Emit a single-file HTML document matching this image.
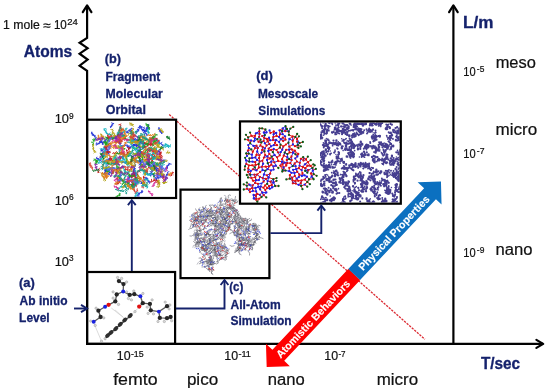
<!DOCTYPE html>
<html><head><meta charset="utf-8"><title>Multiscale simulation diagram</title>
<style>
html,body{margin:0;padding:0;background:#fff;}
body{width:550px;height:390px;overflow:hidden;font-family:"Liberation Sans",sans-serif;}
svg{display:block;font-family:"Liberation Sans",sans-serif;}
</style></head><body>
<svg width="550" height="390" viewBox="0 0 550 390">
<defs>
<clipPath id="clipb"><rect x="88.6" y="121.1" width="86.8" height="75.8"/></clipPath>
<clipPath id="clipd2"><rect x="320" y="122.5" width="79.7" height="80.1"/></clipPath>
</defs>
<rect width="550" height="390" fill="#fff"/>
<g opacity="0.999">
<line x1="169.2" y1="114.4" x2="425" y2="339.3" stroke="#dc2c34" stroke-width="1.3" stroke-dasharray="2.3 1.1"/>
<g fill="none" stroke="#000" stroke-width="2.2" stroke-linejoin="miter">
<path d="M87.1 344 V70.8 L79.6 65.6 L87.6 59.5 L79.6 53.7 L87.6 48.2 L79.6 42.7 L87.1 38 V6"/>
<path d="M82.8 12.2 L87.1 5.4 L91.4 12.2" stroke-width="2.2" stroke-linecap="round" stroke-linejoin="round"/>
<path d="M86 343.9 H543"/>
<path d="M536.4 339.9 L543.2 343.9 L536.4 347.9" stroke-width="2.2" stroke-linecap="round" stroke-linejoin="round"/>
<path d="M453.4 343.9 V6"/>
<path d="M449.1 12.2 L453.4 5.4 L457.7 12.2" stroke-width="2.2" stroke-linecap="round" stroke-linejoin="round"/>
</g>
<g clip-path="url(#clipb)"><g fill="none" stroke-width="0.9"><path d="M118.2 137.0L116.4 136.4L115.7 138.3L113.8 137.5L113.7 139.0L112.4 138.5L112.7 140.1M116.4 136.4l0.4 1.4M113.8 137.5l-1.0 -1.1M112.4 138.5l1.5 0.1M158.4 163.2L159.8 163.6L159.5 162.2L161.3 162.9L160.8 161.1L162.1 162.1L162.5 160.3L163.7 161.7L163.6 159.7L164.7 161.2L165.0 159.3M159.8 163.6l1.3 0.7M161.3 162.9l-1.4 0.5M162.1 162.1l-1.4 -0.5M163.7 161.7l0.2 -1.5M164.7 161.2l-1.5 0.1M149.9 167.2L150.4 169.1L151.6 168.2L152.6 169.4L153.5 168.2L154.2 169.5L155.3 168.3L156.3 169.7L156.9 168.2L158.6 169.1M150.4 169.1l1.2 0.8M152.6 169.4l0.4 -1.4M154.2 169.5l-0.7 1.3M156.3 169.7l1.3 0.8M164.5 179.6L166.3 179.6L165.1 178.5L166.7 177.4L165.4 176.1L167.1 175.5L166.3 174.2L168.0 174.0L167.4 172.2L169.3 171.6M166.3 179.6l-0.5 -1.4M166.7 177.4l-1.5 0.1M167.1 175.5l0.1 -1.5M168.0 174.0l-0.7 1.3M128.0 177.3L129.6 178.0L129.9 176.3L131.3 176.7L131.6 174.8L133.0 175.5L133.6 174.1L135.0 175.1L134.7 173.6L136.3 174.0L135.9 172.2M129.6 178.0l1.1 -1.0M131.3 176.7l0.4 1.4M133.0 175.5l0.9 -1.2M135.0 175.1l-0.5 -1.4M136.3 174.0l1.4 0.5M162.4 146.1L163.2 144.8L161.3 144.7L161.1 142.9L159.6 144.1L159.5 142.3L158.1 142.4L158.3 140.6L156.8 141.1L157.2 139.5L155.6 140.2M163.2 144.8l-0.5 1.4M161.1 142.9l1.3 -0.7M159.5 142.3l-0.7 -1.3M158.3 140.6l-0.3 1.5M157.2 139.5l-1.0 -1.2M155.8 171.8L157.3 171.0L155.6 170.1L157.3 169.4L155.6 168.6L156.8 167.2L155.1 166.5L156.3 165.3M157.3 171.0l-1.2 -0.9M157.3 169.4l-0.1 1.5M156.8 167.2l0.4 1.4M104.1 151.9L103.1 153.4L104.9 154.1L103.2 155.0L104.5 155.6L102.8 155.9L103.9 156.7L102.4 157.3M103.1 153.4l-0.8 -1.2M103.2 155.0l0.6 -1.4M102.8 155.9l-1.0 1.1M149.6 183.8L150.0 182.1L148.3 182.2L148.8 180.7L147.2 180.8L147.9 178.9L146.4 179.5L146.6 177.8L144.8 178.0L145.6 176.8M150.0 182.1l-0.6 -1.4M148.8 180.7l-1.4 0.4M147.9 178.9l-0.8 -1.3M146.6 177.8l-1.3 0.7M154.7 168.2L152.7 168.5L154.0 169.6L152.1 170.2L152.8 171.7L150.9 172.0L152.1 173.2L150.3 173.6L151.4 174.6L150.0 175.5L151.2 176.6M152.7 168.5l0.8 -1.3M152.1 170.2l-0.9 1.2M150.9 172.0l-1.3 -0.8M150.3 173.6l-1.5 0.2M150.0 175.5l1.5 -0.2M131.3 144.6L133.2 145.2L133.9 143.9L134.6 145.5L135.5 143.8L137.1 144.8M133.2 145.2l0.7 -1.3M134.6 145.5l-1.3 0.8M115.9 137.5L115.6 139.1L117.5 138.5L117.5 140.2L119.5 139.9L119.2 141.3L120.6 141.8L120.1 143.4L121.6 143.2M115.6 139.1l0.5 -1.4M117.5 140.2l-0.6 1.4M119.2 141.3l1.4 0.4M120.1 143.4l0.1 1.5M103.3 139.6L101.6 139.8L101.8 141.4L100.3 141.3L101.0 142.7L99.5 142.0L99.8 143.7L98.0 143.0L97.9 144.5L96.2 143.7L96.3 145.6M101.6 139.8l-0.4 -1.5M100.3 141.3l0.5 -1.4M99.5 142.0l0.5 -1.4M98.0 143.0l0.7 1.3M96.2 143.7l0.6 -1.4M151.9 151.2L151.0 149.6L149.6 151.0L149.8 149.5L148.5 150.5L147.8 148.8L147.1 150.4L146.5 148.9M151.0 149.6l-1.2 0.9M149.8 149.5l0.0 -1.5M147.8 148.8l1.5 0.0M109.7 175.1L109.1 173.5L107.9 174.6L106.7 173.1L105.4 174.3L105.1 172.8L103.9 174.3M109.1 173.5l-1.3 0.8M106.7 173.1l-1.2 0.9M105.1 172.8l1.1 -1.0M142.6 181.6L142.4 183.1L143.6 182.3L143.1 183.8L144.6 183.4L143.8 184.9M142.4 183.1l-1.4 0.5M143.1 183.8l0.6 -1.4M155.6 180.7L156.5 179.1L154.8 178.5L155.8 177.5L154.3 177.0L154.9 175.2L153.2 175.8L153.5 174.0L152.0 174.7L151.7 173.0M156.5 179.1l-0.0 1.5M155.8 177.5l1.1 1.0M154.9 175.2l-1.0 1.2M153.5 174.0l-1.2 -0.9M136.4 179.1L136.4 180.5L137.7 179.6L138.4 181.0L140.1 180.1L139.8 181.5L141.5 181.7L141.7 183.3L142.8 182.0L142.2 183.8L144.0 183.4M136.4 180.5l0.8 1.3M138.4 181.0l-1.5 -0.3M139.8 181.5l-1.3 0.8M141.7 183.3l-1.5 -0.1M142.2 183.8l-0.3 -1.5M123.0 160.8L123.0 162.4L124.4 161.7L124.8 163.1L125.9 161.9L126.8 163.3L128.3 162.1L128.5 163.8L130.3 163.1M123.0 162.4l-1.5 0.1M124.8 163.1l1.3 0.8M126.8 163.3l1.2 0.9M128.5 163.8l1.5 -0.3M144.8 127.0L143.4 127.8L144.8 128.5L143.5 129.9L145.0 130.6L144.0 132.2L145.3 131.8L144.9 133.3L146.7 133.5L146.6 135.2L148.1 134.7M143.4 127.8l-0.9 -1.2M143.5 129.9l1.2 0.9M144.0 132.2l-1.1 1.0M144.9 133.3l-0.2 1.5M146.6 135.2l-1.2 1.0M141.0 126.1L139.1 126.2L140.7 127.4L139.0 127.1L140.0 128.6L138.4 129.3L138.9 131.1L137.2 131.0L137.1 132.6L135.7 131.4M139.1 126.2l1.5 -0.4M139.0 127.1l-1.3 0.8M138.4 129.3l-1.5 0.4M137.2 131.0l1.4 -0.6M136.1 164.6L134.5 165.1L135.4 166.5L134.1 167.4L135.5 168.5L133.7 168.6L135.1 169.9L133.2 170.0L134.8 170.9L133.2 172.1L134.6 173.4M134.5 165.1l1.4 0.6M134.1 167.4l-0.7 -1.3M133.7 168.6l-0.1 1.5M133.2 170.0l0.3 1.5M133.2 172.1l-0.5 1.4M103.5 173.6L105.4 173.2L104.4 172.1L105.8 171.9L104.8 170.9L106.6 170.1L105.3 168.6L106.7 168.5L105.7 166.9L106.9 165.9M105.4 173.2l-0.8 1.2M105.8 171.9l0.8 -1.2M106.6 170.1l-1.5 -0.1M106.7 168.5l-1.5 0.3M135.1 181.5L136.6 180.4L135.2 179.9L136.3 178.8L134.6 178.2L136.4 177.4L135.3 176.4L136.5 175.6L134.9 175.1M136.6 180.4l-0.1 1.5M136.3 178.8l0.2 -1.5M136.4 177.4l-1.4 0.5M136.5 175.6l0.9 1.2M123.4 159.6L123.5 157.7L122.1 158.6L122.3 157.0L120.6 157.3L120.9 156.0M123.5 157.7l-1.5 0.2M122.3 157.0l1.4 -0.5M163.3 174.6L162.0 173.8L162.8 175.5L161.0 175.2L161.5 176.6L160.0 176.5L160.2 178.1L158.3 177.4L158.4 178.9L157.0 177.6L156.3 179.5M162.0 173.8l-1.4 0.5M161.0 175.2l-1.0 -1.1M160.0 176.5l0.4 -1.5M158.3 177.4l-1.3 -0.8M157.0 177.6l1.4 -0.5M134.5 175.8L135.9 174.5L134.2 174.4L135.2 172.9L133.7 172.9L133.8 171.5L132.5 172.0L133.4 170.9M135.9 174.5l-1.0 1.2M135.2 172.9l-0.5 1.4M133.8 171.5l1.4 0.6M143.7 163.6L142.4 162.1L141.8 163.4L141.3 161.5L140.1 162.3L139.2 160.8L138.3 161.9L137.9 160.5L137.1 161.9L136.8 160.5M142.4 162.1l0.2 -1.5M141.3 161.5l-0.1 -1.5M139.2 160.8l-0.8 1.3M137.9 160.5l-1.5 0.1M130.8 134.3L132.2 134.8L132.0 132.9L133.0 133.9L132.9 132.3L134.3 132.1M132.2 134.8l0.4 1.5M133.0 133.9l-0.6 1.4M139.3 142.4L139.3 140.6L138.3 142.0L137.2 140.8L136.3 142.1L136.5 140.2L135.0 141.5L134.8 139.7L133.5 140.9L133.3 139.1L132.2 140.4M139.3 140.6l0.9 -1.2M137.2 140.8l1.1 -1.0M136.5 140.2l1.4 -0.4M134.8 139.7l1.4 0.6M133.3 139.1l-1.2 -0.9M128.9 146.7L129.4 148.6L129.6 147.1L131.0 147.9L130.6 146.3L132.2 146.8L132.1 145.0L133.4 146.2L133.7 144.5L135.5 145.5M129.4 148.6l-1.5 0.1M131.0 147.9l-1.5 0.3M132.2 146.8l1.5 -0.3M133.4 146.2l0.9 1.2M159.8 151.7L158.6 150.5L157.7 152.2L156.7 150.9L155.6 152.2L154.9 150.8M158.6 150.5l-0.1 1.5M156.7 150.9l1.3 0.7M118.3 146.2L119.8 147.2L120.1 145.8L121.4 146.7L122.1 145.3L122.8 146.8L123.2 145.3L124.8 145.9M119.8 147.2l0.2 1.5M121.4 146.7l1.4 0.6M122.8 146.8l-1.2 -0.9M101.9 142.3L103.0 143.5L103.0 141.8L104.9 142.0L104.3 140.3L106.1 140.9L105.3 139.2L107.3 139.3L106.9 137.5L108.6 138.2L109.2 136.5M103.0 143.5l-0.8 1.3M104.9 142.0l0.9 1.2M106.1 140.9l-1.0 1.1M107.3 139.3l-0.0 -1.5M108.6 138.2l-0.7 -1.3M123.1 133.6L121.8 132.6L121.5 134.5L119.7 133.7L120.1 135.4L118.4 134.7L119.1 136.0L117.6 135.0L117.8 136.4M121.8 132.6l1.0 -1.1M119.7 133.7l-1.3 0.8M118.4 134.7l-0.1 -1.5M117.6 135.0l-0.5 -1.4M103.9 162.4L103.0 160.9L101.3 161.7L100.7 160.0L99.4 160.9L99.2 158.9L97.8 160.0L97.9 158.5L96.2 158.3L97.1 156.8M103.0 160.9l1.4 0.6M100.7 160.0l-1.5 0.3M99.2 158.9l-1.4 -0.5M97.9 158.5l-1.5 0.3M114.1 123.6L112.6 123.3L112.8 125.2L111.2 125.1L111.8 126.7L110.3 126.7L110.8 128.1M112.6 123.3l-1.4 -0.6M111.2 125.1l1.5 -0.3M110.3 126.7l1.4 -0.4M106.4 166.0L107.6 165.1L106.5 164.1L107.7 162.7L106.2 162.2L107.0 161.0L105.1 160.5L106.5 159.2M107.6 165.1l1.2 -0.9M107.7 162.7l-1.5 0.0M107.0 161.0l1.1 -1.0M145.6 144.9L143.9 145.2L144.8 146.8L143.3 146.7L144.1 147.9L142.6 147.6M143.9 145.2l0.1 1.5M143.3 146.7l0.3 1.5M130.2 175.2L128.8 175.8L129.6 177.0L128.3 177.8L129.6 179.0L127.6 179.4L128.9 180.6L127.3 181.2L129.0 181.4L127.6 182.4L129.1 183.5M128.8 175.8l-1.4 0.6M128.3 177.8l-0.1 -1.5M127.6 179.4l1.2 -0.9M127.3 181.2l-1.4 0.4M127.6 182.4l-0.4 -1.4M161.9 134.0L162.0 132.5L160.3 132.4L161.1 131.1L159.2 131.2L160.1 129.9L158.3 129.3L159.6 128.0L158.0 127.8M162.0 132.5l-0.6 1.4M161.1 131.1l-1.5 -0.1M160.1 129.9l0.9 1.2M159.6 128.0l-1.2 0.9M145.5 144.7L145.3 143.2L143.7 144.0L144.2 142.2L142.6 143.1L142.8 141.4L141.7 142.3L141.1 141.0M145.3 143.2l1.4 0.6M144.2 142.2l-0.9 1.2M142.8 141.4l0.2 -1.5M140.7 153.2L141.4 151.3L140.1 150.5L141.4 149.1L140.0 148.7L140.7 147.4L139.0 148.4L139.7 146.6L138.3 147.3L138.9 145.9M141.4 151.3l1.0 1.1M141.4 149.1l-0.9 1.2M140.7 147.4l-1.0 -1.1M139.7 146.6l-0.9 1.2M106.3 147.8L105.7 149.4L107.6 149.1L106.8 150.4L108.4 150.6L107.3 151.5L109.0 152.1L108.0 153.6L109.6 153.8M105.7 149.4l-0.1 1.5M106.8 150.4l0.8 1.2M107.3 151.5l0.4 1.5M108.0 153.6l1.2 0.9M150.1 128.4L148.5 127.5L148.1 129.1L146.7 128.6L147.6 130.1L146.2 129.9L146.8 131.6L145.2 131.8M148.5 127.5l-0.2 1.5M146.7 128.6l-1.2 0.9M146.2 129.9l0.4 1.5M103.8 169.5L105.0 170.5L106.1 169.6L106.3 171.0L107.7 170.6L107.4 172.3L109.0 171.4L109.4 173.2L110.4 171.9L111.2 173.4M105.0 170.5l0.7 1.3M106.3 171.0l-1.5 0.1M107.4 172.3l0.7 1.3M109.4 173.2l0.2 -1.5M131.5 138.2L132.5 139.5L133.9 138.3L134.5 139.6L135.7 138.5L136.1 139.9L137.7 139.3L137.3 141.0L138.8 141.3L138.3 142.7M132.5 139.5l1.5 -0.2M134.5 139.6l0.6 -1.4M136.1 139.9l-0.6 1.4M137.3 141.0l-0.8 1.3M91.8 131.6L91.3 133.3L92.6 132.8L92.1 134.3L93.6 134.2L93.3 135.7L95.1 135.2L94.6 137.1L96.4 137.3L95.4 138.7L97.3 139.2M91.3 133.3l1.2 1.0M92.1 134.3l0.3 1.5M93.3 135.7l-0.1 -1.5M94.6 137.1l0.6 -1.4M95.4 138.7l-0.2 1.5M106.2 159.8L107.7 160.5L107.9 158.7L109.2 159.3L109.5 157.8L110.3 159.0M107.7 160.5l0.8 -1.3M109.2 159.3l1.3 0.8M101.1 140.9L100.8 142.5L102.2 141.4L101.9 142.8L103.3 142.4L102.0 143.8L103.6 144.6M100.8 142.5l0.7 -1.3M101.9 142.8l-1.2 -0.9M102.0 143.8l1.1 -1.0M136.7 195.9L138.1 196.0L137.5 194.7L139.0 194.8L138.2 193.0L139.6 194.0L139.8 192.5L141.6 192.8L141.4 190.9L142.7 191.5L141.8 190.0M138.1 196.0l1.5 0.0M139.0 194.8l0.6 -1.4M139.6 194.0l-0.8 -1.3M141.6 192.8l1.2 -0.9M142.7 191.5l-0.8 1.3M140.9 158.6L139.5 159.9L141.0 161.1L139.6 162.3L141.0 163.4L139.5 164.0L141.3 164.6L140.9 166.0L142.2 165.4M139.5 159.9l-0.7 1.3M139.6 162.3l1.4 -0.5M139.5 164.0l-0.5 1.4M140.9 166.0l-1.4 0.6M148.1 154.4L146.7 155.1L148.2 155.4L147.3 156.5L149.1 156.4L148.0 158.0L149.6 157.4L149.5 158.9L150.9 158.1M146.7 155.1l-0.0 1.5M147.3 156.5l-0.3 -1.5M148.0 158.0l-1.5 0.3M149.5 158.9l1.5 0.4M148.8 165.7L149.4 167.1L150.1 165.5L151.2 166.8L151.9 165.5L152.7 166.8L153.8 165.7L154.2 167.4L155.1 166.2L155.6 167.5M149.4 167.1l0.8 -1.2M151.2 166.8l-1.4 0.6M152.7 166.8l1.5 -0.3M154.2 167.4l-1.0 1.1M135.8 158.3L134.7 159.2L136.4 160.2L135.2 161.5L136.6 162.2L135.1 162.9M134.7 159.2l0.3 1.5M135.2 161.5l-0.9 1.2M114.4 169.6L116.3 169.9L115.7 168.5L117.2 169.5L117.6 167.7L118.6 169.0L119.3 167.6M116.3 169.9l0.6 1.4M117.2 169.5l-0.4 1.4M118.6 169.0l-0.8 1.2M108.0 146.9L106.0 147.0L106.0 148.9L104.2 148.2L104.0 150.1L102.2 149.7L102.2 151.5L101.2 149.9L100.8 151.5M106.0 147.0l1.4 0.4M104.2 148.2l1.4 -0.6M102.2 149.7l-0.4 1.5M101.2 149.9l0.1 -1.5M143.0 145.3L143.3 143.5L141.8 144.2L142.2 142.8L140.4 143.3L140.5 141.8L138.8 142.0M143.3 143.5l0.1 1.5M142.2 142.8l0.3 -1.5M140.5 141.8l1.2 1.0M145.8 131.8L145.3 130.5L143.9 131.7L144.0 130.2L142.3 131.1L142.9 129.4L141.3 129.8L141.9 128.1L140.4 128.0L141.7 127.3L140.3 126.3M145.3 130.5l1.4 -0.4M144.0 130.2l-0.8 -1.3M142.9 129.4l0.9 1.2M141.9 128.1l-0.1 -1.5M141.7 127.3l-0.8 -1.3M125.5 132.8L127.0 132.7L126.6 131.2L127.9 131.9L128.3 130.1L129.6 131.0L129.6 129.4L131.0 130.1L131.0 128.2L132.5 128.6M127.0 132.7l1.5 -0.3M127.9 131.9l0.5 1.4M129.6 131.0l1.1 -1.0M131.0 130.1l0.7 1.3M129.2 148.2L129.0 146.7L127.6 147.2L128.1 145.8L126.9 146.6L126.8 144.7L125.6 145.9L125.3 144.3M129.0 146.7l0.1 -1.5M128.1 145.8l-0.6 1.4M126.8 144.7l1.2 0.9M136.8 148.8L137.2 150.3L138.4 149.4L138.3 151.1L139.7 150.1L139.1 151.7L140.6 151.4L140.6 152.8L141.8 152.0M137.2 150.3l1.1 1.1M138.3 151.1l1.3 0.8M139.1 151.7l1.4 -0.6M140.6 152.8l-1.1 1.0M135.6 146.5L137.0 146.7L136.4 145.3L138.0 145.2L137.6 143.7L138.9 144.5L139.5 142.6M137.0 146.7l-0.9 -1.2M138.0 145.2l0.3 -1.5M138.9 144.5l-1.2 0.9M145.8 128.9L147.4 128.9L146.3 127.5L148.2 127.6L147.5 126.2L148.9 125.7L147.4 125.0L149.3 124.3M147.4 128.9l-0.9 1.2M148.2 127.6l-0.3 -1.5M148.9 125.7l-0.5 1.4M164.6 168.4L166.4 169.2L165.9 167.5L167.3 167.9L166.0 166.8L167.8 167.0L166.8 165.5L168.7 165.6L168.2 163.9L170.1 164.0L168.9 162.8M166.4 169.2l1.3 -0.7M167.3 167.9l-1.5 -0.0M167.8 167.0l-0.9 1.2M168.7 165.6l0.5 -1.4M170.1 164.0l1.5 0.2M162.1 167.7L160.6 167.2L160.7 168.7L159.3 167.3L158.8 168.9L157.3 168.2M160.6 167.2l-1.5 0.1M159.3 167.3l0.2 -1.5M125.3 180.6L125.8 182.5L127.5 181.9L127.2 183.6L129.1 183.3L129.3 185.2L130.9 184.2L131.4 185.9L132.8 184.9L133.1 186.3M125.8 182.5l-1.5 -0.2M127.2 183.6l0.4 1.4M129.3 185.2l0.6 1.4M131.4 185.9l1.5 -0.2M140.2 146.9L139.7 145.6L138.8 146.9L137.9 145.1L136.7 146.6L136.0 145.0L134.2 145.7L134.8 144.0M139.7 145.6l-1.4 0.6M137.9 145.1l0.9 -1.2M136.0 145.0l0.3 -1.5" stroke="#2233d6"/><path d="M162.7 180.4L163.9 179.6L162.6 178.2L164.5 177.9L162.8 177.0L164.2 176.1L162.3 176.2L162.6 174.6L161.1 174.5L161.6 173.1M163.9 179.6l0.7 1.3M164.5 177.9l-1.4 -0.5M164.2 176.1l-1.4 0.5M162.6 174.6l0.5 1.4M140.2 139.1L139.5 140.3L141.1 139.6L141.4 141.0L143.2 140.7L142.7 142.1M139.5 140.3l0.3 -1.5M141.4 141.0l-1.5 -0.4M120.6 154.1L119.8 152.7L118.3 154.0L117.4 152.4L116.3 153.8L115.2 152.6L114.5 154.0L113.5 152.6L112.4 153.9M119.8 152.7l0.5 1.4M117.4 152.4l-1.1 -1.0M115.2 152.6l1.3 -0.7M113.5 152.6l1.0 1.1M143.3 186.1L144.3 184.9L142.6 184.7L144.0 183.6L142.7 183.1L144.4 182.5L142.9 181.7L144.1 180.5M144.3 184.9l1.0 1.1M144.0 183.6l1.3 -0.8M144.4 182.5l-1.0 -1.1M121.3 123.8L120.0 124.6L121.2 126.1L119.9 126.9L121.1 127.7L119.8 128.5L121.1 129.8M120.0 124.6l-1.5 0.2M119.9 126.9l0.4 1.5M119.8 128.5l-0.8 1.2M148.7 138.9L149.6 140.1L150.9 138.7L151.7 140.1L152.6 138.8L153.7 139.6L154.7 138.0L155.8 139.3L156.8 137.9L157.5 139.4M149.6 140.1l-1.5 0.1M151.7 140.1l0.5 -1.4M153.7 139.6l1.3 0.7M155.8 139.3l-1.1 -1.0M133.8 157.0L132.5 158.0L134.0 158.4L132.3 158.7L133.4 160.3L131.4 160.6L132.2 161.8L130.7 161.5L131.8 163.1L130.1 162.5L131.4 163.9M132.5 158.0l1.2 -0.8M132.3 158.7l-1.4 0.5M131.4 160.6l0.0 1.5M130.7 161.5l-1.3 0.7M130.1 162.5l1.1 -1.1M155.2 152.2L156.6 151.7L155.1 151.0L156.2 149.5L154.8 149.4L155.5 148.2L153.9 147.8L154.7 146.4M156.6 151.7l1.5 0.2M156.2 149.5l-0.9 1.2M155.5 148.2l1.2 -0.9M126.0 138.6L124.5 137.3L124.7 138.8L122.9 138.8L122.9 140.2L121.0 139.8L121.8 141.4L120.1 141.4L121.2 142.4L119.8 143.4M124.5 137.3l1.5 -0.2M122.9 138.8l1.5 0.0M121.0 139.8l-1.4 -0.4M120.1 141.4l0.9 -1.2M155.1 169.2L154.5 167.9L153.2 168.4L152.8 166.4L151.9 167.8L151.4 166.3L150.9 168.0L149.5 166.5L148.8 168.0L148.7 166.5M154.5 167.9l0.7 1.3M152.8 166.4l1.1 1.0M151.4 166.3l1.3 0.7M149.5 166.5l-0.9 1.2M112.6 140.3L112.6 138.7L111.1 139.2L110.7 137.4L109.5 138.6L108.8 137.3L107.7 138.5M112.6 138.7l-0.0 -1.5M110.7 137.4l-1.5 0.1M108.8 137.3l1.5 0.1M124.1 169.1L125.3 170.4L126.0 168.7L127.1 170.2L128.1 168.6L129.4 170.0L130.7 168.6L131.4 170.1L132.1 168.8M125.3 170.4l-0.1 -1.5M127.1 170.2l1.4 0.7M129.4 170.0l1.1 1.0M131.4 170.1l0.8 -1.3M134.5 180.2L135.8 178.7L134.7 177.7L135.9 177.0L134.3 176.6L134.9 175.2L133.2 175.0L134.2 173.7L132.6 174.2L133.2 172.7M135.8 178.7l0.0 1.5M135.9 177.0l0.8 1.2M134.9 175.2l1.5 -0.1M134.2 173.7l1.0 -1.2M144.0 175.6L143.1 177.0L144.6 177.4L143.2 178.0L144.6 179.0L143.6 180.2L145.2 180.2L144.8 181.9M143.1 177.0l0.8 1.3M143.2 178.0l1.0 -1.2M143.6 180.2l0.9 -1.2M119.0 159.4L120.6 158.9L119.9 157.6L121.2 158.2L121.2 156.8L123.0 156.9L122.7 155.4L124.4 155.9L124.2 154.5L125.8 154.2M120.6 158.9l-1.0 1.1M121.2 158.2l-1.5 0.3M123.0 156.9l-1.1 -1.1M124.4 155.9l-0.6 1.4M147.3 154.9L148.1 153.7L146.6 152.6L148.3 152.1L147.1 151.2L148.9 150.5M148.1 153.7l1.3 -0.7M148.3 152.1l1.3 -0.8M112.3 162.8L112.8 161.3L111.3 161.3L112.2 159.8L110.3 159.1L111.5 158.2L109.6 158.1L110.8 157.0L109.4 156.6M112.8 161.3l-0.8 -1.3M112.2 159.8l0.9 1.2M111.5 158.2l-0.6 1.4M110.8 157.0l1.0 -1.1M154.3 151.0L153.1 152.3L154.8 153.3L153.5 154.5L154.9 155.6L153.5 156.3L154.5 157.3L152.7 157.8L153.9 159.1L152.3 159.2M153.1 152.3l0.1 -1.5M153.5 154.5l-1.5 0.1M153.5 156.3l-1.5 -0.3M152.7 157.8l-1.1 1.0M159.5 160.8L160.9 160.2L159.4 159.4L160.9 158.9L160.1 157.5L161.9 157.2L160.3 156.6L161.8 155.5L160.1 154.7L161.0 153.1L159.0 153.0M160.9 160.2l-1.4 -0.6M160.9 158.9l1.2 0.9M161.9 157.2l0.2 1.5M161.8 155.5l0.9 1.2M161.0 153.1l-0.9 -1.2M136.8 171.7L138.2 172.2L138.1 170.5L139.5 171.4L139.4 169.7L141.0 170.6M138.2 172.2l-1.4 -0.6M139.5 171.4l0.9 1.2M157.3 157.1L156.3 155.7L155.4 157.2L153.8 156.5L153.7 158.4L152.3 158.0L152.0 159.9L150.7 158.8M156.3 155.7l0.8 -1.3M153.8 156.5l0.7 -1.3M152.3 158.0l0.5 -1.4M119.6 161.9L118.4 160.9L117.4 162.4L115.9 161.6L115.5 163.0L114.3 161.8M118.4 160.9l1.4 -0.4M115.9 161.6l-1.4 0.5M104.5 145.8L104.0 147.4L105.6 147.3L105.5 149.0L107.3 148.7L107.6 150.6M104.0 147.4l1.4 -0.5M105.5 149.0l1.5 0.1M133.8 134.1L133.2 132.3L132.1 133.2L131.6 131.6L130.4 132.5L130.1 130.8M133.2 132.3l0.0 1.5M131.6 131.6l-0.1 -1.5M151.1 145.7L151.0 144.3L150.3 145.9L149.8 144.0L148.4 144.7L148.2 143.1L146.7 144.3L145.6 142.8L144.7 143.9L144.2 142.4M151.0 144.3l1.5 0.1M149.8 144.0l1.2 -0.9M148.2 143.1l0.1 1.5M145.6 142.8l-1.4 -0.4M134.3 191.5L134.9 190.0L133.0 189.8L134.2 188.6L132.4 187.7L133.8 187.0L132.2 186.3L133.7 185.9M134.9 190.0l-1.5 -0.2M134.2 188.6l-1.2 0.8M133.8 187.0l1.1 1.0M117.3 177.4L116.3 178.7L118.0 178.8L117.4 180.1L118.9 181.2L117.2 182.3L118.3 183.7L116.3 183.8L117.4 185.1M116.3 178.7l1.5 0.1M117.4 180.1l1.4 -0.6M117.2 182.3l0.9 -1.2M116.3 183.8l-1.5 0.0M108.2 152.2L106.7 152.5L108.0 153.0L106.1 153.4L107.1 154.4L105.9 155.5M106.7 152.5l1.3 -0.7M106.1 153.4l0.4 1.4M160.9 169.8L162.2 168.7L160.5 168.6L161.7 167.1L160.3 167.3L160.5 165.4M162.2 168.7l0.2 1.5M161.7 167.1l0.4 -1.4M136.5 173.0L135.2 171.8L135.1 173.5L133.2 173.5L134.1 175.1L132.1 175.3L132.6 176.9L131.0 176.2L131.8 177.9M135.2 171.8l-0.1 1.5M133.2 173.5l1.0 1.1M132.1 175.3l0.5 -1.4M131.0 176.2l1.2 -0.9M149.1 143.8L147.8 144.4L148.3 146.1L147.0 145.7L147.0 147.3L145.4 146.2L145.0 148.0L143.7 147.0L142.8 148.5L141.6 147.5M147.8 144.4l-1.5 0.3M147.0 145.7l1.4 -0.5M145.4 146.2l-0.2 1.5M143.7 147.0l0.2 1.5M138.2 190.8L137.0 189.9L137.2 191.6L135.7 191.9L136.4 193.4L134.5 193.0M137.0 189.9l0.3 -1.5M135.7 191.9l-1.4 -0.5M137.5 172.5L136.3 173.5L138.1 173.9L137.2 175.4L138.9 176.1L137.6 177.4L138.6 178.7L136.8 178.3L137.0 180.2L135.1 179.6L135.1 181.6M136.3 173.5l0.7 1.3M137.2 175.4l0.5 -1.4M137.6 177.4l0.7 1.3M136.8 178.3l-0.9 1.2M135.1 179.6l0.4 -1.5M155.9 180.4L154.7 179.3L155.0 180.8L153.7 180.0L153.0 181.7L151.5 180.4L151.3 182.3L149.9 181.5M154.7 179.3l-1.4 -0.4M153.7 180.0l1.4 0.6M151.5 180.4l0.0 -1.5M145.1 158.5L145.5 160.2L146.1 158.8L146.9 160.5L147.2 159.0L148.5 160.2L149.0 158.4L150.5 159.3L151.3 157.9L152.6 159.0L153.9 157.6M145.5 160.2l-1.5 0.1M146.9 160.5l-0.9 1.2M148.5 160.2l1.1 1.0M150.5 159.3l-1.4 -0.5M152.6 159.0l0.8 -1.2M148.0 171.2L146.5 170.3L146.9 171.9L145.3 171.5L145.9 173.3L144.1 172.9M146.5 170.3l-0.6 -1.4M145.3 171.5l1.1 -1.0M152.2 146.4L153.4 144.8L151.5 144.9L152.0 143.5L150.3 143.2L150.9 141.7M153.4 144.8l-1.3 -0.7M152.0 143.5l0.1 -1.5M157.3 151.0L156.4 149.4L155.5 150.6L154.3 149.4L154.4 151.0L152.9 150.3L153.1 152.0L151.7 151.2M156.4 149.4l-1.5 -0.1M154.3 149.4l1.4 -0.5M152.9 150.3l-1.2 -0.9M141.2 187.0L143.2 186.9L142.6 185.1L144.0 185.1L143.2 183.8L145.0 183.1M143.2 186.9l0.1 1.5M144.0 185.1l0.1 -1.5M103.0 150.8L104.3 152.3L104.9 150.9L105.4 152.5L106.3 151.1L107.1 152.7L107.5 151.2L108.9 152.5L108.9 151.0L109.4 152.3L110.5 151.3M104.3 152.3l-0.5 1.4M105.4 152.5l-1.5 0.0M107.1 152.7l-1.4 -0.5M108.9 152.5l0.3 -1.5M109.4 152.3l1.4 0.4M144.1 158.4L144.8 156.9L143.3 156.5L143.6 155.0L141.9 154.9L142.5 153.4L140.9 153.7L141.8 152.0M144.8 156.9l-0.8 1.3M143.6 155.0l1.3 -0.7M142.5 153.4l1.4 0.6M170.3 176.1L171.9 175.3L170.9 173.6L172.3 173.8L172.7 171.9L174.0 173.2M171.9 175.3l-1.5 -0.1M172.3 173.8l1.1 1.0M152.4 162.5L153.1 161.3L151.3 161.1L152.5 159.6L151.2 158.8L152.9 157.9L151.4 157.2L152.8 156.0L151.2 154.9L152.7 153.6M153.1 161.3l-1.1 -1.0M152.5 159.6l-0.3 1.5M152.9 157.9l0.2 -1.5M152.8 156.0l-1.0 -1.1M106.4 160.5L108.0 161.7L108.3 160.0L109.7 160.3L109.8 158.3L111.1 159.6L112.0 158.2M108.0 161.7l1.2 0.9M109.7 160.3l-0.7 1.3M111.1 159.6l-0.8 1.3M120.3 138.5L120.3 136.8L118.4 136.7L119.4 135.4L117.5 135.7L118.4 134.2L117.0 134.7M120.3 136.8l0.7 1.3M119.4 135.4l1.5 0.3M118.4 134.2l-0.9 1.2M132.1 177.5L133.3 176.7L132.0 175.4L133.9 175.1L132.8 173.8L134.7 173.6L133.2 172.3L134.9 171.9L133.6 171.0M133.3 176.7l1.4 -0.6M133.9 175.1l-0.4 1.5M134.7 173.6l-0.7 1.3M134.9 171.9l-0.8 -1.3M157.1 179.5L156.3 181.0L158.0 180.6L157.2 182.1L159.0 181.8L158.2 183.6L159.6 183.6M156.3 181.0l-1.2 1.0M157.2 182.1l-1.5 0.3M158.2 183.6l-1.2 0.9M148.5 144.6L150.4 144.2L149.4 142.6L151.2 142.4L150.0 141.0L151.6 140.8L151.2 139.3L152.6 138.9L152.0 137.3L153.5 137.3L152.5 136.2M150.4 144.2l1.0 1.1M151.2 142.4l-0.9 -1.2M151.6 140.8l-1.4 0.5M152.6 138.9l0.4 -1.4M153.5 137.3l0.9 -1.2M151.6 166.6L150.9 167.9L152.5 167.7L151.8 169.4L153.5 169.0L152.7 170.7L153.8 169.8M150.9 167.9l-0.5 1.4M151.8 169.4l0.1 1.5M152.7 170.7l-1.1 1.0M161.8 152.4L160.1 152.5L161.3 153.7L159.6 153.5L160.6 154.8L159.3 154.3L160.2 156.0L158.5 156.8L159.1 158.3L157.4 158.1M160.1 152.5l1.4 -0.6M159.6 153.5l1.2 -0.9M159.3 154.3l-0.4 1.5M158.5 156.8l1.5 -0.2M126.3 153.0L128.2 152.7L126.7 151.8L127.5 150.6L126.0 150.3L127.1 149.5M128.2 152.7l0.1 1.5M127.5 150.6l-1.5 -0.2M115.8 173.9L117.5 173.3L116.3 172.3L117.7 171.9L116.1 171.5L117.4 170.2L116.0 169.4L117.3 168.5M117.5 173.3l0.3 -1.5M117.7 171.9l1.5 0.3M117.4 170.2l-1.3 -0.7M135.0 179.4L133.5 179.6L134.4 180.9L132.9 181.7L134.2 182.5L132.7 183.8L134.1 184.4L132.8 185.7L134.5 186.2M133.5 179.6l0.0 1.5M132.9 181.7l0.9 -1.2M132.7 183.8l0.6 1.4M132.8 185.7l-1.4 -0.5M129.7 147.2L128.1 148.2L129.9 148.6L128.5 150.0L129.8 151.2L128.3 152.0L129.5 152.9L127.6 153.0L128.6 154.3L126.9 153.8L127.6 155.1M128.1 148.2l-1.0 -1.1M128.5 150.0l0.1 -1.5M128.3 152.0l-1.3 0.8M127.6 153.0l1.5 0.2M126.9 153.8l-0.9 1.2M116.8 182.9L118.0 184.0L118.1 182.0L119.8 182.6L119.5 180.8L121.3 180.8M118.0 184.0l1.3 -0.8M119.8 182.6l1.1 1.0M109.9 143.6L108.4 144.0L108.9 145.6L107.2 145.4L108.0 146.7L106.7 146.0L106.5 147.5L105.6 146.3M108.4 144.0l1.5 -0.3M107.2 145.4l-1.2 -0.9M106.7 146.0l-1.5 0.4M118.4 130.3L119.7 131.7L119.5 129.9L121.2 130.7L121.6 128.8L122.7 130.1L123.6 128.5M119.7 131.7l0.9 1.2M121.2 130.7l1.4 -0.6M122.7 130.1l1.4 -0.5M136.2 187.1L136.2 185.2L134.6 186.2L134.8 184.6L133.1 185.4L133.6 183.8L132.0 184.3L132.5 182.9M136.2 185.2l1.4 -0.5M134.8 184.6l-0.5 -1.4M133.6 183.8l1.1 1.0M108.6 164.6L108.8 162.9L107.2 162.8L108.3 161.8L106.5 162.4L107.4 160.7M108.8 162.9l-1.5 0.1M108.3 161.8l0.8 1.2M99.4 168.4L98.4 169.4L99.6 170.1L98.1 171.1L99.2 172.3L97.8 172.7M98.4 169.4l1.1 -1.1M98.1 171.1l-0.4 1.4M131.5 138.3L132.9 138.1L131.8 136.9L133.3 137.5L132.7 135.7L134.0 136.6L133.3 135.1M132.9 138.1l0.7 1.3M133.3 137.5l-1.2 0.9M134.0 136.6l1.2 0.9M108.1 138.7L109.5 138.2L107.7 137.9L108.8 136.7L107.0 135.9L108.4 135.2L107.4 133.9L109.3 134.3M109.5 138.2l-0.6 1.4M108.8 136.7l-1.0 1.1M108.4 135.2l-1.0 1.1M123.6 181.3L123.2 179.8L121.8 181.1L120.6 179.7L119.7 181.3L118.6 179.9L117.7 181.1M123.2 179.8l1.5 0.3M120.6 179.7l-1.5 0.3M118.6 179.9l1.0 1.1" stroke="#c81e1e"/><path d="M98.2 160.5L96.5 161.2L97.6 162.3L95.9 162.4L96.4 164.1L94.8 163.0M96.5 161.2l-0.6 -1.4M95.9 162.4l1.2 -0.9M133.6 178.9L132.0 179.9L133.3 180.9L131.9 181.3L133.3 182.6L131.8 182.4L132.8 183.5L131.3 184.4L132.7 185.6L131.3 185.9L132.6 186.5M132.0 179.9l-1.4 -0.6M131.9 181.3l-0.5 1.4M131.8 182.4l0.4 -1.5M131.3 184.4l1.5 0.2M131.3 185.9l1.0 1.1M111.6 138.4L113.1 139.3L113.2 137.3L114.3 138.5L114.6 136.5L115.8 137.6L116.3 136.0L117.8 136.9M113.1 139.3l-1.5 -0.4M114.3 138.5l0.8 -1.3M115.8 137.6l-1.4 -0.6M153.5 156.2L154.2 158.0L155.4 156.9L155.3 158.5L157.0 157.7L156.7 159.2L158.1 158.6L157.9 160.1L159.6 159.3M154.2 158.0l1.4 0.6M155.3 158.5l-1.4 0.4M156.7 159.2l-1.3 -0.8M157.9 160.1l1.3 -0.8M156.3 150.2L155.4 149.0L154.1 150.4L153.8 148.7L153.0 150.0L152.9 148.4L151.6 149.4L151.1 147.9L149.6 149.1L148.8 147.7L148.3 149.3M155.4 149.0l0.5 1.4M153.8 148.7l1.4 -0.6M152.9 148.4l1.5 -0.0M151.1 147.9l-0.4 -1.4M148.8 147.7l1.4 -0.6M95.4 138.8L93.5 139.2L94.8 140.3L93.1 140.5L94.3 141.6L92.5 142.3L93.9 143.5L92.6 144.1L94.1 144.8M93.5 139.2l1.4 0.5M93.1 140.5l-0.5 -1.4M92.5 142.3l-1.5 -0.2M92.6 144.1l0.1 1.5M108.6 145.5L107.9 143.7L106.7 145.1L106.8 143.4L105.3 144.5L105.7 142.8L104.2 143.3L104.7 142.0L102.9 142.0M107.9 143.7l-0.9 -1.2M106.8 143.4l-0.6 -1.4M105.7 142.8l-0.8 -1.3M104.7 142.0l-1.2 0.9M127.8 164.4L128.6 162.9L126.9 162.8L127.0 161.3L125.5 161.2L127.0 160.3L125.8 158.9L126.7 157.8L125.4 157.0L127.0 156.4L125.3 156.0M128.6 162.9l1.5 -0.0M127.0 161.3l-1.5 0.0M127.0 160.3l0.3 -1.5M126.7 157.8l0.1 1.5M127.0 156.4l0.6 -1.4M123.8 153.2L122.1 152.4L122.3 153.8L121.2 152.8L120.7 154.2L120.0 152.8L119.0 154.3L117.7 152.8L116.8 154.2L115.7 152.8M122.1 152.4l1.5 0.2M121.2 152.8l0.3 1.5M120.0 152.8l-0.8 -1.2M117.7 152.8l0.3 1.5M133.8 152.8L134.1 154.4L135.8 153.9L135.8 155.5L137.5 155.2L137.5 157.1M134.1 154.4l-1.1 1.0M135.8 155.5l-0.0 -1.5M151.6 164.3L151.8 162.7L150.5 163.4L150.6 162.0L149.6 163.2L149.4 161.5L148.1 162.4M151.8 162.7l-0.2 -1.5M150.6 162.0l1.5 0.3M149.4 161.5l-1.0 -1.1M121.1 147.5L121.4 148.9L122.5 147.6L123.8 149.1L124.9 148.2L124.7 149.6M121.4 148.9l0.6 -1.4M123.8 149.1l1.4 -0.6M126.2 185.1L125.3 183.3L124.7 184.7L123.4 183.3L122.3 184.8L121.8 183.5M125.3 183.3l-0.4 1.4M123.4 183.3l-1.3 0.7M152.9 157.0L153.3 158.9L154.6 157.7L155.4 158.9L156.7 157.9L156.9 159.6M153.3 158.9l-0.9 1.2M155.4 158.9l1.3 -0.8M109.5 140.8L107.5 140.5L107.8 142.4L106.3 142.1L107.2 143.4L105.9 142.8L106.8 144.3L105.2 144.3L106.4 145.1L104.7 145.4M107.5 140.5l-1.1 -1.0M106.3 142.1l-0.5 -1.4M105.9 142.8l-0.6 -1.4M105.2 144.3l0.7 -1.3M157.8 135.0L155.9 134.5L155.9 136.0L154.4 135.9L155.3 137.6L153.7 136.5L154.2 138.4L152.6 138.1L153.5 139.6L152.1 139.4M155.9 134.5l-1.2 -0.9M154.4 135.9l-1.5 0.2M153.7 136.5l-1.0 1.1M152.6 138.1l-0.3 -1.5M147.4 148.8L145.8 149.6L147.3 150.7L145.4 150.6L146.1 152.3L144.5 152.4L144.9 154.1L143.4 153.2L143.0 154.9L141.7 153.9M145.8 149.6l-0.6 -1.4M145.4 150.6l-0.5 1.4M144.5 152.4l-0.3 1.5M143.4 153.2l-0.6 -1.4M149.7 137.2L150.4 139.0L151.4 137.7L151.8 139.5L153.3 138.1L153.2 139.5L154.9 139.2L153.8 140.7L155.2 141.0L153.7 141.9M150.4 139.0l-1.4 0.6M151.8 139.5l0.3 1.5M153.2 139.5l-0.9 -1.2M153.8 140.7l-1.1 -1.0M94.1 158.5L94.3 160.0L95.9 159.2L95.8 161.0L97.1 160.1L96.8 161.9L98.4 160.7M94.3 160.0l-0.9 1.2M95.8 161.0l-0.2 1.5M96.8 161.9l-1.1 -1.1M116.5 164.7L117.6 163.6L115.9 163.7L117.1 162.1L115.4 161.7L116.5 160.6L114.8 160.0L116.2 158.8L114.4 158.3L115.8 157.5L114.6 156.3M117.6 163.6l0.8 1.3M117.1 162.1l0.3 1.5M116.5 160.6l1.1 -1.1M116.2 158.8l-0.8 -1.2M115.8 157.5l-1.1 -1.1M154.4 172.5L153.5 173.6L154.9 173.8L153.3 174.7L154.5 175.5L153.3 176.8L154.4 177.7M153.5 173.6l1.2 -0.9M153.3 174.7l-0.8 -1.3M153.3 176.8l1.5 -0.2M117.0 165.0L116.5 166.7L117.7 165.9L117.7 167.6L119.1 166.7L118.8 168.2L120.2 168.6L119.4 170.1L121.1 170.2L120.7 171.9L122.5 171.8M116.5 166.7l0.3 1.5M117.7 167.6l1.4 -0.5M118.8 168.2l1.1 1.0M119.4 170.1l-0.5 1.4M120.7 171.9l-1.3 0.7M117.2 175.2L117.4 176.9L118.7 176.3L118.8 178.0L120.2 177.6L119.9 179.1L121.3 178.7L121.1 180.1L122.7 179.1M117.4 176.9l0.8 1.3M118.8 178.0l0.9 1.2M119.9 179.1l-0.5 -1.4M121.1 180.1l-1.3 0.7M117.2 170.0L117.3 171.8L118.9 171.3L119.4 173.2L120.6 172.0L121.2 173.5L122.0 172.3M117.3 171.8l-1.4 -0.5M119.4 173.2l1.3 -0.8M121.2 173.5l-1.2 1.0M134.7 153.6L136.6 154.3L136.1 152.7L137.6 153.3L137.4 151.4L139.1 151.5M136.6 154.3l-1.5 0.3M137.6 153.3l1.5 -0.0M138.1 148.8L137.1 147.7L136.4 149.3L135.5 147.9L134.5 149.6L134.1 148.0L132.9 148.8L132.9 147.1L131.5 148.0M137.1 147.7l1.5 -0.2M135.5 147.9l1.5 0.1M134.1 148.0l-1.3 -0.8M132.9 147.1l1.4 -0.4M146.0 122.9L146.1 124.6L148.1 124.5L147.6 125.8L149.0 125.4L148.1 126.9L149.8 127.5L148.5 128.3L150.0 128.8L148.7 130.1M146.1 124.6l0.4 1.5M147.6 125.8l1.1 1.1M148.1 126.9l-1.5 -0.2M148.5 128.3l0.4 1.4M146.9 145.7L148.0 144.8L146.9 143.3L148.4 143.3L148.1 141.6L149.8 141.5L148.6 139.9L150.2 139.7M148.0 144.8l-0.8 1.2M148.4 143.3l-1.1 1.0M149.8 141.5l1.5 -0.4M156.8 139.0L155.5 140.2L156.7 140.9L155.3 141.6L156.6 142.6L154.8 142.3L155.7 143.5M155.5 140.2l1.3 0.7M155.3 141.6l-0.1 1.5M154.8 142.3l0.5 1.4M114.2 168.0L112.6 167.3L112.4 168.8L110.7 168.2L111.1 169.6L109.3 169.6L109.7 171.2L108.1 170.5L108.8 172.0L107.1 171.9L108.0 173.0M112.6 167.3l1.3 0.7M110.7 168.2l0.5 1.4M109.3 169.6l-1.5 -0.0M108.1 170.5l1.4 0.6M107.1 171.9l-1.0 -1.1M138.9 142.4L137.7 141.3L136.6 142.9L135.6 141.4L134.9 143.0L133.3 142.5M137.7 141.3l-0.8 1.3M135.6 141.4l-0.5 1.4M110.0 138.9L111.4 138.9L110.7 137.7L112.3 137.2L110.8 136.9L111.6 135.2L109.9 135.1L111.5 134.1M111.4 138.9l-0.5 -1.4M112.3 137.2l0.3 1.5M111.6 135.2l1.0 -1.1M153.5 148.9L153.4 150.8L155.1 150.4L154.7 152.0L156.4 152.1L155.5 153.8M153.4 150.8l-0.7 -1.3M154.7 152.0l-0.6 -1.4M105.7 136.4L105.9 138.0L107.5 137.5L107.3 139.0L108.8 138.9L108.6 140.7L109.7 139.6M105.9 138.0l1.2 -0.9M107.3 139.0l-0.3 -1.5M108.6 140.7l1.3 0.7M151.5 161.0L152.3 162.8L153.6 161.6L153.9 163.2L155.4 162.2L156.0 163.9L157.2 162.3L156.7 164.1L158.5 164.1L158.0 165.5L159.3 166.1M152.3 162.8l-0.9 1.2M153.9 163.2l-0.5 1.4M156.0 163.9l0.6 1.4M156.7 164.1l-1.4 0.4M158.0 165.5l0.8 -1.3M141.5 163.6L141.4 165.2L143.0 164.3L142.7 166.0L144.3 165.2L143.5 166.5L145.3 166.0L145.6 167.5L147.1 166.3M141.4 165.2l-1.5 0.1M142.7 166.0l-0.7 -1.3M143.5 166.5l1.5 -0.0M145.6 167.5l-0.9 -1.2M119.2 175.0L118.8 176.6L120.5 175.9L119.8 177.5L121.7 178.0L120.7 179.7L122.5 179.4L122.3 181.0L123.9 181.2L123.2 182.4L124.9 182.7M118.8 176.6l0.5 -1.4M119.8 177.5l0.2 -1.5M120.7 179.7l0.7 1.3M122.3 181.0l1.0 1.2M123.2 182.4l1.0 -1.1M110.5 173.7L112.3 173.7L112.1 172.2L113.9 172.3L113.4 170.5L115.2 170.0M112.3 173.7l1.3 -0.8M113.9 172.3l-1.3 -0.7M126.4 184.3L128.1 185.2L127.6 183.7L129.1 183.7L128.3 182.4L130.0 182.4M128.1 185.2l-0.8 1.3M129.1 183.7l-1.5 -0.2M123.0 174.6L124.7 175.0L124.4 173.6L125.8 173.4L125.1 171.6L126.5 171.9M124.7 175.0l-1.5 -0.3M125.8 173.4l-1.4 -0.5M154.6 138.5L153.5 139.6L155.2 140.6L153.3 141.1L155.1 141.8L153.2 142.2L154.4 143.8L152.5 144.0L153.9 145.4L152.2 146.1M153.5 139.6l-0.5 -1.4M153.3 141.1l-1.5 0.4M153.2 142.2l1.2 -0.9M152.5 144.0l0.8 -1.3M141.5 149.4L139.7 149.5L140.7 150.9L138.7 150.6L139.1 152.4L137.5 152.2L139.0 153.2L137.4 154.0L138.8 154.9L137.2 155.4L138.3 156.8M139.7 149.5l-0.5 1.4M138.7 150.6l1.4 -0.4M137.5 152.2l0.8 1.3M137.4 154.0l0.9 -1.2M137.2 155.4l0.1 1.5M133.8 176.8L133.4 174.9L132.5 176.5L131.6 175.1L131.2 176.5L130.4 175.3L130.2 177.1L129.0 175.8M133.4 174.9l0.4 1.4M131.6 175.1l0.2 -1.5M130.4 175.3l-0.4 1.4M106.8 172.5L107.4 171.1L106.0 170.6L107.5 169.8L105.8 169.1L107.6 168.5M107.4 171.1l1.2 -0.9M107.5 169.8l1.5 -0.2M149.4 151.2L150.8 151.0L149.7 149.4L151.4 149.3L150.8 147.8L152.4 148.0M150.8 151.0l-1.4 0.6M151.4 149.3l-1.4 0.6M126.7 172.0L127.1 173.5L128.3 172.5L127.9 174.1L129.6 173.9L128.6 175.2L130.1 174.5L129.9 176.3L131.1 175.2M127.1 173.5l1.5 -0.2M127.9 174.1l-1.5 0.3M128.6 175.2l1.4 -0.6M129.9 176.3l-0.8 1.3M115.6 196.6L117.4 197.0L117.1 195.6L119.1 195.8L118.9 194.2L120.0 195.0L119.3 193.2L120.7 193.7M117.4 197.0l-1.4 0.5M119.1 195.8l1.4 -0.5M120.0 195.0l-1.0 1.1M110.8 165.5L111.0 163.8L109.5 164.5L109.3 162.9L107.7 164.0L107.4 162.5L106.2 163.4L105.5 161.7M111.0 163.8l0.6 -1.4M109.3 162.9l-1.4 0.5M107.4 162.5l-1.4 -0.6M141.3 146.3L142.6 147.0L143.1 145.1L144.2 146.4L144.5 144.7L146.4 144.8L145.7 143.0L147.2 143.5M142.6 147.0l-1.1 1.1M144.2 146.4l1.3 0.8M146.4 144.8l1.2 0.8M113.0 158.9L113.4 160.8L114.8 160.1L115.4 161.6L116.7 160.2L116.8 161.8M113.4 160.8l1.4 -0.6M115.4 161.6l-0.4 -1.4M124.4 137.3L124.6 138.8L126.1 138.4L126.6 140.2L127.6 139.0L128.2 140.7L128.9 139.2L129.9 140.8L130.3 138.9L131.5 140.4L132.3 138.8M124.6 138.8l0.8 -1.3M126.6 140.2l0.6 -1.4M128.2 140.7l-1.5 -0.0M129.9 140.8l0.3 -1.5M131.5 140.4l-1.2 -0.9M140.4 153.0L140.0 154.8L141.4 154.4L141.4 156.3L142.7 155.6L142.1 157.4L143.4 157.9L141.9 158.9L142.9 159.9L141.4 160.3L141.9 161.7M140.0 154.8l-1.2 -0.9M141.4 156.3l0.6 1.4M142.1 157.4l1.4 -0.6M141.9 158.9l1.2 0.9M141.4 160.3l1.2 0.8" stroke="#1fa524"/><path d="M156.8 150.0L155.7 148.5L154.9 149.8L153.8 148.5L152.6 149.8L151.9 148.0L150.6 149.4L149.2 148.0L148.5 149.4L147.7 148.1M155.7 148.5l1.5 0.0M153.8 148.5l1.3 0.8M151.9 148.0l-0.8 -1.2M149.2 148.0l-1.2 0.8M109.3 168.3L108.4 166.8L107.1 168.0L106.6 166.6L106.3 168.0L105.0 166.6M108.4 166.8l1.3 -0.8M106.6 166.6l-1.3 -0.8M160.3 169.4L161.7 168.4L160.9 167.1L162.5 166.8L161.6 165.6L163.4 165.1L162.4 163.9M161.7 168.4l0.1 1.5M162.5 166.8l-1.5 0.4M163.4 165.1l1.4 -0.6M170.3 147.3L170.2 145.8L169.1 146.7L168.6 145.0L167.0 145.9L167.2 144.5L165.3 145.0L166.0 143.7L164.3 144.3M170.2 145.8l0.4 -1.5M168.6 145.0l-0.5 1.4M167.2 144.5l-1.5 -0.1M166.0 143.7l1.1 1.1M153.5 166.2L152.0 166.8L153.4 167.8L151.7 168.8L153.2 169.0L151.8 169.7L153.5 170.7M152.0 166.8l1.5 0.1M151.7 168.8l0.9 1.2M151.8 169.7l0.6 -1.4M144.1 178.5L144.8 180.4L145.9 178.9L146.6 180.2L147.6 178.9L148.1 180.8M144.8 180.4l1.0 1.1M146.6 180.2l1.5 -0.2M132.7 141.7L133.5 140.5L132.2 141.3L132.5 139.6L130.7 140.3L131.1 138.7L129.9 139.6L130.6 138.3L128.9 137.6L129.9 136.4M133.5 140.5l1.4 0.6M132.5 139.6l-0.8 -1.3M131.1 138.7l1.4 0.6M130.6 138.3l1.5 0.3M127.6 128.3L125.9 128.2L126.4 130.0L124.6 130.3L125.2 131.9L123.4 131.4L123.5 132.9L121.8 132.4L122.2 134.0M125.9 128.2l-0.4 1.4M124.6 130.3l-1.2 -0.9M123.4 131.4l1.3 0.8M121.8 132.4l-1.3 -0.8M121.9 145.5L120.2 146.2L122.1 146.9L120.5 147.8L121.5 148.8L119.8 149.4L120.5 150.7L119.1 150.6L119.4 152.1M120.2 146.2l-0.5 -1.4M120.5 147.8l-0.2 -1.5M119.8 149.4l-1.5 0.3M119.1 150.6l1.1 1.0M139.3 154.3L139.7 152.8L138.2 153.4L138.0 151.7L136.3 152.4L136.9 151.0L135.0 150.8L135.6 149.3M139.7 152.8l-0.2 1.5M138.0 151.7l-0.6 -1.4M136.9 151.0l0.9 1.2M153.5 164.8L152.1 166.1L153.0 167.5L151.6 168.0L153.0 168.9L151.3 169.9L152.8 171.1M152.1 166.1l0.1 1.5M151.6 168.0l-1.5 0.4M151.3 169.9l-0.9 -1.2M109.9 135.4L109.6 133.8L108.0 134.8L107.6 133.3L106.3 133.7L106.6 131.9L105.2 132.3L105.7 130.7L104.1 130.4L105.0 128.7L103.2 129.2M109.6 133.8l0.7 -1.3M107.6 133.3l-1.4 0.4M106.6 131.9l-1.3 -0.7M105.7 130.7l1.1 -1.0M105.0 128.7l1.5 0.2M132.6 143.6L132.1 142.3L131.0 143.4L130.7 141.6L129.8 142.7L128.9 141.6L127.9 143.0L127.1 141.4M132.1 142.3l0.2 -1.5M130.7 141.6l1.4 0.6M128.9 141.6l0.2 1.5M134.0 198.5L135.6 197.9L134.3 197.1L135.9 196.7L134.9 195.4L136.5 195.4L135.3 193.8L137.0 194.0L136.5 192.5L138.2 192.4M135.6 197.9l1.2 -0.9M135.9 196.7l0.7 1.3M136.5 195.4l1.2 -0.9M137.0 194.0l1.5 0.1M116.8 157.8L115.3 158.6L116.7 159.8L114.9 160.4L116.0 161.6L114.6 162.4L116.3 163.0L114.5 163.4L115.9 164.8M115.3 158.6l-0.8 -1.3M114.9 160.4l-1.4 -0.5M114.6 162.4l-1.5 -0.3M114.5 163.4l1.4 -0.5M132.8 140.2L133.7 142.0L134.7 140.4L134.7 142.0L136.0 140.8L136.8 142.6M133.7 142.0l-1.5 0.2M134.7 142.0l1.4 -0.6M148.6 133.9L149.1 132.6L147.6 132.4L149.0 131.7L147.2 131.4L148.2 130.2L146.7 130.2L148.2 128.9M149.1 132.6l-1.3 0.8M149.0 131.7l0.2 1.5M148.2 130.2l0.9 -1.2M150.7 152.6L149.7 154.1L151.6 154.3L150.8 155.4L152.7 155.6L152.0 157.1L153.6 156.9M149.7 154.1l-1.3 -0.8M150.8 155.4l-1.4 0.4M152.0 157.1l-0.4 -1.4M157.8 158.8L156.7 157.5L155.9 159.1L155.3 157.6L154.8 159.2L153.9 158.0L154.0 159.9L152.8 158.6L152.3 160.0L151.1 158.8M156.7 157.5l0.5 -1.4M155.3 157.6l-1.4 -0.4M153.9 158.0l-1.3 -0.8M152.8 158.6l-1.3 0.7M143.4 153.7L144.2 154.9L145.3 153.7L146.0 155.1L146.5 153.7L148.2 154.4L148.3 153.0M144.2 154.9l-0.4 1.4M146.0 155.1l-0.2 1.5M148.2 154.4l0.9 -1.2M108.5 159.8L106.7 160.3L107.4 161.6L105.4 161.8L106.9 162.8L105.5 163.3L106.8 164.1L105.2 164.9M106.7 160.3l-1.4 0.6M105.4 161.8l-1.3 -0.8M105.5 163.3l1.4 -0.5M102.8 156.3L104.5 155.6L103.7 153.9L105.4 153.4L104.0 152.7L105.3 151.4L103.7 151.5L104.8 150.3L103.2 149.3M104.5 155.6l1.4 0.5M105.4 153.4l1.5 -0.4M105.3 151.4l0.1 1.5M104.8 150.3l-0.6 1.4M118.4 188.0L119.8 188.5L120.1 186.6L121.4 187.2L121.7 185.5L122.9 187.0L123.8 185.4M119.8 188.5l-1.5 0.1M121.4 187.2l-1.2 -0.8M122.9 187.0l-1.4 0.5M105.1 166.6L105.3 168.5L106.7 167.5L107.4 169.1L108.3 167.7L109.8 169.0L110.5 167.2L111.0 168.8M105.3 168.5l-0.7 1.3M107.4 169.1l1.4 0.6M109.8 169.0l1.3 -0.7M146.8 188.6L147.9 187.0L146.1 187.0L146.8 185.3L145.5 186.2L145.1 184.7L143.8 186.2L143.4 184.7L142.3 186.4L142.6 184.5L141.3 185.8M147.9 187.0l-0.6 -1.4M146.8 185.3l-0.8 1.3M145.1 184.7l-1.2 -0.8M143.4 184.7l0.2 1.5M142.6 184.5l0.4 1.5M154.8 157.7L156.6 157.3L155.4 156.0L157.0 155.6L155.8 154.5L156.8 153.5L155.3 152.8L157.1 152.3L156.1 151.1M156.6 157.3l0.0 -1.5M157.0 155.6l0.1 -1.5M156.8 153.5l-1.0 -1.2M157.1 152.3l-0.4 1.5M97.9 160.0L99.4 160.7L99.5 159.1L100.9 159.6L100.4 158.2L101.9 159.2L101.5 157.4L102.9 157.9L103.0 156.4L104.9 156.6L104.9 154.7M99.4 160.7l0.5 -1.4M100.9 159.6l0.9 -1.2M101.9 159.2l-1.5 -0.2M102.9 157.9l-0.1 -1.5M104.9 156.6l1.5 -0.4M121.5 162.1L122.1 160.8L120.5 161.3L120.2 159.5L118.7 160.8L118.8 159.2L116.9 159.8L116.7 158.4L114.9 159.1L115.1 157.3M122.1 160.8l0.2 -1.5M120.2 159.5l1.1 1.0M118.8 159.2l0.8 -1.3M116.7 158.4l1.4 0.6M97.6 163.2L99.2 163.3L99.2 161.4L100.6 162.8L101.4 161.2L102.8 162.5L102.9 161.1L104.3 162.4L104.3 160.5L106.2 161.3L105.4 160.1M99.2 163.3l-0.8 -1.3M100.6 162.8l1.4 0.5M102.8 162.5l0.1 -1.5M104.3 162.4l-0.5 1.4M106.2 161.3l0.4 -1.4M123.4 173.0L125.3 172.5L123.9 171.5L125.3 170.8L123.8 170.3L124.5 169.0L122.8 168.3L124.2 167.2L122.8 166.7L124.4 165.6M125.3 172.5l-0.0 -1.5M125.3 170.8l-1.2 -0.9M124.5 169.0l-0.4 1.5M124.2 167.2l-1.2 0.8M105.6 148.9L103.9 148.1L103.1 149.5L102.1 148.5L101.2 150.0L100.1 148.4M103.9 148.1l-0.5 -1.4M102.1 148.5l-1.1 1.0M122.3 155.8L122.0 157.5L123.5 156.8L122.8 158.7L124.3 158.5L123.7 160.0L125.2 159.2L124.6 161.0M122.0 157.5l1.5 0.3M122.8 158.7l1.2 0.9M123.7 160.0l-1.5 0.2M131.7 139.5L130.4 140.6L132.2 141.3L130.9 142.5L132.1 143.4L130.7 144.6L132.1 145.0L131.8 146.6L133.7 146.9M130.4 140.6l1.3 -0.8M130.9 142.5l-1.5 -0.2M130.7 144.6l-0.7 -1.3M131.8 146.6l1.3 0.8M117.1 155.5L115.3 155.2L115.7 157.0L114.1 156.9L115.1 158.2L113.5 158.6L114.1 160.1M115.3 155.2l1.2 0.9M114.1 156.9l-1.5 -0.1M113.5 158.6l1.2 -0.9M133.0 146.5L133.2 148.0L134.6 147.1L134.6 148.9L135.8 148.0L135.2 149.3L136.7 149.1L135.5 150.6M133.2 148.0l-0.8 1.3M134.6 148.9l0.2 -1.5M135.2 149.3l-1.3 0.8M130.4 152.9L129.0 153.7L130.5 154.3L129.9 155.9L131.5 155.5L131.6 157.3L133.5 156.7L133.7 158.3L135.3 157.7M129.0 153.7l-0.5 1.4M129.9 155.9l-1.4 0.4M131.6 157.3l0.4 1.5M133.7 158.3l-1.2 -0.9M126.7 171.6L127.9 172.8L128.2 171.3L129.3 172.3L130.1 170.8L131.7 171.7M127.9 172.8l-0.1 -1.5M129.3 172.3l-0.2 -1.5M163.0 145.3L163.8 146.5L164.7 145.1L165.1 146.6L165.7 145.3L166.6 146.6L167.7 145.4L168.0 147.1L169.5 145.9M163.8 146.5l0.1 1.5M165.1 146.6l0.7 1.3M166.6 146.6l1.4 -0.5M168.0 147.1l1.2 0.9M152.3 152.5L153.3 153.7L153.8 152.3L154.4 153.9L154.6 152.2L156.1 153.6L156.2 151.9M153.3 153.7l-1.4 -0.6M154.4 153.9l-1.4 -0.5M156.1 153.6l-1.4 0.6M128.1 167.8L128.9 166.5L127.5 166.2L128.3 164.5L126.6 164.9L126.2 163.0L124.8 163.6L125.2 162.2L123.3 162.4L124.0 160.9M128.9 166.5l0.6 -1.4M128.3 164.5l-1.5 -0.0M126.2 163.0l-0.1 -1.5M125.2 162.2l0.2 -1.5M153.0 173.7L151.6 173.2L150.9 175.0L149.6 174.3L149.9 175.7L148.7 174.3L148.1 175.7L147.5 174.0M151.6 173.2l-1.1 -1.0M149.6 174.3l-0.9 -1.2M148.7 174.3l-1.5 0.4M135.6 176.0L137.3 175.0L135.6 174.7L136.7 173.1L135.0 172.7L135.7 171.1L134.4 171.8L135.4 170.5M137.3 175.0l-0.4 1.4M136.7 173.1l0.5 -1.4M135.7 171.1l-0.1 -1.5M134.1 158.7L135.0 160.0L136.2 159.1L136.8 160.9L138.5 160.3L138.5 161.8M135.0 160.0l-1.1 -1.0M136.8 160.9l0.4 1.4M160.0 143.8L159.2 142.5L158.6 143.9L158.0 142.5L157.5 143.8L156.0 142.6L156.2 144.0M159.2 142.5l-0.2 -1.5M158.0 142.5l0.6 1.4M156.0 142.6l1.3 -0.8M133.1 137.7L131.6 138.3L132.7 139.6L131.2 139.3L132.6 140.7L131.1 140.7L132.0 142.2M131.6 138.3l-0.3 1.5M131.2 139.3l-0.2 1.5M131.1 140.7l0.5 -1.4M143.6 171.4L143.7 173.3L144.8 172.3L144.9 173.8L146.3 172.7L146.4 174.5L147.6 172.9L147.8 174.7L149.3 173.9L149.1 175.6M143.7 173.3l-0.6 1.4M144.9 173.8l0.7 -1.3M146.4 174.5l-1.4 0.4M147.8 174.7l-1.5 -0.2" stroke="#16b4c2"/><path d="M144.1 174.9L145.6 175.1L144.1 174.0L145.6 173.0L144.7 171.2L146.4 171.5L145.6 169.7M145.6 175.1l-0.4 -1.4M145.6 173.0l-0.1 1.5M146.4 171.5l0.7 -1.3M111.1 169.4L110.9 168.0L109.3 168.4L109.0 166.7L108.3 168.2L107.7 166.7L107.0 168.3L106.0 167.0L105.9 168.4L104.3 167.9L104.4 169.3M110.9 168.0l1.4 -0.5M109.0 166.7l1.3 0.7M107.7 166.7l1.2 -0.8M106.0 167.0l-1.4 0.6M104.3 167.9l-1.5 0.2M129.8 122.3L130.1 124.1L131.3 122.9L131.4 124.8L132.6 124.0L132.6 125.5L133.8 124.2M130.1 124.1l0.2 1.5M131.4 124.8l0.8 1.3M132.6 125.5l1.1 1.1M145.6 155.2L146.1 157.2L147.6 156.0L147.1 157.4L148.6 157.0L148.4 158.6L150.1 157.8L150.0 159.5L151.7 159.2M146.1 157.2l0.6 1.4M147.1 157.4l-1.5 0.1M148.4 158.6l-1.5 -0.4M150.0 159.5l-1.3 0.7M144.9 157.3L144.1 155.9L142.9 156.9L142.1 155.1L141.0 156.6L140.6 155.0L138.9 155.8L138.7 154.1L137.8 155.4L136.3 154.5L136.4 156.2M144.1 155.9l1.0 1.1M142.1 155.1l-0.4 -1.4M140.6 155.0l-0.1 1.5M138.7 154.1l-0.2 -1.5M136.3 154.5l-0.8 -1.3M119.1 148.1L118.4 146.6L117.4 147.7L116.4 146.5L116.2 148.0L115.1 147.1M118.4 146.6l0.0 -1.5M116.4 146.5l1.2 -0.9M141.8 181.2L142.7 182.9L143.9 182.0L143.5 183.8L145.1 183.3L145.3 184.9L146.8 184.2L146.5 185.8M142.7 182.9l0.1 1.5M143.5 183.8l-1.3 -0.7M145.3 184.9l-0.3 1.5M160.1 160.9L161.1 162.4L162.2 161.0L163.5 161.8L164.3 160.1L165.7 161.3L166.5 159.8L167.5 160.8M161.1 162.4l0.2 1.5M163.5 161.8l-0.0 1.5M165.7 161.3l1.5 0.3M159.1 145.7L158.8 143.9L157.7 145.0L157.2 143.5L156.1 144.6L154.8 143.5M158.8 143.9l1.1 1.0M157.2 143.5l0.8 -1.2M157.0 153.5L157.2 151.9L155.7 152.1L156.0 150.7L154.5 150.6L155.3 149.0L153.5 149.2M157.2 151.9l0.7 -1.3M156.0 150.7l0.9 1.2M155.3 149.0l0.8 1.3M122.8 174.0L122.2 172.5L121.1 174.0L119.9 172.5L118.8 173.8L117.8 172.2L117.3 173.5M122.2 172.5l-0.9 1.2M119.9 172.5l1.3 0.7M117.8 172.2l-0.9 1.2M116.1 146.3L116.2 147.7L117.3 146.5L118.1 148.2L118.8 146.8L119.9 147.7L120.0 146.3L121.3 147.8L122.3 146.2L123.6 147.4M116.2 147.7l-0.3 -1.5M118.1 148.2l1.5 -0.2M119.9 147.7l0.1 1.5M121.3 147.8l1.4 0.6M113.9 135.2L113.8 136.6L115.4 135.6L115.4 137.2L116.8 136.0L117.7 137.2L118.1 135.6L119.6 136.9L119.5 134.9L120.6 135.9L121.5 134.2M113.8 136.6l1.5 0.0M115.4 137.2l-1.4 -0.6M117.7 137.2l-1.3 0.7M119.6 136.9l0.6 1.4M120.6 135.9l1.5 -0.1M103.1 158.3L104.4 159.0L104.3 157.4L105.8 157.8L105.5 155.9L107.3 156.7L107.6 155.2M104.4 159.0l-1.4 0.6M105.8 157.8l-0.6 -1.4M107.3 156.7l-0.1 1.5M104.4 139.8L104.7 138.0L103.5 138.8L103.4 137.1L102.0 137.5L102.8 136.2L100.9 135.8L101.9 134.5L100.2 134.0M104.7 138.0l-0.0 1.5M103.4 137.1l1.1 1.0M102.8 136.2l1.5 0.3M101.9 134.5l-1.5 -0.2M157.1 147.9L158.1 146.2L156.6 146.2L157.3 144.9L155.7 145.0L155.8 143.5L154.5 144.5L154.5 143.0M158.1 146.2l0.4 1.4M157.3 144.9l1.2 0.9M155.8 143.5l-1.5 0.0M141.5 158.0L141.1 156.4L139.6 157.1L138.9 155.8L138.5 157.5L138.1 156.1L137.1 157.4M141.1 156.4l0.1 1.5M138.9 155.8l-0.6 1.4M138.1 156.1l0.0 -1.5M146.0 160.5L144.4 159.7L144.7 161.1L143.2 161.0L144.6 161.7L142.7 162.2L144.2 163.2L142.9 164.2L144.1 164.9L142.9 166.4M144.4 159.7l-1.5 -0.3M143.2 161.0l1.3 0.8M142.7 162.2l0.3 -1.5M142.9 164.2l-1.5 -0.1M156.3 172.3L156.5 173.8L158.1 173.1L159.1 174.4L160.3 173.1L161.0 174.3L162.0 173.2L162.7 174.5L164.0 173.6L165.1 175.3M156.5 173.8l0.7 1.3M159.1 174.4l-1.4 -0.4M161.0 174.3l-1.0 -1.2M162.7 174.5l0.9 1.2M155.1 173.4L156.6 174.7L156.7 173.1L157.9 173.8L157.4 171.9L159.4 171.7L158.7 170.4M156.6 174.7l0.6 -1.4M157.9 173.8l-1.2 -0.9M159.4 171.7l1.5 -0.0M112.0 156.4L113.3 157.5L113.0 156.1L114.7 156.1L114.1 154.6L116.0 154.9L115.2 153.2L116.5 152.6M113.3 157.5l-0.8 1.2M114.7 156.1l-1.1 1.0M116.0 154.9l0.3 1.5M125.3 182.7L125.7 184.3L127.5 183.9L127.6 185.8L129.0 184.6L129.3 186.2L130.9 186.0L129.7 187.4L131.3 187.6L130.7 189.0M125.7 184.3l1.3 0.8M127.6 185.8l1.1 1.0M129.3 186.2l-1.5 -0.1M129.7 187.4l1.5 -0.1M139.9 155.1L139.0 153.7L137.9 155.4L137.1 153.8L135.8 155.0L135.1 153.2L134.4 154.6L133.8 153.1L132.3 154.2M139.0 153.7l1.0 1.1M137.1 153.8l-1.0 1.1M135.1 153.2l1.3 0.8M133.8 153.1l-1.2 0.9M145.8 137.8L144.0 138.1L145.3 138.7L143.7 139.7L144.4 141.1L142.5 141.2L143.5 142.8L141.6 142.3M144.0 138.1l1.2 0.9M143.7 139.7l0.2 -1.5M142.5 141.2l-0.9 -1.2M163.0 176.1L162.5 174.3L161.7 175.5L160.6 173.8L160.6 175.6L159.5 174.1L159.6 175.7L158.8 174.2L158.1 175.7L157.4 173.9M162.5 174.3l-1.5 0.1M160.6 173.8l1.4 -0.4M159.5 174.1l1.5 -0.1M158.8 174.2l-0.1 -1.5M155.8 171.8L155.3 170.0L154.0 170.9L153.6 169.3L152.1 169.7L152.5 167.9L150.8 168.6M155.3 170.0l-1.4 -0.4M153.6 169.3l-1.4 0.5M152.5 167.9l1.1 1.0M134.4 158.5L134.0 160.1L135.8 160.2L134.4 161.3L135.9 162.4L134.1 163.3L134.9 164.7M134.0 160.1l0.5 1.4M134.4 161.3l-0.9 1.2M134.1 163.3l1.2 0.9M145.3 140.7L145.7 139.0L143.9 139.1L144.2 137.3L142.4 138.2L143.0 136.7L142.0 137.6L141.4 135.7L140.3 136.7L139.3 135.5M145.7 139.0l1.1 -1.0M144.2 137.3l1.5 -0.0M143.0 136.7l1.5 -0.2M141.4 135.7l0.5 1.4M139.1 175.6L137.5 175.7L138.8 177.2L137.2 177.4L138.4 178.5L136.9 178.2L137.7 179.8L136.1 179.6L136.6 180.9L134.8 180.4M137.5 175.7l1.4 -0.5M137.2 177.4l0.8 -1.3M136.9 178.2l-0.2 1.5M136.1 179.6l0.4 1.4M144.5 166.5L143.3 165.5L142.7 167.1L141.3 165.9L140.6 167.5L139.6 166.2M143.3 165.5l-1.5 0.1M141.3 165.9l0.0 1.5M131.4 151.8L129.7 151.6L130.1 152.9L128.7 152.7L128.8 154.6L127.3 154.0L128.0 155.8L126.2 155.5L127.0 157.1L125.0 157.2L125.8 158.7M129.7 151.6l1.5 -0.1M128.7 152.7l-1.1 1.0M127.3 154.0l-0.5 1.4M126.2 155.5l-1.4 -0.5M125.0 157.2l0.7 -1.3M149.4 166.7L150.1 168.0L151.2 167.0L151.4 168.5L152.5 166.9L153.5 168.5L153.9 167.2L154.9 168.3L155.0 166.7L155.6 167.9M150.1 168.0l-1.4 0.5M151.4 168.5l-1.1 1.0M153.5 168.5l0.2 -1.5M154.9 168.3l-1.1 -1.1M127.7 133.0L128.6 134.4L129.4 133.1L130.9 134.2L131.0 132.6L132.5 133.1L131.8 131.3L133.3 131.4L132.2 129.9L133.9 129.2L132.2 128.5M128.6 134.4l-0.6 1.4M130.9 134.2l-0.1 -1.5M132.5 133.1l1.3 -0.7M133.3 131.4l-1.4 -0.5M133.9 129.2l-1.1 -1.0M170.5 153.0L169.4 152.1L168.6 153.4L167.6 151.9L167.1 153.4L165.9 152.4M169.4 152.1l-0.5 1.4M167.6 151.9l0.4 -1.4M113.2 129.0L112.0 129.8L113.4 130.6L112.3 131.6L113.9 132.5L113.2 133.7L115.0 133.8L113.8 135.3L115.5 135.2L115.3 136.8L116.7 135.9M112.0 129.8l-1.5 -0.3M112.3 131.6l0.2 1.5M113.2 133.7l-1.4 -0.6M113.8 135.3l-0.6 1.4M115.3 136.8l-0.3 -1.5M139.9 141.5L138.6 140.8L137.9 142.6L137.3 141.3L136.1 142.7L134.6 141.5L133.7 142.6L132.6 141.7L132.5 143.6L131.0 143.3M138.6 140.8l-1.3 -0.8M137.3 141.3l0.2 -1.5M134.6 141.5l0.9 -1.2M132.6 141.7l-0.0 1.5M135.7 185.2L136.7 183.9L135.0 183.6L136.1 181.9L134.2 181.6L135.2 180.3L133.8 179.5L134.9 178.3M136.7 183.9l0.1 -1.5M136.1 181.9l0.9 -1.2M135.2 180.3l0.4 1.4M129.8 159.2L130.8 160.3L131.0 158.5L132.4 159.7L132.4 158.0L133.6 158.8M130.8 160.3l-0.9 1.2M132.4 159.7l1.0 -1.1M162.1 182.1L163.5 183.6L163.5 181.7L164.8 183.1L165.4 181.3L166.1 182.7L167.4 181.9M163.5 183.6l1.5 -0.2M164.8 183.1l-1.5 0.1M166.1 182.7l-1.5 -0.2M117.1 160.1L117.5 161.9L118.8 160.8L118.8 162.5L119.9 161.2L120.1 162.6L121.1 161.4L121.8 162.7L122.8 161.0L123.7 162.4M117.5 161.9l1.5 0.0M118.8 162.5l-0.4 -1.4M120.1 162.6l-0.3 -1.5M121.8 162.7l-0.0 1.5M126.8 159.6L127.1 161.4L128.6 161.0L128.3 162.4L130.1 162.1L128.8 163.2L130.2 163.3M127.1 161.4l0.5 -1.4M128.3 162.4l-1.4 0.4M128.8 163.2l1.5 -0.1M135.7 141.0L135.3 142.4L137.1 141.6L136.5 143.0L138.1 142.8L137.7 144.5L139.5 143.9L138.9 145.7L140.3 145.2L140.0 147.0L141.7 146.2M135.3 142.4l1.3 -0.7M136.5 143.0l-1.4 0.6M137.7 144.5l-1.2 -0.9M138.9 145.7l-1.4 0.7M140.0 147.0l1.1 -1.1M125.8 156.3L124.7 154.8L123.6 155.8L124.0 154.0L122.8 154.7L122.2 153.3M124.7 154.8l-0.3 -1.5M124.0 154.0l0.1 1.5M158.3 155.6L157.3 157.1L159.0 156.7L157.9 157.9L159.5 157.5L159.0 158.9L160.9 159.0L159.3 160.1L160.9 160.1L160.4 161.5M157.3 157.1l1.3 -0.8M157.9 157.9l-1.5 -0.1M159.0 158.9l0.6 -1.4M159.3 160.1l0.4 -1.4M163.4 150.5L163.1 148.5L161.9 149.2L162.0 147.7L160.5 148.1L160.1 146.7L158.6 147.3L158.7 145.5L157.6 146.6L157.1 145.1M163.1 148.5l-1.1 -1.0M162.0 147.7l-1.1 -1.1M160.1 146.7l-0.9 1.2M158.7 145.5l-1.5 -0.3M134.4 167.4L134.5 165.8L132.9 166.5L133.2 164.8L132.1 165.7L131.2 164.0L130.4 165.1L129.7 163.5L128.2 164.6L127.5 163.0L126.6 164.8M134.5 165.8l1.4 -0.6M133.2 164.8l-0.4 1.4M131.2 164.0l-0.8 1.3M129.7 163.5l1.5 -0.2M127.5 163.0l-0.6 1.4M121.7 187.7L123.4 188.0L122.7 186.7L124.4 186.8L123.7 185.5L125.3 184.8M123.4 188.0l1.0 -1.1M124.4 186.8l-0.7 -1.3M93.6 153.2L94.8 152.0L93.6 151.2L94.9 150.6L93.1 150.0L93.9 148.7L92.6 148.2L93.8 147.0L92.3 146.3L93.5 145.5L92.2 144.7M94.8 152.0l1.5 0.1M94.9 150.6l0.4 1.5M93.9 148.7l-1.4 0.4M93.8 147.0l-0.6 1.4M93.5 145.5l0.0 -1.5M162.8 132.9L163.2 131.4L161.5 131.8L162.3 130.1L160.8 130.7L160.5 128.9L159.3 130.1L158.5 128.9M163.2 131.4l-0.4 1.5M162.3 130.1l-1.2 0.9M160.5 128.9l1.5 0.1M130.9 171.6L132.3 170.7L130.8 169.6L132.3 168.3L131.0 167.7L132.6 166.9L131.2 166.4L132.3 164.8L131.1 164.2L132.4 163.2L130.8 162.1M132.3 170.7l-0.9 1.2M132.3 168.3l1.2 -1.0M132.6 166.9l0.1 -1.5M132.3 164.8l0.1 1.5M132.4 163.2l1.1 -1.1M155.8 146.7L154.1 147.6L155.6 148.4L154.1 149.7L155.9 150.1L154.3 150.8L155.5 151.7L154.1 152.5L155.8 153.6L154.3 154.5M154.1 147.6l-1.0 1.1M154.1 149.7l-1.3 0.8M154.3 150.8l1.1 -1.0M154.1 152.5l1.5 -0.2M158.7 179.5L158.0 181.1L159.4 180.5L158.5 182.2L160.2 182.7L158.7 183.6L160.2 184.2L158.9 184.7L159.8 186.4L157.8 186.8L158.7 187.9M158.0 181.1l-0.8 1.3M158.5 182.2l0.4 -1.4M158.7 183.6l-0.8 -1.3M158.9 184.7l-1.3 0.8M157.8 186.8l-1.5 -0.1M159.5 171.9L160.8 172.9L161.1 171.4L162.5 171.9L162.8 170.5L164.0 171.1M160.8 172.9l-1.5 0.2M162.5 171.9l-0.7 1.3M108.4 160.8L108.1 162.3L109.6 161.0L110.4 162.4L111.5 160.8L112.9 162.0L113.2 160.3L114.4 161.4L114.6 159.6L116.1 159.6L116.2 157.9M108.1 162.3l1.5 -0.2M110.4 162.4l1.5 0.2M112.9 162.0l-0.8 -1.3M114.4 161.4l1.4 0.4M116.1 159.6l1.4 -0.6M155.2 166.4L157.0 166.5L156.0 165.4L157.7 165.6L156.8 164.2L158.8 164.4L158.4 163.0L160.0 162.3M157.0 166.5l1.2 -0.9M157.7 165.6l1.5 -0.1M158.8 164.4l-1.1 -1.0M102.7 172.3L102.1 174.1L103.6 174.3L102.4 175.5L104.0 176.6L103.2 177.9L104.9 178.4L104.1 179.6L106.0 180.2L104.6 181.2M102.1 174.1l-1.3 -0.7M102.4 175.5l0.9 -1.2M103.2 177.9l1.4 0.6M104.1 179.6l-1.1 1.0M130.8 144.0L131.7 143.0L129.9 142.7L131.1 141.9L129.7 140.8L131.2 140.2L129.9 139.2L131.6 138.2L130.2 137.1L131.6 135.9L130.1 135.5M131.7 143.0l1.5 0.0M131.1 141.9l1.1 1.0M131.2 140.2l-1.1 1.0M131.6 138.2l1.4 0.5M131.6 135.9l0.1 1.5" stroke="#b3a414"/><path d="M139.5 176.5L139.7 178.3L141.2 177.8L140.7 179.2L142.1 178.9L141.9 180.9L143.4 180.0M139.7 178.3l-0.2 -1.5M140.7 179.2l-1.5 -0.2M141.9 180.9l1.4 -0.5M134.0 166.1L132.6 165.4L133.1 167.1L131.2 167.0L131.9 168.8L130.5 168.6L130.8 170.2L129.2 169.9L129.4 171.8M132.6 165.4l-1.5 0.1M131.2 167.0l-1.5 0.1M130.5 168.6l1.4 -0.6M129.2 169.9l-0.3 1.5M155.5 135.4L154.1 134.2L153.6 135.6L152.3 134.6L151.1 136.0L150.3 134.5L149.9 136.0L148.6 134.6L147.6 136.1M154.1 134.2l1.2 -0.9M152.3 134.6l1.3 0.8M150.3 134.5l-1.0 1.1M148.6 134.6l-1.1 1.1M117.0 172.9L117.4 171.0L115.7 172.1L116.5 170.3L114.9 170.9L114.8 169.5L113.3 170.2L113.1 168.6L111.7 169.3L112.0 167.8L110.3 167.7M117.4 171.0l1.5 0.0M116.5 170.3l1.5 0.0M114.8 169.5l1.5 0.0M113.1 168.6l-0.7 1.3M112.0 167.8l-0.2 1.5M160.2 164.6L159.0 165.8L160.5 166.3L159.2 167.6L160.6 168.6L158.6 168.8L160.1 169.8L158.4 170.4L159.9 170.9M159.0 165.8l-1.0 1.1M159.2 167.6l1.4 -0.6M158.6 168.8l1.0 1.1M158.4 170.4l-0.7 -1.3M143.3 150.0L144.0 151.3L144.3 149.4L145.6 150.2L145.4 148.8L146.6 149.7L147.5 148.6M144.0 151.3l-1.5 0.3M145.6 150.2l1.2 -0.9M146.6 149.7l0.4 -1.5M100.3 140.8L101.7 139.4L99.9 138.6L101.7 138.1L100.4 137.0L102.1 136.2L101.4 135.0M101.7 139.4l-1.5 0.1M101.7 138.1l1.2 -0.9M102.1 136.2l1.5 -0.1M125.5 137.2L123.8 136.4L124.6 137.9L123.0 137.5L122.9 139.0L122.1 137.2L122.0 139.1L120.5 138.0L120.0 139.4L118.9 138.5L118.0 140.3M123.8 136.4l-1.4 -0.5M123.0 137.5l1.4 0.5M122.1 137.2l-1.5 0.3M120.5 138.0l-1.5 0.1M118.9 138.5l1.3 0.7M149.5 162.4L148.3 161.3L147.6 162.9L147.6 161.4L145.9 162.1L146.2 160.6L144.5 160.7M148.3 161.3l-1.3 0.7M147.6 161.4l0.6 -1.4M146.2 160.6l-0.1 -1.5M138.8 164.0L138.8 162.3L137.5 163.1L137.5 161.6L135.7 162.3L136.1 160.5L134.6 161.1L135.0 159.7L133.4 160.0L134.7 159.0L133.0 158.4M138.8 162.3l-1.1 -1.0M137.5 161.6l0.3 -1.5M136.1 160.5l-1.4 0.6M135.0 159.7l-0.1 -1.5M134.7 159.0l-1.2 -0.9M122.7 168.4L120.8 167.7L121.2 169.2L119.6 168.6L119.6 170.4L118.0 170.1L118.1 171.6L116.5 171.3M120.8 167.7l-1.2 -1.0M119.6 168.6l-0.2 -1.5M118.0 170.1l0.2 -1.5M101.5 175.2L102.5 176.9L103.8 176.1L104.1 178.0L105.0 176.3L106.4 177.6L106.6 175.9L107.2 177.7L107.8 176.1M102.5 176.9l1.0 -1.1M104.1 178.0l0.7 1.3M106.4 177.6l0.4 1.5M107.2 177.7l-1.4 0.4M138.2 180.4L139.6 180.9L139.2 179.2L140.8 179.1L139.5 178.5L140.6 177.6L139.4 176.9M139.6 180.9l1.0 1.1M140.8 179.1l-1.5 -0.3M140.6 177.6l1.2 0.8M125.3 152.5L123.9 151.6L123.3 153.6L122.0 152.7L122.1 154.7L120.4 153.7L120.3 155.3L118.6 154.6M123.9 151.6l1.0 1.1M122.0 152.7l-0.6 1.4M120.4 153.7l0.8 1.2M167.6 174.7L169.0 175.3L168.5 173.8L169.9 174.7L169.9 172.9L171.5 173.4L171.0 172.1M169.0 175.3l0.4 -1.4M169.9 174.7l-0.6 1.4M171.5 173.4l-0.7 1.3M111.8 146.8L113.4 147.8L113.2 146.3L114.7 147.0L113.8 145.8L115.3 145.7L114.6 144.0L116.4 143.9L115.8 142.1L117.6 141.6L116.5 140.6M113.4 147.8l0.7 1.3M114.7 147.0l-1.0 1.2M115.3 145.7l1.5 -0.2M116.4 143.9l-1.4 0.5M117.6 141.6l-1.5 -0.0M115.0 162.4L113.3 162.1L114.3 163.3L112.8 163.9L113.5 165.6L111.8 165.6L112.3 167.3L110.9 167.6L112.2 169.1L110.5 168.8L111.5 169.8M113.3 162.1l1.4 0.6M112.8 163.9l0.6 -1.4M111.8 165.6l-0.0 -1.5M110.9 167.6l1.3 -0.7M110.5 168.8l0.6 1.4M100.7 172.3L101.8 173.5L102.6 172.3L103.2 174.2L104.4 173.2L104.4 175.2L105.9 173.9L106.1 175.7L107.7 174.9L108.1 176.6L109.3 175.2M101.8 173.5l-0.0 1.5M103.2 174.2l-0.7 -1.3M104.4 175.2l1.5 -0.1M106.1 175.7l-1.4 -0.6M108.1 176.6l-1.1 -1.1M133.5 190.4L133.6 188.6L132.2 189.8L131.7 188.4L130.7 189.4L130.8 187.9L129.4 188.2L129.4 186.6L128.0 187.1L128.5 185.7L126.9 186.3M133.6 188.6l-1.3 -0.7M131.7 188.4l1.3 0.7M130.8 187.9l1.5 0.0M129.4 186.6l1.1 -1.0M128.5 185.7l-1.3 0.7M99.0 135.1L98.0 136.2L99.5 137.2L97.7 137.9L99.6 138.3L98.1 139.0L99.5 139.4M98.0 136.2l0.3 -1.5M97.7 137.9l-0.7 1.3M98.1 139.0l-0.1 1.5M104.1 164.1L102.2 164.6L103.8 165.5L102.6 167.0L104.1 167.7L103.2 169.2M102.2 164.6l0.9 1.2M102.6 167.0l1.5 -0.0M150.8 138.3L149.4 137.8L149.9 139.5L148.3 139.2L148.7 141.1L147.0 140.5L147.2 142.3L145.3 142.4M149.4 137.8l1.3 -0.8M148.3 139.2l-1.5 -0.1M147.0 140.5l-0.3 1.5M133.8 141.4L135.5 142.1L136.3 140.9L138.1 141.7L138.8 140.4L140.0 141.5L140.3 139.8L141.2 140.9L141.3 139.1L142.4 139.9L142.5 137.9M135.5 142.1l-1.2 -0.9M138.1 141.7l-1.1 1.0M140.0 141.5l-0.0 -1.5M141.2 140.9l1.5 -0.3M142.4 139.9l-1.5 0.2M121.6 143.0L120.4 141.9L120.4 143.3L119.2 142.3L118.9 143.8L118.3 142.0L117.1 142.9L116.9 141.1L116.1 142.8L115.2 141.1L114.6 142.8M120.4 141.9l0.9 -1.2M119.2 142.3l0.9 1.2M118.3 142.0l0.6 1.4M116.9 141.1l-1.3 -0.8M115.2 141.1l-0.9 1.2M146.2 172.6L146.1 170.8L144.2 171.0L145.1 169.4L143.3 169.4L143.9 167.7L142.3 168.1L142.5 166.4L140.9 166.8M146.1 170.8l-1.4 -0.6M145.1 169.4l-1.3 0.7M143.9 167.7l1.0 -1.1M142.5 166.4l-0.6 -1.4M121.0 174.8L119.0 174.5L119.5 176.1L118.0 176.4L118.8 177.9L117.1 177.5M119.0 174.5l1.5 0.1M118.0 176.4l-1.5 -0.2M134.3 157.1L134.6 158.7L135.5 157.4L136.3 158.6L136.9 156.8L137.6 158.1L138.7 156.5L139.8 157.5L140.9 155.8M134.6 158.7l1.3 -0.7M136.3 158.6l-1.3 0.8M137.6 158.1l-1.4 0.5M139.8 157.5l-1.5 -0.0M108.5 160.7L106.6 160.2L106.6 162.1L105.3 160.8L104.9 162.3L103.6 161.0L102.6 162.7M106.6 160.2l1.2 0.9M105.3 160.8l1.3 -0.8M103.6 161.0l-1.5 -0.1M120.6 148.1L122.0 149.0L122.0 147.2L123.9 146.8L123.6 145.3L125.0 145.3L124.3 143.9L126.1 143.2L124.6 142.5L126.3 142.3M122.0 149.0l-1.5 -0.2M123.9 146.8l0.2 -1.5M125.0 145.3l-0.7 1.3M126.1 143.2l1.3 -0.7M108.2 172.3L106.6 172.8L107.8 173.8L106.1 174.0L106.8 175.8L105.1 175.9L106.2 177.4L104.5 177.1M106.6 172.8l-1.5 -0.4M106.1 174.0l-1.3 -0.7M105.1 175.9l1.3 0.7M117.6 142.6L115.9 141.5L115.7 143.0L114.5 141.7L114.0 143.1L112.2 142.1L112.3 143.7L110.7 143.7L111.6 145.1M115.9 141.5l1.2 0.9M114.5 141.7l1.1 1.0M112.2 142.1l-1.4 -0.4M110.7 143.7l-0.8 -1.2M138.8 137.1L140.0 137.8L139.9 136.1L140.9 137.8L140.6 135.9L142.1 137.0L142.2 135.5L143.4 136.6L144.5 135.4L144.8 136.8M140.0 137.8l0.7 1.3M140.9 137.8l0.9 -1.2M142.1 137.0l1.2 -0.8M143.4 136.6l-1.2 0.9M108.9 149.5L110.0 148.5L108.5 147.4L110.3 146.7L108.9 145.5L110.4 145.1L109.7 143.6L111.2 143.9L110.7 142.0M110.0 148.5l1.5 0.3M110.3 146.7l1.5 0.3M110.4 145.1l0.0 -1.5M111.2 143.9l-1.3 -0.8M114.3 183.9L116.2 184.0L115.7 182.5L117.4 182.9L116.8 181.1L118.6 181.2L117.8 179.8M116.2 184.0l-1.5 0.1M117.4 182.9l1.5 -0.1M118.6 181.2l0.7 1.3M125.4 130.0L124.0 130.8L125.3 131.7L124.2 132.7L125.5 133.1L124.5 134.2L126.1 134.2L125.2 135.4L127.2 135.5L126.3 136.7M124.0 130.8l-1.1 -1.0M124.2 132.7l1.2 -1.0M124.5 134.2l-0.3 -1.5M125.2 135.4l-1.5 0.2M110.0 156.3L109.7 154.8L108.2 155.7L107.6 154.3L105.8 155.0L105.8 153.4L104.9 154.5L103.9 153.5L103.3 154.9M109.7 154.8l-0.2 1.5M107.6 154.3l-1.4 -0.4M105.8 153.4l-0.8 -1.3M103.9 153.5l-1.5 0.4M105.5 145.5L107.0 146.2L107.4 144.6L108.3 146.2L108.6 144.8L110.0 146.0L110.6 144.8L111.4 146.3L112.7 145.2M107.0 146.2l0.8 1.3M108.3 146.2l0.8 1.3M110.0 146.0l0.3 1.5M111.4 146.3l-1.4 -0.4M133.4 134.7L131.7 134.6L132.8 135.6L131.4 135.9L132.3 137.1L130.6 137.3L131.6 138.9L129.8 139.2M131.7 134.6l0.7 1.3M131.4 135.9l0.6 1.4M130.6 137.3l-0.2 -1.5M123.4 128.2L122.1 128.9L123.4 129.9L121.7 130.2L122.2 131.9L120.5 131.4L121.1 132.7L119.5 132.0L120.5 133.7L119.0 132.7M122.1 128.9l-1.3 -0.7M121.7 130.2l-1.5 -0.2M120.5 131.4l1.0 -1.1M119.5 132.0l-0.6 -1.4M155.6 159.9L157.0 159.6L155.7 158.5L156.9 157.8L155.8 156.6L157.1 156.0L155.9 155.2L157.1 154.0M157.0 159.6l-1.0 -1.1M156.9 157.8l-0.4 1.4M157.1 156.0l0.2 -1.5M124.2 149.4L122.5 148.7L123.2 150.3L121.3 150.7L122.4 152.3L120.5 152.9L121.3 154.5M122.5 148.7l0.8 -1.2M121.3 150.7l-1.0 -1.1M120.5 152.9l1.4 -0.5M125.4 137.6L126.0 136.2L124.4 137.1L124.3 135.5L122.8 136.0L123.4 134.4L121.7 135.2M126.0 136.2l1.4 0.6M124.3 135.5l0.5 1.4M123.4 134.4l1.5 -0.2" stroke="#e07c1c"/><path d="M154.6 163.9L153.5 165.5L155.4 165.2L154.4 166.5L156.2 167.0L154.7 168.0L155.9 169.0L154.4 169.3M153.5 165.5l1.4 -0.4M154.4 166.5l1.0 -1.1M154.7 168.0l-1.2 -0.9M158.9 169.3L157.8 170.6L159.3 171.2L157.5 172.2L158.5 173.3L157.0 174.3L158.4 174.9L156.7 175.6L157.9 176.5L156.0 176.9M157.8 170.6l1.2 -0.9M157.5 172.2l0.9 1.2M157.0 174.3l-1.0 -1.1M156.7 175.6l1.4 -0.6M115.6 136.3L115.0 138.0L116.4 137.2L116.4 139.2L117.7 138.0L117.7 139.6L119.4 138.8L119.1 140.6L120.5 139.9M115.0 138.0l0.7 -1.3M116.4 139.2l0.6 1.4M117.7 139.6l-1.4 -0.4M119.1 140.6l1.3 0.7M139.3 151.6L138.6 153.1L140.3 153.9L139.1 155.3L140.9 155.9L140.0 157.4M138.6 153.1l-1.4 -0.5M139.1 155.3l0.3 -1.5M150.3 154.2L148.8 155.1L150.1 156.3L148.6 156.6L149.7 157.6L148.0 158.0L148.8 159.5L147.2 159.7L148.5 161.1L147.2 162.1M148.8 155.1l-0.6 -1.4M148.6 156.6l-1.5 -0.0M148.0 158.0l-1.4 0.5M147.2 159.7l1.4 0.4M113.3 170.0L111.6 170.1L112.7 171.8L111.2 172.0L112.8 173.1L111.0 173.8L112.3 175.0L110.6 175.5L111.9 176.2M111.6 170.1l-0.7 1.3M111.2 172.0l-0.2 -1.5M111.0 173.8l1.4 -0.5M110.6 175.5l-0.2 1.5M113.8 163.6L114.8 164.5L115.1 163.1L116.6 163.3L116.0 161.8L117.8 161.9M114.8 164.5l-1.4 -0.5M116.6 163.3l-1.3 -0.7M135.0 133.8L134.7 135.7L136.1 135.3L136.2 137.0L137.6 136.6L137.5 138.3L138.7 137.3M134.7 135.7l-0.9 -1.2M136.2 137.0l-0.7 -1.3M137.5 138.3l0.1 -1.5M96.9 170.8L97.2 168.9L95.9 169.2L96.7 167.5L94.9 167.8L96.3 166.4L94.9 165.7L96.1 164.6L94.7 164.7L95.1 163.3M97.2 168.9l-1.3 0.7M96.7 167.5l0.5 -1.4M96.3 166.4l-0.8 1.3M96.1 164.6l1.5 -0.2M149.6 162.0L147.9 161.7L148.5 163.6L146.8 163.0L147.3 164.5L145.7 163.4L146.2 165.1L144.7 164.7L145.2 166.3L143.5 167.1L144.9 167.8M147.9 161.7l1.4 -0.6M146.8 163.0l0.7 -1.3M145.7 163.4l0.8 -1.3M144.7 164.7l1.5 -0.2M143.5 167.1l-1.2 -0.9M160.5 151.0L159.0 151.4L159.8 153.0L157.8 152.9L158.6 154.6L156.7 154.7M159.0 151.4l1.4 -0.6M157.8 152.9l-1.4 0.4M134.2 168.1L133.7 166.5L132.6 167.6L131.9 166.3L131.5 168.1L130.5 166.9M133.7 166.5l-0.7 1.3M131.9 166.3l-1.2 0.9M117.1 172.0L115.7 172.8L117.0 174.2L115.2 174.8L116.1 176.5L114.5 176.3L115.2 178.0M115.7 172.8l-0.9 -1.2M115.2 174.8l1.1 1.0M114.5 176.3l-0.1 1.5M159.9 173.5L161.3 172.6L159.9 172.1L161.3 171.4L159.7 170.7L160.9 169.3M161.3 172.6l1.2 -0.8M161.3 171.4l0.6 -1.4M124.9 167.3L123.7 166.0L123.1 167.5L122.4 166.1L122.4 167.9L121.6 166.3L121.6 168.2L120.1 167.3L120.5 168.8M123.7 166.0l-1.2 0.9M122.4 166.1l1.3 0.8M121.6 166.3l1.1 -1.0M120.1 167.3l-0.7 1.3M114.8 136.5L116.1 137.5L116.6 136.0L118.1 137.2L118.2 135.6L119.9 136.2L119.7 134.6L121.1 134.9L120.6 133.0L122.1 133.6L122.1 132.1M116.1 137.5l0.4 -1.4M118.1 137.2l1.5 -0.2M119.9 136.2l1.3 -0.8M121.1 134.9l-1.2 -0.9M122.1 133.6l0.4 1.4M104.5 138.7L102.7 137.8L102.4 139.2L101.4 138.0L100.5 139.7L99.2 138.3L99.4 139.8L98.2 138.4L98.1 140.1L96.1 139.7L95.8 141.2M102.7 137.8l-1.4 -0.6M101.4 138.0l1.5 0.1M99.2 138.3l1.5 -0.4M98.2 138.4l0.6 1.4M96.1 139.7l1.3 0.8M135.8 173.3L134.7 172.3L134.4 174.1L133.6 172.9L133.3 174.3L131.8 173.5L131.6 175.4M134.7 172.3l-0.8 1.3M133.6 172.9l0.5 1.4M131.8 173.5l-0.8 1.2M131.7 155.5L132.2 156.9L133.0 155.6L133.7 157.0L134.0 155.2L135.5 156.4L135.8 154.7L137.4 155.2L137.3 153.5L139.0 154.6M132.2 156.9l-1.3 0.7M133.7 157.0l-1.5 0.3M135.5 156.4l0.3 -1.5M137.4 155.2l1.4 0.4M120.1 170.6L120.2 172.1L121.6 171.6L121.6 173.5L122.8 172.7L123.4 174.0L124.5 172.5L125.2 173.9L126.7 172.8L127.7 174.1L127.8 172.2M120.2 172.1l1.2 0.9M121.6 173.5l-1.1 1.0M123.4 174.0l-0.9 1.2M125.2 173.9l-0.9 1.2M127.7 174.1l-1.4 0.6M138.5 167.1L139.5 168.1L140.0 166.3L141.3 167.7L141.2 166.2L142.8 166.6L142.4 164.8M139.5 168.1l1.0 1.1M141.3 167.7l-0.7 1.3M142.8 166.6l1.5 0.1M116.3 137.5L115.5 139.2L117.0 139.1L116.3 140.9L118.0 140.4L116.8 141.7L118.5 140.9L118.1 142.2L119.6 141.9L119.4 143.8L121.2 143.4M115.5 139.2l-1.4 -0.6M116.3 140.9l-1.5 -0.3M116.8 141.7l-1.5 0.3M118.1 142.2l1.0 -1.1M119.4 143.8l1.0 1.1M165.4 176.6L163.8 175.6L164.1 177.1L162.3 176.3L163.0 178.0L161.4 177.4M163.8 175.6l-0.2 -1.5M162.3 176.3l-0.6 1.4M116.8 158.9L115.2 159.5L117.0 160.1L116.2 161.3L117.8 162.0L117.2 163.3L118.7 163.1L118.2 164.8L120.0 164.7L118.7 166.0M115.2 159.5l1.5 0.2M116.2 161.3l1.4 -0.5M117.2 163.3l-0.6 -1.4M118.2 164.8l1.4 -0.5M163.1 181.4L164.7 181.1L164.1 179.8L165.7 179.6L165.1 177.7L166.6 178.5L166.6 176.8L167.9 177.6M164.7 181.1l-1.3 0.7M165.7 179.6l-0.2 1.5M166.6 178.5l1.5 0.1M150.7 159.6L148.7 159.8L150.2 161.2L148.8 162.1L150.3 162.5L148.7 162.9L150.0 163.7L148.3 164.2L150.0 165.0L148.7 165.9L150.2 166.5M148.7 159.8l1.0 -1.1M148.8 162.1l1.3 0.8M148.7 162.9l1.2 0.8M148.3 164.2l0.1 1.5M148.7 165.9l1.5 -0.1M120.6 156.9L119.0 156.6L119.8 157.8L118.2 157.3L119.0 158.7L117.6 158.9M119.0 156.6l1.3 -0.7M118.2 157.3l-1.5 -0.3M161.4 162.0L161.5 160.3L159.8 160.6L160.0 158.9L158.8 160.4L158.1 158.9L157.0 160.2M161.5 160.3l1.5 -0.2M160.0 158.9l1.5 0.3M158.1 158.9l-1.4 0.5M99.2 157.2L100.9 157.3L100.5 155.9L102.3 156.0L101.2 154.6L103.2 154.8M100.9 157.3l-1.2 -1.0M102.3 156.0l-0.2 1.5" stroke="#8428a8"/><path d="M144.6 135.7L144.6 134.1L143.5 135.1L142.3 133.9L142.1 135.7L140.8 134.6L140.4 136.1L138.5 135.7L139.2 137.3L137.7 136.8M144.6 134.1l-1.1 -1.0M142.3 133.9l-1.5 -0.2M140.8 134.6l0.0 -1.5M138.5 135.7l-0.8 1.3M105.4 162.1L103.8 162.6L104.6 163.9L102.7 164.1L103.4 165.9L101.8 166.2L103.0 167.5L101.5 168.3L102.9 168.7L101.9 170.2M103.8 162.6l0.3 -1.5M102.7 164.1l1.4 0.6M101.8 166.2l-1.3 0.8M101.5 168.3l-1.0 1.1M146.0 140.4L146.7 139.2L145.3 139.6L145.4 138.1L143.7 138.8L144.0 137.2L142.4 137.9L142.7 136.1M146.7 139.2l-0.1 -1.5M145.4 138.1l1.1 -1.0M144.0 137.2l1.5 -0.1M123.9 192.1L123.2 190.8L122.2 191.9L121.5 190.2L120.7 191.5L120.1 190.0L118.8 191.3L118.6 189.5L117.0 190.6L116.5 188.9L115.5 189.9M123.2 190.8l1.4 -0.5M121.5 190.2l1.5 -0.3M120.1 190.0l1.0 1.1M118.6 189.5l-0.6 -1.4M116.5 188.9l-1.3 0.7M138.0 145.5L139.4 145.2L138.4 144.1L140.4 144.1L139.2 142.9L140.7 142.0L139.7 141.0L141.2 140.6L140.2 139.2L142.0 139.9M139.4 145.2l0.8 -1.2M140.4 144.1l1.4 -0.5M140.7 142.0l-0.8 -1.3M141.2 140.6l0.4 1.4M116.6 134.7L118.2 134.2L117.3 132.6L119.2 132.7L118.2 131.6L120.0 130.7L119.4 128.8L120.9 128.4L119.4 127.2L120.9 126.0M118.2 134.2l0.4 -1.4M119.2 132.7l1.5 -0.0M120.0 130.7l-1.4 -0.6M120.9 128.4l1.2 -0.9M150.0 142.7L150.7 141.4L149.3 141.8L149.4 140.4L148.0 140.9L148.0 139.2L146.2 139.7L145.9 138.3M150.7 141.4l0.1 -1.5M149.4 140.4l1.3 -0.7M148.0 139.2l-1.5 -0.0M123.7 182.3L125.2 181.7L124.0 180.3L125.4 179.4L123.7 178.5L125.2 178.1L124.2 177.1L125.8 176.7L125.0 175.2L126.4 175.4M125.2 181.7l0.2 1.5M125.4 179.4l-1.3 -0.7M125.2 178.1l-0.8 -1.2M125.8 176.7l1.0 -1.1M120.6 135.0L121.6 136.7L122.1 135.2L123.6 136.2L123.6 134.8L125.3 135.6M121.6 136.7l1.5 -0.1M123.6 136.2l1.0 -1.1M156.1 163.8L156.6 165.1L157.5 163.4L158.4 165.1L159.1 163.9L160.5 164.7L161.1 163.0L162.9 163.5L162.9 161.8L164.5 162.5L165.0 160.8M156.6 165.1l1.5 -0.2M158.4 165.1l-1.5 0.2M160.5 164.7l1.4 0.6M162.9 163.5l-1.1 1.0M164.5 162.5l-1.4 0.6M144.8 186.9L146.6 186.1L145.6 184.6L147.2 183.6L146.2 182.6L147.8 182.4M146.6 186.1l0.6 -1.4M147.2 183.6l1.2 0.9M123.9 175.0L122.1 174.4L121.2 176.0L119.8 175.1L119.6 177.0L118.8 175.5L117.4 176.6L116.4 175.5L115.4 176.7L114.6 175.5L113.9 177.2M122.1 174.4l0.9 -1.2M119.8 175.1l0.7 1.3M118.8 175.5l-0.2 1.5M116.4 175.5l1.2 -0.8M114.6 175.5l-1.3 0.7M147.8 174.0L147.2 172.2L145.7 172.4L145.5 170.8L144.3 171.5L144.0 170.0L143.0 171.5L142.5 170.0L141.1 170.9L141.0 169.2M147.2 172.2l0.8 -1.3M145.5 170.8l-1.1 -1.1M144.0 170.0l-0.5 1.4M142.5 170.0l0.2 -1.5M111.5 162.6L111.7 164.3L112.9 162.9L113.6 164.4L114.9 163.0L115.5 164.5L116.5 163.0L117.2 164.7L117.9 163.4M111.7 164.3l1.0 1.1M113.6 164.4l1.5 0.3M115.5 164.5l1.2 0.9M117.2 164.7l-1.3 0.8M136.8 130.6L135.7 131.5L137.2 131.6L135.6 132.7L136.8 133.5L135.3 134.0M135.7 131.5l-1.2 0.9M135.6 132.7l-0.2 -1.5M138.4 182.6L136.9 181.8L137.1 183.6L135.5 183.3L136.1 185.0L134.7 184.3L135.9 185.9L134.1 185.7L134.5 187.1L132.6 187.0L132.4 188.7M136.9 181.8l-0.9 1.2M135.5 183.3l-1.5 -0.4M134.7 184.3l1.5 0.3M134.1 185.7l-1.5 -0.3M132.6 187.0l1.5 0.3M143.3 170.4L141.7 169.2L141.1 170.7L140.0 169.7L139.7 171.5L138.5 170.2L138.2 171.6L136.9 170.6M141.7 169.2l1.3 0.8M140.0 169.7l1.0 -1.1M138.5 170.2l-0.4 1.4M142.4 149.8L143.4 148.7L141.9 148.0L143.5 147.3L142.4 145.8L143.6 144.7L142.1 143.7L143.5 142.6L142.1 141.9L143.8 140.9L142.4 139.7M143.4 148.7l1.1 1.0M143.5 147.3l-1.2 0.8M143.6 144.7l-0.6 1.4M143.5 142.6l-1.0 1.1M143.8 140.9l-0.9 1.2M138.3 184.4L139.3 182.9L137.4 182.5L138.2 181.3L136.6 180.9L137.5 179.8L136.1 179.8M139.3 182.9l-0.7 -1.3M138.2 181.3l-1.4 -0.5M137.5 179.8l-0.6 -1.4M127.2 156.2L128.9 156.4L128.3 155.1L130.0 155.4L129.7 153.5L131.2 153.7L131.0 151.8L132.7 152.3L132.0 150.5L133.4 150.6L132.5 149.0M128.9 156.4l-1.4 0.5M130.0 155.4l1.3 0.7M131.2 153.7l1.4 0.5M132.7 152.3l1.1 1.0M133.4 150.6l-1.5 0.0M146.3 161.0L146.3 162.9L147.4 162.0L147.1 163.6L148.6 163.1L149.0 164.9L150.7 164.5L150.1 165.8M146.3 162.9l-0.7 -1.3M147.1 163.6l0.3 1.5M149.0 164.9l-1.4 0.4M131.2 130.6L130.3 131.8L131.8 131.7L130.9 133.5L132.8 132.9L132.5 134.5L133.7 133.3L133.1 134.8M130.3 131.8l-0.9 -1.2M130.9 133.5l-1.5 -0.2M132.5 134.5l-1.3 0.8M135.4 184.6L136.1 182.9L134.6 182.3L136.2 181.6L134.9 180.7L136.0 179.3L134.1 179.5L135.2 178.0M136.1 182.9l-1.5 0.2M136.2 181.6l0.5 1.4M136.0 179.3l1.0 -1.1M127.9 190.3L128.4 189.0L126.5 188.7L126.4 186.8L125.2 187.5L125.6 186.1L124.1 186.1L125.2 184.7M128.4 189.0l-0.1 -1.5M126.4 186.8l-1.2 -0.9M125.6 186.1l0.4 -1.5M125.3 193.3L126.7 192.7L125.4 191.8L126.5 190.3L125.2 189.7L126.8 188.7M126.7 192.7l-0.2 1.5M126.5 190.3l1.0 1.1" stroke="#149a8a"/><path d="M115.4 144.5L114.3 145.4L115.9 145.3L115.3 146.8L116.9 147.0L116.4 148.4L118.4 148.5M114.3 145.4l-1.5 -0.1M115.3 146.8l0.1 -1.5M116.4 148.4l-1.5 -0.0M151.6 186.4L153.6 186.2L152.5 185.2L154.2 184.5L153.5 183.3L155.0 183.3L154.0 181.6M153.6 186.2l0.9 -1.2M154.2 184.5l-0.5 1.4M155.0 183.3l0.4 -1.5M128.9 177.6L127.4 177.9L128.2 179.1L126.9 180.0L128.2 180.6L127.6 181.9M127.4 177.9l1.4 -0.5M126.9 180.0l0.8 -1.3M113.7 179.9L114.8 181.0L114.9 179.3L116.2 179.9L116.1 178.1L117.8 178.1M114.8 181.0l1.4 0.5M116.2 179.9l1.5 -0.0M112.8 139.6L113.4 141.1L114.8 140.0L116.3 141.3L116.4 139.6L117.7 140.1L117.6 138.4L119.3 139.0L118.8 137.1L120.6 137.4L120.7 135.5M113.4 141.1l-1.3 0.8M116.3 141.3l-1.5 -0.2M117.7 140.1l-0.2 1.5M119.3 139.0l-0.3 1.5M120.6 137.4l1.1 -1.0M114.3 185.4L114.8 187.3L116.4 186.1L116.6 187.9L118.0 187.4L117.4 189.1L118.6 188.2M114.8 187.3l-1.1 -1.0M116.6 187.9l-1.0 -1.1M117.4 189.1l1.3 0.7M152.0 196.1L152.8 194.8L151.1 195.1L151.7 193.6L149.8 193.4L150.1 191.6L148.4 192.0L148.6 190.4M152.8 194.8l-1.0 1.1M151.7 193.6l1.5 0.4M150.1 191.6l-1.5 -0.3M164.7 171.9L166.3 171.0L165.4 169.8L166.8 169.1L166.0 167.5L167.3 166.7M166.3 171.0l1.4 -0.6M166.8 169.1l-0.1 -1.5M126.8 178.5L126.7 180.1L127.9 179.3L128.5 181.2L129.7 180.3L129.5 181.7L131.4 181.3L131.6 182.8L132.7 181.7M126.7 180.1l-1.4 -0.6M128.5 181.2l0.8 1.3M129.5 181.7l-1.1 -1.0M131.6 182.8l0.4 -1.4M155.5 139.6L154.5 138.5L154.1 140.3L152.5 139.1L152.6 140.9L151.4 140.2L151.5 142.1L150.3 141.3L150.4 142.8M154.5 138.5l1.4 0.5M152.5 139.1l-0.1 1.5M151.4 140.2l1.3 0.8M150.3 141.3l1.4 0.5M124.0 138.9L124.7 140.5L125.7 139.3L126.7 140.5L127.0 138.7L127.4 140.2L128.6 139.1L128.7 140.8M124.7 140.5l0.6 -1.4M126.7 140.5l0.3 -1.5M127.4 140.2l-0.6 1.4M121.6 146.5L121.0 148.1L122.8 148.8L121.6 149.6L123.1 149.7L122.7 151.4L124.4 151.0L123.5 152.2L124.7 153.1M121.0 148.1l-1.5 0.2M121.6 149.6l-0.2 -1.5M122.7 151.4l-0.3 1.5M123.5 152.2l-0.4 1.4" stroke="#d42a9a"/><path d="M169.8 140.2L169.6 138.2L167.7 138.8L168.5 137.0L166.7 137.8L167.6 136.2L166.2 136.6M169.6 138.2l-1.5 0.3M168.5 137.0l1.5 0.1M167.6 136.2l-0.9 1.2M102.6 159.6L103.8 158.1L102.4 157.9L103.2 156.2L101.7 155.9L102.1 154.2L100.5 154.5L101.4 153.3L99.7 153.2M103.8 158.1l-0.5 1.4M103.2 156.2l-1.5 -0.1M102.1 154.2l0.9 -1.2M101.4 153.3l-0.2 1.5M140.0 161.9L141.0 160.3L139.3 159.9L140.4 158.7L139.0 158.6L139.6 157.3L138.2 157.7L139.4 156.2M141.0 160.3l-1.5 0.0M140.4 158.7l1.2 0.9M139.6 157.3l-0.8 1.2M163.8 148.0L162.2 147.1L161.8 148.5L160.3 147.9L160.5 149.9L158.8 149.5M162.2 147.1l-1.0 -1.1M160.3 147.9l1.5 0.4M137.4 140.6L138.8 140.4L138.1 139.1L139.7 139.3L138.4 137.8L140.2 137.6M138.8 140.4l-1.4 0.4M139.7 139.3l-0.5 -1.4M130.3 161.4L132.1 161.0L130.6 160.0L132.3 159.2L131.3 157.7L132.7 156.7L131.3 156.5M132.1 161.0l1.5 -0.1M132.3 159.2l1.2 -1.0M132.7 156.7l-1.2 -0.8M148.7 166.1L149.8 164.6L148.0 165.2L148.5 163.8L146.7 164.3L147.4 162.5M149.8 164.6l1.0 1.2M148.5 163.8l0.4 -1.5M92.7 170.5L93.7 171.5L94.1 169.8L95.7 170.9L96.7 169.4L97.7 170.5L98.4 169.1L98.8 170.4M93.7 171.5l-1.0 -1.1M95.7 170.9l0.5 -1.4M97.7 170.5l1.0 1.1M153.3 162.8L152.4 164.3L154.2 164.9L153.0 166.0L154.9 166.5L154.4 168.2L155.8 168.2M152.4 164.3l1.2 1.0M153.0 166.0l1.4 -0.5M154.4 168.2l0.2 1.5" stroke="#0d7a2c"/><path d="M137.1 184.6L137.7 183.1L136.0 183.1L136.2 181.6L134.8 182.1L134.5 180.5L133.0 181.6L132.3 180.2M137.7 183.1l-1.5 -0.4M136.2 181.6l-1.3 0.8M134.5 180.5l-1.5 -0.2M107.4 143.0L108.7 142.1L108.2 140.8L110.1 140.5L109.5 138.7L111.2 138.6L110.1 137.5L111.7 138.1M108.7 142.1l1.3 -0.7M110.1 140.5l0.4 -1.5M111.2 138.6l1.3 -0.8M121.0 181.4L121.0 179.9L120.2 181.2L119.0 179.8L118.2 181.4L118.0 179.6M121.0 179.9l0.5 -1.4M119.0 179.8l1.2 -0.9M106.0 169.6L107.8 170.2L108.0 168.7L109.3 169.6L109.7 167.8L110.5 169.3L111.6 167.7L113.2 168.7L113.6 167.3L114.4 169.0L115.2 167.5M107.8 170.2l1.5 0.2M109.3 169.6l-1.2 -0.8M110.5 169.3l-0.9 1.2M113.2 168.7l0.8 -1.3M114.4 169.0l0.1 -1.5M121.8 173.4L120.0 174.3L121.5 175.0L119.8 176.0L121.1 176.6L119.8 177.5M120.0 174.3l1.2 -0.9M119.8 176.0l-0.7 -1.3M159.0 165.3L159.9 166.6L161.1 165.5L160.7 166.8L162.5 166.6L162.1 168.4L163.6 167.8L163.8 169.4L165.3 169.4L164.3 171.1L165.8 171.7M159.9 166.6l-0.5 -1.4M160.7 166.8l-0.3 1.5M162.1 168.4l-1.5 -0.1M163.8 169.4l-0.5 -1.4M164.3 171.1l-0.8 -1.3M111.1 145.5L109.5 146.0L110.7 147.4L108.8 147.6L109.7 148.9L108.2 148.8L108.7 150.7L107.0 149.7M109.5 146.0l-1.2 0.8M108.8 147.6l-0.0 -1.5M108.2 148.8l1.4 0.5M141.1 159.5L141.7 161.2L142.9 160.4L142.4 161.9L144.0 162.1L143.2 163.6L144.4 162.9L143.7 164.6L145.6 164.1L145.2 165.8M141.7 161.2l-0.5 1.4M142.4 161.9l1.1 1.0M143.2 163.6l1.2 0.9M143.7 164.6l0.2 1.5M148.9 166.0L150.4 167.1L150.4 165.2L152.2 165.8L152.0 163.9L153.4 164.4L153.2 162.8L155.1 163.1L154.1 161.4M150.4 167.1l1.1 -1.0M152.2 165.8l-1.5 -0.1M153.4 164.4l1.4 -0.4M155.1 163.1l-1.3 0.8M127.6 178.4L128.3 180.1L129.5 178.7L130.7 180.3L131.6 178.6L132.4 180.2L133.2 179.0L134.0 180.5M128.3 180.1l1.5 -0.0M130.7 180.3l0.4 1.4M132.4 180.2l-0.6 -1.4M154.7 174.2L155.7 175.5L157.0 174.7L158.0 176.3L158.4 174.9L159.4 176.0L160.4 174.4L160.6 175.9M155.7 175.5l-1.5 0.4M158.0 176.3l1.5 -0.1M159.4 176.0l-1.5 -0.3" stroke="#5a64f0"/><path d="M148.7 147.4L148.7 149.3L149.8 148.0L150.4 149.8L151.6 148.9L152.2 150.8L153.8 149.8L154.5 151.4L155.9 150.6L155.7 152.5L157.4 151.6M148.7 149.3l0.9 1.2M150.4 149.8l1.1 -1.0M152.2 150.8l-0.2 1.5M154.5 151.4l-1.4 -0.6M155.7 152.5l-0.2 1.5M124.1 165.9L124.4 167.5L125.5 166.4L125.8 167.9L127.2 166.5L127.7 168.0L129.0 166.4L130.1 167.8M124.4 167.5l1.0 -1.1M125.8 167.9l-0.8 1.3M127.7 168.0l-0.0 1.5M135.0 136.8L135.0 134.9L133.4 135.3L134.0 133.9L132.7 134.6L133.0 132.9M135.0 134.9l-0.5 1.4M134.0 133.9l0.6 1.4M120.4 142.2L121.5 140.9L119.6 140.7L120.9 139.4L119.3 139.1L119.7 137.7L118.0 137.7L118.3 135.9M121.5 140.9l1.2 0.8M120.9 139.4l-1.3 0.7M119.7 137.7l-1.3 -0.7M114.4 170.8L113.0 171.0L114.1 171.9L112.7 172.2L113.5 173.6L111.7 173.2M113.0 171.0l-0.2 -1.5M112.7 172.2l-0.7 -1.4M148.7 169.1L147.1 168.5L147.6 169.8L146.2 170.6L147.8 171.1L146.5 171.8L147.8 172.9M147.1 168.5l-1.4 -0.6M146.2 170.6l-0.5 1.4M146.5 171.8l-1.0 -1.1M108.8 135.9L110.2 137.1L110.4 135.7L111.3 136.9L111.5 135.3L112.8 136.2M110.2 137.1l-1.5 -0.1M111.3 136.9l-1.0 -1.1M134.3 180.7L133.0 179.8L132.3 181.2L130.9 179.9L130.3 181.4L128.9 180.5L128.6 182.0L126.9 181.5L126.9 183.0M133.0 179.8l0.2 -1.5M130.9 179.9l0.7 1.3M128.9 180.5l1.5 -0.1M126.9 181.5l0.8 -1.3M159.9 140.4L158.4 140.1L158.7 141.8L156.9 141.7L157.0 143.2L155.5 142.4L155.5 144.2L154.5 142.8L153.9 144.3M158.4 140.1l-0.1 1.5M156.9 141.7l-0.2 1.5M155.5 142.4l0.6 1.4M154.5 142.8l1.2 0.9M119.2 161.7L117.9 160.8L118.1 162.5L116.5 162.1L117.3 163.9L115.8 164.2L116.7 165.4M117.9 160.8l-1.5 0.0M116.5 162.1l-1.0 -1.1M115.8 164.2l-1.3 0.7M132.9 140.3L133.6 138.8L131.9 138.8L132.4 137.2L130.5 137.6L131.1 136.1L129.2 136.7M133.6 138.8l-1.5 -0.3M132.4 137.2l-1.5 -0.1M131.1 136.1l-0.4 1.4M116.8 141.1L118.4 142.2L118.8 140.5L120.0 141.9L120.7 140.3L121.9 141.8M118.4 142.2l-1.1 -1.0M120.0 141.9l1.4 -0.4M90.7 162.5L89.1 163.5L90.7 163.5L89.7 164.6L91.1 164.8L89.9 165.9L91.8 165.7L91.4 167.4L92.8 167.2L91.9 169.0L93.4 170.0M89.1 163.5l-0.1 1.5M89.7 164.6l0.1 1.5M89.9 165.9l1.4 0.6M91.4 167.4l-1.5 -0.3M91.9 169.0l0.6 -1.4M124.8 155.6L124.9 153.9L123.4 154.9L123.4 153.0L122.0 154.2L121.7 152.3L120.4 153.1L120.3 151.3M124.9 153.9l-1.2 -0.9M123.4 153.0l-1.2 0.9M121.7 152.3l0.2 -1.5M148.9 140.9L150.6 141.1L149.7 139.4L151.2 139.4L150.6 137.9L152.4 138.1M150.6 141.1l1.0 1.1M151.2 139.4l1.5 0.3M142.1 151.1L141.8 152.8L143.5 152.7L142.7 154.0L144.3 152.9L144.7 154.5L146.0 153.3L146.5 154.9L147.8 154.0L148.1 155.8L149.8 155.3M141.8 152.8l0.2 -1.5M142.7 154.0l0.2 -1.5M144.7 154.5l-1.5 0.1M146.5 154.9l0.1 1.5M148.1 155.8l1.0 1.1" stroke="#d84a3a"/></g></g>
<g fill="none" stroke-linecap="round" transform="translate(224.5 236.5) scale(0.94) translate(-224.5 -236.5)"><path d="M212.1 267.7L212.0 269.3L211.0 271.0L211.0 272.6M231.8 217.0L230.7 215.3L229.8 214.4L228.7 213.6M221.6 208.2L221.2 209.7L221.8 210.7M236.0 220.6L236.3 219.3L235.2 218.5L234.2 216.7M245.7 240.8L243.7 240.7L243.0 239.7M204.4 211.4L206.2 210.4L206.9 209.4M206.9 262.9L207.6 264.7L208.2 266.3M195.1 237.3L194.7 239.0L195.4 240.1M258.6 226.6L257.6 225.1L257.9 223.9L257.1 222.4M207.3 225.1L205.6 226.0L204.5 224.9M226.2 210.3L226.0 211.9L226.8 213.1L228.5 213.1M210.8 206.0L209.3 204.6L208.4 203.2M239.0 222.3L240.0 220.7L241.2 220.3M248.6 237.2L248.1 238.7L246.5 239.8L244.9 240.0M236.8 214.7L237.9 215.5L239.6 216.4M245.4 221.3L245.5 219.5L244.7 217.8M214.5 246.5L214.7 248.0L215.0 249.3L214.8 251.2M245.0 245.6L243.3 245.5L242.8 243.8M249.8 226.2L250.6 228.1L249.5 229.3L247.7 228.6M221.3 205.9L222.9 206.7L224.2 207.4L225.3 208.4M206.1 218.1L206.9 216.7L205.7 215.1M202.7 221.6L202.5 223.3L201.6 224.3M198.3 214.2L200.0 213.8L201.4 213.6L202.0 211.9M239.5 250.0L238.1 251.5L236.9 252.5M213.1 235.3L211.8 236.1L211.4 237.8L212.8 239.2M212.4 218.3L211.4 216.7L210.3 214.9M219.3 199.5L219.9 197.5L220.1 195.6L221.4 195.4M208.5 215.4L210.2 214.2L211.9 213.7L213.2 212.8M201.2 210.1L202.2 208.5L202.8 206.8M245.0 248.7L245.7 247.6L246.5 246.6M216.1 207.9L215.9 209.8L217.1 211.0M228.7 252.7L227.2 252.9L226.2 253.5L225.2 254.7M212.6 245.3L211.4 247.0L210.1 248.6L210.0 249.9M244.8 241.3L243.8 239.5L242.4 238.0L242.7 236.3M215.0 225.6L214.4 224.5L215.0 222.7L216.0 221.6M225.2 210.8L225.0 209.3L224.0 208.0L224.0 206.6M204.7 241.8L205.6 243.2L207.1 244.6M220.7 216.4L220.7 214.4L220.2 213.2L220.4 211.9M202.6 234.3L203.8 234.6L205.7 234.5M214.0 225.0L215.4 225.1L217.2 225.3M257.5 236.6L258.9 235.0L258.2 233.3L257.3 232.1M257.3 236.4L258.9 237.0L258.6 238.4M214.6 222.5L216.4 222.6L218.4 222.4M239.7 234.0L241.2 234.7L242.8 234.4M242.0 243.5L243.9 243.3L245.5 244.5M225.8 220.4L227.2 220.0L227.8 218.9M223.8 223.6L225.1 223.1L226.4 221.8L226.5 220.5M226.9 255.8L228.0 255.0L229.6 254.1M227.6 206.7L226.8 208.1L227.1 210.1L226.9 212.1M193.4 216.4L193.8 217.8L192.5 219.4M224.9 198.4L225.7 197.2L226.2 195.7M256.2 230.9L256.1 229.5L254.9 228.0M236.9 248.7L236.6 250.3L235.8 251.6L235.8 253.4M191.9 214.9L192.0 213.2L193.3 212.3M211.0 215.6L210.0 216.2L209.1 218.1L207.8 218.6M207.8 245.3L209.3 244.7L210.5 245.0L211.4 246.3M215.2 216.5L213.7 216.1L212.0 216.8L211.2 215.9M197.0 244.5L195.4 244.4L193.5 244.8M232.5 208.0L231.1 207.7L230.0 206.5L228.2 206.0M204.9 245.4L203.1 245.5L201.8 245.1M248.3 226.5L248.2 227.9L247.0 229.6M197.9 243.6L199.3 243.9L199.9 245.7M215.3 238.8L215.5 240.1L215.3 241.5M243.7 245.5L245.2 245.8L246.9 246.0L248.1 245.8M214.5 250.5L215.6 251.3L215.1 252.6M221.1 207.6L222.5 208.3L224.0 208.5M211.1 264.7L210.7 262.9L211.4 261.0L213.1 260.0M259.9 239.8L258.2 240.6L256.8 241.0L256.3 242.6M219.3 245.5L219.1 244.3L218.3 243.0M247.6 248.0L249.1 247.9L249.6 246.4L248.7 244.6M239.7 244.4L241.1 244.1L243.0 244.8L242.9 246.5M199.9 209.0L199.3 210.9L198.6 212.2L198.2 213.3M210.6 273.4L210.7 274.7L211.0 276.3L212.2 276.9M198.8 214.3L198.0 215.5L196.6 215.2M224.9 247.8L225.3 246.1L224.2 245.0L224.5 243.5M202.4 250.7L204.4 250.8L205.3 252.1M230.2 201.4L230.3 203.0L229.9 204.2L229.9 205.8M237.8 235.5L239.6 234.6L241.1 235.0M246.1 225.1L247.1 226.9L247.9 228.4M253.3 224.2L254.9 225.3L256.1 224.2L255.7 222.5M206.5 245.2L204.5 245.4L203.5 246.4L202.1 247.2M244.3 240.2L244.6 238.4L244.2 237.0M210.5 239.3L208.7 239.3L207.4 238.9M210.1 210.3L210.2 211.7L209.3 212.9M220.3 255.2L220.3 257.2L219.1 258.7M239.5 244.0L239.8 245.6L238.7 246.8L238.8 248.2M224.0 217.1L225.7 217.7L226.5 219.6L227.0 221.5M247.9 230.4L249.2 231.5L249.7 233.1L251.4 234.0M194.5 216.0L195.4 216.9L197.3 217.6L198.2 219.2M261.2 234.6L259.3 233.7L258.2 232.2L257.9 231.0M232.1 213.3L232.2 214.6L231.7 215.9M196.6 216.1L195.3 216.0L193.6 215.7L192.6 216.5M256.7 225.5L258.1 226.3L259.1 227.9L258.6 229.3M226.0 202.0L224.8 202.0L222.8 201.9M226.6 247.7L225.0 248.2L223.9 247.3L223.2 245.7M251.7 247.6L251.6 246.3L252.8 245.0M212.3 235.7L213.4 236.2L214.2 237.1L215.9 236.4M212.0 247.9L210.9 249.4L209.8 250.6M220.2 213.4L219.9 211.7L221.1 211.0L223.1 211.3M239.7 218.2L239.8 219.6L240.6 220.8L239.6 222.2M237.4 231.8L238.5 232.9L240.0 233.2M220.2 252.6L221.4 251.9L222.2 251.0L221.9 249.2M204.0 249.4L205.1 249.1L205.7 247.8L207.4 247.5M226.5 205.3L227.6 204.4L229.5 203.6M239.6 242.3L241.1 242.1L242.0 241.1M209.9 270.2L208.2 270.1L207.4 268.7L208.5 267.6M225.9 233.8L224.5 233.6L222.9 234.6L221.9 236.3M222.7 223.2L223.2 221.6L223.4 220.0L224.4 219.2M242.3 220.1L241.9 221.6L240.2 222.4L238.5 222.9M238.2 214.4L238.4 212.8L238.6 211.4L237.5 210.1M217.8 245.7L216.5 244.4L216.4 243.1L215.2 241.5M226.5 257.4L225.9 255.6L227.0 255.0M211.2 233.8L212.9 234.2L213.9 235.7L215.1 236.0M257.5 232.9L259.1 233.6L260.8 232.6M234.7 198.8L233.1 197.9L231.7 198.1M208.2 213.0L210.1 212.1L209.8 210.1L209.1 209.1M222.3 213.4L223.6 212.9L225.1 212.0L226.2 211.2M194.3 234.3L195.4 234.7L197.2 233.9L198.8 233.9M203.9 269.3L202.5 268.8L200.5 268.9M224.4 199.4L224.8 198.2L225.5 197.2L226.0 195.8M191.4 223.9L191.0 225.5L190.4 226.6M227.4 226.5L226.9 228.0L227.5 229.3M251.0 244.9L251.9 246.1L253.0 245.7M232.3 198.4L233.9 198.8L235.1 197.6L236.5 197.6M231.0 218.6L230.0 219.3L228.9 218.6L227.7 218.1M238.9 231.0L239.9 229.3L240.5 227.9L240.4 225.9M240.2 221.5L239.8 222.7L240.6 224.0M219.3 231.6L221.2 232.3L221.4 233.9L222.3 235.2M219.7 228.2L219.6 226.6L220.7 225.5L222.5 226.0M207.7 252.4L208.5 251.3L209.9 251.7M253.2 241.6L254.1 239.9L254.0 237.9M213.7 232.1L215.1 232.6L215.9 234.4L217.4 235.2M208.6 256.1L210.1 256.8L210.8 258.4M218.2 213.9L217.9 215.5L216.4 215.8L214.9 214.9M201.7 208.4L200.6 207.6L198.8 208.5L197.2 208.5M247.7 250.6L246.3 250.5L245.1 250.6M194.4 228.6L194.2 229.9L195.1 231.5L195.2 233.0M208.4 209.7L206.8 210.1L204.8 210.3M259.1 236.1L258.2 237.9L257.0 239.1L255.6 239.9M250.0 241.3L248.2 240.3L248.3 239.0M220.7 250.4L219.6 251.0L219.9 252.5M201.0 221.9L199.7 220.8L200.3 219.5L202.1 219.3M236.7 232.4L237.7 230.9L239.6 231.1M190.0 221.7L191.7 220.6L193.0 221.9M238.6 248.3L239.5 246.4L239.8 245.2M215.7 243.0L215.8 244.7L215.7 246.0M196.6 214.5L198.4 214.9L199.6 214.3L199.7 212.7M238.7 234.6L237.6 233.6L237.8 231.7M216.8 256.0L218.4 256.8L220.4 256.8L221.9 256.6M212.3 234.1L213.0 235.8L213.1 237.3L213.1 239.3M228.3 212.0L227.8 210.8L228.0 209.6M238.2 224.5L237.7 222.5L236.8 220.8M202.5 247.0L202.3 245.2L200.3 244.6M228.5 194.9L228.4 193.1L229.4 192.2L230.9 192.7M206.5 253.3L207.6 254.7L209.4 254.6M242.7 223.0L241.7 224.1L240.2 225.2L238.8 224.4M249.9 243.2L251.8 243.1L252.5 241.6L251.1 240.4M215.5 235.4L214.8 236.5L213.8 237.9L212.3 237.9M220.4 219.1L221.6 219.8L221.2 221.0L220.2 221.9M249.8 229.0L250.1 227.4L249.7 225.9M235.3 199.1L236.4 197.5L237.7 197.9M212.9 272.2L211.9 273.6L210.5 274.7L211.3 276.1M261.6 236.3L262.5 237.9L264.1 238.1L265.6 238.8M240.5 251.7L239.1 250.7L238.0 251.7L236.8 251.4M212.0 240.5L213.1 240.3L214.4 240.5L215.6 240.2M253.3 244.8L254.6 245.4L256.6 245.2M241.4 248.1L240.0 249.0L239.3 250.6L237.7 251.6M220.0 228.0L220.4 226.9L220.0 225.1L220.0 223.2M219.6 246.3L220.5 245.3L220.7 244.1L220.0 243.0M211.0 236.1L209.9 237.3L208.5 238.6M203.1 246.4L201.8 247.2L201.5 248.7L203.2 249.5M218.8 255.0L220.1 256.1L221.7 256.3M253.2 242.6L255.1 242.2L256.9 242.3L257.9 243.8M194.6 235.5L195.0 234.1L195.2 232.9L195.6 231.4M242.7 245.2L242.6 243.9L242.8 241.9L244.4 240.5M233.6 220.8L235.4 220.5L237.2 220.2L238.2 221.0M223.6 216.1L224.7 216.6L226.1 217.3L227.3 216.5M225.7 231.3L226.8 232.4L226.4 234.2L224.9 235.2M255.3 245.7L255.7 244.0L257.1 242.7L256.7 241.2M222.6 208.7L221.5 208.1L220.2 207.0M206.5 242.0L205.9 240.6L207.5 239.3L209.1 239.2M199.9 243.3L201.6 242.1L201.9 240.4L200.5 239.3M205.0 211.0L203.8 211.7L202.1 210.6M203.6 216.1L203.5 214.6L204.7 214.1L205.3 212.4M248.6 220.5L248.2 222.5L248.0 223.8M220.9 247.1L219.5 247.1L217.5 247.4M244.0 226.2L242.6 226.0L241.9 227.6M200.4 247.1L199.6 249.0L200.6 249.8M203.1 237.6L204.7 237.5L205.3 236.1M254.4 225.2L255.7 224.7L257.5 224.5L259.1 225.2M207.2 214.4L209.0 214.1L210.8 214.4L212.0 213.4M200.5 241.5L199.5 240.8L198.2 240.2M228.4 213.4L228.9 212.3L228.0 210.5M245.1 233.6L244.0 234.9L245.0 236.3M259.1 238.7L260.6 238.9L261.7 237.9M245.5 225.1L244.6 226.4L245.5 227.4L244.4 228.8M218.6 207.1L219.6 208.2L219.2 210.0L218.8 212.0M198.2 230.4L196.4 230.2L194.7 230.1M213.5 251.5L215.1 251.8L215.1 253.6L215.0 255.6M218.8 204.3L219.8 203.0L221.4 203.5L222.4 202.0M200.8 238.0L199.3 238.7L197.2 238.6M220.2 255.8L219.0 254.6L218.8 253.4M241.6 225.1L240.6 226.2L239.9 227.8M240.1 236.6L238.0 236.7L237.0 235.1L234.9 234.9M221.1 223.0L222.3 223.2L223.5 223.7M230.2 225.2L229.0 226.4L228.1 228.3L228.8 229.6M218.4 237.2L217.5 238.1L216.1 238.1M231.4 216.1L231.2 214.4L232.0 213.4L231.5 212.2M214.9 254.1L216.4 255.1L216.0 257.0L216.6 259.0M228.1 251.5L226.7 251.6L225.7 253.2M249.2 251.9L250.5 252.9L251.2 254.5L251.1 256.3M195.2 233.7L195.7 235.4L197.2 235.9M244.8 229.2L244.8 230.8L245.1 232.6L244.3 233.8M196.5 242.6L195.3 242.8L194.6 244.3L194.1 246.2M246.7 217.3L247.3 218.9L249.2 219.7M204.1 218.5L202.4 219.4L201.4 218.7M245.6 223.3L243.9 222.4L244.3 220.3L242.8 219.5M241.5 238.2L240.3 239.4L240.5 240.7L241.3 241.8M199.3 237.5L198.1 239.1L198.1 240.5M255.5 230.2L255.5 229.0L256.1 227.5M218.7 203.0L220.2 202.9L221.5 203.1L223.3 203.8M203.3 260.6L201.4 260.8L200.1 262.0L198.6 262.8M218.3 233.7L217.7 231.9L215.7 231.2L215.4 229.6M208.8 263.9L209.6 265.2L208.3 266.6M213.2 250.6L211.8 249.7L210.0 249.3L208.5 248.8M200.1 251.0L199.2 251.8L198.2 253.6M242.8 217.3L241.8 215.8L240.3 214.3M235.1 200.4L236.6 200.7L238.0 200.4M229.6 211.1L230.8 210.2L231.6 209.2L233.3 208.2M229.4 226.3L229.1 228.0L230.3 229.2L231.5 229.5M244.7 221.2L244.4 219.2L243.3 218.2M210.7 219.8L209.4 220.9L208.2 220.0M213.5 211.4L214.3 212.4L215.7 212.7M209.4 266.0L207.8 266.0L207.0 265.0L205.1 265.0M224.2 218.2L225.7 219.4L225.0 221.0M202.5 239.4L202.9 240.6L202.7 242.3L201.3 242.5M222.1 240.3L222.6 238.9L224.2 237.9L225.3 237.5M239.1 242.5L238.9 241.2L240.0 240.6M216.3 229.0L216.0 230.5L214.2 230.8M227.0 255.4L226.0 256.5L224.2 257.5M257.0 238.4L258.3 239.3L259.8 239.7L261.7 239.6M225.4 204.6L226.2 203.3L227.9 202.9M245.2 232.9L244.2 233.9L242.8 233.7L241.0 234.7M203.9 206.5L204.3 204.7L205.1 203.3M250.8 241.7L252.5 241.4L253.1 240.2M208.9 224.0L209.9 222.7L211.1 222.3M217.1 219.6L217.6 221.5L217.9 222.8L218.6 223.9M239.6 242.1L239.0 241.0L237.8 239.5L237.6 237.7M245.6 240.9L247.0 241.3L248.8 240.3M224.1 254.8L222.8 256.1L222.1 257.6M248.2 227.6L247.7 229.1L247.2 230.6M248.8 243.7L250.2 242.9L249.7 241.3M208.2 258.7L209.4 258.4L209.9 259.6L208.4 260.9M191.0 224.1L192.3 223.8L193.0 222.1M207.0 213.8L206.1 215.6L204.9 215.8L203.5 214.4M201.4 215.9L200.1 215.1L198.6 215.5M201.4 251.3L202.1 249.7L201.5 247.7L201.7 246.5M214.2 216.9L215.5 217.5L216.7 216.2L218.3 217.1M222.9 220.9L221.5 219.6L220.4 220.0M214.0 216.1L216.0 216.6L217.1 217.1M205.8 208.9L204.2 207.8L202.3 207.0L202.1 205.4M216.3 208.8L216.0 210.2L215.5 211.5M243.3 246.1L243.1 244.4L241.6 244.4M232.9 198.4L234.7 197.4L235.9 195.9L236.2 193.9M228.4 215.0L226.7 213.8L225.4 214.0M205.6 261.5L204.4 259.9L203.8 258.0L202.5 256.7M205.1 251.3L206.3 251.0L207.4 249.3L208.8 249.7M223.7 227.4L222.7 229.1L221.8 229.8L220.6 230.4M238.7 215.4L238.7 214.0L240.1 213.3L240.2 212.1M216.7 239.7L215.2 239.6L213.4 240.3L212.2 241.3M242.1 221.5L243.7 220.5L243.5 219.3M214.7 239.7L216.3 239.9L217.5 238.8M191.0 226.5L189.7 227.9L187.7 227.8L186.4 229.3M196.3 236.3L196.3 234.2L196.3 232.5L195.7 231.0M197.0 242.6L198.1 242.0L199.8 241.7M250.1 246.3L251.0 245.2L252.9 245.2L254.0 246.8M210.1 207.1L209.4 208.4L208.4 209.9M195.3 211.5L194.9 213.1L196.2 214.3M255.8 239.6L255.6 238.3L256.8 237.1L258.3 236.0M197.0 211.1L198.2 210.7L199.6 211.2M200.7 218.2L200.9 216.8L202.4 216.1L202.6 214.2M224.6 198.9L225.2 197.6L226.7 197.1L228.1 196.9M199.5 231.5L198.3 231.0L198.2 229.5L199.5 228.5M212.6 209.5L213.4 208.6L215.1 209.0M211.5 263.2L209.8 263.2L209.5 261.2M238.2 231.9L238.1 230.1L239.2 228.7M207.6 255.7L208.4 254.8L209.1 253.2M232.5 208.7L233.4 210.1L235.3 209.4M234.9 206.4L233.4 205.1L232.0 204.4L231.7 203.0M194.9 234.6L196.1 235.2L197.2 234.1M221.8 235.6L223.0 235.9L223.8 234.8L224.2 233.3M202.2 228.9L200.2 229.2L199.9 230.6M210.0 225.0L211.0 223.8L212.1 222.5L212.4 221.2M239.9 237.0L239.7 238.6L238.6 239.7L237.3 241.1M258.1 239.9L259.1 239.0L260.2 237.3L261.7 237.0M219.4 223.2L220.7 222.4L220.6 220.5L220.2 218.9M199.5 233.7L197.6 233.3L196.0 233.7M259.0 228.1L257.2 228.5L256.0 228.2L254.9 227.4M238.2 232.9L237.2 234.8L235.9 235.1M219.1 228.2L218.1 227.5L216.5 226.8L215.0 226.3M241.7 219.6L242.6 218.8L243.4 217.2M234.6 232.7L233.3 232.0L231.9 232.5L230.2 233.4M214.3 265.0L213.5 266.1L211.4 266.4L210.1 266.7M211.5 209.5L210.7 211.4L210.6 212.6L209.9 214.0M217.5 226.1L217.9 228.0L219.0 229.0M243.3 237.0L241.9 237.2L240.9 237.8L240.4 239.1M205.2 234.2L204.3 235.2L202.8 235.9M235.1 228.4L235.0 229.7L236.4 231.0M219.8 235.5L220.6 234.0L219.9 232.1M194.8 223.2L193.2 224.2L192.0 223.2L190.9 223.7M239.1 251.8L237.8 251.6L236.8 252.5L235.3 253.5M203.4 249.2L202.0 249.0L200.3 248.7L198.7 248.1M247.2 233.6L248.2 232.2L247.1 230.9L246.7 229.3M252.1 246.8L252.2 245.3L253.6 244.4L255.0 245.2M201.8 232.4L201.3 234.0L200.1 235.7L198.5 235.2M223.7 206.8L224.8 207.5L225.8 208.7M215.0 217.7L213.5 218.7L212.0 219.4M203.7 225.8L203.2 227.1L202.2 227.8L202.5 229.6M249.9 234.9L250.1 236.6L248.6 237.9M249.6 226.0L250.8 224.8L251.8 223.3M224.0 248.7L222.4 247.9L221.7 246.9M212.0 263.2L211.7 264.7L210.7 266.3L208.9 266.6M197.3 221.0L196.2 219.6L195.0 218.8M191.2 216.0L192.2 217.8L192.5 219.5M202.2 220.1L200.9 219.7L199.1 220.6L197.7 222.0M244.2 239.1L243.0 240.0L241.7 241.0M225.4 223.2L225.1 221.2L224.9 219.7L225.5 217.8M208.8 216.6L207.8 217.6L206.2 216.8M246.1 244.6L246.9 242.9L247.4 241.5L246.3 240.1M254.9 246.2L255.2 244.4L255.6 242.5L257.6 242.1M240.6 241.4L241.7 239.9L240.6 238.7L240.2 237.0M207.0 262.7L206.1 263.7L204.8 262.9L203.2 263.0M252.3 245.4L250.7 245.2L249.5 243.8M214.7 253.2L213.4 253.0L211.8 253.8L210.5 253.3M245.2 238.3L243.9 238.3L242.7 237.6M231.0 206.4L233.0 206.8L234.8 206.3M214.8 244.8L214.4 246.3L212.5 246.3L210.7 245.9M222.7 210.1L224.0 209.8L225.4 210.7M245.6 239.4L247.5 238.7L248.9 237.9M238.6 245.4L239.5 246.3L240.5 245.7M208.0 268.9L208.2 270.8L208.1 272.7L209.0 274.0M215.2 217.8L216.0 219.2L217.4 219.1M197.0 221.4L196.2 222.5L194.3 223.2M226.9 250.2L225.3 249.5L224.0 249.0L222.8 249.3M237.8 236.7L237.2 235.2L235.4 234.7M225.3 255.9L225.6 257.3L225.2 259.1M240.3 221.3L242.3 221.3L243.1 223.0M213.5 238.6L213.9 239.8L213.2 241.3L211.5 241.6M221.0 226.1L220.4 225.1L219.5 224.1L218.3 224.9M254.0 226.3L254.1 224.9L254.1 222.8L255.9 222.5M214.5 231.3L215.7 229.7L216.6 228.8L218.5 229.5M240.0 234.7L238.8 233.4L237.1 232.9M244.9 245.8L243.5 244.6L241.8 245.0M223.5 211.0L221.7 211.8L221.3 212.9L219.4 213.5M244.3 225.5L244.5 226.7L243.6 228.1L241.5 228.4M239.6 248.2L240.2 249.6L241.4 249.7M238.8 225.5L240.1 225.3L241.8 226.4M199.6 220.2L199.7 218.3L199.8 216.8L199.9 215.2M205.4 216.0L206.6 215.3L208.7 215.4L210.2 214.6M196.8 214.9L195.9 213.2L195.5 211.9M195.0 218.7L195.4 216.9L195.1 215.4M241.3 225.2L240.7 223.7L239.5 222.2M212.0 222.6L213.2 222.2L214.1 223.7M221.7 248.0L222.6 248.9L223.4 249.8M220.6 199.8L220.5 198.2L220.7 197.0L221.4 195.7M225.1 227.3L225.2 226.0L223.6 224.9L221.9 225.8M233.4 205.8L231.8 206.2L230.1 206.5L228.1 206.1M194.0 218.7L195.4 219.8L197.1 220.6L198.3 219.7M209.3 255.1L210.3 253.3L210.8 252.1L212.1 251.5M247.2 248.9L246.2 249.6L246.6 251.0M236.8 218.3L236.9 216.8L235.5 215.8L233.8 215.2M248.8 222.6L249.0 221.4L248.9 219.9L249.1 218.3M202.8 252.5L204.6 253.2L206.1 254.1L207.3 253.7M221.1 209.9L220.7 211.3L218.8 211.1L217.6 210.3M209.8 222.4L208.7 223.7L206.9 224.2M194.0 211.7L192.5 211.3L190.8 212.1L190.5 213.9M258.1 228.7L258.3 226.9L259.3 226.2L260.9 226.5M256.3 230.2L256.3 229.0L257.1 227.4L256.3 226.0M229.2 226.3L230.1 224.6L230.7 222.6L232.7 222.6M237.7 229.7L239.0 231.0L239.3 232.2L238.7 233.7M227.1 251.4L229.1 251.0L229.4 249.6M223.9 207.2L225.4 206.6L226.7 207.3M226.7 214.8L227.6 215.9L227.9 217.2M228.1 205.8L229.8 205.8L230.6 204.2M219.6 217.6L217.7 218.1L216.5 219.1M226.0 197.8L226.3 199.3L225.7 200.5L225.4 202.2M216.7 246.8L217.6 248.2L216.2 249.5M191.7 226.7L191.8 224.8L190.5 223.5M251.5 231.7L250.6 230.1L249.2 230.2L248.6 231.9M209.8 263.1L208.9 261.8L208.3 259.9L207.3 258.5M220.9 229.6L219.0 229.5L217.0 229.4M250.3 231.5L250.6 229.7L249.1 228.5M246.5 244.2L247.9 243.9L249.5 243.6L250.9 243.5M193.3 234.2L193.7 236.1L193.9 237.9M193.6 240.8L194.7 242.4L196.6 242.3L198.2 243.0M238.3 232.3L239.1 234.0L240.3 234.9L242.0 234.4M214.1 211.6L214.6 213.0L214.4 214.9M212.5 210.3L212.0 212.2L212.7 213.5M255.8 232.9L257.5 231.7L257.8 229.7L259.7 228.9M198.5 250.1L199.8 249.6L201.1 251.2M214.5 244.1L213.1 245.5L212.2 246.3M206.3 210.0L207.2 209.1L208.4 207.8M247.9 233.5L249.4 234.2L250.5 233.0L252.0 233.8M204.4 244.9L203.6 243.6L203.7 242.4L202.7 240.8M228.0 214.2L226.7 213.2L224.7 212.5L223.6 213.9M243.7 222.3L243.7 223.7L242.2 225.0L241.0 226.2M249.2 233.2L250.7 234.0L251.7 233.0M209.0 246.6L210.6 245.9L212.0 246.8L213.6 246.2M209.4 265.9L211.1 264.8L210.8 263.2L210.9 261.6M208.7 243.8L207.2 243.5L206.7 244.8L205.1 245.8M193.8 236.9L194.2 238.4L193.5 239.8L192.6 241.3M225.4 224.6L224.2 225.5L223.2 227.0M207.8 248.3L209.1 247.4L210.3 246.1M206.8 236.4L208.4 236.4L209.8 237.0L209.7 238.4M249.2 228.8L247.8 228.7L246.0 228.6M248.1 224.9L248.1 226.6L246.9 227.2L246.4 228.5M234.4 209.2L236.0 208.4L237.2 209.0M204.8 250.8L206.4 250.4L206.4 249.2M223.2 218.0L224.5 217.6L225.8 217.4L227.2 216.6M234.7 246.3L233.0 246.8L231.3 246.8L230.3 245.8M212.5 242.5L212.1 240.8L212.4 238.7M195.7 242.8L197.1 243.2L198.3 242.6M204.2 240.5L204.7 238.9L205.3 237.5L206.5 237.4M207.6 247.6L206.0 246.8L204.9 245.9M227.6 225.1L227.7 226.3L229.3 227.0L230.7 226.7M204.3 245.9L204.9 247.0L204.3 248.2M193.4 216.3L193.2 217.5L194.1 218.8L193.9 220.2M213.4 213.7L212.1 212.3L212.1 211.0L211.2 209.3M207.7 233.2L207.4 234.9L208.5 235.8L209.9 235.6M200.7 247.1L200.9 248.4L202.2 248.6L202.7 250.5M234.7 232.0L234.4 233.8L235.1 235.7M229.6 213.4L229.1 214.8L227.3 215.2M197.5 231.5L198.6 229.8L198.1 228.2M230.3 226.5L230.2 224.7L231.1 223.2L233.0 222.7M222.1 252.3L220.7 252.1L219.5 251.6M224.0 215.6L224.6 216.9L224.8 218.1L223.0 219.1M228.2 212.0L227.5 213.5L227.1 214.7L227.6 216.2M213.8 246.3L215.2 246.1L215.9 245.1M227.5 254.2L226.8 253.0L224.8 253.0M219.1 237.9L217.5 237.7L216.7 239.0M245.4 225.6L245.3 223.6L245.5 222.1L244.8 220.5M208.0 241.0L208.0 242.3L208.1 243.7L208.2 245.2M202.5 229.0L203.6 227.4L205.4 228.2M208.4 234.7L207.0 233.9L205.4 233.4L204.2 235.0M236.4 227.5L235.0 226.6L234.4 225.4M212.0 232.3L212.2 231.1L213.8 230.5M243.3 239.5L242.8 238.1L241.5 237.5L240.1 238.1M234.0 205.6L235.3 206.1L235.3 208.1L234.9 209.4M214.0 250.9L213.6 249.4L214.7 247.8L214.9 246.4M193.0 226.5L191.8 225.1L190.7 224.3M203.2 250.4L204.7 249.8L206.5 250.3M220.8 202.3L219.7 201.4L220.2 199.8L219.7 198.3M216.6 228.7L215.6 227.3L213.8 227.8M216.4 222.0L214.6 222.6L214.5 223.8M220.2 237.4L221.6 238.6L223.2 237.3L222.9 235.4M220.7 248.5L222.0 248.9L223.3 248.1L224.4 247.1M248.9 218.4L250.3 218.1L251.3 217.1M243.0 217.9L241.1 217.5L239.8 217.8L238.0 217.1M206.8 215.0L204.7 215.4L204.3 217.2L205.0 218.8M241.7 227.6L242.2 229.2L242.2 230.8M204.8 234.1L205.8 233.4L206.7 232.4L206.9 231.1M195.9 241.2L195.9 239.3L196.4 237.6L196.8 235.8M247.8 238.2L247.5 239.7L249.1 240.4M239.5 252.9L239.9 254.3L240.9 255.2L242.2 255.9M252.8 250.5L254.0 250.1L254.1 248.0M246.5 234.9L246.0 233.0L247.6 232.0L247.6 230.7M211.9 240.5L210.5 241.2L209.8 243.1M240.4 247.5L241.5 245.9L243.0 246.3L244.3 247.8M226.2 199.7L227.7 198.9L229.4 199.5L230.9 200.8M201.6 225.9L200.0 224.9L198.4 225.6L197.6 226.5M235.5 218.1L235.0 216.4L236.3 215.0L238.3 215.6M214.3 250.7L213.5 249.6L214.4 248.0M191.9 219.1L193.0 219.8L195.0 219.7L196.4 218.6M204.9 247.5L205.2 246.3L204.5 245.3L203.4 244.4M194.6 233.2L195.8 234.0L197.3 234.1L197.8 235.6M226.5 198.2L228.0 198.4L229.1 200.0M232.7 220.7L233.8 221.9L233.6 223.1L232.1 223.2M220.7 215.7L222.5 216.2L224.6 216.5M212.6 222.6L212.4 224.6L213.3 225.6L215.1 224.8M243.6 245.3L244.3 243.7L246.2 243.8L247.4 243.9M197.4 243.0L197.8 245.0L196.9 246.6L198.1 247.9M219.4 209.8L220.3 208.6L220.2 206.6L220.0 204.6M194.5 221.2L192.7 220.3L191.3 219.6M240.3 240.7L242.1 240.9L243.1 242.5M217.3 233.1L219.2 233.9L221.2 234.2L222.2 236.0M193.7 238.9L194.6 237.4L194.7 235.9L195.5 234.5M204.0 236.2L204.7 235.0L205.9 233.9M205.2 262.7L206.7 264.1L205.9 265.9M209.8 260.7L208.4 261.6L207.1 261.0L205.9 262.3M196.0 229.5L197.3 230.2L199.0 230.2M228.6 222.2L229.3 223.6L229.2 225.6M254.1 246.2L252.7 246.5L251.2 247.4M229.1 221.8L228.8 223.7L229.3 224.9M234.0 199.1L235.9 199.1L237.3 200.0L238.9 198.9M254.9 229.2L253.9 230.0L252.5 229.1M240.8 233.4L239.7 234.7L238.6 235.5L238.7 237.3M213.3 204.6L212.4 202.9L211.0 203.2L209.0 203.1M200.3 249.6L200.2 247.8L201.0 246.1M219.7 242.0L219.1 243.7L218.7 245.3M224.1 230.8L222.9 230.0L222.0 228.3L221.4 226.8M204.4 252.3L203.3 251.3L201.7 250.8L200.4 251.1M242.0 228.1L243.1 226.6L242.6 225.0M244.5 238.3L245.9 238.2L247.8 237.6M209.7 209.4L209.0 210.8L208.0 211.6M219.9 215.5L220.2 214.3L221.5 213.5M252.9 239.5L251.1 238.6L250.1 239.6L250.2 241.6M240.0 246.1L238.8 244.5L236.9 244.0L236.8 242.7M219.6 260.1L219.1 262.1L217.5 262.8L215.7 263.5M210.3 214.7L212.1 213.7L213.5 214.1L215.1 214.5M237.7 227.1L239.0 227.4L239.9 226.5L241.3 225.3M235.6 226.2L236.2 224.4L237.3 222.9L237.6 221.3M215.3 230.6L214.0 231.6L214.2 233.6M252.1 247.4L253.8 247.5L254.5 249.1L254.1 250.9M254.7 225.5L256.1 224.9L258.0 224.6L258.2 223.4M224.6 231.9L226.0 231.7L226.5 229.8L228.0 229.2M219.3 246.6L217.7 245.4L216.5 245.2M208.2 225.8L209.7 225.0L211.1 225.1M220.8 222.6L222.3 222.3L223.8 221.0L225.4 221.3M209.7 243.7L208.8 242.1L209.1 240.2L209.8 239.1M198.7 209.6L197.0 208.4L197.2 207.1L198.3 205.8M228.6 210.6L229.6 211.9L230.8 212.6M201.7 239.7L201.7 238.1L202.8 237.2M239.8 214.8L239.2 212.8L238.2 211.2M238.6 223.6L238.1 225.4L239.5 226.3M195.9 211.1L196.3 209.9L194.5 208.9L193.8 207.1M221.5 225.9L221.2 223.9L219.4 223.1M247.1 219.5L245.9 218.9L244.8 220.0M211.9 220.1L212.2 222.2L212.3 224.0M224.4 252.9L225.2 251.9L226.7 250.8L228.0 250.7M233.5 211.1L235.4 211.6L236.0 213.0L236.3 214.7M213.7 255.8L213.3 254.2L214.9 253.1L216.3 253.7M204.1 219.8L205.7 221.1L206.6 222.5M246.2 237.5L247.0 236.5L246.7 235.0L244.9 234.8M213.8 215.8L213.1 216.9L211.4 217.6M206.5 267.6L204.8 268.4L203.2 268.6M255.5 240.0L256.2 239.0L257.3 238.2M203.3 240.0L201.9 239.7L200.3 239.0L200.4 237.7M200.4 255.2L202.3 256.1L202.8 257.3L201.7 258.9M240.1 249.8L240.8 248.7L242.4 248.5M217.1 225.4L215.7 225.9L214.0 225.6M249.0 240.9L248.6 242.1L249.2 243.5M226.8 225.5L228.0 226.8L229.7 225.8L229.7 224.5M206.3 232.6L205.3 234.3L204.0 234.3M200.1 209.8L201.3 209.6L203.1 210.0M251.5 227.0L250.5 225.3L250.6 223.3L252.1 222.9M218.6 236.4L220.1 235.8L221.5 236.0L221.9 237.3M246.9 217.5L245.3 217.2L244.1 217.4M203.1 218.8L203.6 220.0L204.3 221.0M214.2 247.9L213.7 249.9L213.5 251.8L214.7 252.7M221.2 215.3L222.2 216.6L222.0 218.3L222.3 219.6M217.5 213.1L216.6 214.9L218.1 216.1L219.5 215.8M215.6 246.6L216.9 245.2L217.0 243.6M210.3 221.2L211.0 222.5L212.5 222.6L214.3 222.6M233.5 197.0L231.6 196.4L229.9 197.6L229.1 199.0M223.7 222.8L222.5 223.6L221.6 225.3L222.5 226.3M198.3 226.9L197.1 226.7L196.6 225.0L195.0 223.8M228.2 217.9L229.7 218.0L230.4 216.4M203.6 256.9L204.5 255.7L205.8 256.0L207.0 256.7M250.6 247.7L249.2 247.2L247.7 245.7L246.4 246.4M208.8 262.7L207.9 263.8L206.3 264.8L204.9 263.5M189.9 220.7L188.4 220.6L187.4 219.5L188.6 217.9M215.8 221.0L216.6 222.7L216.1 224.1L214.8 225.0M234.4 216.8L233.1 217.8L232.9 219.1M210.0 266.8L209.2 265.8L209.6 263.9M197.6 238.6L196.4 238.0L195.5 236.9M235.8 213.2L235.5 215.2L235.5 216.8M206.7 271.8L208.8 271.4L210.6 272.2L212.1 272.0M202.2 208.1L202.2 206.5L201.1 205.9L201.5 204.5M212.2 251.1L210.6 250.3L209.1 251.3L208.3 252.6M214.8 256.5L213.6 256.9L212.3 256.5L210.8 257.7M216.1 254.5L217.1 256.0L216.0 257.3M222.0 199.2L220.7 200.0L220.8 201.7M245.8 220.9L246.1 222.6L248.1 222.9M194.6 232.2L194.8 233.8L196.4 234.3M242.6 249.4L244.0 249.9L243.9 251.1M221.1 260.3L222.9 260.4L224.4 261.2L225.4 260.4M231.1 220.5L232.0 219.5L233.6 218.6M227.4 226.5L229.0 227.6L230.3 228.1M237.4 249.9L238.6 248.9L238.7 247.6M248.6 240.5L250.0 241.6L251.3 240.9L251.4 239.5M199.2 263.4L199.2 265.0L197.6 265.5M245.6 219.1L247.2 219.6L248.3 221.4L248.9 222.8M210.3 214.7L209.0 214.7L207.3 214.3M208.5 211.6L207.3 211.3L206.3 213.0M234.4 232.0L233.1 231.2L232.5 229.7L230.7 229.4M222.4 218.1L223.8 218.4L225.2 218.5L226.3 219.3M207.4 243.9L208.6 243.8L209.5 242.9L210.2 241.0M203.1 248.9L204.6 248.8L205.6 247.5M216.4 219.0L214.5 218.4L213.0 219.4L211.1 219.5M206.6 261.2L208.5 262.0L209.7 260.8L208.9 259.3M256.9 228.1L256.4 226.4L256.5 224.4L255.2 223.4M194.6 218.0L196.2 217.5L196.5 216.0L196.2 214.7M211.0 266.4L209.1 265.5L209.2 263.7L208.4 262.3M210.1 262.7L208.4 261.8L207.1 262.4M208.1 235.6L208.6 234.4L210.1 234.4M209.5 230.2L209.0 231.7L207.5 232.4L207.0 234.3M210.0 240.4L209.4 241.9L208.7 243.4L207.1 244.6M222.4 230.7L223.1 229.8L224.3 230.4M229.8 223.2L228.7 222.7L227.3 223.0L226.1 222.1M194.4 246.9L193.9 245.9L193.8 244.5M203.8 211.9L203.3 213.2L201.9 214.0M208.8 212.1L208.3 210.5L207.6 209.2L205.7 208.9M259.0 235.6L259.5 233.6L258.5 232.8L256.6 233.3M210.2 234.4L208.4 234.9L207.6 233.8L206.4 233.9M240.3 230.5L238.9 230.0L238.0 228.6L238.9 227.6M239.9 227.3L239.9 225.4L241.8 224.9M258.5 226.5L259.6 225.1L260.8 224.5L262.4 225.1M238.2 249.8L240.0 249.8L240.7 251.4M238.8 249.7L239.7 250.8L240.6 252.3M201.6 241.5L203.2 242.3L204.6 240.7M216.1 260.1L217.1 261.4L217.3 262.8L217.6 264.7M220.3 234.5L220.6 236.1L221.4 236.9L222.7 237.0M195.6 244.0L194.6 243.1L193.0 243.3L191.6 241.9M207.0 233.2L205.9 232.3L206.6 230.5L208.3 230.3M249.9 221.4L250.9 219.7L252.8 219.4L253.1 218.0M208.1 238.0L208.5 239.3L208.7 240.7M209.5 218.4L210.3 219.3L212.1 220.2L213.1 220.9M208.1 252.3L206.6 251.7L205.5 251.1M194.6 242.5L196.3 243.5L196.4 245.1L196.6 247.1M226.5 207.8L227.8 206.3L229.6 205.4M222.8 219.2L221.8 217.7L222.8 216.5L223.8 214.8M202.9 221.8L204.4 220.5L204.3 219.3L205.6 218.8M217.7 244.7L217.4 245.9L216.8 247.1M216.1 258.4L215.3 256.9L214.6 255.1L213.9 254.0M220.4 248.9L220.3 247.5L220.9 246.5L222.9 247.1M235.8 210.2L236.3 212.0L236.2 213.9L234.6 214.6M229.5 196.9L229.0 198.1L227.9 199.1L228.4 200.3M251.1 246.6L251.4 247.9L251.2 249.8L250.3 251.2M193.5 232.6L194.1 234.0L195.1 235.6M220.5 259.1L222.1 259.1L223.7 259.4L225.5 258.9M213.7 211.2L215.0 210.1L216.6 210.3M226.1 229.9L226.4 231.1L228.1 231.0L229.2 229.7M213.8 220.8L215.9 220.9L216.5 219.6L216.4 217.7M210.8 258.3L210.6 259.6L210.2 260.7M206.4 245.2L207.7 246.2L209.4 245.3M202.7 223.0L201.5 223.4L199.8 224.0L198.3 225.2M208.6 268.6L207.8 267.5L205.8 267.9M222.0 242.4L221.6 243.8L220.7 245.5M212.6 250.7L213.8 249.8L215.7 250.2M236.3 223.3L237.8 222.3L239.1 222.9M226.7 220.5L226.1 221.9L226.7 223.0M239.4 213.0L237.8 212.1L237.2 210.3L235.7 209.9M198.9 221.3L198.5 220.1L196.4 220.1L194.6 220.0M222.1 259.8L221.4 260.9L219.4 261.1M207.3 263.9L209.0 263.4L209.6 262.0M207.1 210.6L206.8 211.9L207.4 213.8M213.0 265.1L214.7 265.2L216.3 265.9L217.7 264.4M219.0 256.8L219.6 255.2L220.4 253.7M233.7 220.5L235.0 219.5L235.5 217.7M232.3 206.5L234.0 207.3L234.5 209.1M254.6 229.0L253.7 227.3L255.3 226.0M209.7 260.7L210.4 258.8L209.7 256.9M234.1 205.5L232.4 205.0L230.7 205.8L230.6 207.9M213.4 251.9L211.5 251.7L210.6 253.4M257.4 235.1L258.9 235.4L260.2 235.4L261.3 236.5M213.7 226.6L215.2 225.2L216.8 225.7L217.9 224.3M228.0 205.9L226.1 205.9L225.3 204.9L223.6 204.7M205.9 240.1L205.9 242.0L206.2 243.5L207.6 244.0M197.0 236.2L196.3 235.1L194.3 234.8L193.1 233.8M204.3 214.2L204.9 215.4L206.9 215.8M254.0 232.4L255.8 232.2L256.5 234.0M202.6 265.5L201.3 265.9L200.3 264.2M200.4 219.3L199.0 219.2L198.6 217.6L199.6 215.7M216.4 210.3L217.8 209.5L219.5 210.2M224.1 224.8L225.3 224.4L225.8 222.4M192.7 219.6L194.5 220.0L195.9 219.6L196.5 218.2M203.9 219.1L202.1 218.3L201.8 216.9L203.1 216.1M252.1 230.9L250.5 230.7L250.4 229.0M219.3 207.0L219.7 208.5L220.7 209.8L222.6 209.8M207.5 262.8L208.5 261.2L209.8 261.5M196.0 234.4L195.5 235.7L194.3 236.2L193.0 235.2M222.7 207.7L221.7 209.3L222.3 210.4L222.1 211.7M242.5 244.9L242.6 243.1L243.6 242.2M201.2 262.6L200.2 260.8L199.4 259.2L197.4 259.5M213.5 263.2L212.5 264.7L211.9 266.6L210.3 266.6M242.3 251.8L241.9 250.3L241.2 248.8L239.7 249.0M203.6 252.8L202.9 251.8L202.9 250.5M237.7 217.1L239.7 216.6L241.0 216.3M225.9 231.5L225.6 229.6L225.8 227.6M238.4 243.4L240.2 244.2L240.8 245.6L241.5 247.4M205.0 270.2L206.3 271.1L207.7 271.8L208.6 273.3M250.0 245.6L249.6 244.2L248.0 244.1M238.3 229.1L237.1 230.7L236.1 231.4M221.8 224.0L223.1 223.9L224.4 222.7M205.1 262.7L204.3 263.7L202.5 263.6L200.6 264.3M227.3 257.6L226.2 259.2L226.6 261.0L225.1 261.9M210.2 205.7L209.6 207.2L210.3 209.0L209.6 210.0M213.1 216.2L215.1 216.7L215.4 218.4M212.8 262.6L211.0 261.8L210.7 260.2M211.2 209.9L211.0 208.1L210.8 206.1M205.5 253.2L205.0 251.8L203.9 250.7L202.7 251.1M208.3 241.1L209.5 239.6L210.9 238.6M234.7 232.9L234.7 231.4L236.2 231.1M213.6 263.4L213.0 264.5L211.4 264.6M196.2 241.2L197.7 242.5L199.1 242.3L201.0 241.9M232.6 200.1L233.0 202.1L234.1 203.0L235.5 203.4M221.1 233.1L221.7 231.5L222.1 230.0L221.2 228.8M221.0 234.5L222.5 234.9L224.2 235.8L225.3 237.0M196.6 222.2L198.1 222.6L199.8 222.3L200.0 220.9M229.3 216.8L229.6 215.6L229.0 214.2M205.3 208.6L205.6 210.2L205.5 211.4M235.5 219.1L237.2 219.5L238.2 218.0M237.8 211.8L238.7 210.7L239.8 210.0M191.0 220.4L192.4 219.7L192.0 218.0M237.3 227.0L236.0 226.1L234.9 226.8L234.9 228.3M216.6 206.8L216.9 205.2L216.4 204.0M251.1 228.3L250.9 226.4L251.4 224.9M237.2 219.1L235.8 219.6L235.5 221.3L236.1 223.0M222.7 240.7L221.7 242.0L220.4 241.5M223.8 248.5L224.2 249.7L224.9 250.7M224.7 218.5L226.3 217.6L226.7 216.1M191.3 214.1L190.7 215.5L190.6 217.2L190.4 218.5M220.5 239.0L218.7 238.8L217.7 239.7M230.1 219.8L228.7 220.8L227.8 222.2M213.4 205.6L213.4 204.4L215.1 203.7L216.1 204.8M232.4 205.7L233.4 207.2L234.7 206.7M189.2 222.8L189.0 224.2L188.6 225.3L187.9 226.7M217.9 255.4L216.4 256.7L217.1 258.6M258.4 235.4L258.9 234.0L260.4 233.8M195.9 216.0L194.2 215.5L192.9 216.6M219.8 232.3L218.3 231.5L217.7 229.5M240.8 218.2L241.9 216.8L241.7 215.2L240.9 213.9M233.9 220.7L232.1 220.2L231.4 221.1M223.2 247.5L225.2 247.2L226.7 248.1M214.2 230.0L212.4 229.1L210.3 228.9M221.2 212.3L221.4 213.8L223.3 214.7L224.7 215.7M195.3 243.4L196.0 241.7L197.7 241.3L198.9 242.3M217.2 219.6L215.7 219.6L214.5 218.8L213.2 219.9M217.2 249.6L217.1 251.6L217.8 253.3L218.8 254.2M193.6 224.1L193.4 225.6L195.0 226.6L196.7 225.8M210.0 243.8L209.1 242.8L208.1 242.0L208.5 240.2M229.5 207.0L228.8 208.0L227.8 208.9L226.7 209.6M227.4 208.6L226.2 207.0L224.4 206.8M212.3 259.8L212.9 257.9L214.0 256.8L215.2 257.5M191.8 234.0L190.7 235.0L189.7 236.1L187.7 235.9M236.7 210.0L236.7 208.2L235.6 207.1M215.5 248.3L216.4 249.4L217.6 249.9M219.8 222.0L219.0 223.1L217.9 224.3L218.6 226.0M239.7 220.0L240.3 218.8L241.6 218.1L242.6 219.0M202.7 215.8L200.9 214.7L199.2 215.6L197.4 215.7" stroke="#4c4c5a" stroke-width="0.56"/><path d="M237.1 208.9L238.2 209.0M245.0 231.7L244.0 231.2M224.2 224.1L223.9 223.1M250.5 230.0L249.6 230.6M249.5 227.7L250.4 228.3M194.4 249.2L195.4 249.6M197.9 252.0L197.9 250.9M228.1 219.4L227.0 219.5M207.0 267.5L207.4 268.5M236.0 243.8L234.9 243.8M208.2 244.5L207.2 244.9M217.8 252.6L217.2 251.6M203.1 233.7L203.5 232.6M212.9 216.8L212.2 217.6M224.3 233.2L224.7 232.2M219.9 227.6L219.8 226.5M237.9 208.4L236.9 207.9M219.6 235.3L220.6 234.9M214.7 239.4L215.8 239.5M246.5 243.7L245.7 242.9M246.0 234.4L246.5 235.3M205.0 217.0L204.8 218.1M217.0 249.3L218.0 249.7M252.9 245.7L251.8 245.9M199.6 220.7L200.4 221.4M233.3 220.5L233.2 221.5M202.4 245.7L201.3 245.6M246.0 232.0L246.1 230.9M203.4 268.1L203.7 269.2M201.1 264.3L202.2 264.3M198.8 215.8L197.7 215.6M213.6 263.6L212.7 264.2M222.1 198.6L221.9 197.5M195.8 239.0L196.7 238.3M244.5 237.6L243.5 238.0M225.2 248.0L226.3 248.1M224.2 206.1L224.4 207.2M194.0 219.7L194.9 219.1M211.2 229.5L210.1 229.4M210.2 264.6L209.4 263.8M198.4 208.6L197.7 207.7M201.1 266.5L200.7 267.5M243.7 238.1L244.7 238.4M211.2 270.4L211.3 271.5M222.3 227.9L221.4 228.5M218.4 206.4L217.5 205.8M260.4 231.2L259.3 231.4M243.6 230.3L242.7 229.6M242.2 235.8L241.8 234.7M231.4 205.2L230.9 204.2M195.5 218.7L196.3 219.4M209.2 254.9L209.8 254.0M200.5 260.7L200.8 261.8M207.7 222.7L207.7 221.6M203.2 239.5L202.5 238.7M229.2 212.8L228.2 213.2M201.3 263.7L202.0 262.9M217.2 247.4L218.1 248.0M224.1 210.5L223.6 209.5M203.2 206.9L203.8 206.0M240.9 245.0L241.8 244.4M218.4 255.3L217.5 254.6M255.7 226.3L255.2 225.3M207.7 248.8L207.0 247.9M218.5 249.5L218.7 248.4M212.3 208.6L212.0 209.7M204.0 227.4L203.2 226.6M198.1 213.0L199.1 212.5M204.6 235.1L205.6 235.6M250.7 251.3L251.2 250.3M218.1 223.8L219.0 224.4M255.3 234.4L256.4 234.4M224.5 229.9L223.6 229.3M248.3 229.8L249.2 229.2M211.4 243.6L210.5 243.0M238.4 234.3L238.7 235.4M206.3 231.4L205.2 231.6M249.3 223.3L249.8 224.3M202.7 256.0L202.6 254.9M198.0 223.6L197.0 223.0M230.1 220.3L229.8 221.3M205.4 249.3L206.5 249.1M203.4 209.0L204.3 208.4M261.9 232.7L262.8 233.4M258.6 232.8L257.7 232.2M204.5 255.0L205.0 254.0M236.6 242.9L236.1 241.9M219.1 256.1L219.5 255.1M223.7 205.5L223.8 206.6M226.9 249.0L228.0 249.1M251.8 249.4L252.7 248.7M202.7 242.6L203.7 243.0M200.3 243.4L200.2 242.3M244.9 248.3L245.5 249.2M206.0 214.1L207.0 214.6M233.9 209.3L233.1 210.1M189.7 214.7L189.7 213.6M260.5 229.7L259.4 229.7M254.2 225.6L253.6 224.6M215.9 235.8L216.2 236.8M234.4 230.5L235.4 230.0M193.4 234.5L193.4 235.6M194.4 223.5L194.3 224.6M215.0 209.7L216.0 209.2M201.3 244.8L200.7 245.8M246.0 246.2L244.9 246.3M201.9 215.9L202.8 215.3M194.2 233.1L195.3 233.3M259.4 240.1L259.1 239.1M205.6 214.7L206.2 213.8M217.9 254.0L218.4 253.0M246.4 233.1L246.7 234.2M218.2 260.0L217.2 260.3M241.9 245.7L240.8 245.5M192.5 214.7L192.9 215.7M225.7 216.6L225.9 217.7M250.5 238.7L250.3 239.8M221.4 259.1L222.3 259.8M209.2 207.9L208.4 208.6M244.6 245.3L245.6 244.8M214.6 202.8L213.7 203.3M252.6 232.0L252.7 230.9M218.5 199.6L217.8 200.4M248.8 236.8L249.0 237.9M262.0 232.2L261.8 231.2M217.3 236.0L216.2 235.9M222.5 216.9L221.5 216.6M214.3 234.6L215.3 234.3M209.0 260.3L208.1 260.8M225.7 225.1L224.9 224.3M237.0 235.9L237.1 237.0M218.1 243.3L217.1 243.6M219.4 231.9L220.0 231.0M222.4 232.6L222.6 231.5M247.3 246.5L247.6 245.5M235.8 232.2L235.6 233.3M196.1 240.1L195.6 239.2M200.1 262.1L199.3 262.7M210.8 269.3L210.9 270.4M209.5 220.1L209.1 221.1M235.8 228.2L236.7 227.6M222.4 246.3L221.4 245.8M202.3 215.0L201.2 214.9M246.8 242.9L245.8 243.0M214.3 228.5L214.1 229.6M241.3 241.0L240.9 242.0M214.7 222.4L215.4 221.5M243.4 251.5L242.3 251.8M208.3 244.0L209.3 243.5M189.7 218.5L189.5 217.4M243.2 250.5L244.1 249.9M196.6 248.7L197.2 249.7M208.9 258.1L209.9 257.6M199.4 233.4L199.8 234.4M244.1 246.1L243.8 245.0M217.4 249.4L216.9 248.4M200.7 209.5L201.0 210.6M219.4 212.7L218.5 212.0M232.6 211.6L233.6 211.8M219.8 227.7L220.9 227.8M191.5 224.6L191.0 225.6M235.2 225.0L235.8 225.9M240.0 224.3L240.5 223.3M210.7 263.8L211.3 263.0M251.3 236.7L252.4 236.6M199.0 240.9L199.2 242.0M227.3 225.6L226.2 225.5M208.8 229.0L208.2 230.0M209.7 228.9L210.7 228.4M208.8 239.6L209.3 240.6M200.8 222.6L201.8 222.3M203.9 246.5L204.2 247.6M199.7 210.3L199.5 211.4M217.3 233.4L217.1 234.5M215.1 220.2L214.4 221.0M227.6 224.3L226.8 225.0M206.7 225.9L207.2 224.9" stroke="#3b47d8" stroke-width="0.85"/><path d="M237.4 221.0L236.4 221.5M197.0 215.5L196.1 214.9M193.7 218.4L193.8 217.3M250.4 236.1L250.3 237.2M196.3 218.1L195.7 217.2M251.3 224.3L252.3 223.8M206.9 224.6L206.1 225.3M220.1 239.2L220.5 240.2M212.6 271.3L213.2 272.2M230.5 204.9L231.6 205.1M229.7 198.8L230.8 198.7M242.7 241.1L241.7 241.7M201.2 249.1L202.1 249.7M204.9 255.3L205.9 254.8M239.8 229.0L240.6 229.7M198.6 227.7L197.5 227.6M228.7 229.7L229.1 228.6M230.7 211.5L229.7 211.7M228.5 202.4L227.5 202.8M213.1 243.4L212.2 242.8M226.7 231.1L227.6 230.3M195.1 222.8L195.1 221.7M236.1 200.7L235.2 201.3M229.9 216.2L230.1 215.1M193.1 212.4L193.4 211.4M231.4 221.0L230.4 220.7M242.4 224.6L243.5 224.8M223.0 227.6L223.8 228.3M227.0 198.5L226.5 199.5M242.0 232.8L241.1 233.4M247.1 246.6L248.2 246.8M227.0 200.8L227.8 200.0M198.0 240.0L198.7 240.8M201.5 222.8L202.1 221.9M245.0 243.1L246.1 242.8M194.2 211.2L195.1 210.5M227.6 197.3L227.3 198.4M230.6 201.1L230.0 202.1M217.2 235.6L216.1 235.8M222.5 259.2L223.5 258.8M201.0 257.8L201.5 258.7M203.6 260.3L202.6 260.8M244.1 244.6L245.1 245.1M205.2 255.3L206.3 255.3M202.5 239.0L203.6 238.9M251.2 250.4L251.6 249.3M216.5 211.5L215.8 212.3M220.4 247.6L219.7 246.7M194.3 225.7L193.4 225.1M200.6 248.0L201.0 249.1M220.4 260.3L221.3 259.7M234.3 210.9L234.8 211.9M231.2 204.5L231.2 203.4M219.6 206.2L220.5 205.6M210.0 272.0L208.9 271.6M217.7 207.9L218.7 207.8M188.7 219.6L189.7 220.1M214.8 228.7L213.7 228.7M215.5 205.5L214.5 205.8M205.1 232.8L204.5 231.9M212.4 269.8L211.5 270.4M251.1 237.9L250.0 237.8M200.9 223.4L201.4 224.3M240.3 248.0L241.3 248.5M232.1 213.2L231.2 213.9M247.2 245.3L247.6 244.3M220.6 259.9L221.1 258.9M223.0 251.2L223.7 252.1M257.8 228.7L257.3 229.7M230.2 204.0L229.2 203.6M234.8 230.7L235.0 229.7M209.2 258.0L208.8 259.0M203.8 232.0L203.3 231.0M216.8 252.3L215.7 252.4M221.8 251.4L222.8 251.0M204.9 219.4L205.1 218.3M219.0 220.7L219.9 221.2M196.3 224.7L195.4 225.1M216.2 210.5L216.6 211.6M222.5 248.0L221.5 248.5M244.9 218.2L245.7 218.9M205.0 250.4L204.3 251.3M229.8 215.1L228.7 215.3M208.6 270.8L207.6 270.5M218.2 250.9L217.7 251.9M227.4 254.8L227.4 253.7M236.8 208.7L237.9 208.4M221.7 239.1L222.4 240.0M203.4 224.9L203.5 226.0M207.2 206.9L206.5 207.8M240.3 239.2L240.5 240.3M213.7 246.1L214.8 246.1M192.0 222.6L192.4 221.6M210.5 218.9L210.8 220.0M218.5 256.7L219.5 256.2M229.7 202.5L230.6 203.1M230.1 227.2L229.0 227.3M247.2 248.8L246.6 249.7M216.8 211.0L217.8 210.7" stroke="#d22424" stroke-width="0.85"/><path d="M210.2 242.5L210.4 241.3L212.1 240.7L212.9 239.7M253.7 241.0L254.8 239.6L254.9 237.6M209.6 257.6L208.3 257.1L207.2 255.9M213.1 213.8L213.0 212.5L214.6 211.2L216.3 210.6M203.3 235.5L202.7 237.1L201.8 238.8L203.3 240.1M228.1 205.3L229.7 205.2L230.8 204.6L232.0 204.0M193.0 239.2L192.8 237.3L191.6 235.7M240.0 221.3L239.4 219.7L237.8 218.9L236.5 219.7M246.6 223.3L247.4 221.8L247.5 220.6L248.4 218.9M246.8 243.1L247.7 244.0L249.3 244.9L250.6 245.3M216.6 203.8L217.1 202.7L216.8 201.4M226.5 226.0L224.9 227.0L223.3 228.3M224.9 195.8L226.1 194.5L225.5 193.0L224.3 192.8M218.8 227.2L217.8 225.7L216.0 225.1L215.2 226.4M196.3 246.6L194.8 247.7L193.2 247.2M203.0 264.1L203.3 265.4L204.0 266.8M236.6 221.0L237.9 221.6L239.6 221.3M197.9 233.3L198.8 232.0L200.7 232.7M225.8 234.0L224.4 234.8L223.8 236.2L221.9 236.1M247.5 233.5L246.9 232.3L247.0 230.8M197.3 233.0L198.8 234.0L200.5 235.1M200.5 254.3L199.1 254.2L198.2 253.0M192.2 239.6L194.2 239.1L195.6 239.6L196.6 238.7M246.6 230.0L244.9 230.7L244.3 232.3M233.3 203.2L233.8 204.7L235.0 206.0L235.9 207.2M223.0 240.5L224.0 241.7L225.5 241.2M221.4 254.7L221.8 253.4L223.5 253.0L224.2 251.5M237.7 219.7L237.9 218.4L238.1 217.1L236.7 215.8M209.9 252.0L211.5 253.2L213.1 252.8L215.1 252.8M238.6 211.5L237.2 212.8L238.0 214.3L239.4 215.7M209.7 245.7L209.2 247.6L209.7 249.6M194.5 232.8L196.0 233.9L197.4 233.8L198.5 232.5M192.7 212.5L190.8 213.0L189.2 213.5M195.3 244.8L196.7 244.5L197.8 245.6M205.2 215.6L205.2 213.8L203.4 212.9M198.8 239.8L197.1 240.2L196.2 242.1M237.6 234.0L238.1 232.2L239.3 230.7M252.0 238.2L250.8 239.2L249.2 239.8L248.2 241.2M193.5 244.6L193.3 245.9L191.4 246.0L190.9 248.1M219.9 217.8L217.9 218.2L216.2 218.1L215.1 219.1M210.3 210.0L212.0 211.1L212.8 212.6M223.3 241.2L224.1 240.1L224.7 238.9M218.4 207.1L216.8 208.2L216.9 209.8L216.0 210.7M190.2 214.3L189.8 215.5L188.5 215.6L187.2 215.5M206.5 247.6L206.8 245.9L208.2 245.7L209.0 244.0M220.7 207.7L219.0 206.6L217.8 207.8M225.2 206.8L223.6 208.1L221.8 207.9M220.0 248.9L219.9 250.5L218.7 251.5M218.9 248.9L217.4 248.8L215.7 249.0M215.4 214.6L216.6 215.0L218.6 215.2M241.5 220.8L240.9 222.3L239.4 223.4L238.0 224.8M200.4 260.0L200.6 261.4L199.7 262.6M254.1 242.4L253.4 243.6L251.4 243.5M223.2 246.7L224.4 246.6L225.7 245.3L224.9 244.2M212.3 248.4L214.0 247.9L215.4 247.2L217.1 247.3M240.0 226.4L239.1 224.7L239.1 223.4L240.9 222.8M230.2 224.1L228.5 225.3L226.9 226.1M204.6 268.7L205.6 267.3L207.1 265.9M214.5 211.3L216.2 211.6L217.7 210.1L217.1 208.4M228.5 199.8L228.4 197.8L228.3 196.2L229.1 194.8M240.4 251.9L240.6 253.9L240.7 255.3M230.7 208.3L230.6 206.9L232.1 205.7L232.2 204.4M244.6 245.9L246.3 245.2L246.0 243.3M230.0 201.4L230.3 202.6L232.4 202.7M199.4 262.3L197.6 263.1L196.2 264.6L195.4 266.1M192.8 234.0L192.8 232.6L192.2 231.3L192.6 229.6M207.9 249.4L209.2 249.4L210.8 248.7L212.7 249.3M221.3 224.1L220.9 226.1L219.1 226.1M219.3 206.1L217.5 206.3L216.6 207.7L215.5 208.3M208.7 208.0L209.7 208.7L211.1 210.2M235.2 222.0L236.4 223.3L238.1 223.8M195.8 217.6L195.2 216.6L193.8 216.8M210.1 259.3L210.8 258.0L209.9 257.1M220.4 227.7L218.9 228.3L217.8 229.3L216.7 230.9M253.2 226.5L252.0 225.7L251.9 224.3L250.4 223.4M246.0 217.7L244.6 218.1L243.7 216.5M195.8 234.3L195.0 235.8L193.2 235.5L191.2 235.5M222.4 226.5L222.2 225.0L222.1 223.5L222.1 221.7M242.3 225.8L241.4 224.4L240.6 222.9M191.9 216.9L190.9 218.6L191.9 220.2M229.9 216.1L229.9 217.5L230.2 219.0M247.9 219.3L248.4 217.6L247.0 216.7M215.4 222.4L216.1 223.9L217.7 224.8L219.7 224.9M235.6 206.4L236.5 208.1L238.3 208.6M199.4 210.5L199.3 209.1L200.3 208.2L201.5 206.9M234.9 217.1L236.4 217.6L237.4 218.9L238.2 220.7M238.8 235.7L238.8 234.2L240.4 233.0L240.9 231.7M209.9 259.2L208.8 260.2L208.9 261.5L209.1 263.1M225.0 215.8L226.3 215.2L226.0 213.4M198.1 215.2L198.4 213.7L198.6 212.1M227.0 201.4L226.0 200.1L226.6 198.8L226.3 197.3M235.1 200.1L234.2 201.4L234.2 203.0L233.8 204.6M211.3 238.7L210.5 239.8L208.9 239.8L207.2 240.5M200.8 239.7L199.9 238.6L197.9 238.3M195.3 233.4L193.4 233.4L192.2 234.4M215.4 246.6L215.5 245.1L214.5 243.8L212.9 243.4M215.1 256.8L213.6 255.4L211.9 255.1M207.0 265.7L207.3 264.0L206.6 263.0L206.4 261.3M219.3 226.9L218.4 225.5L217.2 225.7L216.0 227.1M230.9 220.7L229.7 221.0L228.4 221.8L228.0 223.6M204.6 261.9L206.1 262.0L207.6 262.3M203.1 222.7L203.7 221.7L205.3 220.8L206.4 221.4M229.2 214.8L230.4 213.4L231.9 214.1L233.2 213.8M247.8 220.0L247.2 221.8L248.4 222.5L249.8 221.6M221.2 215.6L222.3 214.4L223.8 213.7M215.6 211.7L216.4 212.6L216.6 214.5L217.9 215.7M207.0 268.8L208.1 267.1L207.4 265.7M235.3 217.3L234.0 216.4L232.1 216.6M222.7 251.0L221.0 250.1L219.1 249.6L217.7 250.9M193.6 233.4L195.0 234.9L194.7 236.2L194.0 237.4M244.1 237.0L244.4 238.4L243.0 239.3L241.3 238.2M191.2 222.0L192.6 222.2L193.1 223.7M220.6 236.0L221.6 237.6L222.0 239.1M248.6 222.0L247.2 223.3L245.4 223.3M251.8 236.5L249.8 236.6L248.2 237.1L247.6 238.8M261.2 231.0L260.9 229.3L260.0 228.2L260.2 227.0M193.4 226.8L193.5 225.4L194.0 223.6L195.2 223.1M235.5 206.7L236.9 207.8L237.8 209.1L238.9 209.6M194.1 215.4L193.2 214.4L193.7 212.7L195.4 211.7M242.3 232.1L244.1 231.8L245.0 230.3M205.0 206.3L206.1 206.8L205.8 208.4M194.3 232.4L193.1 232.2L191.7 233.2M204.4 235.8L203.7 237.7L202.3 239.0M207.0 218.9L208.4 218.7L209.6 220.1L209.8 222.0M197.2 230.2L195.9 229.5L195.0 227.6L195.4 226.3M225.0 215.4L223.9 216.3L222.5 215.3L221.1 215.7M234.9 215.6L236.2 217.2L236.9 218.2L237.8 219.9M256.7 229.8L258.2 230.7L259.7 229.4L261.5 229.2M223.0 248.3L224.5 248.3L225.0 246.5L224.4 245.3M243.6 249.6L241.8 250.6L240.8 252.4M195.5 247.4L193.7 247.2L192.8 248.5M207.9 215.2L208.6 214.1L210.6 214.6M203.2 217.7L202.1 218.4L202.0 219.7L203.6 220.8M208.3 228.9L206.6 230.0L206.9 231.3" stroke="#8e8e9c" stroke-width="0.56"/></g>
<rect x="240" y="121.4" width="160.8" height="82.3" fill="#fff"/>
<g><path d="M291.5 172.8L289.9 175.2M282.1 159.2L283.8 155.6M282.1 159.2L284.6 162.6M313.7 174.2L311.0 173.5M313.7 174.2L311.7 176.5M264.9 148.4L264.5 151.3M264.9 148.4L262.2 150.0M312.5 167.9L312.8 170.5M312.5 167.9L310.3 165.9M251.4 149.4L252.8 151.8M251.4 149.4L248.0 150.6M260.4 145.5L261.4 142.4M265.1 155.1L264.5 151.3M298.8 168.2L299.5 165.7M298.8 168.2L296.2 169.2M298.8 168.2L301.6 170.2M251.4 135.8L254.9 135.9M251.4 135.8L248.1 137.4M251.4 135.8L254.9 138.5M257.4 139.2L258.5 141.8M265.4 129.5L263.9 132.5M265.4 129.5L262.2 128.4M295.4 136.9L297.0 139.0M295.4 136.9L292.6 136.5M295.4 136.9L292.7 140.8M277.2 157.3L279.7 155.4M277.2 157.3L274.6 155.0M277.2 157.3L278.2 161.0M280.5 144.6L279.9 147.6M280.5 144.6L283.3 146.4M256.1 180.2L255.2 177.3M289.3 146.6L291.8 149.4M259.3 131.3L259.4 128.4M285.5 139.7L285.2 136.3M285.5 139.7L282.8 137.6M256.3 199.1L257.3 201.7M256.3 199.1L256.0 196.1M289.0 149.8L289.5 152.5M289.0 149.8L286.1 149.8M267.8 163.2L267.1 159.9M267.8 163.2L271.2 161.7M248.2 140.0L250.2 143.3M273.5 134.3L273.8 131.5M273.5 134.3L276.3 133.0M302.8 167.0L305.2 168.2M302.8 167.0L301.6 170.2M248.0 150.6L248.9 148.1M265.3 189.9L267.2 188.0M265.3 189.9L263.5 187.7M265.3 189.9L266.3 192.5M267.2 188.0L269.1 186.2M267.2 188.0L265.3 189.9M257.2 193.8L259.8 194.8M311.0 173.5L311.7 176.5M249.5 184.7L246.8 185.7M254.0 141.3L251.0 140.5M271.2 161.7L274.4 162.3M255.3 157.5L256.5 154.8M252.3 165.3L254.8 167.4M252.3 165.3L255.7 164.9M252.3 165.3L248.8 165.5M285.3 131.2L287.0 129.0M310.3 165.9L312.5 167.9M310.3 165.9L307.9 162.2M271.1 170.4L270.1 173.7M271.1 170.4L267.5 169.2M265.6 166.7L267.5 169.2M265.6 166.7L269.2 166.4M265.6 166.7L261.8 166.8M283.3 146.4L285.8 144.6M273.7 149.0L271.2 150.0M273.7 149.0L276.5 150.1M273.7 149.0L272.9 152.2M280.8 152.1L279.7 155.4M293.0 144.5L295.0 146.2M293.0 144.5L292.7 140.8M293.0 144.5L289.3 146.6M255.5 188.0L258.3 187.0M287.0 129.0L285.3 131.2M287.0 129.0L285.6 126.2M287.0 129.0L288.7 131.7M282.7 170.1L283.6 167.5M282.7 170.1L280.2 165.6M273.3 137.1L276.5 135.9M257.2 174.5L255.2 177.3M267.6 181.1L270.3 181.6M267.6 181.1L265.8 178.8M283.8 155.6L282.1 159.2M283.8 155.6L287.4 157.2M289.9 175.2L289.7 178.7M298.3 154.0L297.3 156.6M298.3 154.0L295.4 154.3M298.3 154.0L294.8 150.6M294.6 163.4L295.6 166.2M294.6 163.4L292.7 166.1M258.0 183.8L255.1 182.9M260.8 186.5L263.5 187.7M260.8 186.5L260.1 189.4M269.3 153.8L267.5 156.4M269.3 153.8L271.7 156.7M257.2 151.7L256.5 154.8M257.2 151.7L257.7 148.2M291.5 156.5L289.2 159.0M301.5 180.5L298.4 180.8M301.5 180.5L304.7 179.6M288.7 131.7L289.0 134.9M261.5 152.8L259.5 155.3M261.5 152.8L264.5 151.3M255.2 162.2L255.7 164.9M255.2 162.2L252.5 161.7M255.2 162.2L256.9 159.9M279.5 130.3L282.8 128.3M279.5 130.3L280.0 134.3M270.2 140.3L267.7 141.4M308.5 170.1L307.4 172.7M300.8 158.8L303.1 157.1M309.1 179.4L307.3 181.9M309.1 179.4L307.0 176.6M252.1 158.0L249.4 158.3M252.1 158.0L255.3 157.5M300.8 183.2L301.5 180.5M301.6 170.2L302.5 173.1M301.6 170.2L298.8 168.2M267.1 159.9L269.8 158.5M267.1 159.9L267.5 156.4M289.0 134.9L292.6 136.5M307.7 165.7L304.8 164.3M307.7 165.7L305.2 168.2M295.4 154.3L297.3 156.6M284.7 152.6L287.4 154.1M284.7 152.6L286.1 149.8M294.8 150.6L291.8 149.4M294.8 150.6L295.4 154.3M273.4 179.2L268.7 177.5M271.7 156.7L269.8 158.5M271.7 156.7L273.0 159.1M271.7 156.7L274.6 155.0M260.1 189.4L258.3 187.0M260.1 189.4L262.2 192.4M286.3 165.5L287.3 163.1M286.3 165.5L284.6 162.6M286.3 165.5L283.6 167.5M304.6 184.6L301.2 186.0M304.6 184.6L307.3 181.9M298.4 147.9L297.7 145.2M298.4 147.9L295.0 146.2M253.4 145.9L255.0 148.1M285.6 170.6L283.6 167.5M261.8 166.8L263.2 163.7M249.7 189.3L250.0 192.1M249.7 189.3L252.4 188.1M250.2 143.3L251.0 140.5M289.5 152.5L287.4 154.1M289.5 152.5L293.0 152.7M303.5 160.6L303.1 157.1M250.2 174.8L250.8 171.0M261.5 197.0L259.3 198.6M261.5 197.0L259.8 194.8M247.0 155.9L246.1 153.4M247.0 155.9L248.8 153.6M282.7 134.2L282.0 131.1M262.2 192.4L259.8 194.8M256.6 145.7L257.7 148.2M253.6 195.0L257.2 193.8M288.4 142.7L285.8 144.6M252.8 151.8L251.9 154.7M252.8 151.8L255.0 148.1M259.2 158.0L259.6 161.4M258.7 164.1L255.7 164.9M258.7 164.1L258.8 167.6M258.5 141.8L260.5 139.7M255.7 164.9L258.7 164.1M256.6 170.4L254.8 167.4M256.6 170.4L258.8 167.6M295.9 183.6L292.9 183.3M294.8 175.9L296.6 178.6M295.2 158.4L297.3 156.6M295.2 158.4L297.0 161.6M302.5 173.1L301.8 176.0M276.5 150.1L279.9 147.6M271.7 184.9L272.2 187.4M271.7 184.9L269.1 186.2M248.2 172.0L250.8 171.0M248.2 172.0L250.2 174.8M307.9 162.2L305.9 159.5M254.9 138.5L254.9 135.9M290.3 163.2L287.3 163.1M280.2 165.6L282.5 164.4M280.2 165.6L283.6 167.5M267.2 183.8L265.2 185.4M304.7 179.6L307.3 181.9M264.0 157.6L262.3 160.8M268.6 148.6L271.2 150.0M268.6 148.6L271.1 146.3M279.9 147.6L280.5 144.6M279.9 147.6L282.3 149.8M270.4 133.0L273.8 131.5M279.1 136.9L280.0 134.3M279.1 136.9L276.5 135.9M279.1 136.9L280.7 139.3M289.3 167.8L289.2 171.2M272.9 140.1L273.3 137.1M272.9 140.1L276.2 140.0M255.9 133.4L254.9 135.9M251.4 178.1L253.0 180.7M251.4 178.1L255.2 177.3M292.6 180.5L292.2 177.7M292.6 180.5L295.4 181.0M278.2 161.0L282.0 161.8M260.5 139.7L261.4 142.4M252.9 169.3L256.6 170.4M269.8 158.5L267.5 156.4M292.6 136.5L289.4 138.9M267.5 169.2L269.2 166.4M301.8 176.0L302.5 173.1M266.6 145.5L264.9 148.4M246.1 160.3L249.3 161.7M307.3 181.9L304.6 184.6M313.4 178.7L309.1 179.4M252.4 188.1L252.8 190.9M252.4 188.1L249.7 189.3M304.8 164.3L307.9 162.2M256.1 191.4L252.8 190.9M259.0 180.1L256.1 180.2M264.9 143.3L267.7 141.4M299.8 162.8L299.5 165.7M279.2 141.9L280.7 139.3M277.0 145.2L275.0 142.7M277.0 145.2L273.8 145.2M312.8 170.5L312.5 167.9M263.2 163.7L262.3 160.8M295.6 166.2L296.2 169.2M266.8 139.0L264.3 138.0M266.8 139.0L269.0 137.6M266.8 139.0L267.7 141.4M293.1 169.8L294.5 173.0M296.6 178.6L295.4 181.0M296.6 178.6L298.4 180.8M299.5 165.7L302.8 167.0M256.5 154.8L255.3 157.5M256.5 154.8L259.5 155.3M307.0 176.6L304.7 179.6M259.6 161.4L258.7 164.1M273.6 182.5L270.3 181.6M283.1 141.1L280.7 139.3M262.2 128.4L259.4 128.4M248.2 168.3L248.8 165.5M248.2 168.3L248.2 172.0M284.6 162.6L282.0 161.8M284.6 162.6L287.3 163.1M260.2 172.0L257.2 174.5M245.0 166.3L244.7 169.8M248.2 145.1L248.9 148.1M259.4 128.4L262.2 128.4M291.8 149.4L293.0 152.7M273.8 131.5L273.5 134.3M246.3 163.8L248.8 165.5M265.2 185.4L263.5 187.7M265.2 185.4L267.2 188.0M269.2 166.4L271.3 164.7M258.8 167.6L258.7 164.1M258.8 167.6L256.6 170.4M273.6 169.6L273.3 166.4M273.8 145.2L275.0 142.7M273.8 145.2L277.0 145.2M259.8 194.8L257.2 193.8M259.3 198.6L256.3 199.1M259.3 198.6L257.3 201.7M282.3 149.8L283.3 146.4M263.9 132.5L266.7 132.3M285.2 136.3L282.8 137.6M270.3 181.6L271.7 184.9M283.6 167.5L282.7 170.1M283.6 167.5L282.5 164.4M269.0 137.6L266.8 139.0M269.0 137.6L270.2 140.3M269.0 137.6L267.7 141.4M246.1 153.4L248.8 153.6M257.3 201.7L253.7 198.5M253.0 180.7L256.1 180.2M253.0 180.7L255.1 182.9M299.4 174.5L298.8 177.2M251.0 140.5L250.2 143.3M305.2 170.9L308.5 170.1M253.7 198.5L256.3 199.1M298.8 177.2L299.4 174.5M303.1 157.1L303.5 160.6M296.2 169.2L297.3 171.9M248.8 165.5L252.3 165.3M305.2 168.2L307.7 165.7M301.2 186.0L298.5 184.8M273.3 166.4L275.9 165.7M273.3 166.4L271.3 164.7M280.0 134.3L279.1 136.9M265.8 178.8L268.7 177.5M282.0 161.8L282.5 164.4M268.7 177.5L265.8 178.8M282.8 128.3L282.0 131.1M255.2 177.3L256.1 180.2M275.0 142.7L276.2 140.0M271.3 164.7L269.2 166.4M267.7 141.4L266.8 139.0M292.9 183.3L295.9 183.6M292.2 177.7L289.7 178.7M292.2 177.7L292.6 180.5M261.4 142.4L258.5 141.8M305.9 159.5L303.1 157.1M249.4 158.3L252.1 158.0M249.4 158.3L249.3 161.7M269.1 186.2L267.2 188.0M264.3 138.0L262.2 136.1M276.5 135.9L279.1 136.9M256.0 196.1L257.2 193.8M256.0 196.1L253.6 195.0M298.4 180.8L296.6 178.6M298.4 180.8L295.4 181.0M313.7 174.2L316.7 175.8M312.5 167.9L314.8 165.3M251.4 135.8L250.1 132.6M295.4 136.9L297.2 134.0M248.2 140.0L244.9 139.3M249.5 184.7L246.8 182.6M310.3 165.9L313.3 164.3M273.4 179.2L276.6 178.1M304.6 184.6L307.3 186.7M285.6 170.6L282.3 171.5M250.2 174.8L246.8 175.0M289.7 178.7L286.4 179.4M307.9 162.2L310.7 160.2M297.7 145.2L300.8 146.4M297.0 139.0L299.0 136.3M251.4 178.1L248.1 177.5M311.7 176.5L313.7 179.3M275.9 165.7L278.3 168.0M307.3 181.9L309.8 184.2M312.8 170.5L315.8 168.9M275.1 186.0L278.5 186.0M273.6 182.5L276.5 180.8M247.1 188.8L243.8 189.5M246.8 185.7L243.7 184.3M263.6 195.2L266.2 197.4M301.2 186.0L302.5 189.2M290.3 128.6L293.3 126.9M248.1 137.4L245.9 134.8M305.9 159.5L307.8 156.7M299.7 143.1L302.9 142.0" stroke="#e01010" stroke-width="0.95" fill="none"/><path d="M291.5 172.8L289.2 171.2M291.5 172.8L294.5 173.0M282.1 159.2L282.0 161.8M313.7 174.2L312.8 170.5M264.9 148.4L262.7 147.0M312.5 167.9L308.5 170.1M263.6 140.9L261.4 142.4M263.6 140.9L264.9 143.3M263.6 140.9L264.3 138.0M251.4 149.4L248.9 148.1M260.4 145.5L262.7 147.0M260.4 145.5L257.7 148.2M265.1 155.1L264.0 157.6M265.1 155.1L267.5 156.4M257.4 139.2L254.9 138.5M257.4 139.2L259.1 136.8M291.7 160.2L289.2 159.0M291.7 160.2L290.3 163.2M291.7 160.2L291.5 156.5M278.0 152.3L276.5 150.1M278.0 152.3L280.8 152.1M278.0 152.3L279.7 155.4M265.4 129.5L266.7 132.3M280.5 144.6L279.2 141.9M272.2 187.4L271.7 184.9M272.2 187.4L269.9 188.8M272.2 187.4L275.1 186.0M266.7 132.3L263.9 132.5M266.7 132.3L264.8 135.2M256.1 180.2L255.1 182.9M256.1 180.2L259.0 180.1M289.3 146.6L289.0 149.8M289.3 146.6L288.4 142.7M259.3 131.3L259.5 134.0M259.3 131.3L255.9 133.4M262.5 170.1L265.3 170.7M262.5 170.1L260.2 172.0M262.5 170.1L261.8 166.8M285.5 139.7L283.1 141.1M256.3 199.1L253.7 198.5M289.0 149.8L291.8 149.4M267.8 163.2L269.2 166.4M276.2 140.0L275.0 142.7M276.2 140.0L272.9 140.1M276.2 140.0L279.2 141.9M248.2 140.0L248.1 137.4M248.2 140.0L251.0 140.5M273.5 134.3L273.3 137.1M302.8 167.0L304.8 164.3M248.0 150.6L248.8 153.6M248.0 150.6L246.1 153.4M269.5 144.0L271.1 146.3M269.5 144.0L267.7 141.4M269.5 144.0L266.6 145.5M271.1 146.3L273.8 145.2M271.1 146.3L268.6 148.6M297.1 141.7L297.0 139.0M297.1 141.7L299.7 143.1M297.1 141.7L297.7 145.2M267.2 188.0L269.9 188.8M289.4 138.9L292.7 140.8M289.4 138.9L288.4 142.7M257.2 193.8L256.1 191.4M257.2 193.8L256.0 196.1M263.6 181.7L261.4 183.6M263.6 181.7L265.8 178.8M263.6 181.7L262.7 178.1M311.0 173.5L312.8 170.5M259.8 176.8L262.7 178.1M259.8 176.8L259.0 180.1M259.8 176.8L257.2 174.5M249.5 184.7L252.7 185.4M249.5 184.7L252.4 188.1M254.0 141.3L254.9 138.5M254.0 141.3L257.4 139.2M271.2 161.7L271.3 164.7M271.2 161.7L273.0 159.1M255.3 157.5L256.9 159.9M255.3 157.5L252.1 158.0M285.3 131.2L282.0 131.1M285.3 131.2L288.7 131.7M310.3 165.9L307.7 165.7M271.1 170.4L273.6 169.6M283.3 146.4L282.3 149.8M304.6 175.4L307.0 176.6M304.6 175.4L301.8 176.0M304.6 175.4L302.5 173.1M267.0 175.3L268.7 177.5M267.0 175.3L263.9 174.5M267.0 175.3L270.1 173.7M280.8 152.1L282.3 149.8M255.5 188.0L252.4 188.1M255.5 188.0L256.1 191.4M282.7 170.1L285.6 170.6M266.3 192.5L263.6 195.2M266.3 192.5L262.2 192.4M273.3 137.1L272.9 140.1M257.2 174.5L254.5 174.7M267.6 181.1L267.2 183.8M283.8 155.6L284.7 152.6M289.9 175.2L292.2 177.7M294.6 163.4L297.0 161.6M263.9 174.5L262.7 178.1M263.9 174.5L265.3 170.7M258.0 183.8L258.3 187.0M258.0 183.8L261.4 183.6M260.8 186.5L258.3 187.0M269.3 153.8L268.2 151.1M257.2 151.7L259.5 155.3M291.5 156.5L293.0 152.7M301.5 180.5L300.8 183.2M288.7 131.7L287.0 129.0M288.7 131.7L290.3 128.6M274.6 155.0L272.9 152.2M274.6 155.0L271.7 156.7M274.6 155.0L277.2 157.3M261.5 152.8L262.2 150.0M279.5 130.3L282.0 131.1M270.2 140.3L272.9 140.1M270.2 140.3L269.0 137.6M254.5 174.7L255.2 177.3M254.5 174.7L250.2 174.8M308.5 170.1L305.2 170.9M308.5 170.1L305.2 168.2M259.1 136.8L259.5 134.0M259.1 136.8L260.5 139.7M300.8 158.8L303.5 160.6M300.8 158.8L299.8 162.8M309.1 179.4L311.7 176.5M252.1 158.0L251.9 154.7M300.8 183.2L298.5 184.8M300.8 183.2L301.2 186.0M267.1 159.9L267.8 163.2M295.4 154.3L293.0 152.7M284.7 152.6L283.8 155.6M294.8 150.6L293.0 152.7M273.4 179.2L273.6 182.5M273.4 179.2L270.3 181.6M270.1 173.7L268.7 177.5M297.3 171.9L296.2 169.2M297.3 171.9L294.5 173.0M297.3 171.9L299.4 174.5M262.2 150.0L264.5 151.3M262.2 150.0L262.7 147.0M253.4 145.9L256.6 145.7M253.4 145.9L250.2 143.3M285.6 170.6L289.2 171.2M261.8 166.8L258.8 167.6M249.7 189.3L247.1 188.8M250.2 143.3L248.2 145.1M303.5 160.6L305.9 159.5M286.8 160.0L289.2 159.0M286.8 160.0L287.4 157.2M286.8 160.0L287.3 163.1M250.2 174.8L251.4 178.1M250.2 174.8L248.2 172.0M261.5 197.0L263.6 195.2M247.0 155.9L245.2 157.8M282.7 134.2L280.0 134.3M282.7 134.2L285.2 136.3M262.2 192.4L263.6 195.2M256.6 145.7L255.0 148.1M256.6 145.7L253.4 145.9M253.6 195.0L256.0 196.1M253.6 195.0L253.7 198.5M268.2 151.1L268.6 148.6M268.2 151.1L271.2 150.0M262.2 136.1L264.8 135.2M262.2 136.1L264.3 138.0M259.2 158.0L259.5 155.3M259.2 158.0L256.9 159.9M258.7 164.1L259.6 161.4M258.5 141.8L261.4 142.4M289.7 178.7L292.2 177.7M289.7 178.7L292.6 180.5M255.7 164.9L254.8 167.4M256.6 170.4L252.9 169.3M292.7 140.8L292.6 136.5M295.9 183.6L295.4 181.0M295.9 183.6L298.5 184.8M294.8 175.9L294.5 173.0M294.8 175.9L292.2 177.7M249.3 161.7L252.5 161.7M249.3 161.7L249.4 158.3M249.3 161.7L246.1 160.3M271.7 184.9L273.6 182.5M248.2 172.0L248.2 168.3M307.9 162.2L304.8 164.3M287.4 157.2L289.2 159.0M287.4 157.2L287.4 154.1M262.7 178.1L265.8 178.8M297.7 145.2L295.0 146.2M297.7 145.2L299.7 143.1M290.3 163.2L292.7 166.1M251.9 154.7L248.8 153.6M280.2 165.6L282.0 161.8M267.2 183.8L269.1 186.2M304.7 179.6L307.0 176.6M264.0 157.6L267.5 156.4M270.4 133.0L269.5 130.4M289.3 167.8L292.7 166.1M297.0 139.0L295.4 136.9M255.9 133.4L259.5 134.0M255.9 133.4L259.3 131.3M292.6 180.5L292.9 183.3M278.2 161.0L274.4 162.3M252.9 169.3L254.8 167.4M252.9 169.3L250.8 171.0M271.2 150.0L272.9 152.2M311.7 176.5L313.4 178.7M276.3 133.0L273.8 131.5M276.3 133.0L276.5 135.9M276.3 133.0L273.5 134.3M267.5 169.2L265.3 170.7M301.8 176.0L299.4 174.5M275.9 165.7L273.3 166.4M275.9 165.7L274.4 162.3M266.6 145.5L264.9 143.3M246.1 160.3L245.2 157.8M246.1 160.3L246.3 163.8M252.4 188.1L252.7 185.4M257.7 148.2L256.6 145.7M257.7 148.2L255.0 148.1M257.7 148.2L257.2 151.7M299.8 162.8L297.0 161.6M263.2 163.7L261.8 166.8M295.6 166.2L292.7 166.1M293.1 169.8L296.2 169.2M296.6 178.6L298.8 177.2M275.1 186.0L273.6 182.5M259.6 161.4L262.3 160.8M259.6 161.4L256.9 159.9M273.6 182.5L273.4 179.2M283.1 141.1L282.8 137.6M292.7 166.1L294.6 163.4M297.3 156.6L298.3 154.0M285.6 126.2L282.8 128.3M285.6 126.2L285.3 131.2M248.2 168.3L250.8 171.0M284.6 162.6L282.5 164.4M245.0 166.3L246.3 163.8M287.4 154.1L284.7 152.6M274.4 162.3L273.0 159.1M280.7 139.3L282.8 137.6M280.7 139.3L279.1 136.9M259.4 128.4L259.5 134.0M246.3 163.8L245.0 166.3M247.1 188.8L246.8 185.7M247.1 188.8L250.0 192.1M269.2 166.4L267.5 169.2M269.2 166.4L267.8 163.2M263.9 132.5L264.8 135.2M270.3 181.6L273.6 182.5M265.3 170.7L267.5 169.2M265.3 170.7L262.5 170.1M264.8 135.2L264.3 138.0M264.8 135.2L263.9 132.5M273.0 159.1L269.8 158.5M286.1 149.8L284.7 152.6M305.2 170.9L305.2 168.2M305.2 170.9L307.4 172.7M253.7 198.5L256.0 196.1M252.7 185.4L255.1 182.9M303.1 157.1L305.9 159.5M293.0 152.7L294.8 150.6M296.2 169.2L298.8 168.2M263.6 195.2L262.2 192.4M252.8 190.9L250.0 192.1M280.0 134.3L282.0 131.1M258.3 187.0L260.8 186.5M258.3 187.0L255.5 188.0M258.3 187.0L260.1 189.4M289.2 171.2L291.5 172.8M287.3 163.1L284.6 162.6M268.7 177.5L267.0 175.3M268.7 177.5L267.6 181.1M282.8 128.3L285.3 131.2M282.5 164.4L284.6 162.6M292.9 183.3L292.6 180.5M292.9 183.3L295.4 181.0M261.4 142.4L263.6 140.9M252.5 161.7L255.2 162.2M307.4 172.7L308.5 170.1M269.1 186.2L269.9 188.8M264.3 138.0L266.8 139.0M245.2 157.8L246.1 160.3M299.7 143.1L297.7 145.2M299.7 143.1L297.0 139.0M256.0 196.1L256.3 199.1M269.9 188.8L272.2 187.4M289.2 159.0L286.8 160.0M289.2 159.0L291.7 160.2" stroke="#2020e0" stroke-width="0.95" fill="none"/><path d="M281.0 159.2a1.15 1.15 0 1 0 2.3 0a1.15 1.15 0 1 0 -2.3 0M262.5 140.9a1.15 1.15 0 1 0 2.3 0a1.15 1.15 0 1 0 -2.3 0M259.3 145.5a1.15 1.15 0 1 0 2.3 0a1.15 1.15 0 1 0 -2.3 0M264.0 155.1a1.15 1.15 0 1 0 2.3 0a1.15 1.15 0 1 0 -2.3 0M297.7 168.2a1.15 1.15 0 1 0 2.3 0a1.15 1.15 0 1 0 -2.3 0M250.3 135.8a1.15 1.15 0 1 0 2.3 0a1.15 1.15 0 1 0 -2.3 0M290.5 160.2a1.15 1.15 0 1 0 2.3 0a1.15 1.15 0 1 0 -2.3 0M276.8 152.3a1.15 1.15 0 1 0 2.3 0a1.15 1.15 0 1 0 -2.3 0M276.0 157.3a1.15 1.15 0 1 0 2.3 0a1.15 1.15 0 1 0 -2.3 0M288.1 146.6a1.15 1.15 0 1 0 2.3 0a1.15 1.15 0 1 0 -2.3 0M258.2 131.3a1.15 1.15 0 1 0 2.3 0a1.15 1.15 0 1 0 -2.3 0M284.4 139.7a1.15 1.15 0 1 0 2.3 0a1.15 1.15 0 1 0 -2.3 0M255.2 199.1a1.15 1.15 0 1 0 2.3 0a1.15 1.15 0 1 0 -2.3 0M247.1 140.0a1.15 1.15 0 1 0 2.3 0a1.15 1.15 0 1 0 -2.3 0M301.7 167.0a1.15 1.15 0 1 0 2.3 0a1.15 1.15 0 1 0 -2.3 0M246.8 150.6a1.15 1.15 0 1 0 2.3 0a1.15 1.15 0 1 0 -2.3 0M268.3 144.0a1.15 1.15 0 1 0 2.3 0a1.15 1.15 0 1 0 -2.3 0M264.1 189.9a1.15 1.15 0 1 0 2.3 0a1.15 1.15 0 1 0 -2.3 0M295.9 141.7a1.15 1.15 0 1 0 2.3 0a1.15 1.15 0 1 0 -2.3 0M266.0 188.0a1.15 1.15 0 1 0 2.3 0a1.15 1.15 0 1 0 -2.3 0M256.0 193.8a1.15 1.15 0 1 0 2.3 0a1.15 1.15 0 1 0 -2.3 0M262.4 181.7a1.15 1.15 0 1 0 2.3 0a1.15 1.15 0 1 0 -2.3 0M309.8 173.5a1.15 1.15 0 1 0 2.3 0a1.15 1.15 0 1 0 -2.3 0M258.7 176.8a1.15 1.15 0 1 0 2.3 0a1.15 1.15 0 1 0 -2.3 0M251.1 165.3a1.15 1.15 0 1 0 2.3 0a1.15 1.15 0 1 0 -2.3 0M284.1 131.2a1.15 1.15 0 1 0 2.3 0a1.15 1.15 0 1 0 -2.3 0M309.2 165.9a1.15 1.15 0 1 0 2.3 0a1.15 1.15 0 1 0 -2.3 0M264.5 166.7a1.15 1.15 0 1 0 2.3 0a1.15 1.15 0 1 0 -2.3 0M282.2 146.4a1.15 1.15 0 1 0 2.3 0a1.15 1.15 0 1 0 -2.3 0M265.8 175.3a1.15 1.15 0 1 0 2.3 0a1.15 1.15 0 1 0 -2.3 0M272.1 137.1a1.15 1.15 0 1 0 2.3 0a1.15 1.15 0 1 0 -2.3 0M256.1 174.5a1.15 1.15 0 1 0 2.3 0a1.15 1.15 0 1 0 -2.3 0M282.6 155.6a1.15 1.15 0 1 0 2.3 0a1.15 1.15 0 1 0 -2.3 0M288.7 175.2a1.15 1.15 0 1 0 2.3 0a1.15 1.15 0 1 0 -2.3 0M297.1 154.0a1.15 1.15 0 1 0 2.3 0a1.15 1.15 0 1 0 -2.3 0M293.5 163.4a1.15 1.15 0 1 0 2.3 0a1.15 1.15 0 1 0 -2.3 0M256.8 183.8a1.15 1.15 0 1 0 2.3 0a1.15 1.15 0 1 0 -2.3 0M268.2 153.8a1.15 1.15 0 1 0 2.3 0a1.15 1.15 0 1 0 -2.3 0M290.3 156.5a1.15 1.15 0 1 0 2.3 0a1.15 1.15 0 1 0 -2.3 0M300.4 180.5a1.15 1.15 0 1 0 2.3 0a1.15 1.15 0 1 0 -2.3 0M254.1 162.2a1.15 1.15 0 1 0 2.3 0a1.15 1.15 0 1 0 -2.3 0M253.3 174.7a1.15 1.15 0 1 0 2.3 0a1.15 1.15 0 1 0 -2.3 0M307.3 170.1a1.15 1.15 0 1 0 2.3 0a1.15 1.15 0 1 0 -2.3 0M258.0 136.8a1.15 1.15 0 1 0 2.3 0a1.15 1.15 0 1 0 -2.3 0M299.7 158.8a1.15 1.15 0 1 0 2.3 0a1.15 1.15 0 1 0 -2.3 0M299.6 183.2a1.15 1.15 0 1 0 2.3 0a1.15 1.15 0 1 0 -2.3 0M306.6 165.7a1.15 1.15 0 1 0 2.3 0a1.15 1.15 0 1 0 -2.3 0M278.6 155.4a1.15 1.15 0 1 0 2.3 0a1.15 1.15 0 1 0 -2.3 0M293.7 150.6a1.15 1.15 0 1 0 2.3 0a1.15 1.15 0 1 0 -2.3 0M269.0 173.7a1.15 1.15 0 1 0 2.3 0a1.15 1.15 0 1 0 -2.3 0M285.1 165.5a1.15 1.15 0 1 0 2.3 0a1.15 1.15 0 1 0 -2.3 0M296.1 171.9a1.15 1.15 0 1 0 2.3 0a1.15 1.15 0 1 0 -2.3 0M261.0 150.0a1.15 1.15 0 1 0 2.3 0a1.15 1.15 0 1 0 -2.3 0M260.6 166.8a1.15 1.15 0 1 0 2.3 0a1.15 1.15 0 1 0 -2.3 0M248.5 189.3a1.15 1.15 0 1 0 2.3 0a1.15 1.15 0 1 0 -2.3 0M288.4 152.5a1.15 1.15 0 1 0 2.3 0a1.15 1.15 0 1 0 -2.3 0M302.3 160.6a1.15 1.15 0 1 0 2.3 0a1.15 1.15 0 1 0 -2.3 0M285.7 160.0a1.15 1.15 0 1 0 2.3 0a1.15 1.15 0 1 0 -2.3 0M255.4 145.7a1.15 1.15 0 1 0 2.3 0a1.15 1.15 0 1 0 -2.3 0M261.0 136.1a1.15 1.15 0 1 0 2.3 0a1.15 1.15 0 1 0 -2.3 0M251.6 151.8a1.15 1.15 0 1 0 2.3 0a1.15 1.15 0 1 0 -2.3 0M258.0 158.0a1.15 1.15 0 1 0 2.3 0a1.15 1.15 0 1 0 -2.3 0M257.3 141.8a1.15 1.15 0 1 0 2.3 0a1.15 1.15 0 1 0 -2.3 0M254.5 164.9a1.15 1.15 0 1 0 2.3 0a1.15 1.15 0 1 0 -2.3 0M291.6 140.8a1.15 1.15 0 1 0 2.3 0a1.15 1.15 0 1 0 -2.3 0M294.7 183.6a1.15 1.15 0 1 0 2.3 0a1.15 1.15 0 1 0 -2.3 0M293.7 175.9a1.15 1.15 0 1 0 2.3 0a1.15 1.15 0 1 0 -2.3 0M301.3 173.1a1.15 1.15 0 1 0 2.3 0a1.15 1.15 0 1 0 -2.3 0M275.4 150.1a1.15 1.15 0 1 0 2.3 0a1.15 1.15 0 1 0 -2.3 0M270.6 184.9a1.15 1.15 0 1 0 2.3 0a1.15 1.15 0 1 0 -2.3 0M247.0 172.0a1.15 1.15 0 1 0 2.3 0a1.15 1.15 0 1 0 -2.3 0M306.8 162.2a1.15 1.15 0 1 0 2.3 0a1.15 1.15 0 1 0 -2.3 0M261.6 178.1a1.15 1.15 0 1 0 2.3 0a1.15 1.15 0 1 0 -2.3 0M289.2 163.2a1.15 1.15 0 1 0 2.3 0a1.15 1.15 0 1 0 -2.3 0M279.1 165.6a1.15 1.15 0 1 0 2.3 0a1.15 1.15 0 1 0 -2.3 0M303.6 179.6a1.15 1.15 0 1 0 2.3 0a1.15 1.15 0 1 0 -2.3 0M262.8 157.6a1.15 1.15 0 1 0 2.3 0a1.15 1.15 0 1 0 -2.3 0M267.5 148.6a1.15 1.15 0 1 0 2.3 0a1.15 1.15 0 1 0 -2.3 0M269.3 133.0a1.15 1.15 0 1 0 2.3 0a1.15 1.15 0 1 0 -2.3 0M288.1 167.8a1.15 1.15 0 1 0 2.3 0a1.15 1.15 0 1 0 -2.3 0M271.8 140.1a1.15 1.15 0 1 0 2.3 0a1.15 1.15 0 1 0 -2.3 0M295.9 139.0a1.15 1.15 0 1 0 2.3 0a1.15 1.15 0 1 0 -2.3 0M250.3 178.1a1.15 1.15 0 1 0 2.3 0a1.15 1.15 0 1 0 -2.3 0M291.4 180.5a1.15 1.15 0 1 0 2.3 0a1.15 1.15 0 1 0 -2.3 0M277.0 161.0a1.15 1.15 0 1 0 2.3 0a1.15 1.15 0 1 0 -2.3 0M251.7 169.3a1.15 1.15 0 1 0 2.3 0a1.15 1.15 0 1 0 -2.3 0M268.6 158.5a1.15 1.15 0 1 0 2.3 0a1.15 1.15 0 1 0 -2.3 0M270.0 150.0a1.15 1.15 0 1 0 2.3 0a1.15 1.15 0 1 0 -2.3 0M284.7 144.6a1.15 1.15 0 1 0 2.3 0a1.15 1.15 0 1 0 -2.3 0M291.5 136.5a1.15 1.15 0 1 0 2.3 0a1.15 1.15 0 1 0 -2.3 0M265.4 145.5a1.15 1.15 0 1 0 2.3 0a1.15 1.15 0 1 0 -2.3 0M251.2 188.1a1.15 1.15 0 1 0 2.3 0a1.15 1.15 0 1 0 -2.3 0M256.6 148.2a1.15 1.15 0 1 0 2.3 0a1.15 1.15 0 1 0 -2.3 0M298.7 162.8a1.15 1.15 0 1 0 2.3 0a1.15 1.15 0 1 0 -2.3 0M275.9 145.2a1.15 1.15 0 1 0 2.3 0a1.15 1.15 0 1 0 -2.3 0M265.6 139.0a1.15 1.15 0 1 0 2.3 0a1.15 1.15 0 1 0 -2.3 0M255.3 154.8a1.15 1.15 0 1 0 2.3 0a1.15 1.15 0 1 0 -2.3 0M258.5 161.4a1.15 1.15 0 1 0 2.3 0a1.15 1.15 0 1 0 -2.3 0M282.0 141.1a1.15 1.15 0 1 0 2.3 0a1.15 1.15 0 1 0 -2.3 0M261.5 147.0a1.15 1.15 0 1 0 2.3 0a1.15 1.15 0 1 0 -2.3 0M247.1 168.3a1.15 1.15 0 1 0 2.3 0a1.15 1.15 0 1 0 -2.3 0M259.0 172.0a1.15 1.15 0 1 0 2.3 0a1.15 1.15 0 1 0 -2.3 0M273.2 162.3a1.15 1.15 0 1 0 2.3 0a1.15 1.15 0 1 0 -2.3 0M290.6 149.4a1.15 1.15 0 1 0 2.3 0a1.15 1.15 0 1 0 -2.3 0M272.7 131.5a1.15 1.15 0 1 0 2.3 0a1.15 1.15 0 1 0 -2.3 0M245.2 163.8a1.15 1.15 0 1 0 2.3 0a1.15 1.15 0 1 0 -2.3 0M295.8 161.6a1.15 1.15 0 1 0 2.3 0a1.15 1.15 0 1 0 -2.3 0M264.0 185.4a1.15 1.15 0 1 0 2.3 0a1.15 1.15 0 1 0 -2.3 0M245.9 188.8a1.15 1.15 0 1 0 2.3 0a1.15 1.15 0 1 0 -2.3 0M268.1 166.4a1.15 1.15 0 1 0 2.3 0a1.15 1.15 0 1 0 -2.3 0M257.7 167.6a1.15 1.15 0 1 0 2.3 0a1.15 1.15 0 1 0 -2.3 0M258.2 198.6a1.15 1.15 0 1 0 2.3 0a1.15 1.15 0 1 0 -2.3 0M269.2 181.6a1.15 1.15 0 1 0 2.3 0a1.15 1.15 0 1 0 -2.3 0M258.4 134.0a1.15 1.15 0 1 0 2.3 0a1.15 1.15 0 1 0 -2.3 0M261.2 160.8a1.15 1.15 0 1 0 2.3 0a1.15 1.15 0 1 0 -2.3 0M271.9 159.1a1.15 1.15 0 1 0 2.3 0a1.15 1.15 0 1 0 -2.3 0M251.8 180.7a1.15 1.15 0 1 0 2.3 0a1.15 1.15 0 1 0 -2.3 0M285.0 149.8a1.15 1.15 0 1 0 2.3 0a1.15 1.15 0 1 0 -2.3 0M298.2 174.5a1.15 1.15 0 1 0 2.3 0a1.15 1.15 0 1 0 -2.3 0M251.5 185.4a1.15 1.15 0 1 0 2.3 0a1.15 1.15 0 1 0 -2.3 0M254.0 182.9a1.15 1.15 0 1 0 2.3 0a1.15 1.15 0 1 0 -2.3 0M262.5 195.2a1.15 1.15 0 1 0 2.3 0a1.15 1.15 0 1 0 -2.3 0M247.7 165.5a1.15 1.15 0 1 0 2.3 0a1.15 1.15 0 1 0 -2.3 0M304.0 168.2a1.15 1.15 0 1 0 2.3 0a1.15 1.15 0 1 0 -2.3 0M278.8 134.3a1.15 1.15 0 1 0 2.3 0a1.15 1.15 0 1 0 -2.3 0M258.3 155.3a1.15 1.15 0 1 0 2.3 0a1.15 1.15 0 1 0 -2.3 0M264.6 178.8a1.15 1.15 0 1 0 2.3 0a1.15 1.15 0 1 0 -2.3 0M286.1 163.1a1.15 1.15 0 1 0 2.3 0a1.15 1.15 0 1 0 -2.3 0M253.8 148.1a1.15 1.15 0 1 0 2.3 0a1.15 1.15 0 1 0 -2.3 0M293.8 146.2a1.15 1.15 0 1 0 2.3 0a1.15 1.15 0 1 0 -2.3 0M253.8 135.9a1.15 1.15 0 1 0 2.3 0a1.15 1.15 0 1 0 -2.3 0M281.4 164.4a1.15 1.15 0 1 0 2.3 0a1.15 1.15 0 1 0 -2.3 0M254.1 177.3a1.15 1.15 0 1 0 2.3 0a1.15 1.15 0 1 0 -2.3 0M273.9 142.7a1.15 1.15 0 1 0 2.3 0a1.15 1.15 0 1 0 -2.3 0M270.2 164.7a1.15 1.15 0 1 0 2.3 0a1.15 1.15 0 1 0 -2.3 0M266.5 141.4a1.15 1.15 0 1 0 2.3 0a1.15 1.15 0 1 0 -2.3 0M281.6 137.6a1.15 1.15 0 1 0 2.3 0a1.15 1.15 0 1 0 -2.3 0M291.7 183.3a1.15 1.15 0 1 0 2.3 0a1.15 1.15 0 1 0 -2.3 0M291.1 177.7a1.15 1.15 0 1 0 2.3 0a1.15 1.15 0 1 0 -2.3 0M262.3 187.7a1.15 1.15 0 1 0 2.3 0a1.15 1.15 0 1 0 -2.3 0M304.8 159.5a1.15 1.15 0 1 0 2.3 0a1.15 1.15 0 1 0 -2.3 0M267.9 186.2a1.15 1.15 0 1 0 2.3 0a1.15 1.15 0 1 0 -2.3 0M248.8 192.1a1.15 1.15 0 1 0 2.3 0a1.15 1.15 0 1 0 -2.3 0M263.2 138.0a1.15 1.15 0 1 0 2.3 0a1.15 1.15 0 1 0 -2.3 0M294.2 181.0a1.15 1.15 0 1 0 2.3 0a1.15 1.15 0 1 0 -2.3 0M275.3 135.9a1.15 1.15 0 1 0 2.3 0a1.15 1.15 0 1 0 -2.3 0M254.8 196.1a1.15 1.15 0 1 0 2.3 0a1.15 1.15 0 1 0 -2.3 0M297.2 180.8a1.15 1.15 0 1 0 2.3 0a1.15 1.15 0 1 0 -2.3 0" fill="#e01010"/><path d="M290.4 172.8a1.15 1.15 0 1 0 2.3 0a1.15 1.15 0 1 0 -2.3 0M263.7 148.4a1.15 1.15 0 1 0 2.3 0a1.15 1.15 0 1 0 -2.3 0M271.0 187.4a1.15 1.15 0 1 0 2.3 0a1.15 1.15 0 1 0 -2.3 0M265.5 132.3a1.15 1.15 0 1 0 2.3 0a1.15 1.15 0 1 0 -2.3 0M254.9 180.2a1.15 1.15 0 1 0 2.3 0a1.15 1.15 0 1 0 -2.3 0M261.4 170.1a1.15 1.15 0 1 0 2.3 0a1.15 1.15 0 1 0 -2.3 0M287.9 149.8a1.15 1.15 0 1 0 2.3 0a1.15 1.15 0 1 0 -2.3 0M275.0 140.0a1.15 1.15 0 1 0 2.3 0a1.15 1.15 0 1 0 -2.3 0M272.4 134.3a1.15 1.15 0 1 0 2.3 0a1.15 1.15 0 1 0 -2.3 0M270.0 146.3a1.15 1.15 0 1 0 2.3 0a1.15 1.15 0 1 0 -2.3 0M288.2 138.9a1.15 1.15 0 1 0 2.3 0a1.15 1.15 0 1 0 -2.3 0M248.3 184.7a1.15 1.15 0 1 0 2.3 0a1.15 1.15 0 1 0 -2.3 0M252.9 141.3a1.15 1.15 0 1 0 2.3 0a1.15 1.15 0 1 0 -2.3 0M270.0 161.7a1.15 1.15 0 1 0 2.3 0a1.15 1.15 0 1 0 -2.3 0M254.2 157.5a1.15 1.15 0 1 0 2.3 0a1.15 1.15 0 1 0 -2.3 0M269.9 170.4a1.15 1.15 0 1 0 2.3 0a1.15 1.15 0 1 0 -2.3 0M303.5 175.4a1.15 1.15 0 1 0 2.3 0a1.15 1.15 0 1 0 -2.3 0M272.6 149.0a1.15 1.15 0 1 0 2.3 0a1.15 1.15 0 1 0 -2.3 0M279.7 152.1a1.15 1.15 0 1 0 2.3 0a1.15 1.15 0 1 0 -2.3 0M291.8 144.5a1.15 1.15 0 1 0 2.3 0a1.15 1.15 0 1 0 -2.3 0M254.3 188.0a1.15 1.15 0 1 0 2.3 0a1.15 1.15 0 1 0 -2.3 0M265.2 192.5a1.15 1.15 0 1 0 2.3 0a1.15 1.15 0 1 0 -2.3 0M266.5 181.1a1.15 1.15 0 1 0 2.3 0a1.15 1.15 0 1 0 -2.3 0M262.8 174.5a1.15 1.15 0 1 0 2.3 0a1.15 1.15 0 1 0 -2.3 0M259.7 186.5a1.15 1.15 0 1 0 2.3 0a1.15 1.15 0 1 0 -2.3 0M256.1 151.7a1.15 1.15 0 1 0 2.3 0a1.15 1.15 0 1 0 -2.3 0M273.4 155.0a1.15 1.15 0 1 0 2.3 0a1.15 1.15 0 1 0 -2.3 0M260.3 152.8a1.15 1.15 0 1 0 2.3 0a1.15 1.15 0 1 0 -2.3 0M278.3 130.3a1.15 1.15 0 1 0 2.3 0a1.15 1.15 0 1 0 -2.3 0M269.0 140.3a1.15 1.15 0 1 0 2.3 0a1.15 1.15 0 1 0 -2.3 0M250.9 158.0a1.15 1.15 0 1 0 2.3 0a1.15 1.15 0 1 0 -2.3 0M300.5 170.2a1.15 1.15 0 1 0 2.3 0a1.15 1.15 0 1 0 -2.3 0M265.9 159.9a1.15 1.15 0 1 0 2.3 0a1.15 1.15 0 1 0 -2.3 0M259.0 189.4a1.15 1.15 0 1 0 2.3 0a1.15 1.15 0 1 0 -2.3 0M303.5 184.6a1.15 1.15 0 1 0 2.3 0a1.15 1.15 0 1 0 -2.3 0M252.3 145.9a1.15 1.15 0 1 0 2.3 0a1.15 1.15 0 1 0 -2.3 0M245.9 155.9a1.15 1.15 0 1 0 2.3 0a1.15 1.15 0 1 0 -2.3 0M281.5 134.2a1.15 1.15 0 1 0 2.3 0a1.15 1.15 0 1 0 -2.3 0M261.1 192.4a1.15 1.15 0 1 0 2.3 0a1.15 1.15 0 1 0 -2.3 0M252.4 195.0a1.15 1.15 0 1 0 2.3 0a1.15 1.15 0 1 0 -2.3 0M267.1 151.1a1.15 1.15 0 1 0 2.3 0a1.15 1.15 0 1 0 -2.3 0M255.4 170.4a1.15 1.15 0 1 0 2.3 0a1.15 1.15 0 1 0 -2.3 0M294.1 158.4a1.15 1.15 0 1 0 2.3 0a1.15 1.15 0 1 0 -2.3 0M286.2 157.2a1.15 1.15 0 1 0 2.3 0a1.15 1.15 0 1 0 -2.3 0M253.8 138.5a1.15 1.15 0 1 0 2.3 0a1.15 1.15 0 1 0 -2.3 0M250.7 154.7a1.15 1.15 0 1 0 2.3 0a1.15 1.15 0 1 0 -2.3 0M277.9 136.9a1.15 1.15 0 1 0 2.3 0a1.15 1.15 0 1 0 -2.3 0M254.7 133.4a1.15 1.15 0 1 0 2.3 0a1.15 1.15 0 1 0 -2.3 0M310.5 176.5a1.15 1.15 0 1 0 2.3 0a1.15 1.15 0 1 0 -2.3 0M275.1 133.0a1.15 1.15 0 1 0 2.3 0a1.15 1.15 0 1 0 -2.3 0M266.4 169.2a1.15 1.15 0 1 0 2.3 0a1.15 1.15 0 1 0 -2.3 0M300.7 176.0a1.15 1.15 0 1 0 2.3 0a1.15 1.15 0 1 0 -2.3 0M274.7 165.7a1.15 1.15 0 1 0 2.3 0a1.15 1.15 0 1 0 -2.3 0M244.9 160.3a1.15 1.15 0 1 0 2.3 0a1.15 1.15 0 1 0 -2.3 0M303.7 164.3a1.15 1.15 0 1 0 2.3 0a1.15 1.15 0 1 0 -2.3 0M254.9 191.4a1.15 1.15 0 1 0 2.3 0a1.15 1.15 0 1 0 -2.3 0M257.8 180.1a1.15 1.15 0 1 0 2.3 0a1.15 1.15 0 1 0 -2.3 0M263.7 143.3a1.15 1.15 0 1 0 2.3 0a1.15 1.15 0 1 0 -2.3 0M278.0 141.9a1.15 1.15 0 1 0 2.3 0a1.15 1.15 0 1 0 -2.3 0M311.7 170.5a1.15 1.15 0 1 0 2.3 0a1.15 1.15 0 1 0 -2.3 0M262.0 163.7a1.15 1.15 0 1 0 2.3 0a1.15 1.15 0 1 0 -2.3 0M294.5 166.2a1.15 1.15 0 1 0 2.3 0a1.15 1.15 0 1 0 -2.3 0M291.9 169.8a1.15 1.15 0 1 0 2.3 0a1.15 1.15 0 1 0 -2.3 0M295.5 178.6a1.15 1.15 0 1 0 2.3 0a1.15 1.15 0 1 0 -2.3 0M298.4 165.7a1.15 1.15 0 1 0 2.3 0a1.15 1.15 0 1 0 -2.3 0M305.8 176.6a1.15 1.15 0 1 0 2.3 0a1.15 1.15 0 1 0 -2.3 0M272.4 182.5a1.15 1.15 0 1 0 2.3 0a1.15 1.15 0 1 0 -2.3 0M296.2 156.6a1.15 1.15 0 1 0 2.3 0a1.15 1.15 0 1 0 -2.3 0M283.4 162.6a1.15 1.15 0 1 0 2.3 0a1.15 1.15 0 1 0 -2.3 0M247.1 145.1a1.15 1.15 0 1 0 2.3 0a1.15 1.15 0 1 0 -2.3 0M279.6 139.3a1.15 1.15 0 1 0 2.3 0a1.15 1.15 0 1 0 -2.3 0M272.5 169.6a1.15 1.15 0 1 0 2.3 0a1.15 1.15 0 1 0 -2.3 0M272.6 145.2a1.15 1.15 0 1 0 2.3 0a1.15 1.15 0 1 0 -2.3 0M258.7 194.8a1.15 1.15 0 1 0 2.3 0a1.15 1.15 0 1 0 -2.3 0M281.1 149.8a1.15 1.15 0 1 0 2.3 0a1.15 1.15 0 1 0 -2.3 0M262.7 132.5a1.15 1.15 0 1 0 2.3 0a1.15 1.15 0 1 0 -2.3 0M284.0 136.3a1.15 1.15 0 1 0 2.3 0a1.15 1.15 0 1 0 -2.3 0M282.4 167.5a1.15 1.15 0 1 0 2.3 0a1.15 1.15 0 1 0 -2.3 0M267.9 137.6a1.15 1.15 0 1 0 2.3 0a1.15 1.15 0 1 0 -2.3 0M249.9 140.5a1.15 1.15 0 1 0 2.3 0a1.15 1.15 0 1 0 -2.3 0M252.6 198.5a1.15 1.15 0 1 0 2.3 0a1.15 1.15 0 1 0 -2.3 0M297.7 177.2a1.15 1.15 0 1 0 2.3 0a1.15 1.15 0 1 0 -2.3 0M291.9 152.7a1.15 1.15 0 1 0 2.3 0a1.15 1.15 0 1 0 -2.3 0M249.6 171.0a1.15 1.15 0 1 0 2.3 0a1.15 1.15 0 1 0 -2.3 0M295.0 169.2a1.15 1.15 0 1 0 2.3 0a1.15 1.15 0 1 0 -2.3 0M251.7 190.9a1.15 1.15 0 1 0 2.3 0a1.15 1.15 0 1 0 -2.3 0M272.2 166.4a1.15 1.15 0 1 0 2.3 0a1.15 1.15 0 1 0 -2.3 0M257.1 187.0a1.15 1.15 0 1 0 2.3 0a1.15 1.15 0 1 0 -2.3 0M288.1 171.2a1.15 1.15 0 1 0 2.3 0a1.15 1.15 0 1 0 -2.3 0M280.9 161.8a1.15 1.15 0 1 0 2.3 0a1.15 1.15 0 1 0 -2.3 0M266.3 156.4a1.15 1.15 0 1 0 2.3 0a1.15 1.15 0 1 0 -2.3 0M260.3 183.6a1.15 1.15 0 1 0 2.3 0a1.15 1.15 0 1 0 -2.3 0M267.5 177.5a1.15 1.15 0 1 0 2.3 0a1.15 1.15 0 1 0 -2.3 0M281.6 128.3a1.15 1.15 0 1 0 2.3 0a1.15 1.15 0 1 0 -2.3 0M268.4 130.4a1.15 1.15 0 1 0 2.3 0a1.15 1.15 0 1 0 -2.3 0M251.3 161.7a1.15 1.15 0 1 0 2.3 0a1.15 1.15 0 1 0 -2.3 0M247.7 148.1a1.15 1.15 0 1 0 2.3 0a1.15 1.15 0 1 0 -2.3 0M293.3 173.0a1.15 1.15 0 1 0 2.3 0a1.15 1.15 0 1 0 -2.3 0M255.8 159.9a1.15 1.15 0 1 0 2.3 0a1.15 1.15 0 1 0 -2.3 0M268.7 188.8a1.15 1.15 0 1 0 2.3 0a1.15 1.15 0 1 0 -2.3 0M297.4 184.8a1.15 1.15 0 1 0 2.3 0a1.15 1.15 0 1 0 -2.3 0" fill="#2020e8"/><path d="M312.6 174.2a1.15 1.15 0 1 0 2.3 0a1.15 1.15 0 1 0 -2.3 0M311.4 167.9a1.15 1.15 0 1 0 2.3 0a1.15 1.15 0 1 0 -2.3 0M250.2 149.4a1.15 1.15 0 1 0 2.3 0a1.15 1.15 0 1 0 -2.3 0M256.3 139.2a1.15 1.15 0 1 0 2.3 0a1.15 1.15 0 1 0 -2.3 0M264.3 129.5a1.15 1.15 0 1 0 2.3 0a1.15 1.15 0 1 0 -2.3 0M294.2 136.9a1.15 1.15 0 1 0 2.3 0a1.15 1.15 0 1 0 -2.3 0M279.4 144.6a1.15 1.15 0 1 0 2.3 0a1.15 1.15 0 1 0 -2.3 0M266.6 163.2a1.15 1.15 0 1 0 2.3 0a1.15 1.15 0 1 0 -2.3 0M285.8 129.0a1.15 1.15 0 1 0 2.3 0a1.15 1.15 0 1 0 -2.3 0M281.5 170.1a1.15 1.15 0 1 0 2.3 0a1.15 1.15 0 1 0 -2.3 0M287.6 131.7a1.15 1.15 0 1 0 2.3 0a1.15 1.15 0 1 0 -2.3 0M307.9 179.4a1.15 1.15 0 1 0 2.3 0a1.15 1.15 0 1 0 -2.3 0M287.8 134.9a1.15 1.15 0 1 0 2.3 0a1.15 1.15 0 1 0 -2.3 0M294.3 154.3a1.15 1.15 0 1 0 2.3 0a1.15 1.15 0 1 0 -2.3 0M283.5 152.6a1.15 1.15 0 1 0 2.3 0a1.15 1.15 0 1 0 -2.3 0M272.2 179.2a1.15 1.15 0 1 0 2.3 0a1.15 1.15 0 1 0 -2.3 0M270.5 156.7a1.15 1.15 0 1 0 2.3 0a1.15 1.15 0 1 0 -2.3 0M297.3 147.9a1.15 1.15 0 1 0 2.3 0a1.15 1.15 0 1 0 -2.3 0M284.4 170.6a1.15 1.15 0 1 0 2.3 0a1.15 1.15 0 1 0 -2.3 0M249.1 143.3a1.15 1.15 0 1 0 2.3 0a1.15 1.15 0 1 0 -2.3 0M249.1 174.8a1.15 1.15 0 1 0 2.3 0a1.15 1.15 0 1 0 -2.3 0M260.4 197.0a1.15 1.15 0 1 0 2.3 0a1.15 1.15 0 1 0 -2.3 0M287.3 142.7a1.15 1.15 0 1 0 2.3 0a1.15 1.15 0 1 0 -2.3 0M257.5 164.1a1.15 1.15 0 1 0 2.3 0a1.15 1.15 0 1 0 -2.3 0M288.6 178.7a1.15 1.15 0 1 0 2.3 0a1.15 1.15 0 1 0 -2.3 0M248.1 161.7a1.15 1.15 0 1 0 2.3 0a1.15 1.15 0 1 0 -2.3 0M296.5 145.2a1.15 1.15 0 1 0 2.3 0a1.15 1.15 0 1 0 -2.3 0M266.0 183.8a1.15 1.15 0 1 0 2.3 0a1.15 1.15 0 1 0 -2.3 0M278.7 147.6a1.15 1.15 0 1 0 2.3 0a1.15 1.15 0 1 0 -2.3 0M259.4 139.7a1.15 1.15 0 1 0 2.3 0a1.15 1.15 0 1 0 -2.3 0M306.2 181.9a1.15 1.15 0 1 0 2.3 0a1.15 1.15 0 1 0 -2.3 0M312.2 178.7a1.15 1.15 0 1 0 2.3 0a1.15 1.15 0 1 0 -2.3 0M274.0 186.0a1.15 1.15 0 1 0 2.3 0a1.15 1.15 0 1 0 -2.3 0M291.6 166.1a1.15 1.15 0 1 0 2.3 0a1.15 1.15 0 1 0 -2.3 0M261.0 128.4a1.15 1.15 0 1 0 2.3 0a1.15 1.15 0 1 0 -2.3 0M284.4 126.2a1.15 1.15 0 1 0 2.3 0a1.15 1.15 0 1 0 -2.3 0M243.9 166.3a1.15 1.15 0 1 0 2.3 0a1.15 1.15 0 1 0 -2.3 0M286.3 154.1a1.15 1.15 0 1 0 2.3 0a1.15 1.15 0 1 0 -2.3 0M258.3 128.4a1.15 1.15 0 1 0 2.3 0a1.15 1.15 0 1 0 -2.3 0M243.5 169.8a1.15 1.15 0 1 0 2.3 0a1.15 1.15 0 1 0 -2.3 0M264.2 170.7a1.15 1.15 0 1 0 2.3 0a1.15 1.15 0 1 0 -2.3 0M263.6 135.2a1.15 1.15 0 1 0 2.3 0a1.15 1.15 0 1 0 -2.3 0M271.7 152.2a1.15 1.15 0 1 0 2.3 0a1.15 1.15 0 1 0 -2.3 0M245.0 153.4a1.15 1.15 0 1 0 2.3 0a1.15 1.15 0 1 0 -2.3 0M256.2 201.7a1.15 1.15 0 1 0 2.3 0a1.15 1.15 0 1 0 -2.3 0M247.7 153.6a1.15 1.15 0 1 0 2.3 0a1.15 1.15 0 1 0 -2.3 0M304.0 170.9a1.15 1.15 0 1 0 2.3 0a1.15 1.15 0 1 0 -2.3 0M302.0 157.1a1.15 1.15 0 1 0 2.3 0a1.15 1.15 0 1 0 -2.3 0M245.7 185.7a1.15 1.15 0 1 0 2.3 0a1.15 1.15 0 1 0 -2.3 0M300.0 186.0a1.15 1.15 0 1 0 2.3 0a1.15 1.15 0 1 0 -2.3 0M289.2 128.6a1.15 1.15 0 1 0 2.3 0a1.15 1.15 0 1 0 -2.3 0M263.4 151.3a1.15 1.15 0 1 0 2.3 0a1.15 1.15 0 1 0 -2.3 0M247.0 137.4a1.15 1.15 0 1 0 2.3 0a1.15 1.15 0 1 0 -2.3 0M260.2 142.4a1.15 1.15 0 1 0 2.3 0a1.15 1.15 0 1 0 -2.3 0M248.2 158.3a1.15 1.15 0 1 0 2.3 0a1.15 1.15 0 1 0 -2.3 0M306.2 172.7a1.15 1.15 0 1 0 2.3 0a1.15 1.15 0 1 0 -2.3 0M244.0 157.8a1.15 1.15 0 1 0 2.3 0a1.15 1.15 0 1 0 -2.3 0M298.5 143.1a1.15 1.15 0 1 0 2.3 0a1.15 1.15 0 1 0 -2.3 0M280.9 131.1a1.15 1.15 0 1 0 2.3 0a1.15 1.15 0 1 0 -2.3 0M253.6 167.4a1.15 1.15 0 1 0 2.3 0a1.15 1.15 0 1 0 -2.3 0M288.1 159.0a1.15 1.15 0 1 0 2.3 0a1.15 1.15 0 1 0 -2.3 0M315.5 175.8a1.15 1.15 0 1 0 2.3 0a1.15 1.15 0 1 0 -2.3 0M313.6 165.3a1.15 1.15 0 1 0 2.3 0a1.15 1.15 0 1 0 -2.3 0M248.9 132.6a1.15 1.15 0 1 0 2.3 0a1.15 1.15 0 1 0 -2.3 0M296.0 134.0a1.15 1.15 0 1 0 2.3 0a1.15 1.15 0 1 0 -2.3 0M243.8 139.3a1.15 1.15 0 1 0 2.3 0a1.15 1.15 0 1 0 -2.3 0M245.7 182.6a1.15 1.15 0 1 0 2.3 0a1.15 1.15 0 1 0 -2.3 0M312.2 164.3a1.15 1.15 0 1 0 2.3 0a1.15 1.15 0 1 0 -2.3 0M275.4 178.1a1.15 1.15 0 1 0 2.3 0a1.15 1.15 0 1 0 -2.3 0M306.1 186.7a1.15 1.15 0 1 0 2.3 0a1.15 1.15 0 1 0 -2.3 0M281.1 171.5a1.15 1.15 0 1 0 2.3 0a1.15 1.15 0 1 0 -2.3 0M245.7 175.0a1.15 1.15 0 1 0 2.3 0a1.15 1.15 0 1 0 -2.3 0M285.2 179.4a1.15 1.15 0 1 0 2.3 0a1.15 1.15 0 1 0 -2.3 0M309.6 160.2a1.15 1.15 0 1 0 2.3 0a1.15 1.15 0 1 0 -2.3 0M299.7 146.4a1.15 1.15 0 1 0 2.3 0a1.15 1.15 0 1 0 -2.3 0M297.8 136.3a1.15 1.15 0 1 0 2.3 0a1.15 1.15 0 1 0 -2.3 0M246.9 177.5a1.15 1.15 0 1 0 2.3 0a1.15 1.15 0 1 0 -2.3 0M312.5 179.3a1.15 1.15 0 1 0 2.3 0a1.15 1.15 0 1 0 -2.3 0M277.2 168.0a1.15 1.15 0 1 0 2.3 0a1.15 1.15 0 1 0 -2.3 0M308.7 184.2a1.15 1.15 0 1 0 2.3 0a1.15 1.15 0 1 0 -2.3 0M314.7 168.9a1.15 1.15 0 1 0 2.3 0a1.15 1.15 0 1 0 -2.3 0M277.4 186.0a1.15 1.15 0 1 0 2.3 0a1.15 1.15 0 1 0 -2.3 0M275.4 180.8a1.15 1.15 0 1 0 2.3 0a1.15 1.15 0 1 0 -2.3 0M242.6 189.5a1.15 1.15 0 1 0 2.3 0a1.15 1.15 0 1 0 -2.3 0M242.6 184.3a1.15 1.15 0 1 0 2.3 0a1.15 1.15 0 1 0 -2.3 0M265.1 197.4a1.15 1.15 0 1 0 2.3 0a1.15 1.15 0 1 0 -2.3 0M301.3 189.2a1.15 1.15 0 1 0 2.3 0a1.15 1.15 0 1 0 -2.3 0M292.1 126.9a1.15 1.15 0 1 0 2.3 0a1.15 1.15 0 1 0 -2.3 0M244.8 134.8a1.15 1.15 0 1 0 2.3 0a1.15 1.15 0 1 0 -2.3 0M306.7 156.7a1.15 1.15 0 1 0 2.3 0a1.15 1.15 0 1 0 -2.3 0M301.7 142.0a1.15 1.15 0 1 0 2.3 0a1.15 1.15 0 1 0 -2.3 0" fill="#0b5a16"/></g>
<path fill="#463e90" clip-path="url(#clipd2)" d="M356.4 166.2a0.9 0.9 0 1 0 1.8 0a0.9 0.9 0 1 0 -1.8 0M352.9 165.3a0.7 0.7 0 1 0 1.5 0a0.7 0.7 0 1 0 -1.5 0M350.0 168.5a1.1 1.1 0 1 0 2.2 0a1.1 1.1 0 1 0 -2.2 0M350.8 169.2a1.1 1.1 0 1 0 2.2 0a1.1 1.1 0 1 0 -2.2 0M355.0 164.6a0.9 0.9 0 1 0 1.8 0a0.9 0.9 0 1 0 -1.8 0M352.4 166.7a1.0 1.0 0 1 0 2.0 0a1.0 1.0 0 1 0 -2.0 0M350.5 164.3a1.1 1.1 0 1 0 2.1 0a1.1 1.1 0 1 0 -2.1 0M348.5 167.6a1.1 1.1 0 1 0 2.2 0a1.1 1.1 0 1 0 -2.2 0M352.7 166.7a0.8 0.8 0 1 0 1.6 0a0.8 0.8 0 1 0 -1.6 0M351.6 167.2a0.9 0.9 0 1 0 1.8 0a0.9 0.9 0 1 0 -1.8 0M350.0 164.9a1.0 1.0 0 1 0 2.1 0a1.0 1.0 0 1 0 -2.1 0M351.8 169.8a1.0 1.0 0 1 0 1.9 0a1.0 1.0 0 1 0 -1.9 0M351.8 166.2a1.2 1.2 0 1 0 2.3 0a1.2 1.2 0 1 0 -2.3 0M349.8 165.3a0.9 0.9 0 1 0 1.8 0a0.9 0.9 0 1 0 -1.8 0M351.0 169.6a1.0 1.0 0 1 0 2.0 0a1.0 1.0 0 1 0 -2.0 0M353.0 165.6a1.1 1.1 0 1 0 2.2 0a1.1 1.1 0 1 0 -2.2 0M351.2 164.2a0.9 0.9 0 1 0 1.7 0a0.9 0.9 0 1 0 -1.7 0M348.3 165.6a1.0 1.0 0 1 0 1.9 0a1.0 1.0 0 1 0 -1.9 0M354.3 163.9a1.2 1.2 0 1 0 2.3 0a1.2 1.2 0 1 0 -2.3 0M351.2 164.6a0.7 0.7 0 1 0 1.4 0a0.7 0.7 0 1 0 -1.4 0M352.7 165.5a1.2 1.2 0 1 0 2.3 0a1.2 1.2 0 1 0 -2.3 0M352.3 170.3a1.1 1.1 0 1 0 2.2 0a1.1 1.1 0 1 0 -2.2 0M354.3 166.4a1.2 1.2 0 1 0 2.3 0a1.2 1.2 0 1 0 -2.3 0M351.4 163.9a1.0 1.0 0 1 0 2.0 0a1.0 1.0 0 1 0 -2.0 0M391.4 135.3a0.9 0.9 0 1 0 1.7 0a0.9 0.9 0 1 0 -1.7 0M389.8 133.1a0.7 0.7 0 1 0 1.5 0a0.7 0.7 0 1 0 -1.5 0M390.0 135.4a0.7 0.7 0 1 0 1.4 0a0.7 0.7 0 1 0 -1.4 0M386.3 137.1a0.7 0.7 0 1 0 1.5 0a0.7 0.7 0 1 0 -1.5 0M387.3 137.9a0.8 0.8 0 1 0 1.6 0a0.8 0.8 0 1 0 -1.6 0M389.9 132.9a1.0 1.0 0 1 0 1.9 0a1.0 1.0 0 1 0 -1.9 0M390.4 134.0a1.0 1.0 0 1 0 2.1 0a1.0 1.0 0 1 0 -2.1 0M389.8 138.6a0.7 0.7 0 1 0 1.4 0a0.7 0.7 0 1 0 -1.4 0M385.8 135.7a0.9 0.9 0 1 0 1.8 0a0.9 0.9 0 1 0 -1.8 0M387.7 132.4a1.0 1.0 0 1 0 2.1 0a1.0 1.0 0 1 0 -2.1 0M390.0 140.3a0.7 0.7 0 1 0 1.4 0a0.7 0.7 0 1 0 -1.4 0M389.0 136.2a0.8 0.8 0 1 0 1.5 0a0.8 0.8 0 1 0 -1.5 0M388.9 133.2a0.8 0.8 0 1 0 1.6 0a0.8 0.8 0 1 0 -1.6 0M390.1 137.0a0.8 0.8 0 1 0 1.5 0a0.8 0.8 0 1 0 -1.5 0M387.8 137.7a0.9 0.9 0 1 0 1.9 0a0.9 0.9 0 1 0 -1.9 0M390.0 137.9a1.1 1.1 0 1 0 2.2 0a1.1 1.1 0 1 0 -2.2 0M390.7 134.8a0.8 0.8 0 1 0 1.6 0a0.8 0.8 0 1 0 -1.6 0M386.9 139.1a0.9 0.9 0 1 0 1.8 0a0.9 0.9 0 1 0 -1.8 0M389.3 136.6a1.2 1.2 0 1 0 2.3 0a1.2 1.2 0 1 0 -2.3 0M388.8 138.8a1.0 1.0 0 1 0 2.0 0a1.0 1.0 0 1 0 -2.0 0M392.2 138.8a0.8 0.8 0 1 0 1.5 0a0.8 0.8 0 1 0 -1.5 0M389.0 139.1a1.0 1.0 0 1 0 1.9 0a1.0 1.0 0 1 0 -1.9 0M340.0 126.5a1.1 1.1 0 1 0 2.3 0a1.1 1.1 0 1 0 -2.3 0M335.2 125.0a0.7 0.7 0 1 0 1.4 0a0.7 0.7 0 1 0 -1.4 0M336.3 122.4a0.9 0.9 0 1 0 1.9 0a0.9 0.9 0 1 0 -1.9 0M337.8 127.5a1.0 1.0 0 1 0 2.0 0a1.0 1.0 0 1 0 -2.0 0M338.1 123.9a0.8 0.8 0 1 0 1.6 0a0.8 0.8 0 1 0 -1.6 0M333.8 127.7a1.1 1.1 0 1 0 2.2 0a1.1 1.1 0 1 0 -2.2 0M337.4 127.5a0.8 0.8 0 1 0 1.5 0a0.8 0.8 0 1 0 -1.5 0M337.3 124.3a1.1 1.1 0 1 0 2.2 0a1.1 1.1 0 1 0 -2.2 0M337.4 127.5a1.0 1.0 0 1 0 2.0 0a1.0 1.0 0 1 0 -2.0 0M337.3 122.5a0.7 0.7 0 1 0 1.4 0a0.7 0.7 0 1 0 -1.4 0M336.4 121.8a0.9 0.9 0 1 0 1.8 0a0.9 0.9 0 1 0 -1.8 0M334.3 122.8a0.9 0.9 0 1 0 1.8 0a0.9 0.9 0 1 0 -1.8 0M338.5 123.5a0.9 0.9 0 1 0 1.8 0a0.9 0.9 0 1 0 -1.8 0M335.1 125.8a0.8 0.8 0 1 0 1.6 0a0.8 0.8 0 1 0 -1.6 0M335.3 127.3a0.7 0.7 0 1 0 1.4 0a0.7 0.7 0 1 0 -1.4 0M335.2 125.2a0.9 0.9 0 1 0 1.8 0a0.9 0.9 0 1 0 -1.8 0M337.1 124.8a1.1 1.1 0 1 0 2.1 0a1.1 1.1 0 1 0 -2.1 0M338.8 123.3a0.8 0.8 0 1 0 1.5 0a0.8 0.8 0 1 0 -1.5 0M327.5 122.5a1.1 1.1 0 1 0 2.3 0a1.1 1.1 0 1 0 -2.3 0M330.3 122.2a0.8 0.8 0 1 0 1.7 0a0.8 0.8 0 1 0 -1.7 0M326.5 125.6a0.9 0.9 0 1 0 1.8 0a0.9 0.9 0 1 0 -1.8 0M328.5 122.6a0.9 0.9 0 1 0 1.9 0a0.9 0.9 0 1 0 -1.9 0M330.7 122.6a1.0 1.0 0 1 0 2.1 0a1.0 1.0 0 1 0 -2.1 0M331.6 121.5a0.8 0.8 0 1 0 1.6 0a0.8 0.8 0 1 0 -1.6 0M331.4 122.0a0.8 0.8 0 1 0 1.6 0a0.8 0.8 0 1 0 -1.6 0M327.1 126.1a1.2 1.2 0 1 0 2.4 0a1.2 1.2 0 1 0 -2.4 0M329.1 126.4a0.8 0.8 0 1 0 1.6 0a0.8 0.8 0 1 0 -1.6 0M330.3 122.9a0.9 0.9 0 1 0 1.8 0a0.9 0.9 0 1 0 -1.8 0M331.8 121.3a1.1 1.1 0 1 0 2.2 0a1.1 1.1 0 1 0 -2.2 0M328.5 122.5a1.0 1.0 0 1 0 2.0 0a1.0 1.0 0 1 0 -2.0 0M328.6 122.4a1.0 1.0 0 1 0 2.0 0a1.0 1.0 0 1 0 -2.0 0M328.6 123.6a0.7 0.7 0 1 0 1.4 0a0.7 0.7 0 1 0 -1.4 0M331.6 124.1a0.8 0.8 0 1 0 1.5 0a0.8 0.8 0 1 0 -1.5 0M328.6 122.1a0.8 0.8 0 1 0 1.7 0a0.8 0.8 0 1 0 -1.7 0M330.8 120.8a1.2 1.2 0 1 0 2.3 0a1.2 1.2 0 1 0 -2.3 0M330.3 119.3a0.7 0.7 0 1 0 1.5 0a0.7 0.7 0 1 0 -1.5 0M329.4 166.3a0.7 0.7 0 1 0 1.4 0a0.7 0.7 0 1 0 -1.4 0M335.0 163.9a0.9 0.9 0 1 0 1.7 0a0.9 0.9 0 1 0 -1.7 0M330.6 161.7a1.0 1.0 0 1 0 1.9 0a1.0 1.0 0 1 0 -1.9 0M331.6 167.4a0.8 0.8 0 1 0 1.5 0a0.8 0.8 0 1 0 -1.5 0M330.0 162.7a0.7 0.7 0 1 0 1.4 0a0.7 0.7 0 1 0 -1.4 0M335.3 163.3a0.9 0.9 0 1 0 1.8 0a0.9 0.9 0 1 0 -1.8 0M334.0 162.5a1.2 1.2 0 1 0 2.4 0a1.2 1.2 0 1 0 -2.4 0M328.0 165.3a1.2 1.2 0 1 0 2.3 0a1.2 1.2 0 1 0 -2.3 0M327.9 162.2a0.8 0.8 0 1 0 1.7 0a0.8 0.8 0 1 0 -1.7 0M333.4 167.7a0.8 0.8 0 1 0 1.7 0a0.8 0.8 0 1 0 -1.7 0M331.7 167.4a1.1 1.1 0 1 0 2.1 0a1.1 1.1 0 1 0 -2.1 0M332.3 162.0a0.7 0.7 0 1 0 1.4 0a0.7 0.7 0 1 0 -1.4 0M335.3 163.8a0.7 0.7 0 1 0 1.4 0a0.7 0.7 0 1 0 -1.4 0M330.8 164.7a0.8 0.8 0 1 0 1.6 0a0.8 0.8 0 1 0 -1.6 0M334.5 167.1a0.8 0.8 0 1 0 1.6 0a0.8 0.8 0 1 0 -1.6 0M333.9 164.3a0.9 0.9 0 1 0 1.9 0a0.9 0.9 0 1 0 -1.9 0M333.0 164.5a0.8 0.8 0 1 0 1.7 0a0.8 0.8 0 1 0 -1.7 0M332.5 167.3a1.0 1.0 0 1 0 2.1 0a1.0 1.0 0 1 0 -2.1 0M335.0 164.9a0.9 0.9 0 1 0 1.8 0a0.9 0.9 0 1 0 -1.8 0M331.3 166.7a0.8 0.8 0 1 0 1.7 0a0.8 0.8 0 1 0 -1.7 0M330.4 162.7a1.0 1.0 0 1 0 2.0 0a1.0 1.0 0 1 0 -2.0 0M334.3 164.4a0.7 0.7 0 1 0 1.5 0a0.7 0.7 0 1 0 -1.5 0M328.2 162.4a1.0 1.0 0 1 0 2.0 0a1.0 1.0 0 1 0 -2.0 0M328.5 164.6a0.8 0.8 0 1 0 1.6 0a0.8 0.8 0 1 0 -1.6 0M331.6 160.3a0.8 0.8 0 1 0 1.7 0a0.8 0.8 0 1 0 -1.7 0M399.5 180.7a1.1 1.1 0 1 0 2.3 0a1.1 1.1 0 1 0 -2.3 0M396.5 177.0a0.8 0.8 0 1 0 1.6 0a0.8 0.8 0 1 0 -1.6 0M399.8 179.4a0.8 0.8 0 1 0 1.6 0a0.8 0.8 0 1 0 -1.6 0M396.3 179.4a1.1 1.1 0 1 0 2.2 0a1.1 1.1 0 1 0 -2.2 0M394.9 177.5a0.8 0.8 0 1 0 1.7 0a0.8 0.8 0 1 0 -1.7 0M400.9 178.3a0.8 0.8 0 1 0 1.6 0a0.8 0.8 0 1 0 -1.6 0M404.3 180.6a0.9 0.9 0 1 0 1.8 0a0.9 0.9 0 1 0 -1.8 0M399.1 176.5a0.9 0.9 0 1 0 1.7 0a0.9 0.9 0 1 0 -1.7 0M398.8 179.2a0.9 0.9 0 1 0 1.8 0a0.9 0.9 0 1 0 -1.8 0M397.7 177.3a1.1 1.1 0 1 0 2.3 0a1.1 1.1 0 1 0 -2.3 0M401.0 181.9a0.9 0.9 0 1 0 1.9 0a0.9 0.9 0 1 0 -1.9 0M397.8 176.1a0.7 0.7 0 1 0 1.4 0a0.7 0.7 0 1 0 -1.4 0M397.4 180.8a1.2 1.2 0 1 0 2.4 0a1.2 1.2 0 1 0 -2.4 0M396.5 180.0a0.8 0.8 0 1 0 1.6 0a0.8 0.8 0 1 0 -1.6 0M400.0 178.3a0.8 0.8 0 1 0 1.6 0a0.8 0.8 0 1 0 -1.6 0M398.5 176.2a1.0 1.0 0 1 0 2.1 0a1.0 1.0 0 1 0 -2.1 0M396.7 176.9a1.1 1.1 0 1 0 2.2 0a1.1 1.1 0 1 0 -2.2 0M398.1 177.2a0.8 0.8 0 1 0 1.7 0a0.8 0.8 0 1 0 -1.7 0M398.0 177.5a1.1 1.1 0 1 0 2.3 0a1.1 1.1 0 1 0 -2.3 0M395.0 177.9a1.0 1.0 0 1 0 1.9 0a1.0 1.0 0 1 0 -1.9 0M397.4 178.7a1.2 1.2 0 1 0 2.4 0a1.2 1.2 0 1 0 -2.4 0M349.2 156.2a1.2 1.2 0 1 0 2.3 0a1.2 1.2 0 1 0 -2.3 0M351.3 155.7a1.0 1.0 0 1 0 2.0 0a1.0 1.0 0 1 0 -2.0 0M350.0 158.2a0.7 0.7 0 1 0 1.4 0a0.7 0.7 0 1 0 -1.4 0M349.8 154.4a0.7 0.7 0 1 0 1.4 0a0.7 0.7 0 1 0 -1.4 0M352.8 154.1a1.1 1.1 0 1 0 2.1 0a1.1 1.1 0 1 0 -2.1 0M348.0 154.4a0.9 0.9 0 1 0 1.7 0a0.9 0.9 0 1 0 -1.7 0M349.0 155.6a1.0 1.0 0 1 0 1.9 0a1.0 1.0 0 1 0 -1.9 0M349.8 154.6a0.8 0.8 0 1 0 1.7 0a0.8 0.8 0 1 0 -1.7 0M349.1 152.4a1.2 1.2 0 1 0 2.4 0a1.2 1.2 0 1 0 -2.4 0M349.9 154.3a0.8 0.8 0 1 0 1.6 0a0.8 0.8 0 1 0 -1.6 0M346.8 156.7a0.8 0.8 0 1 0 1.5 0a0.8 0.8 0 1 0 -1.5 0M352.7 157.2a0.8 0.8 0 1 0 1.5 0a0.8 0.8 0 1 0 -1.5 0M351.3 156.2a1.0 1.0 0 1 0 1.9 0a1.0 1.0 0 1 0 -1.9 0M349.3 157.3a1.0 1.0 0 1 0 1.9 0a1.0 1.0 0 1 0 -1.9 0M353.0 156.6a1.0 1.0 0 1 0 2.0 0a1.0 1.0 0 1 0 -2.0 0M353.3 156.4a0.7 0.7 0 1 0 1.4 0a0.7 0.7 0 1 0 -1.4 0M351.4 152.2a1.0 1.0 0 1 0 1.9 0a1.0 1.0 0 1 0 -1.9 0M347.2 153.3a1.2 1.2 0 1 0 2.4 0a1.2 1.2 0 1 0 -2.4 0M349.5 152.0a1.2 1.2 0 1 0 2.3 0a1.2 1.2 0 1 0 -2.3 0M352.8 155.2a0.9 0.9 0 1 0 1.8 0a0.9 0.9 0 1 0 -1.8 0M347.1 153.2a1.0 1.0 0 1 0 2.0 0a1.0 1.0 0 1 0 -2.0 0M352.4 152.6a0.9 0.9 0 1 0 1.7 0a0.9 0.9 0 1 0 -1.7 0M352.2 156.0a0.8 0.8 0 1 0 1.7 0a0.8 0.8 0 1 0 -1.7 0M345.7 156.5a1.0 1.0 0 1 0 1.9 0a1.0 1.0 0 1 0 -1.9 0M350.3 155.3a1.2 1.2 0 1 0 2.3 0a1.2 1.2 0 1 0 -2.3 0M350.9 153.9a1.2 1.2 0 1 0 2.4 0a1.2 1.2 0 1 0 -2.4 0M352.8 153.2a0.8 0.8 0 1 0 1.7 0a0.8 0.8 0 1 0 -1.7 0M375.4 147.8a0.9 0.9 0 1 0 1.7 0a0.9 0.9 0 1 0 -1.7 0M373.8 146.2a1.0 1.0 0 1 0 2.1 0a1.0 1.0 0 1 0 -2.1 0M374.4 152.1a1.2 1.2 0 1 0 2.3 0a1.2 1.2 0 1 0 -2.3 0M375.4 150.6a0.9 0.9 0 1 0 1.7 0a0.9 0.9 0 1 0 -1.7 0M372.4 147.5a0.7 0.7 0 1 0 1.4 0a0.7 0.7 0 1 0 -1.4 0M375.9 150.5a0.7 0.7 0 1 0 1.5 0a0.7 0.7 0 1 0 -1.5 0M377.4 150.9a0.7 0.7 0 1 0 1.5 0a0.7 0.7 0 1 0 -1.5 0M379.0 149.7a0.8 0.8 0 1 0 1.6 0a0.8 0.8 0 1 0 -1.6 0M375.4 148.5a0.8 0.8 0 1 0 1.6 0a0.8 0.8 0 1 0 -1.6 0M378.7 150.9a0.9 0.9 0 1 0 1.9 0a0.9 0.9 0 1 0 -1.9 0M377.3 149.7a0.9 0.9 0 1 0 1.8 0a0.9 0.9 0 1 0 -1.8 0M375.1 148.4a0.8 0.8 0 1 0 1.7 0a0.8 0.8 0 1 0 -1.7 0M374.9 148.9a1.1 1.1 0 1 0 2.2 0a1.1 1.1 0 1 0 -2.2 0M374.8 151.5a1.1 1.1 0 1 0 2.2 0a1.1 1.1 0 1 0 -2.2 0M377.8 147.3a1.2 1.2 0 1 0 2.3 0a1.2 1.2 0 1 0 -2.3 0M373.4 147.3a1.2 1.2 0 1 0 2.3 0a1.2 1.2 0 1 0 -2.3 0M375.7 150.7a0.9 0.9 0 1 0 1.9 0a0.9 0.9 0 1 0 -1.9 0M376.7 149.2a1.0 1.0 0 1 0 2.1 0a1.0 1.0 0 1 0 -2.1 0M373.0 152.0a0.8 0.8 0 1 0 1.7 0a0.8 0.8 0 1 0 -1.7 0M371.2 148.4a1.1 1.1 0 1 0 2.2 0a1.1 1.1 0 1 0 -2.2 0M374.3 147.9a0.8 0.8 0 1 0 1.5 0a0.8 0.8 0 1 0 -1.5 0M372.3 146.0a0.9 0.9 0 1 0 1.7 0a0.9 0.9 0 1 0 -1.7 0M374.9 149.6a1.1 1.1 0 1 0 2.1 0a1.1 1.1 0 1 0 -2.1 0M325.4 188.7a0.8 0.8 0 1 0 1.6 0a0.8 0.8 0 1 0 -1.6 0M326.7 190.3a0.9 0.9 0 1 0 1.9 0a0.9 0.9 0 1 0 -1.9 0M322.7 188.7a0.7 0.7 0 1 0 1.4 0a0.7 0.7 0 1 0 -1.4 0M323.5 188.8a0.7 0.7 0 1 0 1.4 0a0.7 0.7 0 1 0 -1.4 0M324.7 193.1a1.0 1.0 0 1 0 2.0 0a1.0 1.0 0 1 0 -2.0 0M323.0 188.3a0.8 0.8 0 1 0 1.6 0a0.8 0.8 0 1 0 -1.6 0M328.3 191.7a1.2 1.2 0 1 0 2.3 0a1.2 1.2 0 1 0 -2.3 0M324.1 190.2a1.1 1.1 0 1 0 2.3 0a1.1 1.1 0 1 0 -2.3 0M324.5 192.8a1.2 1.2 0 1 0 2.3 0a1.2 1.2 0 1 0 -2.3 0M325.7 188.8a0.8 0.8 0 1 0 1.7 0a0.8 0.8 0 1 0 -1.7 0M327.6 187.8a1.0 1.0 0 1 0 2.0 0a1.0 1.0 0 1 0 -2.0 0M322.5 192.5a0.7 0.7 0 1 0 1.4 0a0.7 0.7 0 1 0 -1.4 0M322.2 192.1a1.1 1.1 0 1 0 2.2 0a1.1 1.1 0 1 0 -2.2 0M326.0 191.6a0.8 0.8 0 1 0 1.5 0a0.8 0.8 0 1 0 -1.5 0M322.1 192.8a0.8 0.8 0 1 0 1.7 0a0.8 0.8 0 1 0 -1.7 0M324.1 188.6a1.0 1.0 0 1 0 1.9 0a1.0 1.0 0 1 0 -1.9 0M327.4 190.7a1.0 1.0 0 1 0 2.0 0a1.0 1.0 0 1 0 -2.0 0M326.1 194.1a1.2 1.2 0 1 0 2.3 0a1.2 1.2 0 1 0 -2.3 0M321.6 191.9a1.0 1.0 0 1 0 1.9 0a1.0 1.0 0 1 0 -1.9 0M327.1 190.5a0.9 0.9 0 1 0 1.9 0a0.9 0.9 0 1 0 -1.9 0M366.7 132.8a0.8 0.8 0 1 0 1.7 0a0.8 0.8 0 1 0 -1.7 0M366.0 131.0a0.8 0.8 0 1 0 1.6 0a0.8 0.8 0 1 0 -1.6 0M371.1 130.9a0.9 0.9 0 1 0 1.7 0a0.9 0.9 0 1 0 -1.7 0M366.0 133.4a1.0 1.0 0 1 0 2.0 0a1.0 1.0 0 1 0 -2.0 0M370.6 130.4a0.8 0.8 0 1 0 1.6 0a0.8 0.8 0 1 0 -1.6 0M369.7 131.1a1.2 1.2 0 1 0 2.3 0a1.2 1.2 0 1 0 -2.3 0M374.5 130.4a1.0 1.0 0 1 0 2.0 0a1.0 1.0 0 1 0 -2.0 0M367.2 130.3a0.9 0.9 0 1 0 1.8 0a0.9 0.9 0 1 0 -1.8 0M369.2 131.8a0.9 0.9 0 1 0 1.7 0a0.9 0.9 0 1 0 -1.7 0M372.4 132.8a0.7 0.7 0 1 0 1.4 0a0.7 0.7 0 1 0 -1.4 0M367.4 130.8a0.9 0.9 0 1 0 1.9 0a0.9 0.9 0 1 0 -1.9 0M369.8 130.5a0.9 0.9 0 1 0 1.7 0a0.9 0.9 0 1 0 -1.7 0M368.2 128.4a1.0 1.0 0 1 0 2.0 0a1.0 1.0 0 1 0 -2.0 0M368.2 129.7a1.1 1.1 0 1 0 2.1 0a1.1 1.1 0 1 0 -2.1 0M373.9 133.0a1.0 1.0 0 1 0 2.0 0a1.0 1.0 0 1 0 -2.0 0M365.5 129.2a1.0 1.0 0 1 0 2.0 0a1.0 1.0 0 1 0 -2.0 0M369.6 130.1a1.1 1.1 0 1 0 2.2 0a1.1 1.1 0 1 0 -2.2 0M367.5 131.4a1.0 1.0 0 1 0 2.1 0a1.0 1.0 0 1 0 -2.1 0M372.0 129.3a1.0 1.0 0 1 0 2.0 0a1.0 1.0 0 1 0 -2.0 0M369.9 129.8a0.8 0.8 0 1 0 1.7 0a0.8 0.8 0 1 0 -1.7 0M368.9 130.9a0.8 0.8 0 1 0 1.7 0a0.8 0.8 0 1 0 -1.7 0M374.7 132.5a1.0 1.0 0 1 0 2.0 0a1.0 1.0 0 1 0 -2.0 0M371.9 129.7a1.1 1.1 0 1 0 2.2 0a1.1 1.1 0 1 0 -2.2 0M363.2 130.3a1.0 1.0 0 1 0 2.0 0a1.0 1.0 0 1 0 -2.0 0M327.1 127.7a0.8 0.8 0 1 0 1.6 0a0.8 0.8 0 1 0 -1.6 0M322.0 125.9a0.7 0.7 0 1 0 1.5 0a0.7 0.7 0 1 0 -1.5 0M324.8 129.1a1.0 1.0 0 1 0 2.0 0a1.0 1.0 0 1 0 -2.0 0M322.9 130.1a1.2 1.2 0 1 0 2.3 0a1.2 1.2 0 1 0 -2.3 0M328.1 130.4a0.8 0.8 0 1 0 1.5 0a0.8 0.8 0 1 0 -1.5 0M325.1 133.7a1.1 1.1 0 1 0 2.3 0a1.1 1.1 0 1 0 -2.3 0M324.6 126.2a1.0 1.0 0 1 0 1.9 0a1.0 1.0 0 1 0 -1.9 0M321.4 130.5a0.8 0.8 0 1 0 1.6 0a0.8 0.8 0 1 0 -1.6 0M325.8 130.7a1.0 1.0 0 1 0 1.9 0a1.0 1.0 0 1 0 -1.9 0M325.6 131.8a1.1 1.1 0 1 0 2.3 0a1.1 1.1 0 1 0 -2.3 0M321.2 128.2a0.9 0.9 0 1 0 1.9 0a0.9 0.9 0 1 0 -1.9 0M322.1 131.7a0.9 0.9 0 1 0 1.9 0a0.9 0.9 0 1 0 -1.9 0M324.1 126.8a1.0 1.0 0 1 0 1.9 0a1.0 1.0 0 1 0 -1.9 0M323.7 128.1a0.8 0.8 0 1 0 1.6 0a0.8 0.8 0 1 0 -1.6 0M327.4 127.7a1.0 1.0 0 1 0 1.9 0a1.0 1.0 0 1 0 -1.9 0M323.3 132.2a0.7 0.7 0 1 0 1.5 0a0.7 0.7 0 1 0 -1.5 0M323.0 132.0a1.1 1.1 0 1 0 2.2 0a1.1 1.1 0 1 0 -2.2 0M326.8 129.6a0.8 0.8 0 1 0 1.6 0a0.8 0.8 0 1 0 -1.6 0M326.5 130.5a1.0 1.0 0 1 0 1.9 0a1.0 1.0 0 1 0 -1.9 0M320.7 126.2a1.0 1.0 0 1 0 1.9 0a1.0 1.0 0 1 0 -1.9 0M322.6 132.0a1.0 1.0 0 1 0 2.0 0a1.0 1.0 0 1 0 -2.0 0M326.0 133.0a1.0 1.0 0 1 0 2.1 0a1.0 1.0 0 1 0 -2.1 0M323.5 126.2a0.8 0.8 0 1 0 1.7 0a0.8 0.8 0 1 0 -1.7 0M326.1 130.6a0.8 0.8 0 1 0 1.5 0a0.8 0.8 0 1 0 -1.5 0M397.2 133.1a1.0 1.0 0 1 0 1.9 0a1.0 1.0 0 1 0 -1.9 0M400.3 132.8a1.0 1.0 0 1 0 2.0 0a1.0 1.0 0 1 0 -2.0 0M397.9 129.1a1.0 1.0 0 1 0 2.0 0a1.0 1.0 0 1 0 -2.0 0M397.2 131.8a0.8 0.8 0 1 0 1.6 0a0.8 0.8 0 1 0 -1.6 0M396.8 131.4a1.2 1.2 0 1 0 2.4 0a1.2 1.2 0 1 0 -2.4 0M400.1 129.6a0.7 0.7 0 1 0 1.5 0a0.7 0.7 0 1 0 -1.5 0M398.3 133.2a1.1 1.1 0 1 0 2.2 0a1.1 1.1 0 1 0 -2.2 0M398.3 128.2a0.8 0.8 0 1 0 1.7 0a0.8 0.8 0 1 0 -1.7 0M395.7 127.6a0.9 0.9 0 1 0 1.9 0a0.9 0.9 0 1 0 -1.9 0M396.2 127.3a1.0 1.0 0 1 0 1.9 0a1.0 1.0 0 1 0 -1.9 0M397.9 130.9a1.1 1.1 0 1 0 2.2 0a1.1 1.1 0 1 0 -2.2 0M400.5 133.1a0.7 0.7 0 1 0 1.5 0a0.7 0.7 0 1 0 -1.5 0M395.8 132.5a0.8 0.8 0 1 0 1.5 0a0.8 0.8 0 1 0 -1.5 0M392.3 131.9a1.0 1.0 0 1 0 2.0 0a1.0 1.0 0 1 0 -2.0 0M394.5 132.1a1.0 1.0 0 1 0 2.1 0a1.0 1.0 0 1 0 -2.1 0M396.2 130.5a1.0 1.0 0 1 0 2.0 0a1.0 1.0 0 1 0 -2.0 0M400.4 130.3a1.1 1.1 0 1 0 2.2 0a1.1 1.1 0 1 0 -2.2 0M395.5 133.5a0.8 0.8 0 1 0 1.7 0a0.8 0.8 0 1 0 -1.7 0M399.2 130.6a0.8 0.8 0 1 0 1.5 0a0.8 0.8 0 1 0 -1.5 0M398.3 130.0a1.1 1.1 0 1 0 2.2 0a1.1 1.1 0 1 0 -2.2 0M399.0 133.9a0.9 0.9 0 1 0 1.8 0a0.9 0.9 0 1 0 -1.8 0M393.7 132.8a0.8 0.8 0 1 0 1.6 0a0.8 0.8 0 1 0 -1.6 0M396.4 133.6a1.1 1.1 0 1 0 2.2 0a1.1 1.1 0 1 0 -2.2 0M394.4 128.0a1.0 1.0 0 1 0 2.0 0a1.0 1.0 0 1 0 -2.0 0M393.5 130.4a1.1 1.1 0 1 0 2.2 0a1.1 1.1 0 1 0 -2.2 0M392.2 130.1a1.1 1.1 0 1 0 2.1 0a1.1 1.1 0 1 0 -2.1 0M368.6 203.4a1.0 1.0 0 1 0 2.0 0a1.0 1.0 0 1 0 -2.0 0M365.6 198.7a1.1 1.1 0 1 0 2.1 0a1.1 1.1 0 1 0 -2.1 0M369.2 203.0a0.8 0.8 0 1 0 1.6 0a0.8 0.8 0 1 0 -1.6 0M370.6 202.8a1.0 1.0 0 1 0 2.1 0a1.0 1.0 0 1 0 -2.1 0M372.8 203.7a1.1 1.1 0 1 0 2.2 0a1.1 1.1 0 1 0 -2.2 0M368.8 200.1a0.8 0.8 0 1 0 1.6 0a0.8 0.8 0 1 0 -1.6 0M369.8 203.8a0.7 0.7 0 1 0 1.4 0a0.7 0.7 0 1 0 -1.4 0M371.8 201.8a1.2 1.2 0 1 0 2.4 0a1.2 1.2 0 1 0 -2.4 0M372.7 201.0a0.8 0.8 0 1 0 1.7 0a0.8 0.8 0 1 0 -1.7 0M369.0 201.7a0.8 0.8 0 1 0 1.5 0a0.8 0.8 0 1 0 -1.5 0M367.9 201.7a1.0 1.0 0 1 0 2.1 0a1.0 1.0 0 1 0 -2.1 0M371.3 203.1a1.0 1.0 0 1 0 2.1 0a1.0 1.0 0 1 0 -2.1 0M368.7 201.6a0.9 0.9 0 1 0 1.7 0a0.9 0.9 0 1 0 -1.7 0M368.1 200.3a0.8 0.8 0 1 0 1.5 0a0.8 0.8 0 1 0 -1.5 0M367.2 203.9a0.7 0.7 0 1 0 1.4 0a0.7 0.7 0 1 0 -1.4 0M367.2 201.3a1.1 1.1 0 1 0 2.1 0a1.1 1.1 0 1 0 -2.1 0M373.4 202.0a0.9 0.9 0 1 0 1.9 0a0.9 0.9 0 1 0 -1.9 0M369.5 198.8a0.7 0.7 0 1 0 1.5 0a0.7 0.7 0 1 0 -1.5 0M369.2 199.3a0.8 0.8 0 1 0 1.6 0a0.8 0.8 0 1 0 -1.6 0M366.4 201.0a0.8 0.8 0 1 0 1.5 0a0.8 0.8 0 1 0 -1.5 0M367.9 201.9a0.8 0.8 0 1 0 1.6 0a0.8 0.8 0 1 0 -1.6 0M322.5 153.4a0.9 0.9 0 1 0 1.7 0a0.9 0.9 0 1 0 -1.7 0M320.0 153.0a1.1 1.1 0 1 0 2.3 0a1.1 1.1 0 1 0 -2.3 0M322.7 151.4a1.1 1.1 0 1 0 2.2 0a1.1 1.1 0 1 0 -2.2 0M320.2 157.2a1.0 1.0 0 1 0 2.0 0a1.0 1.0 0 1 0 -2.0 0M324.6 155.8a1.1 1.1 0 1 0 2.2 0a1.1 1.1 0 1 0 -2.2 0M321.2 153.6a0.7 0.7 0 1 0 1.4 0a0.7 0.7 0 1 0 -1.4 0M319.4 154.2a0.9 0.9 0 1 0 1.8 0a0.9 0.9 0 1 0 -1.8 0M325.4 151.9a0.9 0.9 0 1 0 1.7 0a0.9 0.9 0 1 0 -1.7 0M323.0 153.6a0.8 0.8 0 1 0 1.6 0a0.8 0.8 0 1 0 -1.6 0M321.3 151.5a0.8 0.8 0 1 0 1.6 0a0.8 0.8 0 1 0 -1.6 0M321.1 156.6a1.2 1.2 0 1 0 2.3 0a1.2 1.2 0 1 0 -2.3 0M321.6 151.8a1.1 1.1 0 1 0 2.2 0a1.1 1.1 0 1 0 -2.2 0M321.3 154.4a1.1 1.1 0 1 0 2.3 0a1.1 1.1 0 1 0 -2.3 0M321.7 157.2a0.7 0.7 0 1 0 1.5 0a0.7 0.7 0 1 0 -1.5 0M323.4 155.3a1.1 1.1 0 1 0 2.3 0a1.1 1.1 0 1 0 -2.3 0M323.9 153.4a0.8 0.8 0 1 0 1.6 0a0.8 0.8 0 1 0 -1.6 0M323.5 153.8a1.0 1.0 0 1 0 1.9 0a1.0 1.0 0 1 0 -1.9 0M319.5 155.2a0.8 0.8 0 1 0 1.5 0a0.8 0.8 0 1 0 -1.5 0M358.5 195.0a0.8 0.8 0 1 0 1.6 0a0.8 0.8 0 1 0 -1.6 0M355.3 192.9a1.2 1.2 0 1 0 2.3 0a1.2 1.2 0 1 0 -2.3 0M360.1 196.7a0.7 0.7 0 1 0 1.5 0a0.7 0.7 0 1 0 -1.5 0M357.0 198.2a1.0 1.0 0 1 0 1.9 0a1.0 1.0 0 1 0 -1.9 0M356.5 198.4a1.0 1.0 0 1 0 2.0 0a1.0 1.0 0 1 0 -2.0 0M357.1 195.1a1.2 1.2 0 1 0 2.4 0a1.2 1.2 0 1 0 -2.4 0M358.0 195.5a0.8 0.8 0 1 0 1.7 0a0.8 0.8 0 1 0 -1.7 0M359.2 195.4a0.9 0.9 0 1 0 1.9 0a0.9 0.9 0 1 0 -1.9 0M356.9 194.4a1.1 1.1 0 1 0 2.3 0a1.1 1.1 0 1 0 -2.3 0M356.8 199.3a1.1 1.1 0 1 0 2.3 0a1.1 1.1 0 1 0 -2.3 0M356.0 198.5a1.2 1.2 0 1 0 2.4 0a1.2 1.2 0 1 0 -2.4 0M358.3 195.7a1.2 1.2 0 1 0 2.3 0a1.2 1.2 0 1 0 -2.3 0M355.7 193.1a1.0 1.0 0 1 0 2.1 0a1.0 1.0 0 1 0 -2.1 0M354.9 198.2a0.9 0.9 0 1 0 1.8 0a0.9 0.9 0 1 0 -1.8 0M361.3 198.4a1.0 1.0 0 1 0 2.1 0a1.0 1.0 0 1 0 -2.1 0M358.9 195.7a0.8 0.8 0 1 0 1.5 0a0.8 0.8 0 1 0 -1.5 0M359.2 195.9a1.2 1.2 0 1 0 2.3 0a1.2 1.2 0 1 0 -2.3 0M355.4 199.0a1.0 1.0 0 1 0 1.9 0a1.0 1.0 0 1 0 -1.9 0M358.0 197.9a0.8 0.8 0 1 0 1.6 0a0.8 0.8 0 1 0 -1.6 0M355.7 195.7a0.8 0.8 0 1 0 1.5 0a0.8 0.8 0 1 0 -1.5 0M355.9 192.8a1.2 1.2 0 1 0 2.3 0a1.2 1.2 0 1 0 -2.3 0M358.3 195.3a1.2 1.2 0 1 0 2.3 0a1.2 1.2 0 1 0 -2.3 0M359.1 201.6a1.0 1.0 0 1 0 2.1 0a1.0 1.0 0 1 0 -2.1 0M354.9 196.1a0.9 0.9 0 1 0 1.8 0a0.9 0.9 0 1 0 -1.8 0M358.3 196.1a0.8 0.8 0 1 0 1.7 0a0.8 0.8 0 1 0 -1.7 0M356.6 199.7a0.7 0.7 0 1 0 1.4 0a0.7 0.7 0 1 0 -1.4 0M354.8 196.2a1.2 1.2 0 1 0 2.3 0a1.2 1.2 0 1 0 -2.3 0M339.8 144.4a0.8 0.8 0 1 0 1.5 0a0.8 0.8 0 1 0 -1.5 0M334.9 142.5a0.9 0.9 0 1 0 1.8 0a0.9 0.9 0 1 0 -1.8 0M334.3 144.2a1.1 1.1 0 1 0 2.3 0a1.1 1.1 0 1 0 -2.3 0M337.2 143.8a0.7 0.7 0 1 0 1.4 0a0.7 0.7 0 1 0 -1.4 0M330.5 143.2a1.1 1.1 0 1 0 2.3 0a1.1 1.1 0 1 0 -2.3 0M334.4 143.8a0.9 0.9 0 1 0 1.8 0a0.9 0.9 0 1 0 -1.8 0M337.5 141.7a0.8 0.8 0 1 0 1.6 0a0.8 0.8 0 1 0 -1.6 0M338.8 143.7a1.2 1.2 0 1 0 2.4 0a1.2 1.2 0 1 0 -2.4 0M337.2 144.3a1.1 1.1 0 1 0 2.3 0a1.1 1.1 0 1 0 -2.3 0M335.6 143.3a0.8 0.8 0 1 0 1.6 0a0.8 0.8 0 1 0 -1.6 0M337.0 145.2a1.2 1.2 0 1 0 2.4 0a1.2 1.2 0 1 0 -2.4 0M334.6 142.9a1.0 1.0 0 1 0 2.0 0a1.0 1.0 0 1 0 -2.0 0M335.2 140.5a1.2 1.2 0 1 0 2.4 0a1.2 1.2 0 1 0 -2.4 0M332.5 143.3a1.2 1.2 0 1 0 2.3 0a1.2 1.2 0 1 0 -2.3 0M332.4 140.5a1.1 1.1 0 1 0 2.2 0a1.1 1.1 0 1 0 -2.2 0M334.5 143.8a0.7 0.7 0 1 0 1.4 0a0.7 0.7 0 1 0 -1.4 0M332.4 143.5a1.1 1.1 0 1 0 2.3 0a1.1 1.1 0 1 0 -2.3 0M338.4 143.1a1.1 1.1 0 1 0 2.2 0a1.1 1.1 0 1 0 -2.2 0M331.9 145.4a0.8 0.8 0 1 0 1.5 0a0.8 0.8 0 1 0 -1.5 0M335.9 145.3a1.0 1.0 0 1 0 2.0 0a1.0 1.0 0 1 0 -2.0 0M328.2 142.7a1.0 1.0 0 1 0 1.9 0a1.0 1.0 0 1 0 -1.9 0M334.6 144.4a0.8 0.8 0 1 0 1.6 0a0.8 0.8 0 1 0 -1.6 0M333.7 144.6a0.7 0.7 0 1 0 1.5 0a0.7 0.7 0 1 0 -1.5 0M339.1 143.9a0.7 0.7 0 1 0 1.4 0a0.7 0.7 0 1 0 -1.4 0M328.4 142.7a1.2 1.2 0 1 0 2.3 0a1.2 1.2 0 1 0 -2.3 0M336.2 143.7a1.1 1.1 0 1 0 2.1 0a1.1 1.1 0 1 0 -2.1 0M373.2 185.8a0.9 0.9 0 1 0 1.9 0a0.9 0.9 0 1 0 -1.9 0M373.4 188.9a1.2 1.2 0 1 0 2.3 0a1.2 1.2 0 1 0 -2.3 0M376.8 189.0a0.9 0.9 0 1 0 1.9 0a0.9 0.9 0 1 0 -1.9 0M369.3 189.1a0.9 0.9 0 1 0 1.9 0a0.9 0.9 0 1 0 -1.9 0M372.1 191.7a0.8 0.8 0 1 0 1.5 0a0.8 0.8 0 1 0 -1.5 0M376.7 187.4a0.7 0.7 0 1 0 1.4 0a0.7 0.7 0 1 0 -1.4 0M372.9 192.9a0.9 0.9 0 1 0 1.8 0a0.9 0.9 0 1 0 -1.8 0M374.8 189.5a1.0 1.0 0 1 0 2.1 0a1.0 1.0 0 1 0 -2.1 0M374.0 191.8a1.0 1.0 0 1 0 2.0 0a1.0 1.0 0 1 0 -2.0 0M371.6 189.7a0.7 0.7 0 1 0 1.5 0a0.7 0.7 0 1 0 -1.5 0M377.8 186.9a0.8 0.8 0 1 0 1.7 0a0.8 0.8 0 1 0 -1.7 0M374.3 189.1a1.0 1.0 0 1 0 1.9 0a1.0 1.0 0 1 0 -1.9 0M373.3 192.6a1.1 1.1 0 1 0 2.1 0a1.1 1.1 0 1 0 -2.1 0M377.3 189.9a0.8 0.8 0 1 0 1.6 0a0.8 0.8 0 1 0 -1.6 0M373.4 187.6a1.0 1.0 0 1 0 2.1 0a1.0 1.0 0 1 0 -2.1 0M371.2 186.8a1.0 1.0 0 1 0 2.0 0a1.0 1.0 0 1 0 -2.0 0M373.0 191.3a0.7 0.7 0 1 0 1.4 0a0.7 0.7 0 1 0 -1.4 0M377.2 187.8a0.8 0.8 0 1 0 1.5 0a0.8 0.8 0 1 0 -1.5 0M370.1 190.5a1.1 1.1 0 1 0 2.3 0a1.1 1.1 0 1 0 -2.3 0M370.4 188.4a1.0 1.0 0 1 0 1.9 0a1.0 1.0 0 1 0 -1.9 0M373.3 191.5a1.0 1.0 0 1 0 1.9 0a1.0 1.0 0 1 0 -1.9 0M372.4 187.4a1.1 1.1 0 1 0 2.2 0a1.1 1.1 0 1 0 -2.2 0M354.9 122.5a0.7 0.7 0 1 0 1.4 0a0.7 0.7 0 1 0 -1.4 0M356.9 123.2a0.8 0.8 0 1 0 1.6 0a0.8 0.8 0 1 0 -1.6 0M354.4 125.3a0.8 0.8 0 1 0 1.5 0a0.8 0.8 0 1 0 -1.5 0M355.4 125.6a0.8 0.8 0 1 0 1.5 0a0.8 0.8 0 1 0 -1.5 0M354.1 125.3a0.8 0.8 0 1 0 1.6 0a0.8 0.8 0 1 0 -1.6 0M353.1 127.2a1.1 1.1 0 1 0 2.2 0a1.1 1.1 0 1 0 -2.2 0M350.3 125.0a0.8 0.8 0 1 0 1.7 0a0.8 0.8 0 1 0 -1.7 0M352.9 124.8a1.1 1.1 0 1 0 2.1 0a1.1 1.1 0 1 0 -2.1 0M356.2 121.7a1.1 1.1 0 1 0 2.1 0a1.1 1.1 0 1 0 -2.1 0M352.5 127.0a1.1 1.1 0 1 0 2.2 0a1.1 1.1 0 1 0 -2.2 0M357.3 127.7a0.7 0.7 0 1 0 1.5 0a0.7 0.7 0 1 0 -1.5 0M354.6 125.4a0.8 0.8 0 1 0 1.7 0a0.8 0.8 0 1 0 -1.7 0M355.0 128.9a1.2 1.2 0 1 0 2.3 0a1.2 1.2 0 1 0 -2.3 0M354.2 129.2a0.8 0.8 0 1 0 1.7 0a0.8 0.8 0 1 0 -1.7 0M354.7 124.5a0.8 0.8 0 1 0 1.6 0a0.8 0.8 0 1 0 -1.6 0M356.7 126.4a0.7 0.7 0 1 0 1.4 0a0.7 0.7 0 1 0 -1.4 0M354.0 126.1a0.9 0.9 0 1 0 1.8 0a0.9 0.9 0 1 0 -1.8 0M356.7 123.7a1.2 1.2 0 1 0 2.3 0a1.2 1.2 0 1 0 -2.3 0M356.3 122.8a1.1 1.1 0 1 0 2.1 0a1.1 1.1 0 1 0 -2.1 0M354.5 124.3a1.2 1.2 0 1 0 2.4 0a1.2 1.2 0 1 0 -2.4 0M354.6 127.2a1.1 1.1 0 1 0 2.1 0a1.1 1.1 0 1 0 -2.1 0M353.7 122.6a0.8 0.8 0 1 0 1.6 0a0.8 0.8 0 1 0 -1.6 0M357.9 123.8a0.7 0.7 0 1 0 1.5 0a0.7 0.7 0 1 0 -1.5 0M374.0 179.0a1.0 1.0 0 1 0 2.1 0a1.0 1.0 0 1 0 -2.1 0M375.9 183.7a0.9 0.9 0 1 0 1.8 0a0.9 0.9 0 1 0 -1.8 0M377.8 183.2a1.0 1.0 0 1 0 2.0 0a1.0 1.0 0 1 0 -2.0 0M378.9 182.8a1.0 1.0 0 1 0 2.0 0a1.0 1.0 0 1 0 -2.0 0M373.7 183.4a0.9 0.9 0 1 0 1.9 0a0.9 0.9 0 1 0 -1.9 0M372.4 180.3a0.9 0.9 0 1 0 1.8 0a0.9 0.9 0 1 0 -1.8 0M376.2 181.9a1.0 1.0 0 1 0 2.0 0a1.0 1.0 0 1 0 -2.0 0M376.9 182.8a0.9 0.9 0 1 0 1.8 0a0.9 0.9 0 1 0 -1.8 0M379.9 185.8a1.0 1.0 0 1 0 2.0 0a1.0 1.0 0 1 0 -2.0 0M377.4 183.3a1.0 1.0 0 1 0 2.0 0a1.0 1.0 0 1 0 -2.0 0M373.7 181.9a0.8 0.8 0 1 0 1.5 0a0.8 0.8 0 1 0 -1.5 0M379.5 183.2a0.9 0.9 0 1 0 1.7 0a0.9 0.9 0 1 0 -1.7 0M380.2 182.9a0.9 0.9 0 1 0 1.7 0a0.9 0.9 0 1 0 -1.7 0M375.0 184.3a1.0 1.0 0 1 0 2.1 0a1.0 1.0 0 1 0 -2.1 0M372.9 180.7a1.2 1.2 0 1 0 2.3 0a1.2 1.2 0 1 0 -2.3 0M377.3 183.7a0.8 0.8 0 1 0 1.5 0a0.8 0.8 0 1 0 -1.5 0M374.0 181.5a1.0 1.0 0 1 0 1.9 0a1.0 1.0 0 1 0 -1.9 0M372.5 181.7a0.9 0.9 0 1 0 1.8 0a0.9 0.9 0 1 0 -1.8 0M379.3 185.2a0.8 0.8 0 1 0 1.7 0a0.8 0.8 0 1 0 -1.7 0M377.5 184.7a0.8 0.8 0 1 0 1.5 0a0.8 0.8 0 1 0 -1.5 0M376.1 183.2a1.1 1.1 0 1 0 2.2 0a1.1 1.1 0 1 0 -2.2 0M379.0 181.1a0.8 0.8 0 1 0 1.6 0a0.8 0.8 0 1 0 -1.6 0M373.3 178.3a1.1 1.1 0 1 0 2.2 0a1.1 1.1 0 1 0 -2.2 0M374.6 183.7a1.1 1.1 0 1 0 2.1 0a1.1 1.1 0 1 0 -2.1 0M378.7 183.9a1.1 1.1 0 1 0 2.2 0a1.1 1.1 0 1 0 -2.2 0M376.9 182.5a1.0 1.0 0 1 0 2.1 0a1.0 1.0 0 1 0 -2.1 0M373.4 180.5a1.1 1.1 0 1 0 2.2 0a1.1 1.1 0 1 0 -2.2 0M385.8 174.6a1.1 1.1 0 1 0 2.2 0a1.1 1.1 0 1 0 -2.2 0M386.6 176.9a0.7 0.7 0 1 0 1.4 0a0.7 0.7 0 1 0 -1.4 0M383.5 173.2a0.8 0.8 0 1 0 1.5 0a0.8 0.8 0 1 0 -1.5 0M387.0 173.6a0.7 0.7 0 1 0 1.4 0a0.7 0.7 0 1 0 -1.4 0M388.5 172.5a1.0 1.0 0 1 0 2.0 0a1.0 1.0 0 1 0 -2.0 0M386.3 175.4a1.0 1.0 0 1 0 1.9 0a1.0 1.0 0 1 0 -1.9 0M387.8 176.0a0.8 0.8 0 1 0 1.6 0a0.8 0.8 0 1 0 -1.6 0M387.1 170.8a0.8 0.8 0 1 0 1.5 0a0.8 0.8 0 1 0 -1.5 0M388.5 175.4a0.7 0.7 0 1 0 1.4 0a0.7 0.7 0 1 0 -1.4 0M390.0 170.7a1.0 1.0 0 1 0 2.0 0a1.0 1.0 0 1 0 -2.0 0M386.4 176.7a0.8 0.8 0 1 0 1.6 0a0.8 0.8 0 1 0 -1.6 0M386.3 173.9a1.1 1.1 0 1 0 2.2 0a1.1 1.1 0 1 0 -2.2 0M383.4 172.3a0.8 0.8 0 1 0 1.6 0a0.8 0.8 0 1 0 -1.6 0M386.6 173.7a0.9 0.9 0 1 0 1.9 0a0.9 0.9 0 1 0 -1.9 0M386.4 174.3a1.0 1.0 0 1 0 2.0 0a1.0 1.0 0 1 0 -2.0 0M387.0 171.4a1.0 1.0 0 1 0 2.0 0a1.0 1.0 0 1 0 -2.0 0M386.0 173.4a0.8 0.8 0 1 0 1.5 0a0.8 0.8 0 1 0 -1.5 0M386.1 177.2a0.9 0.9 0 1 0 1.9 0a0.9 0.9 0 1 0 -1.9 0M386.4 174.7a1.0 1.0 0 1 0 2.0 0a1.0 1.0 0 1 0 -2.0 0M388.1 169.9a0.9 0.9 0 1 0 1.8 0a0.9 0.9 0 1 0 -1.8 0M384.8 170.8a1.1 1.1 0 1 0 2.3 0a1.1 1.1 0 1 0 -2.3 0M383.6 174.2a1.1 1.1 0 1 0 2.2 0a1.1 1.1 0 1 0 -2.2 0M386.1 172.4a0.9 0.9 0 1 0 1.9 0a0.9 0.9 0 1 0 -1.9 0M384.3 174.3a0.9 0.9 0 1 0 1.9 0a0.9 0.9 0 1 0 -1.9 0M383.6 172.9a1.1 1.1 0 1 0 2.3 0a1.1 1.1 0 1 0 -2.3 0M371.7 168.1a1.2 1.2 0 1 0 2.4 0a1.2 1.2 0 1 0 -2.4 0M363.9 164.0a0.7 0.7 0 1 0 1.5 0a0.7 0.7 0 1 0 -1.5 0M366.2 166.6a0.8 0.8 0 1 0 1.5 0a0.8 0.8 0 1 0 -1.5 0M368.7 168.6a1.2 1.2 0 1 0 2.4 0a1.2 1.2 0 1 0 -2.4 0M364.6 162.7a0.8 0.8 0 1 0 1.6 0a0.8 0.8 0 1 0 -1.6 0M367.5 165.0a1.0 1.0 0 1 0 1.9 0a1.0 1.0 0 1 0 -1.9 0M361.6 163.8a1.1 1.1 0 1 0 2.3 0a1.1 1.1 0 1 0 -2.3 0M366.2 166.5a0.9 0.9 0 1 0 1.7 0a0.9 0.9 0 1 0 -1.7 0M368.2 163.8a1.0 1.0 0 1 0 1.9 0a1.0 1.0 0 1 0 -1.9 0M363.7 164.8a1.1 1.1 0 1 0 2.2 0a1.1 1.1 0 1 0 -2.2 0M369.7 169.8a1.2 1.2 0 1 0 2.4 0a1.2 1.2 0 1 0 -2.4 0M362.5 163.3a0.8 0.8 0 1 0 1.5 0a0.8 0.8 0 1 0 -1.5 0M364.5 163.7a0.9 0.9 0 1 0 1.9 0a0.9 0.9 0 1 0 -1.9 0M367.6 166.1a1.2 1.2 0 1 0 2.3 0a1.2 1.2 0 1 0 -2.3 0M365.8 164.9a0.8 0.8 0 1 0 1.6 0a0.8 0.8 0 1 0 -1.6 0M365.2 166.0a0.7 0.7 0 1 0 1.5 0a0.7 0.7 0 1 0 -1.5 0M368.9 168.7a1.0 1.0 0 1 0 2.1 0a1.0 1.0 0 1 0 -2.1 0M363.8 164.6a1.1 1.1 0 1 0 2.1 0a1.1 1.1 0 1 0 -2.1 0M364.7 165.4a0.8 0.8 0 1 0 1.6 0a0.8 0.8 0 1 0 -1.6 0M362.7 165.5a0.9 0.9 0 1 0 1.8 0a0.9 0.9 0 1 0 -1.8 0M368.3 167.5a1.1 1.1 0 1 0 2.2 0a1.1 1.1 0 1 0 -2.2 0M366.2 163.9a1.0 1.0 0 1 0 2.0 0a1.0 1.0 0 1 0 -2.0 0M364.9 164.4a1.0 1.0 0 1 0 2.1 0a1.0 1.0 0 1 0 -2.1 0M364.6 162.7a0.9 0.9 0 1 0 1.9 0a0.9 0.9 0 1 0 -1.9 0M370.9 167.5a0.7 0.7 0 1 0 1.4 0a0.7 0.7 0 1 0 -1.4 0M368.8 168.3a0.8 0.8 0 1 0 1.7 0a0.8 0.8 0 1 0 -1.7 0M367.1 168.6a0.8 0.8 0 1 0 1.7 0a0.8 0.8 0 1 0 -1.7 0M338.0 158.4a1.0 1.0 0 1 0 2.0 0a1.0 1.0 0 1 0 -2.0 0M339.3 163.3a0.8 0.8 0 1 0 1.6 0a0.8 0.8 0 1 0 -1.6 0M340.5 160.2a0.9 0.9 0 1 0 1.7 0a0.9 0.9 0 1 0 -1.7 0M337.7 156.7a0.8 0.8 0 1 0 1.6 0a0.8 0.8 0 1 0 -1.6 0M335.7 157.9a1.1 1.1 0 1 0 2.1 0a1.1 1.1 0 1 0 -2.1 0M340.3 160.8a1.0 1.0 0 1 0 2.1 0a1.0 1.0 0 1 0 -2.1 0M337.3 161.4a0.9 0.9 0 1 0 1.9 0a0.9 0.9 0 1 0 -1.9 0M337.0 158.2a1.0 1.0 0 1 0 2.0 0a1.0 1.0 0 1 0 -2.0 0M340.1 159.4a1.0 1.0 0 1 0 1.9 0a1.0 1.0 0 1 0 -1.9 0M335.9 161.9a0.9 0.9 0 1 0 1.8 0a0.9 0.9 0 1 0 -1.8 0M337.8 161.2a0.9 0.9 0 1 0 1.8 0a0.9 0.9 0 1 0 -1.8 0M338.9 161.6a1.1 1.1 0 1 0 2.2 0a1.1 1.1 0 1 0 -2.2 0M340.6 160.1a1.2 1.2 0 1 0 2.3 0a1.2 1.2 0 1 0 -2.3 0M334.9 161.4a0.7 0.7 0 1 0 1.4 0a0.7 0.7 0 1 0 -1.4 0M335.9 161.3a1.0 1.0 0 1 0 2.0 0a1.0 1.0 0 1 0 -2.0 0M341.4 158.2a0.7 0.7 0 1 0 1.4 0a0.7 0.7 0 1 0 -1.4 0M336.3 158.9a0.9 0.9 0 1 0 1.8 0a0.9 0.9 0 1 0 -1.8 0M336.9 160.7a1.0 1.0 0 1 0 2.0 0a1.0 1.0 0 1 0 -2.0 0M336.0 163.0a0.7 0.7 0 1 0 1.5 0a0.7 0.7 0 1 0 -1.5 0M348.0 191.0a0.8 0.8 0 1 0 1.7 0a0.8 0.8 0 1 0 -1.7 0M346.4 190.3a0.9 0.9 0 1 0 1.8 0a0.9 0.9 0 1 0 -1.8 0M343.7 186.2a1.0 1.0 0 1 0 2.1 0a1.0 1.0 0 1 0 -2.1 0M348.7 190.7a0.8 0.8 0 1 0 1.6 0a0.8 0.8 0 1 0 -1.6 0M344.3 188.6a1.1 1.1 0 1 0 2.3 0a1.1 1.1 0 1 0 -2.3 0M351.4 190.8a0.7 0.7 0 1 0 1.5 0a0.7 0.7 0 1 0 -1.5 0M347.1 189.7a0.9 0.9 0 1 0 1.8 0a0.9 0.9 0 1 0 -1.8 0M345.8 185.4a0.7 0.7 0 1 0 1.5 0a0.7 0.7 0 1 0 -1.5 0M349.3 189.6a0.9 0.9 0 1 0 1.7 0a0.9 0.9 0 1 0 -1.7 0M346.1 189.1a0.8 0.8 0 1 0 1.6 0a0.8 0.8 0 1 0 -1.6 0M349.0 190.9a1.0 1.0 0 1 0 2.1 0a1.0 1.0 0 1 0 -2.1 0M347.6 190.9a1.1 1.1 0 1 0 2.1 0a1.1 1.1 0 1 0 -2.1 0M348.2 187.9a1.2 1.2 0 1 0 2.3 0a1.2 1.2 0 1 0 -2.3 0M344.8 186.0a0.8 0.8 0 1 0 1.7 0a0.8 0.8 0 1 0 -1.7 0M346.6 191.1a0.8 0.8 0 1 0 1.5 0a0.8 0.8 0 1 0 -1.5 0M348.5 186.5a0.9 0.9 0 1 0 1.8 0a0.9 0.9 0 1 0 -1.8 0M346.6 185.5a1.0 1.0 0 1 0 1.9 0a1.0 1.0 0 1 0 -1.9 0M347.1 189.2a0.8 0.8 0 1 0 1.5 0a0.8 0.8 0 1 0 -1.5 0M348.0 186.8a0.8 0.8 0 1 0 1.6 0a0.8 0.8 0 1 0 -1.6 0M346.9 189.2a1.0 1.0 0 1 0 2.0 0a1.0 1.0 0 1 0 -2.0 0M347.2 189.1a0.9 0.9 0 1 0 1.8 0a0.9 0.9 0 1 0 -1.8 0M343.2 187.2a1.0 1.0 0 1 0 2.1 0a1.0 1.0 0 1 0 -2.1 0M388.8 127.9a0.8 0.8 0 1 0 1.6 0a0.8 0.8 0 1 0 -1.6 0M386.2 126.1a1.0 1.0 0 1 0 2.0 0a1.0 1.0 0 1 0 -2.0 0M388.9 126.8a0.8 0.8 0 1 0 1.7 0a0.8 0.8 0 1 0 -1.7 0M385.6 127.3a1.1 1.1 0 1 0 2.2 0a1.1 1.1 0 1 0 -2.2 0M386.5 124.9a0.8 0.8 0 1 0 1.7 0a0.8 0.8 0 1 0 -1.7 0M385.3 124.4a0.9 0.9 0 1 0 1.8 0a0.9 0.9 0 1 0 -1.8 0M388.3 127.0a1.1 1.1 0 1 0 2.2 0a1.1 1.1 0 1 0 -2.2 0M389.5 123.0a0.9 0.9 0 1 0 1.9 0a0.9 0.9 0 1 0 -1.9 0M386.2 129.1a1.1 1.1 0 1 0 2.2 0a1.1 1.1 0 1 0 -2.2 0M386.7 125.4a1.1 1.1 0 1 0 2.2 0a1.1 1.1 0 1 0 -2.2 0M384.6 128.7a0.9 0.9 0 1 0 1.9 0a0.9 0.9 0 1 0 -1.9 0M385.4 128.2a1.0 1.0 0 1 0 1.9 0a1.0 1.0 0 1 0 -1.9 0M389.0 128.0a1.0 1.0 0 1 0 1.9 0a1.0 1.0 0 1 0 -1.9 0M390.8 124.7a1.1 1.1 0 1 0 2.2 0a1.1 1.1 0 1 0 -2.2 0M386.4 127.4a1.0 1.0 0 1 0 2.1 0a1.0 1.0 0 1 0 -2.1 0M386.2 126.8a0.9 0.9 0 1 0 1.9 0a0.9 0.9 0 1 0 -1.9 0M387.6 121.3a0.8 0.8 0 1 0 1.6 0a0.8 0.8 0 1 0 -1.6 0M385.5 129.2a1.0 1.0 0 1 0 2.0 0a1.0 1.0 0 1 0 -2.0 0M386.9 125.0a0.7 0.7 0 1 0 1.4 0a0.7 0.7 0 1 0 -1.4 0M384.9 128.6a1.2 1.2 0 1 0 2.3 0a1.2 1.2 0 1 0 -2.3 0M386.4 125.0a1.0 1.0 0 1 0 2.0 0a1.0 1.0 0 1 0 -2.0 0M386.6 125.2a1.1 1.1 0 1 0 2.3 0a1.1 1.1 0 1 0 -2.3 0M389.6 123.9a0.8 0.8 0 1 0 1.5 0a0.8 0.8 0 1 0 -1.5 0M387.4 124.3a0.8 0.8 0 1 0 1.7 0a0.8 0.8 0 1 0 -1.7 0M320.4 184.2a0.8 0.8 0 1 0 1.6 0a0.8 0.8 0 1 0 -1.6 0M318.9 184.0a0.7 0.7 0 1 0 1.4 0a0.7 0.7 0 1 0 -1.4 0M320.4 184.5a1.0 1.0 0 1 0 1.9 0a1.0 1.0 0 1 0 -1.9 0M320.4 184.8a0.7 0.7 0 1 0 1.5 0a0.7 0.7 0 1 0 -1.5 0M317.4 184.2a0.9 0.9 0 1 0 1.8 0a0.9 0.9 0 1 0 -1.8 0M323.5 183.7a1.0 1.0 0 1 0 2.0 0a1.0 1.0 0 1 0 -2.0 0M323.3 185.4a1.1 1.1 0 1 0 2.2 0a1.1 1.1 0 1 0 -2.2 0M319.4 185.3a0.9 0.9 0 1 0 1.7 0a0.9 0.9 0 1 0 -1.7 0M318.2 182.7a0.9 0.9 0 1 0 1.9 0a0.9 0.9 0 1 0 -1.9 0M323.0 183.8a0.8 0.8 0 1 0 1.5 0a0.8 0.8 0 1 0 -1.5 0M320.4 179.6a1.2 1.2 0 1 0 2.4 0a1.2 1.2 0 1 0 -2.4 0M323.0 181.8a1.1 1.1 0 1 0 2.2 0a1.1 1.1 0 1 0 -2.2 0M320.7 185.3a1.0 1.0 0 1 0 1.9 0a1.0 1.0 0 1 0 -1.9 0M321.3 185.5a0.8 0.8 0 1 0 1.6 0a0.8 0.8 0 1 0 -1.6 0M318.7 185.3a0.8 0.8 0 1 0 1.5 0a0.8 0.8 0 1 0 -1.5 0M316.3 183.6a0.7 0.7 0 1 0 1.4 0a0.7 0.7 0 1 0 -1.4 0M317.7 184.5a0.8 0.8 0 1 0 1.6 0a0.8 0.8 0 1 0 -1.6 0M320.9 185.6a1.2 1.2 0 1 0 2.3 0a1.2 1.2 0 1 0 -2.3 0M319.8 184.4a1.1 1.1 0 1 0 2.1 0a1.1 1.1 0 1 0 -2.1 0M320.5 183.5a0.8 0.8 0 1 0 1.5 0a0.8 0.8 0 1 0 -1.5 0M317.1 184.5a1.0 1.0 0 1 0 2.0 0a1.0 1.0 0 1 0 -2.0 0M321.1 184.9a0.9 0.9 0 1 0 1.9 0a0.9 0.9 0 1 0 -1.9 0M320.4 183.6a0.8 0.8 0 1 0 1.5 0a0.8 0.8 0 1 0 -1.5 0M319.9 180.9a1.0 1.0 0 1 0 2.0 0a1.0 1.0 0 1 0 -2.0 0M323.6 181.7a1.0 1.0 0 1 0 2.0 0a1.0 1.0 0 1 0 -2.0 0M318.5 182.0a0.8 0.8 0 1 0 1.6 0a0.8 0.8 0 1 0 -1.6 0M401.3 150.6a0.8 0.8 0 1 0 1.6 0a0.8 0.8 0 1 0 -1.6 0M398.9 153.8a0.8 0.8 0 1 0 1.5 0a0.8 0.8 0 1 0 -1.5 0M398.8 151.1a1.0 1.0 0 1 0 2.0 0a1.0 1.0 0 1 0 -2.0 0M396.9 152.3a1.0 1.0 0 1 0 2.0 0a1.0 1.0 0 1 0 -2.0 0M401.2 148.9a1.0 1.0 0 1 0 2.0 0a1.0 1.0 0 1 0 -2.0 0M400.7 150.4a1.1 1.1 0 1 0 2.2 0a1.1 1.1 0 1 0 -2.2 0M397.6 152.5a1.0 1.0 0 1 0 2.0 0a1.0 1.0 0 1 0 -2.0 0M397.5 154.4a0.8 0.8 0 1 0 1.7 0a0.8 0.8 0 1 0 -1.7 0M401.4 147.2a0.8 0.8 0 1 0 1.5 0a0.8 0.8 0 1 0 -1.5 0M398.9 152.1a0.8 0.8 0 1 0 1.6 0a0.8 0.8 0 1 0 -1.6 0M398.0 152.7a1.0 1.0 0 1 0 1.9 0a1.0 1.0 0 1 0 -1.9 0M401.5 150.2a0.9 0.9 0 1 0 1.7 0a0.9 0.9 0 1 0 -1.7 0M395.2 152.3a1.0 1.0 0 1 0 2.1 0a1.0 1.0 0 1 0 -2.1 0M400.1 150.9a1.2 1.2 0 1 0 2.3 0a1.2 1.2 0 1 0 -2.3 0M399.1 149.9a1.0 1.0 0 1 0 2.1 0a1.0 1.0 0 1 0 -2.1 0M400.5 150.4a0.7 0.7 0 1 0 1.5 0a0.7 0.7 0 1 0 -1.5 0M400.7 147.8a0.9 0.9 0 1 0 1.8 0a0.9 0.9 0 1 0 -1.8 0M396.7 150.4a0.8 0.8 0 1 0 1.6 0a0.8 0.8 0 1 0 -1.6 0M396.3 152.7a0.9 0.9 0 1 0 1.8 0a0.9 0.9 0 1 0 -1.8 0M400.7 149.3a1.0 1.0 0 1 0 2.1 0a1.0 1.0 0 1 0 -2.1 0M402.1 148.5a1.0 1.0 0 1 0 2.1 0a1.0 1.0 0 1 0 -2.1 0M331.1 131.8a0.8 0.8 0 1 0 1.6 0a0.8 0.8 0 1 0 -1.6 0M336.3 131.5a1.0 1.0 0 1 0 2.1 0a1.0 1.0 0 1 0 -2.1 0M336.1 129.2a1.1 1.1 0 1 0 2.3 0a1.1 1.1 0 1 0 -2.3 0M333.6 129.4a1.0 1.0 0 1 0 2.1 0a1.0 1.0 0 1 0 -2.1 0M335.6 132.0a0.8 0.8 0 1 0 1.5 0a0.8 0.8 0 1 0 -1.5 0M336.0 134.2a0.7 0.7 0 1 0 1.4 0a0.7 0.7 0 1 0 -1.4 0M334.3 132.9a1.0 1.0 0 1 0 2.0 0a1.0 1.0 0 1 0 -2.0 0M330.9 132.5a1.1 1.1 0 1 0 2.3 0a1.1 1.1 0 1 0 -2.3 0M336.0 130.8a0.9 0.9 0 1 0 1.8 0a0.9 0.9 0 1 0 -1.8 0M332.8 131.7a0.9 0.9 0 1 0 1.7 0a0.9 0.9 0 1 0 -1.7 0M338.4 133.5a0.9 0.9 0 1 0 1.9 0a0.9 0.9 0 1 0 -1.9 0M336.2 130.4a1.0 1.0 0 1 0 2.1 0a1.0 1.0 0 1 0 -2.1 0M338.5 130.7a0.9 0.9 0 1 0 1.7 0a0.9 0.9 0 1 0 -1.7 0M334.4 133.8a1.2 1.2 0 1 0 2.3 0a1.2 1.2 0 1 0 -2.3 0M338.0 130.0a0.7 0.7 0 1 0 1.4 0a0.7 0.7 0 1 0 -1.4 0M337.0 133.0a1.1 1.1 0 1 0 2.2 0a1.1 1.1 0 1 0 -2.2 0M336.8 131.3a1.0 1.0 0 1 0 2.0 0a1.0 1.0 0 1 0 -2.0 0M334.1 128.7a0.7 0.7 0 1 0 1.4 0a0.7 0.7 0 1 0 -1.4 0M336.7 130.0a0.9 0.9 0 1 0 1.9 0a0.9 0.9 0 1 0 -1.9 0M331.8 133.1a0.7 0.7 0 1 0 1.5 0a0.7 0.7 0 1 0 -1.5 0M334.0 128.7a1.2 1.2 0 1 0 2.3 0a1.2 1.2 0 1 0 -2.3 0M337.2 129.9a1.1 1.1 0 1 0 2.2 0a1.1 1.1 0 1 0 -2.2 0M335.8 130.5a0.8 0.8 0 1 0 1.5 0a0.8 0.8 0 1 0 -1.5 0M331.4 175.7a1.0 1.0 0 1 0 1.9 0a1.0 1.0 0 1 0 -1.9 0M330.6 176.5a0.7 0.7 0 1 0 1.4 0a0.7 0.7 0 1 0 -1.4 0M336.6 172.6a1.0 1.0 0 1 0 2.1 0a1.0 1.0 0 1 0 -2.1 0M336.7 175.4a0.9 0.9 0 1 0 1.8 0a0.9 0.9 0 1 0 -1.8 0M336.5 173.5a1.1 1.1 0 1 0 2.2 0a1.1 1.1 0 1 0 -2.2 0M333.9 174.0a1.2 1.2 0 1 0 2.4 0a1.2 1.2 0 1 0 -2.4 0M332.7 171.1a0.7 0.7 0 1 0 1.5 0a0.7 0.7 0 1 0 -1.5 0M330.2 176.8a0.8 0.8 0 1 0 1.6 0a0.8 0.8 0 1 0 -1.6 0M333.7 171.7a0.9 0.9 0 1 0 1.7 0a0.9 0.9 0 1 0 -1.7 0M330.8 172.7a0.9 0.9 0 1 0 1.8 0a0.9 0.9 0 1 0 -1.8 0M335.1 171.0a1.2 1.2 0 1 0 2.3 0a1.2 1.2 0 1 0 -2.3 0M330.1 177.2a1.1 1.1 0 1 0 2.2 0a1.1 1.1 0 1 0 -2.2 0M337.8 175.6a0.8 0.8 0 1 0 1.6 0a0.8 0.8 0 1 0 -1.6 0M330.5 177.0a1.0 1.0 0 1 0 2.1 0a1.0 1.0 0 1 0 -2.1 0M335.8 174.5a0.9 0.9 0 1 0 1.8 0a0.9 0.9 0 1 0 -1.8 0M336.7 174.2a1.0 1.0 0 1 0 2.1 0a1.0 1.0 0 1 0 -2.1 0M334.2 176.5a0.7 0.7 0 1 0 1.5 0a0.7 0.7 0 1 0 -1.5 0M333.9 175.8a1.1 1.1 0 1 0 2.1 0a1.1 1.1 0 1 0 -2.1 0M332.7 173.0a0.9 0.9 0 1 0 1.8 0a0.9 0.9 0 1 0 -1.8 0M342.7 177.0a0.8 0.8 0 1 0 1.5 0a0.8 0.8 0 1 0 -1.5 0M343.2 172.9a1.2 1.2 0 1 0 2.3 0a1.2 1.2 0 1 0 -2.3 0M342.4 171.6a0.9 0.9 0 1 0 1.9 0a0.9 0.9 0 1 0 -1.9 0M341.3 178.0a1.1 1.1 0 1 0 2.2 0a1.1 1.1 0 1 0 -2.2 0M341.7 176.6a1.2 1.2 0 1 0 2.3 0a1.2 1.2 0 1 0 -2.3 0M339.9 174.5a0.8 0.8 0 1 0 1.6 0a0.8 0.8 0 1 0 -1.6 0M338.6 178.8a1.1 1.1 0 1 0 2.2 0a1.1 1.1 0 1 0 -2.2 0M344.9 174.5a1.0 1.0 0 1 0 2.0 0a1.0 1.0 0 1 0 -2.0 0M342.2 176.3a1.2 1.2 0 1 0 2.3 0a1.2 1.2 0 1 0 -2.3 0M342.4 177.1a1.1 1.1 0 1 0 2.2 0a1.1 1.1 0 1 0 -2.2 0M341.7 177.6a0.8 0.8 0 1 0 1.6 0a0.8 0.8 0 1 0 -1.6 0M343.9 172.8a1.1 1.1 0 1 0 2.3 0a1.1 1.1 0 1 0 -2.3 0M338.6 177.9a0.9 0.9 0 1 0 1.8 0a0.9 0.9 0 1 0 -1.8 0M341.4 174.8a1.1 1.1 0 1 0 2.2 0a1.1 1.1 0 1 0 -2.2 0M343.8 173.8a0.9 0.9 0 1 0 1.8 0a0.9 0.9 0 1 0 -1.8 0M340.1 178.2a1.0 1.0 0 1 0 2.0 0a1.0 1.0 0 1 0 -2.0 0M341.7 176.8a1.1 1.1 0 1 0 2.1 0a1.1 1.1 0 1 0 -2.1 0M339.4 179.0a1.0 1.0 0 1 0 1.9 0a1.0 1.0 0 1 0 -1.9 0M341.1 178.5a1.0 1.0 0 1 0 2.1 0a1.0 1.0 0 1 0 -2.1 0M346.3 170.3a1.1 1.1 0 1 0 2.3 0a1.1 1.1 0 1 0 -2.3 0M343.7 174.5a1.0 1.0 0 1 0 2.1 0a1.0 1.0 0 1 0 -2.1 0M341.8 175.1a1.0 1.0 0 1 0 2.0 0a1.0 1.0 0 1 0 -2.0 0M345.9 171.3a0.9 0.9 0 1 0 1.8 0a0.9 0.9 0 1 0 -1.8 0M345.2 176.0a1.2 1.2 0 1 0 2.4 0a1.2 1.2 0 1 0 -2.4 0M339.7 174.6a0.9 0.9 0 1 0 1.8 0a0.9 0.9 0 1 0 -1.8 0M341.3 177.0a0.8 0.8 0 1 0 1.6 0a0.8 0.8 0 1 0 -1.6 0M386.1 193.3a0.9 0.9 0 1 0 1.9 0a0.9 0.9 0 1 0 -1.9 0M386.4 191.0a1.1 1.1 0 1 0 2.3 0a1.1 1.1 0 1 0 -2.3 0M387.6 188.9a1.0 1.0 0 1 0 2.1 0a1.0 1.0 0 1 0 -2.1 0M385.2 190.5a0.8 0.8 0 1 0 1.7 0a0.8 0.8 0 1 0 -1.7 0M390.7 187.4a0.7 0.7 0 1 0 1.5 0a0.7 0.7 0 1 0 -1.5 0M385.4 192.5a1.1 1.1 0 1 0 2.1 0a1.1 1.1 0 1 0 -2.1 0M385.6 192.7a1.0 1.0 0 1 0 1.9 0a1.0 1.0 0 1 0 -1.9 0M385.9 189.6a1.2 1.2 0 1 0 2.3 0a1.2 1.2 0 1 0 -2.3 0M387.6 187.0a0.9 0.9 0 1 0 1.8 0a0.9 0.9 0 1 0 -1.8 0M388.7 193.3a1.1 1.1 0 1 0 2.2 0a1.1 1.1 0 1 0 -2.2 0M384.6 192.4a1.1 1.1 0 1 0 2.2 0a1.1 1.1 0 1 0 -2.2 0M387.6 193.6a1.0 1.0 0 1 0 1.9 0a1.0 1.0 0 1 0 -1.9 0M386.1 187.4a0.8 0.8 0 1 0 1.7 0a0.8 0.8 0 1 0 -1.7 0M387.6 187.1a1.0 1.0 0 1 0 2.0 0a1.0 1.0 0 1 0 -2.0 0M387.5 192.7a1.1 1.1 0 1 0 2.3 0a1.1 1.1 0 1 0 -2.3 0M389.2 190.3a1.1 1.1 0 1 0 2.1 0a1.1 1.1 0 1 0 -2.1 0M388.8 192.0a1.2 1.2 0 1 0 2.4 0a1.2 1.2 0 1 0 -2.4 0M387.5 190.1a1.1 1.1 0 1 0 2.2 0a1.1 1.1 0 1 0 -2.2 0M386.7 193.9a0.8 0.8 0 1 0 1.7 0a0.8 0.8 0 1 0 -1.7 0M387.9 186.0a0.9 0.9 0 1 0 1.8 0a0.9 0.9 0 1 0 -1.8 0M388.8 191.1a0.9 0.9 0 1 0 1.7 0a0.9 0.9 0 1 0 -1.7 0M384.0 190.2a0.7 0.7 0 1 0 1.5 0a0.7 0.7 0 1 0 -1.5 0M387.6 190.5a0.9 0.9 0 1 0 1.8 0a0.9 0.9 0 1 0 -1.8 0M344.0 199.6a0.7 0.7 0 1 0 1.5 0a0.7 0.7 0 1 0 -1.5 0M343.0 197.1a0.8 0.8 0 1 0 1.6 0a0.8 0.8 0 1 0 -1.6 0M344.5 198.4a1.1 1.1 0 1 0 2.2 0a1.1 1.1 0 1 0 -2.2 0M340.8 202.5a1.0 1.0 0 1 0 2.0 0a1.0 1.0 0 1 0 -2.0 0M342.3 201.6a1.0 1.0 0 1 0 2.1 0a1.0 1.0 0 1 0 -2.1 0M344.1 196.3a1.0 1.0 0 1 0 2.1 0a1.0 1.0 0 1 0 -2.1 0M342.9 202.5a1.1 1.1 0 1 0 2.2 0a1.1 1.1 0 1 0 -2.2 0M342.3 201.4a0.8 0.8 0 1 0 1.7 0a0.8 0.8 0 1 0 -1.7 0M340.2 202.8a0.9 0.9 0 1 0 1.8 0a0.9 0.9 0 1 0 -1.8 0M341.4 205.0a0.9 0.9 0 1 0 1.9 0a0.9 0.9 0 1 0 -1.9 0M340.0 203.1a0.9 0.9 0 1 0 1.7 0a0.9 0.9 0 1 0 -1.7 0M343.8 203.2a1.1 1.1 0 1 0 2.2 0a1.1 1.1 0 1 0 -2.2 0M344.4 202.8a0.8 0.8 0 1 0 1.5 0a0.8 0.8 0 1 0 -1.5 0M342.0 199.6a1.1 1.1 0 1 0 2.1 0a1.1 1.1 0 1 0 -2.1 0M339.9 205.4a1.0 1.0 0 1 0 2.0 0a1.0 1.0 0 1 0 -2.0 0M341.9 200.3a1.0 1.0 0 1 0 2.1 0a1.0 1.0 0 1 0 -2.1 0M342.0 199.0a1.2 1.2 0 1 0 2.4 0a1.2 1.2 0 1 0 -2.4 0M343.5 202.8a1.2 1.2 0 1 0 2.3 0a1.2 1.2 0 1 0 -2.3 0M357.2 144.5a0.8 0.8 0 1 0 1.6 0a0.8 0.8 0 1 0 -1.6 0M355.8 145.1a0.8 0.8 0 1 0 1.6 0a0.8 0.8 0 1 0 -1.6 0M361.4 144.4a1.0 1.0 0 1 0 1.9 0a1.0 1.0 0 1 0 -1.9 0M359.7 142.0a1.1 1.1 0 1 0 2.1 0a1.1 1.1 0 1 0 -2.1 0M361.2 143.9a1.0 1.0 0 1 0 2.0 0a1.0 1.0 0 1 0 -2.0 0M356.7 146.4a1.0 1.0 0 1 0 2.1 0a1.0 1.0 0 1 0 -2.1 0M358.4 144.2a0.8 0.8 0 1 0 1.7 0a0.8 0.8 0 1 0 -1.7 0M356.9 149.0a1.1 1.1 0 1 0 2.1 0a1.1 1.1 0 1 0 -2.1 0M358.8 145.4a0.9 0.9 0 1 0 1.9 0a0.9 0.9 0 1 0 -1.9 0M359.4 146.8a1.0 1.0 0 1 0 2.0 0a1.0 1.0 0 1 0 -2.0 0M359.7 146.4a1.1 1.1 0 1 0 2.2 0a1.1 1.1 0 1 0 -2.2 0M357.3 144.7a0.8 0.8 0 1 0 1.7 0a0.8 0.8 0 1 0 -1.7 0M359.3 147.1a0.8 0.8 0 1 0 1.7 0a0.8 0.8 0 1 0 -1.7 0M359.3 148.6a1.0 1.0 0 1 0 1.9 0a1.0 1.0 0 1 0 -1.9 0M358.7 145.2a1.0 1.0 0 1 0 2.0 0a1.0 1.0 0 1 0 -2.0 0M360.7 143.9a1.1 1.1 0 1 0 2.1 0a1.1 1.1 0 1 0 -2.1 0M358.1 144.7a0.9 0.9 0 1 0 1.8 0a0.9 0.9 0 1 0 -1.8 0M359.4 144.9a0.8 0.8 0 1 0 1.5 0a0.8 0.8 0 1 0 -1.5 0M322.9 147.3a0.9 0.9 0 1 0 1.7 0a0.9 0.9 0 1 0 -1.7 0M324.9 143.2a1.2 1.2 0 1 0 2.4 0a1.2 1.2 0 1 0 -2.4 0M324.7 145.8a1.1 1.1 0 1 0 2.3 0a1.1 1.1 0 1 0 -2.3 0M325.0 143.1a1.1 1.1 0 1 0 2.1 0a1.1 1.1 0 1 0 -2.1 0M321.8 145.1a1.0 1.0 0 1 0 2.0 0a1.0 1.0 0 1 0 -2.0 0M324.7 143.4a1.1 1.1 0 1 0 2.3 0a1.1 1.1 0 1 0 -2.3 0M324.3 141.8a1.0 1.0 0 1 0 2.0 0a1.0 1.0 0 1 0 -2.0 0M324.2 140.2a0.8 0.8 0 1 0 1.7 0a0.8 0.8 0 1 0 -1.7 0M327.7 144.8a0.7 0.7 0 1 0 1.5 0a0.7 0.7 0 1 0 -1.5 0M325.2 145.1a1.1 1.1 0 1 0 2.1 0a1.1 1.1 0 1 0 -2.1 0M327.7 140.2a1.0 1.0 0 1 0 2.1 0a1.0 1.0 0 1 0 -2.1 0M325.6 138.5a0.7 0.7 0 1 0 1.4 0a0.7 0.7 0 1 0 -1.4 0M324.1 143.3a0.8 0.8 0 1 0 1.6 0a0.8 0.8 0 1 0 -1.6 0M322.5 145.0a1.2 1.2 0 1 0 2.3 0a1.2 1.2 0 1 0 -2.3 0M325.2 140.6a1.1 1.1 0 1 0 2.2 0a1.1 1.1 0 1 0 -2.2 0M322.6 142.8a0.8 0.8 0 1 0 1.6 0a0.8 0.8 0 1 0 -1.6 0M322.7 145.8a1.1 1.1 0 1 0 2.3 0a1.1 1.1 0 1 0 -2.3 0M326.8 139.3a1.0 1.0 0 1 0 2.0 0a1.0 1.0 0 1 0 -2.0 0M323.4 146.1a1.1 1.1 0 1 0 2.2 0a1.1 1.1 0 1 0 -2.2 0M325.5 141.6a0.7 0.7 0 1 0 1.5 0a0.7 0.7 0 1 0 -1.5 0M325.0 143.7a0.8 0.8 0 1 0 1.7 0a0.8 0.8 0 1 0 -1.7 0M381.1 144.3a0.8 0.8 0 1 0 1.6 0a0.8 0.8 0 1 0 -1.6 0M384.7 143.9a1.1 1.1 0 1 0 2.2 0a1.1 1.1 0 1 0 -2.2 0M381.8 143.9a1.0 1.0 0 1 0 2.1 0a1.0 1.0 0 1 0 -2.1 0M385.8 148.1a0.9 0.9 0 1 0 1.8 0a0.9 0.9 0 1 0 -1.8 0M380.3 142.2a0.9 0.9 0 1 0 1.8 0a0.9 0.9 0 1 0 -1.8 0M378.7 144.1a1.1 1.1 0 1 0 2.2 0a1.1 1.1 0 1 0 -2.2 0M383.9 146.5a1.2 1.2 0 1 0 2.3 0a1.2 1.2 0 1 0 -2.3 0M386.0 147.9a1.2 1.2 0 1 0 2.4 0a1.2 1.2 0 1 0 -2.4 0M385.2 146.3a0.9 0.9 0 1 0 1.8 0a0.9 0.9 0 1 0 -1.8 0M380.7 145.0a0.7 0.7 0 1 0 1.4 0a0.7 0.7 0 1 0 -1.4 0M385.3 144.6a1.0 1.0 0 1 0 2.1 0a1.0 1.0 0 1 0 -2.1 0M379.7 143.2a1.1 1.1 0 1 0 2.2 0a1.1 1.1 0 1 0 -2.2 0M381.4 147.3a1.1 1.1 0 1 0 2.2 0a1.1 1.1 0 1 0 -2.2 0M384.5 144.7a0.9 0.9 0 1 0 1.7 0a0.9 0.9 0 1 0 -1.7 0M378.1 142.3a1.0 1.0 0 1 0 2.0 0a1.0 1.0 0 1 0 -2.0 0M380.5 144.7a1.1 1.1 0 1 0 2.1 0a1.1 1.1 0 1 0 -2.1 0M382.3 145.2a1.0 1.0 0 1 0 2.0 0a1.0 1.0 0 1 0 -2.0 0M383.5 143.1a0.7 0.7 0 1 0 1.5 0a0.7 0.7 0 1 0 -1.5 0M382.4 146.0a1.1 1.1 0 1 0 2.3 0a1.1 1.1 0 1 0 -2.3 0M377.7 144.9a0.9 0.9 0 1 0 1.7 0a0.9 0.9 0 1 0 -1.7 0M379.2 142.7a1.1 1.1 0 1 0 2.2 0a1.1 1.1 0 1 0 -2.2 0M383.0 146.3a0.7 0.7 0 1 0 1.5 0a0.7 0.7 0 1 0 -1.5 0M365.9 187.5a1.1 1.1 0 1 0 2.1 0a1.1 1.1 0 1 0 -2.1 0M363.6 189.6a0.8 0.8 0 1 0 1.6 0a0.8 0.8 0 1 0 -1.6 0M360.0 187.3a0.7 0.7 0 1 0 1.4 0a0.7 0.7 0 1 0 -1.4 0M360.0 191.0a1.0 1.0 0 1 0 2.0 0a1.0 1.0 0 1 0 -2.0 0M363.3 189.1a0.8 0.8 0 1 0 1.5 0a0.8 0.8 0 1 0 -1.5 0M365.2 188.6a1.0 1.0 0 1 0 1.9 0a1.0 1.0 0 1 0 -1.9 0M364.9 191.3a1.1 1.1 0 1 0 2.3 0a1.1 1.1 0 1 0 -2.3 0M363.0 189.3a0.8 0.8 0 1 0 1.7 0a0.8 0.8 0 1 0 -1.7 0M362.3 191.6a1.0 1.0 0 1 0 2.1 0a1.0 1.0 0 1 0 -2.1 0M362.4 189.7a0.8 0.8 0 1 0 1.6 0a0.8 0.8 0 1 0 -1.6 0M361.3 186.2a0.9 0.9 0 1 0 1.8 0a0.9 0.9 0 1 0 -1.8 0M361.9 191.2a0.8 0.8 0 1 0 1.5 0a0.8 0.8 0 1 0 -1.5 0M361.6 191.9a0.8 0.8 0 1 0 1.6 0a0.8 0.8 0 1 0 -1.6 0M363.6 186.5a1.0 1.0 0 1 0 2.0 0a1.0 1.0 0 1 0 -2.0 0M365.4 188.6a0.8 0.8 0 1 0 1.6 0a0.8 0.8 0 1 0 -1.6 0M361.2 187.4a1.0 1.0 0 1 0 2.0 0a1.0 1.0 0 1 0 -2.0 0M360.6 190.2a0.9 0.9 0 1 0 1.8 0a0.9 0.9 0 1 0 -1.8 0M363.1 187.8a0.8 0.8 0 1 0 1.5 0a0.8 0.8 0 1 0 -1.5 0M360.8 185.9a1.2 1.2 0 1 0 2.3 0a1.2 1.2 0 1 0 -2.3 0M362.0 188.2a1.1 1.1 0 1 0 2.2 0a1.1 1.1 0 1 0 -2.2 0M362.0 189.0a0.9 0.9 0 1 0 1.9 0a0.9 0.9 0 1 0 -1.9 0M362.1 188.1a1.0 1.0 0 1 0 2.0 0a1.0 1.0 0 1 0 -2.0 0M360.8 191.7a1.0 1.0 0 1 0 2.0 0a1.0 1.0 0 1 0 -2.0 0M365.0 190.6a0.9 0.9 0 1 0 1.9 0a0.9 0.9 0 1 0 -1.9 0M329.4 199.9a1.0 1.0 0 1 0 2.0 0a1.0 1.0 0 1 0 -2.0 0M330.7 201.7a0.8 0.8 0 1 0 1.5 0a0.8 0.8 0 1 0 -1.5 0M330.3 199.6a1.0 1.0 0 1 0 2.0 0a1.0 1.0 0 1 0 -2.0 0M328.9 200.5a0.9 0.9 0 1 0 1.9 0a0.9 0.9 0 1 0 -1.9 0M329.4 196.0a0.8 0.8 0 1 0 1.6 0a0.8 0.8 0 1 0 -1.6 0M332.3 198.9a0.9 0.9 0 1 0 1.8 0a0.9 0.9 0 1 0 -1.8 0M330.0 199.9a1.2 1.2 0 1 0 2.4 0a1.2 1.2 0 1 0 -2.4 0M330.6 199.1a0.9 0.9 0 1 0 1.9 0a0.9 0.9 0 1 0 -1.9 0M334.1 198.3a1.0 1.0 0 1 0 2.0 0a1.0 1.0 0 1 0 -2.0 0M330.3 199.1a0.9 0.9 0 1 0 1.9 0a0.9 0.9 0 1 0 -1.9 0M331.3 200.5a0.9 0.9 0 1 0 1.8 0a0.9 0.9 0 1 0 -1.8 0M332.1 198.6a0.9 0.9 0 1 0 1.7 0a0.9 0.9 0 1 0 -1.7 0M331.6 198.1a0.8 0.8 0 1 0 1.6 0a0.8 0.8 0 1 0 -1.6 0M333.4 198.9a1.0 1.0 0 1 0 1.9 0a1.0 1.0 0 1 0 -1.9 0M333.0 200.3a0.9 0.9 0 1 0 1.9 0a0.9 0.9 0 1 0 -1.9 0M329.9 200.8a1.0 1.0 0 1 0 2.1 0a1.0 1.0 0 1 0 -2.1 0M330.7 198.7a1.0 1.0 0 1 0 2.1 0a1.0 1.0 0 1 0 -2.1 0M330.4 199.9a1.0 1.0 0 1 0 2.1 0a1.0 1.0 0 1 0 -2.1 0M329.1 199.8a0.8 0.8 0 1 0 1.7 0a0.8 0.8 0 1 0 -1.7 0M332.8 197.8a1.1 1.1 0 1 0 2.1 0a1.1 1.1 0 1 0 -2.1 0M347.4 150.0a0.9 0.9 0 1 0 1.7 0a0.9 0.9 0 1 0 -1.7 0M344.0 149.4a1.2 1.2 0 1 0 2.4 0a1.2 1.2 0 1 0 -2.4 0M349.1 150.1a0.8 0.8 0 1 0 1.5 0a0.8 0.8 0 1 0 -1.5 0M342.3 150.6a0.8 0.8 0 1 0 1.6 0a0.8 0.8 0 1 0 -1.6 0M350.2 150.5a0.8 0.8 0 1 0 1.7 0a0.8 0.8 0 1 0 -1.7 0M343.7 149.8a0.8 0.8 0 1 0 1.6 0a0.8 0.8 0 1 0 -1.6 0M344.6 150.0a0.9 0.9 0 1 0 1.8 0a0.9 0.9 0 1 0 -1.8 0M346.9 149.3a0.8 0.8 0 1 0 1.6 0a0.8 0.8 0 1 0 -1.6 0M344.3 148.5a1.0 1.0 0 1 0 1.9 0a1.0 1.0 0 1 0 -1.9 0M344.9 145.9a0.9 0.9 0 1 0 1.8 0a0.9 0.9 0 1 0 -1.8 0M350.3 150.2a0.9 0.9 0 1 0 1.8 0a0.9 0.9 0 1 0 -1.8 0M345.6 147.9a1.0 1.0 0 1 0 2.0 0a1.0 1.0 0 1 0 -2.0 0M346.4 150.0a1.1 1.1 0 1 0 2.2 0a1.1 1.1 0 1 0 -2.2 0M341.0 146.5a1.2 1.2 0 1 0 2.4 0a1.2 1.2 0 1 0 -2.4 0M340.7 147.9a1.2 1.2 0 1 0 2.3 0a1.2 1.2 0 1 0 -2.3 0M344.9 148.4a1.1 1.1 0 1 0 2.2 0a1.1 1.1 0 1 0 -2.2 0M350.1 149.5a0.9 0.9 0 1 0 1.7 0a0.9 0.9 0 1 0 -1.7 0M342.3 146.2a0.8 0.8 0 1 0 1.6 0a0.8 0.8 0 1 0 -1.6 0M344.9 145.6a1.2 1.2 0 1 0 2.3 0a1.2 1.2 0 1 0 -2.3 0M348.3 149.2a1.0 1.0 0 1 0 2.1 0a1.0 1.0 0 1 0 -2.1 0M345.8 148.7a0.8 0.8 0 1 0 1.5 0a0.8 0.8 0 1 0 -1.5 0M347.6 149.3a0.9 0.9 0 1 0 1.8 0a0.9 0.9 0 1 0 -1.8 0M383.1 151.6a1.1 1.1 0 1 0 2.1 0a1.1 1.1 0 1 0 -2.1 0M381.4 153.7a1.0 1.0 0 1 0 2.0 0a1.0 1.0 0 1 0 -2.0 0M384.1 151.7a0.9 0.9 0 1 0 1.8 0a0.9 0.9 0 1 0 -1.8 0M385.5 155.8a1.1 1.1 0 1 0 2.1 0a1.1 1.1 0 1 0 -2.1 0M383.3 154.8a1.0 1.0 0 1 0 2.0 0a1.0 1.0 0 1 0 -2.0 0M385.3 157.0a0.8 0.8 0 1 0 1.5 0a0.8 0.8 0 1 0 -1.5 0M382.9 150.7a0.7 0.7 0 1 0 1.5 0a0.7 0.7 0 1 0 -1.5 0M385.7 154.4a1.1 1.1 0 1 0 2.2 0a1.1 1.1 0 1 0 -2.2 0M382.1 155.6a1.1 1.1 0 1 0 2.2 0a1.1 1.1 0 1 0 -2.2 0M383.7 153.7a0.9 0.9 0 1 0 1.8 0a0.9 0.9 0 1 0 -1.8 0M384.1 151.6a0.9 0.9 0 1 0 1.9 0a0.9 0.9 0 1 0 -1.9 0M380.6 152.7a0.9 0.9 0 1 0 1.9 0a0.9 0.9 0 1 0 -1.9 0M385.0 152.0a0.7 0.7 0 1 0 1.4 0a0.7 0.7 0 1 0 -1.4 0M385.0 150.3a0.9 0.9 0 1 0 1.7 0a0.9 0.9 0 1 0 -1.7 0M383.0 150.1a0.9 0.9 0 1 0 1.8 0a0.9 0.9 0 1 0 -1.8 0M382.6 149.7a0.9 0.9 0 1 0 1.7 0a0.9 0.9 0 1 0 -1.7 0M381.5 154.4a0.9 0.9 0 1 0 1.8 0a0.9 0.9 0 1 0 -1.8 0M386.2 157.4a1.1 1.1 0 1 0 2.1 0a1.1 1.1 0 1 0 -2.1 0M386.5 154.8a1.0 1.0 0 1 0 2.0 0a1.0 1.0 0 1 0 -2.0 0M377.0 160.0a1.1 1.1 0 1 0 2.1 0a1.1 1.1 0 1 0 -2.1 0M374.0 156.1a0.7 0.7 0 1 0 1.5 0a0.7 0.7 0 1 0 -1.5 0M373.6 158.4a0.7 0.7 0 1 0 1.4 0a0.7 0.7 0 1 0 -1.4 0M377.9 158.8a1.0 1.0 0 1 0 2.1 0a1.0 1.0 0 1 0 -2.1 0M375.5 161.3a0.7 0.7 0 1 0 1.4 0a0.7 0.7 0 1 0 -1.4 0M373.1 162.0a0.8 0.8 0 1 0 1.6 0a0.8 0.8 0 1 0 -1.6 0M370.9 157.0a1.2 1.2 0 1 0 2.4 0a1.2 1.2 0 1 0 -2.4 0M376.1 161.8a0.7 0.7 0 1 0 1.5 0a0.7 0.7 0 1 0 -1.5 0M372.3 159.4a1.2 1.2 0 1 0 2.3 0a1.2 1.2 0 1 0 -2.3 0M374.4 160.1a0.7 0.7 0 1 0 1.5 0a0.7 0.7 0 1 0 -1.5 0M372.3 160.7a0.9 0.9 0 1 0 1.8 0a0.9 0.9 0 1 0 -1.8 0M376.5 157.1a1.0 1.0 0 1 0 2.0 0a1.0 1.0 0 1 0 -2.0 0M376.9 157.2a0.8 0.8 0 1 0 1.5 0a0.8 0.8 0 1 0 -1.5 0M374.5 157.1a1.1 1.1 0 1 0 2.1 0a1.1 1.1 0 1 0 -2.1 0M373.8 162.2a1.0 1.0 0 1 0 1.9 0a1.0 1.0 0 1 0 -1.9 0M372.6 155.9a1.0 1.0 0 1 0 2.1 0a1.0 1.0 0 1 0 -2.1 0M378.3 160.6a1.0 1.0 0 1 0 2.0 0a1.0 1.0 0 1 0 -2.0 0M371.9 160.2a1.1 1.1 0 1 0 2.1 0a1.1 1.1 0 1 0 -2.1 0M373.2 162.1a0.9 0.9 0 1 0 1.7 0a0.9 0.9 0 1 0 -1.7 0M373.0 161.1a1.0 1.0 0 1 0 2.0 0a1.0 1.0 0 1 0 -2.0 0M374.7 157.2a1.1 1.1 0 1 0 2.2 0a1.1 1.1 0 1 0 -2.2 0M379.1 124.7a0.9 0.9 0 1 0 1.8 0a0.9 0.9 0 1 0 -1.8 0M380.5 122.7a1.0 1.0 0 1 0 2.0 0a1.0 1.0 0 1 0 -2.0 0M380.5 122.5a1.0 1.0 0 1 0 1.9 0a1.0 1.0 0 1 0 -1.9 0M381.6 123.0a0.8 0.8 0 1 0 1.5 0a0.8 0.8 0 1 0 -1.5 0M376.2 121.8a0.8 0.8 0 1 0 1.6 0a0.8 0.8 0 1 0 -1.6 0M378.4 121.4a1.2 1.2 0 1 0 2.3 0a1.2 1.2 0 1 0 -2.3 0M377.9 120.8a1.1 1.1 0 1 0 2.3 0a1.1 1.1 0 1 0 -2.3 0M376.1 122.5a1.0 1.0 0 1 0 2.0 0a1.0 1.0 0 1 0 -2.0 0M378.9 123.3a1.1 1.1 0 1 0 2.3 0a1.1 1.1 0 1 0 -2.3 0M378.3 122.6a1.1 1.1 0 1 0 2.3 0a1.1 1.1 0 1 0 -2.3 0M378.5 121.1a1.1 1.1 0 1 0 2.1 0a1.1 1.1 0 1 0 -2.1 0M380.2 121.6a1.1 1.1 0 1 0 2.2 0a1.1 1.1 0 1 0 -2.2 0M380.0 126.6a0.8 0.8 0 1 0 1.6 0a0.8 0.8 0 1 0 -1.6 0M378.0 123.7a1.1 1.1 0 1 0 2.2 0a1.1 1.1 0 1 0 -2.2 0M379.3 125.2a1.1 1.1 0 1 0 2.3 0a1.1 1.1 0 1 0 -2.3 0M377.8 125.9a0.9 0.9 0 1 0 1.9 0a0.9 0.9 0 1 0 -1.9 0M377.4 124.3a0.9 0.9 0 1 0 1.8 0a0.9 0.9 0 1 0 -1.8 0M380.5 124.7a0.7 0.7 0 1 0 1.5 0a0.7 0.7 0 1 0 -1.5 0M380.2 124.2a0.7 0.7 0 1 0 1.5 0a0.7 0.7 0 1 0 -1.5 0M343.0 168.3a1.0 1.0 0 1 0 2.1 0a1.0 1.0 0 1 0 -2.1 0M345.0 168.3a1.1 1.1 0 1 0 2.3 0a1.1 1.1 0 1 0 -2.3 0M342.9 165.9a0.9 0.9 0 1 0 1.8 0a0.9 0.9 0 1 0 -1.8 0M345.2 164.4a1.0 1.0 0 1 0 1.9 0a1.0 1.0 0 1 0 -1.9 0M342.2 162.5a1.0 1.0 0 1 0 2.0 0a1.0 1.0 0 1 0 -2.0 0M348.0 167.5a0.8 0.8 0 1 0 1.6 0a0.8 0.8 0 1 0 -1.6 0M346.4 168.2a0.8 0.8 0 1 0 1.5 0a0.8 0.8 0 1 0 -1.5 0M343.9 168.6a1.0 1.0 0 1 0 2.1 0a1.0 1.0 0 1 0 -2.1 0M344.0 167.5a0.8 0.8 0 1 0 1.5 0a0.8 0.8 0 1 0 -1.5 0M344.5 164.9a0.7 0.7 0 1 0 1.4 0a0.7 0.7 0 1 0 -1.4 0M340.7 168.5a1.1 1.1 0 1 0 2.2 0a1.1 1.1 0 1 0 -2.2 0M343.6 167.3a1.0 1.0 0 1 0 2.1 0a1.0 1.0 0 1 0 -2.1 0M344.8 168.5a1.2 1.2 0 1 0 2.4 0a1.2 1.2 0 1 0 -2.4 0M347.2 168.3a1.0 1.0 0 1 0 2.0 0a1.0 1.0 0 1 0 -2.0 0M341.5 168.0a1.2 1.2 0 1 0 2.4 0a1.2 1.2 0 1 0 -2.4 0M343.0 168.7a1.2 1.2 0 1 0 2.4 0a1.2 1.2 0 1 0 -2.4 0M346.2 167.6a0.8 0.8 0 1 0 1.7 0a0.8 0.8 0 1 0 -1.7 0M345.6 164.6a0.7 0.7 0 1 0 1.4 0a0.7 0.7 0 1 0 -1.4 0M342.7 162.4a1.2 1.2 0 1 0 2.3 0a1.2 1.2 0 1 0 -2.3 0M346.4 168.7a0.9 0.9 0 1 0 1.9 0a0.9 0.9 0 1 0 -1.9 0M360.7 179.1a0.7 0.7 0 1 0 1.4 0a0.7 0.7 0 1 0 -1.4 0M359.9 175.6a0.8 0.8 0 1 0 1.6 0a0.8 0.8 0 1 0 -1.6 0M359.7 174.6a1.0 1.0 0 1 0 2.1 0a1.0 1.0 0 1 0 -2.1 0M362.0 177.2a1.0 1.0 0 1 0 2.0 0a1.0 1.0 0 1 0 -2.0 0M362.5 178.0a0.7 0.7 0 1 0 1.4 0a0.7 0.7 0 1 0 -1.4 0M357.0 174.9a0.8 0.8 0 1 0 1.5 0a0.8 0.8 0 1 0 -1.5 0M359.7 172.6a0.7 0.7 0 1 0 1.5 0a0.7 0.7 0 1 0 -1.5 0M359.1 176.2a1.2 1.2 0 1 0 2.3 0a1.2 1.2 0 1 0 -2.3 0M358.3 176.5a0.8 0.8 0 1 0 1.6 0a0.8 0.8 0 1 0 -1.6 0M362.5 175.3a1.0 1.0 0 1 0 1.9 0a1.0 1.0 0 1 0 -1.9 0M360.0 176.1a1.1 1.1 0 1 0 2.2 0a1.1 1.1 0 1 0 -2.2 0M358.9 171.9a0.8 0.8 0 1 0 1.7 0a0.8 0.8 0 1 0 -1.7 0M358.1 176.4a1.0 1.0 0 1 0 2.0 0a1.0 1.0 0 1 0 -2.0 0M359.7 178.4a1.0 1.0 0 1 0 2.1 0a1.0 1.0 0 1 0 -2.1 0M359.7 175.6a1.0 1.0 0 1 0 1.9 0a1.0 1.0 0 1 0 -1.9 0M357.9 177.6a0.9 0.9 0 1 0 1.9 0a0.9 0.9 0 1 0 -1.9 0M357.9 173.3a0.9 0.9 0 1 0 1.8 0a0.9 0.9 0 1 0 -1.8 0M360.0 172.7a0.8 0.8 0 1 0 1.5 0a0.8 0.8 0 1 0 -1.5 0M357.6 174.3a0.9 0.9 0 1 0 1.9 0a0.9 0.9 0 1 0 -1.9 0M360.7 178.0a1.1 1.1 0 1 0 2.2 0a1.1 1.1 0 1 0 -2.2 0M361.4 176.4a0.7 0.7 0 1 0 1.5 0a0.7 0.7 0 1 0 -1.5 0M342.6 132.3a1.1 1.1 0 1 0 2.1 0a1.1 1.1 0 1 0 -2.1 0M344.2 130.0a1.2 1.2 0 1 0 2.4 0a1.2 1.2 0 1 0 -2.4 0M343.2 130.8a1.2 1.2 0 1 0 2.3 0a1.2 1.2 0 1 0 -2.3 0M339.5 131.1a1.1 1.1 0 1 0 2.3 0a1.1 1.1 0 1 0 -2.3 0M341.8 129.3a1.1 1.1 0 1 0 2.1 0a1.1 1.1 0 1 0 -2.1 0M343.5 132.7a0.8 0.8 0 1 0 1.7 0a0.8 0.8 0 1 0 -1.7 0M343.3 129.4a0.8 0.8 0 1 0 1.7 0a0.8 0.8 0 1 0 -1.7 0M345.6 134.8a0.7 0.7 0 1 0 1.5 0a0.7 0.7 0 1 0 -1.5 0M342.4 130.8a0.8 0.8 0 1 0 1.6 0a0.8 0.8 0 1 0 -1.6 0M340.7 132.6a0.7 0.7 0 1 0 1.5 0a0.7 0.7 0 1 0 -1.5 0M344.8 133.2a0.9 0.9 0 1 0 1.7 0a0.9 0.9 0 1 0 -1.7 0M341.0 134.2a1.0 1.0 0 1 0 2.1 0a1.0 1.0 0 1 0 -2.1 0M343.5 132.4a0.8 0.8 0 1 0 1.5 0a0.8 0.8 0 1 0 -1.5 0M340.3 131.1a1.0 1.0 0 1 0 2.0 0a1.0 1.0 0 1 0 -2.0 0M341.2 132.7a0.8 0.8 0 1 0 1.6 0a0.8 0.8 0 1 0 -1.6 0M341.8 131.8a1.0 1.0 0 1 0 2.1 0a1.0 1.0 0 1 0 -2.1 0M346.2 131.7a0.8 0.8 0 1 0 1.5 0a0.8 0.8 0 1 0 -1.5 0M341.1 133.5a0.8 0.8 0 1 0 1.7 0a0.8 0.8 0 1 0 -1.7 0M346.8 132.1a0.8 0.8 0 1 0 1.5 0a0.8 0.8 0 1 0 -1.5 0M342.9 131.7a1.1 1.1 0 1 0 2.1 0a1.1 1.1 0 1 0 -2.1 0M344.6 134.2a0.8 0.8 0 1 0 1.7 0a0.8 0.8 0 1 0 -1.7 0M347.9 130.8a1.0 1.0 0 1 0 2.0 0a1.0 1.0 0 1 0 -2.0 0M343.6 132.5a0.7 0.7 0 1 0 1.4 0a0.7 0.7 0 1 0 -1.4 0M346.0 134.5a1.2 1.2 0 1 0 2.3 0a1.2 1.2 0 1 0 -2.3 0M398.0 175.2a1.1 1.1 0 1 0 2.3 0a1.1 1.1 0 1 0 -2.3 0M394.7 175.2a0.9 0.9 0 1 0 1.7 0a0.9 0.9 0 1 0 -1.7 0M394.8 174.0a0.9 0.9 0 1 0 1.8 0a0.9 0.9 0 1 0 -1.8 0M395.5 175.3a0.8 0.8 0 1 0 1.6 0a0.8 0.8 0 1 0 -1.6 0M396.7 173.3a1.0 1.0 0 1 0 1.9 0a1.0 1.0 0 1 0 -1.9 0M390.4 175.2a0.7 0.7 0 1 0 1.4 0a0.7 0.7 0 1 0 -1.4 0M395.6 172.6a1.1 1.1 0 1 0 2.3 0a1.1 1.1 0 1 0 -2.3 0M395.8 173.3a0.7 0.7 0 1 0 1.5 0a0.7 0.7 0 1 0 -1.5 0M398.1 175.8a0.7 0.7 0 1 0 1.4 0a0.7 0.7 0 1 0 -1.4 0M395.8 175.0a0.9 0.9 0 1 0 1.8 0a0.9 0.9 0 1 0 -1.8 0M389.6 174.2a0.7 0.7 0 1 0 1.4 0a0.7 0.7 0 1 0 -1.4 0M393.1 175.2a1.0 1.0 0 1 0 1.9 0a1.0 1.0 0 1 0 -1.9 0M392.6 174.0a0.7 0.7 0 1 0 1.5 0a0.7 0.7 0 1 0 -1.5 0M393.7 176.4a1.0 1.0 0 1 0 2.0 0a1.0 1.0 0 1 0 -2.0 0M395.2 173.9a1.0 1.0 0 1 0 2.0 0a1.0 1.0 0 1 0 -2.0 0M393.6 173.2a1.1 1.1 0 1 0 2.2 0a1.1 1.1 0 1 0 -2.2 0M391.7 174.6a1.1 1.1 0 1 0 2.1 0a1.1 1.1 0 1 0 -2.1 0M398.5 173.7a0.8 0.8 0 1 0 1.7 0a0.8 0.8 0 1 0 -1.7 0M393.0 177.2a0.9 0.9 0 1 0 1.8 0a0.9 0.9 0 1 0 -1.8 0M392.6 171.0a0.9 0.9 0 1 0 1.9 0a0.9 0.9 0 1 0 -1.9 0M392.2 176.3a1.1 1.1 0 1 0 2.2 0a1.1 1.1 0 1 0 -2.2 0M397.2 172.5a1.1 1.1 0 1 0 2.3 0a1.1 1.1 0 1 0 -2.3 0M391.4 173.1a1.2 1.2 0 1 0 2.4 0a1.2 1.2 0 1 0 -2.4 0M392.8 173.9a0.9 0.9 0 1 0 1.8 0a0.9 0.9 0 1 0 -1.8 0M395.6 172.3a0.9 0.9 0 1 0 1.8 0a0.9 0.9 0 1 0 -1.8 0M389.2 161.4a0.9 0.9 0 1 0 1.7 0a0.9 0.9 0 1 0 -1.7 0M392.7 164.8a0.9 0.9 0 1 0 1.7 0a0.9 0.9 0 1 0 -1.7 0M393.7 160.5a1.0 1.0 0 1 0 2.0 0a1.0 1.0 0 1 0 -2.0 0M392.1 164.4a1.2 1.2 0 1 0 2.4 0a1.2 1.2 0 1 0 -2.4 0M388.7 163.3a0.8 0.8 0 1 0 1.7 0a0.8 0.8 0 1 0 -1.7 0M392.5 158.0a1.1 1.1 0 1 0 2.2 0a1.1 1.1 0 1 0 -2.2 0M390.9 156.0a1.1 1.1 0 1 0 2.1 0a1.1 1.1 0 1 0 -2.1 0M390.3 161.4a0.9 0.9 0 1 0 1.7 0a0.9 0.9 0 1 0 -1.7 0M389.6 158.4a1.2 1.2 0 1 0 2.4 0a1.2 1.2 0 1 0 -2.4 0M390.5 160.7a0.9 0.9 0 1 0 1.7 0a0.9 0.9 0 1 0 -1.7 0M389.4 161.9a1.0 1.0 0 1 0 2.0 0a1.0 1.0 0 1 0 -2.0 0M391.9 163.2a1.1 1.1 0 1 0 2.1 0a1.1 1.1 0 1 0 -2.1 0M391.3 160.2a1.2 1.2 0 1 0 2.3 0a1.2 1.2 0 1 0 -2.3 0M389.3 164.7a1.1 1.1 0 1 0 2.2 0a1.1 1.1 0 1 0 -2.2 0M392.6 160.4a1.0 1.0 0 1 0 2.1 0a1.0 1.0 0 1 0 -2.1 0M394.5 159.5a0.9 0.9 0 1 0 1.8 0a0.9 0.9 0 1 0 -1.8 0M388.8 160.7a1.0 1.0 0 1 0 2.0 0a1.0 1.0 0 1 0 -2.0 0M393.0 162.6a1.2 1.2 0 1 0 2.3 0a1.2 1.2 0 1 0 -2.3 0M390.8 164.4a1.0 1.0 0 1 0 1.9 0a1.0 1.0 0 1 0 -1.9 0M334.2 190.1a1.1 1.1 0 1 0 2.3 0a1.1 1.1 0 1 0 -2.3 0M334.6 190.0a0.9 0.9 0 1 0 1.8 0a0.9 0.9 0 1 0 -1.8 0M331.2 192.5a0.8 0.8 0 1 0 1.5 0a0.8 0.8 0 1 0 -1.5 0M335.4 190.8a1.0 1.0 0 1 0 2.1 0a1.0 1.0 0 1 0 -2.1 0M330.7 190.1a0.8 0.8 0 1 0 1.5 0a0.8 0.8 0 1 0 -1.5 0M334.9 190.0a0.8 0.8 0 1 0 1.6 0a0.8 0.8 0 1 0 -1.6 0M336.6 193.1a0.9 0.9 0 1 0 1.7 0a0.9 0.9 0 1 0 -1.7 0M329.9 189.2a0.8 0.8 0 1 0 1.5 0a0.8 0.8 0 1 0 -1.5 0M331.5 192.1a1.2 1.2 0 1 0 2.3 0a1.2 1.2 0 1 0 -2.3 0M329.5 189.9a1.0 1.0 0 1 0 2.0 0a1.0 1.0 0 1 0 -2.0 0M338.2 193.0a1.1 1.1 0 1 0 2.2 0a1.1 1.1 0 1 0 -2.2 0M335.0 190.8a0.7 0.7 0 1 0 1.5 0a0.7 0.7 0 1 0 -1.5 0M333.9 189.5a1.0 1.0 0 1 0 1.9 0a1.0 1.0 0 1 0 -1.9 0M335.1 188.7a0.9 0.9 0 1 0 1.8 0a0.9 0.9 0 1 0 -1.8 0M335.5 193.7a0.9 0.9 0 1 0 1.9 0a0.9 0.9 0 1 0 -1.9 0M335.6 191.1a0.9 0.9 0 1 0 1.9 0a0.9 0.9 0 1 0 -1.9 0M335.5 189.8a1.0 1.0 0 1 0 2.1 0a1.0 1.0 0 1 0 -2.1 0M332.1 188.0a1.2 1.2 0 1 0 2.4 0a1.2 1.2 0 1 0 -2.4 0M337.6 188.7a0.8 0.8 0 1 0 1.7 0a0.8 0.8 0 1 0 -1.7 0M372.1 177.1a1.0 1.0 0 1 0 2.1 0a1.0 1.0 0 1 0 -2.1 0M370.9 176.5a1.1 1.1 0 1 0 2.2 0a1.1 1.1 0 1 0 -2.2 0M373.1 175.5a0.7 0.7 0 1 0 1.5 0a0.7 0.7 0 1 0 -1.5 0M372.4 176.8a0.8 0.8 0 1 0 1.6 0a0.8 0.8 0 1 0 -1.6 0M369.9 175.8a0.8 0.8 0 1 0 1.6 0a0.8 0.8 0 1 0 -1.6 0M367.3 178.8a1.2 1.2 0 1 0 2.3 0a1.2 1.2 0 1 0 -2.3 0M373.1 175.7a1.1 1.1 0 1 0 2.3 0a1.1 1.1 0 1 0 -2.3 0M372.7 172.3a1.1 1.1 0 1 0 2.2 0a1.1 1.1 0 1 0 -2.2 0M373.2 179.3a1.1 1.1 0 1 0 2.3 0a1.1 1.1 0 1 0 -2.3 0M368.2 179.1a0.8 0.8 0 1 0 1.5 0a0.8 0.8 0 1 0 -1.5 0M373.3 176.2a0.9 0.9 0 1 0 1.9 0a0.9 0.9 0 1 0 -1.9 0M373.2 175.7a0.7 0.7 0 1 0 1.5 0a0.7 0.7 0 1 0 -1.5 0M371.7 178.0a1.0 1.0 0 1 0 2.0 0a1.0 1.0 0 1 0 -2.0 0M368.7 173.0a1.1 1.1 0 1 0 2.2 0a1.1 1.1 0 1 0 -2.2 0M368.4 173.1a1.1 1.1 0 1 0 2.2 0a1.1 1.1 0 1 0 -2.2 0M370.9 176.0a0.9 0.9 0 1 0 1.9 0a0.9 0.9 0 1 0 -1.9 0M370.4 175.2a1.1 1.1 0 1 0 2.2 0a1.1 1.1 0 1 0 -2.2 0M371.5 179.3a1.2 1.2 0 1 0 2.4 0a1.2 1.2 0 1 0 -2.4 0M372.2 177.2a0.8 0.8 0 1 0 1.6 0a0.8 0.8 0 1 0 -1.6 0M368.3 176.2a0.8 0.8 0 1 0 1.6 0a0.8 0.8 0 1 0 -1.6 0M368.1 176.8a1.2 1.2 0 1 0 2.4 0a1.2 1.2 0 1 0 -2.4 0M370.8 173.8a1.0 1.0 0 1 0 2.0 0a1.0 1.0 0 1 0 -2.0 0M369.9 177.8a1.2 1.2 0 1 0 2.4 0a1.2 1.2 0 1 0 -2.4 0M369.3 180.3a1.1 1.1 0 1 0 2.2 0a1.1 1.1 0 1 0 -2.2 0M365.8 148.2a1.0 1.0 0 1 0 1.9 0a1.0 1.0 0 1 0 -1.9 0M365.1 148.6a1.2 1.2 0 1 0 2.4 0a1.2 1.2 0 1 0 -2.4 0M364.5 146.6a1.1 1.1 0 1 0 2.2 0a1.1 1.1 0 1 0 -2.2 0M367.3 145.2a0.9 0.9 0 1 0 1.7 0a0.9 0.9 0 1 0 -1.7 0M365.7 149.7a0.8 0.8 0 1 0 1.6 0a0.8 0.8 0 1 0 -1.6 0M367.2 147.0a1.1 1.1 0 1 0 2.1 0a1.1 1.1 0 1 0 -2.1 0M370.0 146.4a1.2 1.2 0 1 0 2.4 0a1.2 1.2 0 1 0 -2.4 0M362.8 148.8a1.0 1.0 0 1 0 2.1 0a1.0 1.0 0 1 0 -2.1 0M367.5 146.1a1.2 1.2 0 1 0 2.3 0a1.2 1.2 0 1 0 -2.3 0M369.2 142.0a0.9 0.9 0 1 0 1.8 0a0.9 0.9 0 1 0 -1.8 0M363.9 146.3a0.9 0.9 0 1 0 1.8 0a0.9 0.9 0 1 0 -1.8 0M364.9 145.1a1.0 1.0 0 1 0 2.0 0a1.0 1.0 0 1 0 -2.0 0M363.5 147.8a1.1 1.1 0 1 0 2.2 0a1.1 1.1 0 1 0 -2.2 0M367.3 145.9a0.7 0.7 0 1 0 1.5 0a0.7 0.7 0 1 0 -1.5 0M367.5 146.5a1.0 1.0 0 1 0 2.0 0a1.0 1.0 0 1 0 -2.0 0M367.5 147.1a1.1 1.1 0 1 0 2.2 0a1.1 1.1 0 1 0 -2.2 0M365.9 146.3a1.1 1.1 0 1 0 2.1 0a1.1 1.1 0 1 0 -2.1 0M365.7 144.9a1.0 1.0 0 1 0 1.9 0a1.0 1.0 0 1 0 -1.9 0M364.5 147.9a0.8 0.8 0 1 0 1.6 0a0.8 0.8 0 1 0 -1.6 0M366.3 145.6a1.1 1.1 0 1 0 2.2 0a1.1 1.1 0 1 0 -2.2 0M370.0 145.9a0.8 0.8 0 1 0 1.7 0a0.8 0.8 0 1 0 -1.7 0M367.9 146.7a0.7 0.7 0 1 0 1.4 0a0.7 0.7 0 1 0 -1.4 0M369.3 142.9a1.0 1.0 0 1 0 2.0 0a1.0 1.0 0 1 0 -2.0 0M381.0 160.3a1.0 1.0 0 1 0 1.9 0a1.0 1.0 0 1 0 -1.9 0M382.8 164.8a0.7 0.7 0 1 0 1.4 0a0.7 0.7 0 1 0 -1.4 0M382.7 159.3a0.8 0.8 0 1 0 1.7 0a0.8 0.8 0 1 0 -1.7 0M381.4 158.6a0.8 0.8 0 1 0 1.5 0a0.8 0.8 0 1 0 -1.5 0M383.6 159.3a1.2 1.2 0 1 0 2.4 0a1.2 1.2 0 1 0 -2.4 0M379.5 159.7a0.9 0.9 0 1 0 1.8 0a0.9 0.9 0 1 0 -1.8 0M387.1 159.4a1.1 1.1 0 1 0 2.2 0a1.1 1.1 0 1 0 -2.2 0M383.0 161.3a1.1 1.1 0 1 0 2.1 0a1.1 1.1 0 1 0 -2.1 0M382.1 164.0a0.8 0.8 0 1 0 1.5 0a0.8 0.8 0 1 0 -1.5 0M381.2 160.8a0.9 0.9 0 1 0 1.8 0a0.9 0.9 0 1 0 -1.8 0M384.9 158.8a1.0 1.0 0 1 0 2.0 0a1.0 1.0 0 1 0 -2.0 0M381.2 163.6a0.8 0.8 0 1 0 1.6 0a0.8 0.8 0 1 0 -1.6 0M382.5 163.2a1.0 1.0 0 1 0 2.0 0a1.0 1.0 0 1 0 -2.0 0M384.1 160.5a0.9 0.9 0 1 0 1.8 0a0.9 0.9 0 1 0 -1.8 0M383.5 161.5a0.7 0.7 0 1 0 1.4 0a0.7 0.7 0 1 0 -1.4 0M385.1 162.7a1.2 1.2 0 1 0 2.3 0a1.2 1.2 0 1 0 -2.3 0M384.2 158.8a0.9 0.9 0 1 0 1.7 0a0.9 0.9 0 1 0 -1.7 0M385.3 159.1a0.9 0.9 0 1 0 1.9 0a0.9 0.9 0 1 0 -1.9 0M386.2 162.4a1.0 1.0 0 1 0 2.0 0a1.0 1.0 0 1 0 -2.0 0M383.2 160.5a0.8 0.8 0 1 0 1.7 0a0.8 0.8 0 1 0 -1.7 0M383.5 161.6a0.9 0.9 0 1 0 1.8 0a0.9 0.9 0 1 0 -1.8 0M383.1 161.9a1.0 1.0 0 1 0 1.9 0a1.0 1.0 0 1 0 -1.9 0M383.0 161.7a1.0 1.0 0 1 0 1.9 0a1.0 1.0 0 1 0 -1.9 0M344.3 139.4a0.7 0.7 0 1 0 1.5 0a0.7 0.7 0 1 0 -1.5 0M342.5 140.0a0.9 0.9 0 1 0 1.7 0a0.9 0.9 0 1 0 -1.7 0M350.8 142.0a1.1 1.1 0 1 0 2.3 0a1.1 1.1 0 1 0 -2.3 0M341.3 141.1a0.8 0.8 0 1 0 1.6 0a0.8 0.8 0 1 0 -1.6 0M345.2 138.6a0.9 0.9 0 1 0 1.8 0a0.9 0.9 0 1 0 -1.8 0M345.4 142.4a0.8 0.8 0 1 0 1.7 0a0.8 0.8 0 1 0 -1.7 0M350.1 142.5a1.1 1.1 0 1 0 2.1 0a1.1 1.1 0 1 0 -2.1 0M350.5 140.4a0.9 0.9 0 1 0 1.9 0a0.9 0.9 0 1 0 -1.9 0M347.7 143.7a1.0 1.0 0 1 0 2.0 0a1.0 1.0 0 1 0 -2.0 0M349.9 139.8a1.1 1.1 0 1 0 2.2 0a1.1 1.1 0 1 0 -2.2 0M347.5 141.3a1.1 1.1 0 1 0 2.2 0a1.1 1.1 0 1 0 -2.2 0M346.4 140.7a0.7 0.7 0 1 0 1.5 0a0.7 0.7 0 1 0 -1.5 0M348.8 143.1a0.8 0.8 0 1 0 1.6 0a0.8 0.8 0 1 0 -1.6 0M348.6 138.8a0.9 0.9 0 1 0 1.9 0a0.9 0.9 0 1 0 -1.9 0M348.9 143.3a1.0 1.0 0 1 0 2.1 0a1.0 1.0 0 1 0 -2.1 0M343.4 143.1a1.1 1.1 0 1 0 2.2 0a1.1 1.1 0 1 0 -2.2 0M349.8 139.5a1.0 1.0 0 1 0 2.1 0a1.0 1.0 0 1 0 -2.1 0M340.9 138.7a0.8 0.8 0 1 0 1.6 0a0.8 0.8 0 1 0 -1.6 0M348.3 141.1a0.8 0.8 0 1 0 1.6 0a0.8 0.8 0 1 0 -1.6 0M342.7 140.4a1.0 1.0 0 1 0 1.9 0a1.0 1.0 0 1 0 -1.9 0M343.0 142.2a0.7 0.7 0 1 0 1.4 0a0.7 0.7 0 1 0 -1.4 0M344.1 143.1a0.8 0.8 0 1 0 1.5 0a0.8 0.8 0 1 0 -1.5 0M345.7 143.5a1.1 1.1 0 1 0 2.1 0a1.1 1.1 0 1 0 -2.1 0M349.3 140.2a0.7 0.7 0 1 0 1.4 0a0.7 0.7 0 1 0 -1.4 0M320.7 120.7a0.8 0.8 0 1 0 1.7 0a0.8 0.8 0 1 0 -1.7 0M321.2 120.9a1.2 1.2 0 1 0 2.3 0a1.2 1.2 0 1 0 -2.3 0M318.1 122.9a0.7 0.7 0 1 0 1.5 0a0.7 0.7 0 1 0 -1.5 0M317.7 123.4a0.7 0.7 0 1 0 1.5 0a0.7 0.7 0 1 0 -1.5 0M324.6 124.1a1.1 1.1 0 1 0 2.1 0a1.1 1.1 0 1 0 -2.1 0M318.6 123.5a1.0 1.0 0 1 0 2.0 0a1.0 1.0 0 1 0 -2.0 0M318.4 125.0a1.1 1.1 0 1 0 2.3 0a1.1 1.1 0 1 0 -2.3 0M323.9 121.7a0.8 0.8 0 1 0 1.6 0a0.8 0.8 0 1 0 -1.6 0M321.4 121.2a0.8 0.8 0 1 0 1.6 0a0.8 0.8 0 1 0 -1.6 0M320.1 124.4a0.8 0.8 0 1 0 1.6 0a0.8 0.8 0 1 0 -1.6 0M324.0 120.1a1.2 1.2 0 1 0 2.3 0a1.2 1.2 0 1 0 -2.3 0M322.6 118.5a0.7 0.7 0 1 0 1.5 0a0.7 0.7 0 1 0 -1.5 0M318.9 122.6a1.0 1.0 0 1 0 2.0 0a1.0 1.0 0 1 0 -2.0 0M320.7 119.7a1.0 1.0 0 1 0 2.1 0a1.0 1.0 0 1 0 -2.1 0M321.5 126.8a0.8 0.8 0 1 0 1.6 0a0.8 0.8 0 1 0 -1.6 0M322.4 123.1a0.7 0.7 0 1 0 1.4 0a0.7 0.7 0 1 0 -1.4 0M318.1 122.8a1.0 1.0 0 1 0 2.1 0a1.0 1.0 0 1 0 -2.1 0M324.0 125.4a1.2 1.2 0 1 0 2.4 0a1.2 1.2 0 1 0 -2.4 0M318.0 124.1a0.7 0.7 0 1 0 1.5 0a0.7 0.7 0 1 0 -1.5 0M324.2 125.6a0.8 0.8 0 1 0 1.6 0a0.8 0.8 0 1 0 -1.6 0M353.0 178.4a0.8 0.8 0 1 0 1.7 0a0.8 0.8 0 1 0 -1.7 0M356.5 175.5a0.9 0.9 0 1 0 1.7 0a0.9 0.9 0 1 0 -1.7 0M355.0 173.4a0.8 0.8 0 1 0 1.7 0a0.8 0.8 0 1 0 -1.7 0M352.6 181.2a0.7 0.7 0 1 0 1.5 0a0.7 0.7 0 1 0 -1.5 0M352.5 179.7a1.2 1.2 0 1 0 2.4 0a1.2 1.2 0 1 0 -2.4 0M356.0 175.1a1.2 1.2 0 1 0 2.3 0a1.2 1.2 0 1 0 -2.3 0M354.4 178.1a0.7 0.7 0 1 0 1.4 0a0.7 0.7 0 1 0 -1.4 0M352.9 176.9a1.0 1.0 0 1 0 1.9 0a1.0 1.0 0 1 0 -1.9 0M355.8 175.2a1.0 1.0 0 1 0 2.1 0a1.0 1.0 0 1 0 -2.1 0M354.5 178.8a1.0 1.0 0 1 0 2.0 0a1.0 1.0 0 1 0 -2.0 0M354.5 179.7a0.8 0.8 0 1 0 1.6 0a0.8 0.8 0 1 0 -1.6 0M354.7 178.9a0.7 0.7 0 1 0 1.4 0a0.7 0.7 0 1 0 -1.4 0M354.5 176.0a0.8 0.8 0 1 0 1.5 0a0.8 0.8 0 1 0 -1.5 0M355.0 174.4a0.9 0.9 0 1 0 1.8 0a0.9 0.9 0 1 0 -1.8 0M356.4 180.7a1.1 1.1 0 1 0 2.3 0a1.1 1.1 0 1 0 -2.3 0M352.7 181.4a0.8 0.8 0 1 0 1.5 0a0.8 0.8 0 1 0 -1.5 0M352.6 180.2a1.0 1.0 0 1 0 1.9 0a1.0 1.0 0 1 0 -1.9 0M354.0 183.1a1.0 1.0 0 1 0 1.9 0a1.0 1.0 0 1 0 -1.9 0M353.9 183.8a0.8 0.8 0 1 0 1.7 0a0.8 0.8 0 1 0 -1.7 0M357.3 176.5a0.9 0.9 0 1 0 1.7 0a0.9 0.9 0 1 0 -1.7 0M352.3 197.8a0.9 0.9 0 1 0 1.9 0a0.9 0.9 0 1 0 -1.9 0M351.5 194.8a0.8 0.8 0 1 0 1.7 0a0.8 0.8 0 1 0 -1.7 0M350.6 195.0a1.0 1.0 0 1 0 2.0 0a1.0 1.0 0 1 0 -2.0 0M350.9 197.7a1.1 1.1 0 1 0 2.1 0a1.1 1.1 0 1 0 -2.1 0M350.6 200.0a1.1 1.1 0 1 0 2.2 0a1.1 1.1 0 1 0 -2.2 0M349.3 193.9a1.1 1.1 0 1 0 2.2 0a1.1 1.1 0 1 0 -2.2 0M349.3 201.2a1.1 1.1 0 1 0 2.1 0a1.1 1.1 0 1 0 -2.1 0M347.3 196.9a0.8 0.8 0 1 0 1.6 0a0.8 0.8 0 1 0 -1.6 0M351.5 194.2a0.9 0.9 0 1 0 1.8 0a0.9 0.9 0 1 0 -1.8 0M347.2 194.9a0.8 0.8 0 1 0 1.7 0a0.8 0.8 0 1 0 -1.7 0M351.5 198.4a0.8 0.8 0 1 0 1.6 0a0.8 0.8 0 1 0 -1.6 0M347.6 194.0a0.9 0.9 0 1 0 1.8 0a0.9 0.9 0 1 0 -1.8 0M352.0 195.6a1.1 1.1 0 1 0 2.2 0a1.1 1.1 0 1 0 -2.2 0M350.2 193.3a1.1 1.1 0 1 0 2.1 0a1.1 1.1 0 1 0 -2.1 0M347.6 193.6a1.1 1.1 0 1 0 2.2 0a1.1 1.1 0 1 0 -2.2 0M350.1 196.1a0.8 0.8 0 1 0 1.6 0a0.8 0.8 0 1 0 -1.6 0M349.0 196.5a0.8 0.8 0 1 0 1.7 0a0.8 0.8 0 1 0 -1.7 0M353.4 198.6a0.8 0.8 0 1 0 1.6 0a0.8 0.8 0 1 0 -1.6 0M351.7 198.2a0.7 0.7 0 1 0 1.4 0a0.7 0.7 0 1 0 -1.4 0M350.7 200.2a0.7 0.7 0 1 0 1.5 0a0.7 0.7 0 1 0 -1.5 0M351.7 197.1a1.0 1.0 0 1 0 2.0 0a1.0 1.0 0 1 0 -2.0 0M351.9 196.3a1.1 1.1 0 1 0 2.1 0a1.1 1.1 0 1 0 -2.1 0M347.7 196.1a0.9 0.9 0 1 0 1.8 0a0.9 0.9 0 1 0 -1.8 0M352.4 194.7a0.8 0.8 0 1 0 1.5 0a0.8 0.8 0 1 0 -1.5 0M391.8 202.7a0.9 0.9 0 1 0 1.7 0a0.9 0.9 0 1 0 -1.7 0M394.2 199.7a1.0 1.0 0 1 0 2.0 0a1.0 1.0 0 1 0 -2.0 0M394.7 205.5a1.1 1.1 0 1 0 2.2 0a1.1 1.1 0 1 0 -2.2 0M392.1 199.3a0.8 0.8 0 1 0 1.5 0a0.8 0.8 0 1 0 -1.5 0M396.0 198.0a0.8 0.8 0 1 0 1.5 0a0.8 0.8 0 1 0 -1.5 0M394.5 202.9a1.0 1.0 0 1 0 2.0 0a1.0 1.0 0 1 0 -2.0 0M391.7 202.8a1.2 1.2 0 1 0 2.4 0a1.2 1.2 0 1 0 -2.4 0M391.3 202.0a1.1 1.1 0 1 0 2.3 0a1.1 1.1 0 1 0 -2.3 0M394.7 206.0a0.7 0.7 0 1 0 1.4 0a0.7 0.7 0 1 0 -1.4 0M394.7 204.6a1.1 1.1 0 1 0 2.2 0a1.1 1.1 0 1 0 -2.2 0M395.5 202.0a0.9 0.9 0 1 0 1.9 0a0.9 0.9 0 1 0 -1.9 0M392.8 201.4a0.8 0.8 0 1 0 1.6 0a0.8 0.8 0 1 0 -1.6 0M396.1 202.0a0.9 0.9 0 1 0 1.7 0a0.9 0.9 0 1 0 -1.7 0M394.0 204.9a0.8 0.8 0 1 0 1.6 0a0.8 0.8 0 1 0 -1.6 0M394.5 203.2a0.9 0.9 0 1 0 1.7 0a0.9 0.9 0 1 0 -1.7 0M394.5 203.2a1.0 1.0 0 1 0 2.1 0a1.0 1.0 0 1 0 -2.1 0M393.1 200.1a1.0 1.0 0 1 0 1.9 0a1.0 1.0 0 1 0 -1.9 0M392.8 201.9a1.0 1.0 0 1 0 2.0 0a1.0 1.0 0 1 0 -2.0 0M392.5 203.3a1.1 1.1 0 1 0 2.2 0a1.1 1.1 0 1 0 -2.2 0M396.4 201.6a0.8 0.8 0 1 0 1.6 0a0.8 0.8 0 1 0 -1.6 0M345.8 128.2a1.1 1.1 0 1 0 2.3 0a1.1 1.1 0 1 0 -2.3 0M342.2 126.6a1.0 1.0 0 1 0 2.0 0a1.0 1.0 0 1 0 -2.0 0M347.8 126.2a1.0 1.0 0 1 0 2.0 0a1.0 1.0 0 1 0 -2.0 0M348.6 123.6a1.1 1.1 0 1 0 2.2 0a1.1 1.1 0 1 0 -2.2 0M349.0 123.8a1.2 1.2 0 1 0 2.4 0a1.2 1.2 0 1 0 -2.4 0M343.5 126.6a1.2 1.2 0 1 0 2.3 0a1.2 1.2 0 1 0 -2.3 0M347.5 127.7a1.1 1.1 0 1 0 2.1 0a1.1 1.1 0 1 0 -2.1 0M345.5 125.2a1.0 1.0 0 1 0 1.9 0a1.0 1.0 0 1 0 -1.9 0M344.3 124.7a0.8 0.8 0 1 0 1.6 0a0.8 0.8 0 1 0 -1.6 0M341.5 123.0a1.2 1.2 0 1 0 2.3 0a1.2 1.2 0 1 0 -2.3 0M347.7 126.5a0.7 0.7 0 1 0 1.5 0a0.7 0.7 0 1 0 -1.5 0M346.7 127.6a0.9 0.9 0 1 0 1.7 0a0.9 0.9 0 1 0 -1.7 0M346.4 129.2a1.1 1.1 0 1 0 2.2 0a1.1 1.1 0 1 0 -2.2 0M342.8 123.9a0.9 0.9 0 1 0 1.8 0a0.9 0.9 0 1 0 -1.8 0M343.5 126.7a1.2 1.2 0 1 0 2.3 0a1.2 1.2 0 1 0 -2.3 0M343.6 124.2a0.7 0.7 0 1 0 1.4 0a0.7 0.7 0 1 0 -1.4 0M346.5 125.0a0.9 0.9 0 1 0 1.9 0a0.9 0.9 0 1 0 -1.9 0M343.7 126.5a0.8 0.8 0 1 0 1.6 0a0.8 0.8 0 1 0 -1.6 0M345.3 125.3a0.8 0.8 0 1 0 1.5 0a0.8 0.8 0 1 0 -1.5 0M339.2 179.9a1.0 1.0 0 1 0 2.0 0a1.0 1.0 0 1 0 -2.0 0M339.8 181.5a0.7 0.7 0 1 0 1.4 0a0.7 0.7 0 1 0 -1.4 0M340.7 183.0a0.7 0.7 0 1 0 1.4 0a0.7 0.7 0 1 0 -1.4 0M344.5 183.7a1.2 1.2 0 1 0 2.3 0a1.2 1.2 0 1 0 -2.3 0M347.7 181.7a1.2 1.2 0 1 0 2.4 0a1.2 1.2 0 1 0 -2.4 0M343.9 182.3a0.8 0.8 0 1 0 1.5 0a0.8 0.8 0 1 0 -1.5 0M346.2 183.8a0.8 0.8 0 1 0 1.6 0a0.8 0.8 0 1 0 -1.6 0M338.4 182.3a1.0 1.0 0 1 0 1.9 0a1.0 1.0 0 1 0 -1.9 0M340.1 180.6a0.7 0.7 0 1 0 1.5 0a0.7 0.7 0 1 0 -1.5 0M341.8 181.3a1.2 1.2 0 1 0 2.4 0a1.2 1.2 0 1 0 -2.4 0M339.5 180.4a0.9 0.9 0 1 0 1.9 0a0.9 0.9 0 1 0 -1.9 0M343.0 182.0a0.8 0.8 0 1 0 1.6 0a0.8 0.8 0 1 0 -1.6 0M342.1 183.9a1.0 1.0 0 1 0 1.9 0a1.0 1.0 0 1 0 -1.9 0M343.0 182.5a0.7 0.7 0 1 0 1.4 0a0.7 0.7 0 1 0 -1.4 0M347.3 181.4a1.0 1.0 0 1 0 2.1 0a1.0 1.0 0 1 0 -2.1 0M341.8 180.3a1.2 1.2 0 1 0 2.3 0a1.2 1.2 0 1 0 -2.3 0M342.8 182.2a1.1 1.1 0 1 0 2.2 0a1.1 1.1 0 1 0 -2.2 0M341.8 180.0a0.7 0.7 0 1 0 1.5 0a0.7 0.7 0 1 0 -1.5 0M344.9 184.7a0.9 0.9 0 1 0 1.8 0a0.9 0.9 0 1 0 -1.8 0M347.8 183.9a0.7 0.7 0 1 0 1.4 0a0.7 0.7 0 1 0 -1.4 0M345.8 184.2a0.9 0.9 0 1 0 1.8 0a0.9 0.9 0 1 0 -1.8 0M340.0 183.0a1.0 1.0 0 1 0 2.0 0a1.0 1.0 0 1 0 -2.0 0M341.9 181.9a0.9 0.9 0 1 0 1.7 0a0.9 0.9 0 1 0 -1.7 0M346.9 183.2a1.1 1.1 0 1 0 2.2 0a1.1 1.1 0 1 0 -2.2 0M344.9 182.3a1.1 1.1 0 1 0 2.3 0a1.1 1.1 0 1 0 -2.3 0M347.2 183.3a0.9 0.9 0 1 0 1.8 0a0.9 0.9 0 1 0 -1.8 0M401.7 165.9a0.9 0.9 0 1 0 1.9 0a0.9 0.9 0 1 0 -1.9 0M399.2 166.7a1.0 1.0 0 1 0 2.0 0a1.0 1.0 0 1 0 -2.0 0M399.2 167.6a0.8 0.8 0 1 0 1.5 0a0.8 0.8 0 1 0 -1.5 0M394.4 169.0a1.2 1.2 0 1 0 2.4 0a1.2 1.2 0 1 0 -2.4 0M397.9 171.7a0.9 0.9 0 1 0 1.9 0a0.9 0.9 0 1 0 -1.9 0M398.6 164.8a0.9 0.9 0 1 0 1.8 0a0.9 0.9 0 1 0 -1.8 0M399.1 167.4a1.1 1.1 0 1 0 2.1 0a1.1 1.1 0 1 0 -2.1 0M399.5 165.9a0.9 0.9 0 1 0 1.8 0a0.9 0.9 0 1 0 -1.8 0M401.9 168.6a0.9 0.9 0 1 0 1.7 0a0.9 0.9 0 1 0 -1.7 0M399.5 167.0a1.2 1.2 0 1 0 2.4 0a1.2 1.2 0 1 0 -2.4 0M396.1 170.2a0.8 0.8 0 1 0 1.6 0a0.8 0.8 0 1 0 -1.6 0M397.7 165.3a0.8 0.8 0 1 0 1.5 0a0.8 0.8 0 1 0 -1.5 0M399.7 169.7a1.1 1.1 0 1 0 2.1 0a1.1 1.1 0 1 0 -2.1 0M397.4 169.1a0.8 0.8 0 1 0 1.7 0a0.8 0.8 0 1 0 -1.7 0M399.4 168.9a1.1 1.1 0 1 0 2.2 0a1.1 1.1 0 1 0 -2.2 0M401.6 165.8a0.8 0.8 0 1 0 1.6 0a0.8 0.8 0 1 0 -1.6 0M397.6 168.3a1.0 1.0 0 1 0 2.0 0a1.0 1.0 0 1 0 -2.0 0M398.6 170.6a0.8 0.8 0 1 0 1.7 0a0.8 0.8 0 1 0 -1.7 0M401.0 164.6a0.8 0.8 0 1 0 1.6 0a0.8 0.8 0 1 0 -1.6 0M402.0 167.8a1.1 1.1 0 1 0 2.2 0a1.1 1.1 0 1 0 -2.2 0M395.6 167.0a1.0 1.0 0 1 0 2.0 0a1.0 1.0 0 1 0 -2.0 0M395.6 171.5a1.1 1.1 0 1 0 2.1 0a1.1 1.1 0 1 0 -2.1 0M363.4 154.7a1.2 1.2 0 1 0 2.3 0a1.2 1.2 0 1 0 -2.3 0M362.3 156.0a0.9 0.9 0 1 0 1.7 0a0.9 0.9 0 1 0 -1.7 0M363.6 157.2a0.9 0.9 0 1 0 1.8 0a0.9 0.9 0 1 0 -1.8 0M365.6 152.3a1.1 1.1 0 1 0 2.3 0a1.1 1.1 0 1 0 -2.3 0M360.7 157.0a0.9 0.9 0 1 0 1.8 0a0.9 0.9 0 1 0 -1.8 0M358.6 157.0a0.8 0.8 0 1 0 1.6 0a0.8 0.8 0 1 0 -1.6 0M366.4 155.0a0.9 0.9 0 1 0 1.9 0a0.9 0.9 0 1 0 -1.9 0M362.8 151.7a1.1 1.1 0 1 0 2.3 0a1.1 1.1 0 1 0 -2.3 0M362.8 155.5a1.0 1.0 0 1 0 2.0 0a1.0 1.0 0 1 0 -2.0 0M361.3 153.5a0.9 0.9 0 1 0 1.7 0a0.9 0.9 0 1 0 -1.7 0M362.1 155.0a1.0 1.0 0 1 0 2.0 0a1.0 1.0 0 1 0 -2.0 0M364.0 153.3a0.9 0.9 0 1 0 1.8 0a0.9 0.9 0 1 0 -1.8 0M367.3 154.8a1.2 1.2 0 1 0 2.3 0a1.2 1.2 0 1 0 -2.3 0M360.8 155.4a0.8 0.8 0 1 0 1.5 0a0.8 0.8 0 1 0 -1.5 0M360.0 154.3a1.0 1.0 0 1 0 2.0 0a1.0 1.0 0 1 0 -2.0 0M363.3 152.2a0.9 0.9 0 1 0 1.8 0a0.9 0.9 0 1 0 -1.8 0M366.4 155.0a1.0 1.0 0 1 0 2.0 0a1.0 1.0 0 1 0 -2.0 0M364.6 154.8a0.9 0.9 0 1 0 1.7 0a0.9 0.9 0 1 0 -1.7 0M320.9 138.5a1.0 1.0 0 1 0 2.0 0a1.0 1.0 0 1 0 -2.0 0M321.5 137.8a0.9 0.9 0 1 0 1.9 0a0.9 0.9 0 1 0 -1.9 0M319.0 136.5a1.1 1.1 0 1 0 2.3 0a1.1 1.1 0 1 0 -2.3 0M320.4 132.2a1.2 1.2 0 1 0 2.4 0a1.2 1.2 0 1 0 -2.4 0M320.8 136.9a0.8 0.8 0 1 0 1.6 0a0.8 0.8 0 1 0 -1.6 0M319.0 135.6a1.1 1.1 0 1 0 2.2 0a1.1 1.1 0 1 0 -2.2 0M319.4 135.8a1.2 1.2 0 1 0 2.4 0a1.2 1.2 0 1 0 -2.4 0M320.2 134.5a1.0 1.0 0 1 0 2.0 0a1.0 1.0 0 1 0 -2.0 0M323.1 134.0a1.0 1.0 0 1 0 2.0 0a1.0 1.0 0 1 0 -2.0 0M317.4 139.0a0.8 0.8 0 1 0 1.5 0a0.8 0.8 0 1 0 -1.5 0M324.3 133.4a0.8 0.8 0 1 0 1.7 0a0.8 0.8 0 1 0 -1.7 0M319.0 134.4a1.0 1.0 0 1 0 2.0 0a1.0 1.0 0 1 0 -2.0 0M318.1 134.6a1.0 1.0 0 1 0 2.0 0a1.0 1.0 0 1 0 -2.0 0M320.6 132.7a1.0 1.0 0 1 0 2.0 0a1.0 1.0 0 1 0 -2.0 0M317.3 137.7a1.0 1.0 0 1 0 1.9 0a1.0 1.0 0 1 0 -1.9 0M323.0 135.4a0.7 0.7 0 1 0 1.4 0a0.7 0.7 0 1 0 -1.4 0M319.9 138.1a1.1 1.1 0 1 0 2.2 0a1.1 1.1 0 1 0 -2.2 0M316.7 134.1a0.9 0.9 0 1 0 1.7 0a0.9 0.9 0 1 0 -1.7 0M315.8 136.4a1.1 1.1 0 1 0 2.2 0a1.1 1.1 0 1 0 -2.2 0M318.7 135.3a0.9 0.9 0 1 0 1.7 0a0.9 0.9 0 1 0 -1.7 0M318.1 138.8a0.9 0.9 0 1 0 1.8 0a0.9 0.9 0 1 0 -1.8 0M318.0 137.3a1.1 1.1 0 1 0 2.2 0a1.1 1.1 0 1 0 -2.2 0M318.8 138.5a1.2 1.2 0 1 0 2.4 0a1.2 1.2 0 1 0 -2.4 0M320.3 138.2a1.1 1.1 0 1 0 2.2 0a1.1 1.1 0 1 0 -2.2 0M320.5 135.3a1.0 1.0 0 1 0 2.0 0a1.0 1.0 0 1 0 -2.0 0M361.2 123.6a0.9 0.9 0 1 0 1.8 0a0.9 0.9 0 1 0 -1.8 0M364.2 124.2a0.8 0.8 0 1 0 1.5 0a0.8 0.8 0 1 0 -1.5 0M363.0 121.4a0.8 0.8 0 1 0 1.7 0a0.8 0.8 0 1 0 -1.7 0M364.7 123.7a1.2 1.2 0 1 0 2.3 0a1.2 1.2 0 1 0 -2.3 0M363.1 122.2a1.0 1.0 0 1 0 2.0 0a1.0 1.0 0 1 0 -2.0 0M361.9 123.0a1.0 1.0 0 1 0 1.9 0a1.0 1.0 0 1 0 -1.9 0M365.5 121.4a1.0 1.0 0 1 0 1.9 0a1.0 1.0 0 1 0 -1.9 0M360.1 122.3a1.0 1.0 0 1 0 2.1 0a1.0 1.0 0 1 0 -2.1 0M360.7 123.6a0.7 0.7 0 1 0 1.5 0a0.7 0.7 0 1 0 -1.5 0M366.9 121.2a0.8 0.8 0 1 0 1.5 0a0.8 0.8 0 1 0 -1.5 0M361.8 125.1a1.2 1.2 0 1 0 2.3 0a1.2 1.2 0 1 0 -2.3 0M359.2 123.9a0.7 0.7 0 1 0 1.5 0a0.7 0.7 0 1 0 -1.5 0M366.7 121.0a0.8 0.8 0 1 0 1.6 0a0.8 0.8 0 1 0 -1.6 0M363.4 119.8a0.9 0.9 0 1 0 1.7 0a0.9 0.9 0 1 0 -1.7 0M364.6 122.0a0.7 0.7 0 1 0 1.5 0a0.7 0.7 0 1 0 -1.5 0M358.2 123.6a1.1 1.1 0 1 0 2.1 0a1.1 1.1 0 1 0 -2.1 0M363.1 120.5a0.9 0.9 0 1 0 1.8 0a0.9 0.9 0 1 0 -1.8 0M360.1 124.2a0.9 0.9 0 1 0 1.8 0a0.9 0.9 0 1 0 -1.8 0M373.5 137.6a0.9 0.9 0 1 0 1.8 0a0.9 0.9 0 1 0 -1.8 0M377.9 135.8a0.9 0.9 0 1 0 1.8 0a0.9 0.9 0 1 0 -1.8 0M371.4 138.2a1.2 1.2 0 1 0 2.3 0a1.2 1.2 0 1 0 -2.3 0M372.3 136.5a0.8 0.8 0 1 0 1.7 0a0.8 0.8 0 1 0 -1.7 0M374.6 137.5a1.1 1.1 0 1 0 2.3 0a1.1 1.1 0 1 0 -2.3 0M375.1 136.3a1.0 1.0 0 1 0 2.0 0a1.0 1.0 0 1 0 -2.0 0M377.2 136.0a0.9 0.9 0 1 0 1.8 0a0.9 0.9 0 1 0 -1.8 0M375.3 139.7a1.1 1.1 0 1 0 2.3 0a1.1 1.1 0 1 0 -2.3 0M373.9 140.5a0.9 0.9 0 1 0 1.7 0a0.9 0.9 0 1 0 -1.7 0M374.0 136.1a0.8 0.8 0 1 0 1.5 0a0.8 0.8 0 1 0 -1.5 0M370.9 136.8a1.1 1.1 0 1 0 2.1 0a1.1 1.1 0 1 0 -2.1 0M372.4 137.2a0.8 0.8 0 1 0 1.7 0a0.8 0.8 0 1 0 -1.7 0M373.8 136.4a1.1 1.1 0 1 0 2.2 0a1.1 1.1 0 1 0 -2.2 0M374.5 135.2a0.9 0.9 0 1 0 1.7 0a0.9 0.9 0 1 0 -1.7 0M372.3 141.3a1.1 1.1 0 1 0 2.2 0a1.1 1.1 0 1 0 -2.2 0M373.8 138.9a0.7 0.7 0 1 0 1.4 0a0.7 0.7 0 1 0 -1.4 0M373.7 138.4a1.2 1.2 0 1 0 2.4 0a1.2 1.2 0 1 0 -2.4 0M372.9 140.5a1.0 1.0 0 1 0 2.1 0a1.0 1.0 0 1 0 -2.1 0M377.8 136.3a0.8 0.8 0 1 0 1.6 0a0.8 0.8 0 1 0 -1.6 0M375.5 136.8a1.1 1.1 0 1 0 2.2 0a1.1 1.1 0 1 0 -2.2 0M373.9 136.3a1.0 1.0 0 1 0 2.0 0a1.0 1.0 0 1 0 -2.0 0M375.4 135.6a0.8 0.8 0 1 0 1.7 0a0.8 0.8 0 1 0 -1.7 0M372.5 141.3a0.9 0.9 0 1 0 1.8 0a0.9 0.9 0 1 0 -1.8 0M378.6 136.2a1.2 1.2 0 1 0 2.3 0a1.2 1.2 0 1 0 -2.3 0M372.3 134.8a1.0 1.0 0 1 0 2.0 0a1.0 1.0 0 1 0 -2.0 0M375.0 135.7a0.8 0.8 0 1 0 1.6 0a0.8 0.8 0 1 0 -1.6 0M386.3 148.1a1.2 1.2 0 1 0 2.3 0a1.2 1.2 0 1 0 -2.3 0M388.6 142.4a1.0 1.0 0 1 0 2.0 0a1.0 1.0 0 1 0 -2.0 0M386.4 144.4a0.8 0.8 0 1 0 1.6 0a0.8 0.8 0 1 0 -1.6 0M386.4 145.6a0.9 0.9 0 1 0 1.9 0a0.9 0.9 0 1 0 -1.9 0M387.1 146.9a1.0 1.0 0 1 0 1.9 0a1.0 1.0 0 1 0 -1.9 0M388.9 144.8a0.7 0.7 0 1 0 1.4 0a0.7 0.7 0 1 0 -1.4 0M392.0 146.0a1.2 1.2 0 1 0 2.3 0a1.2 1.2 0 1 0 -2.3 0M387.4 145.1a0.7 0.7 0 1 0 1.4 0a0.7 0.7 0 1 0 -1.4 0M389.1 143.0a0.7 0.7 0 1 0 1.4 0a0.7 0.7 0 1 0 -1.4 0M386.5 145.2a1.1 1.1 0 1 0 2.2 0a1.1 1.1 0 1 0 -2.2 0M390.4 148.9a0.8 0.8 0 1 0 1.7 0a0.8 0.8 0 1 0 -1.7 0M389.1 143.0a0.9 0.9 0 1 0 1.9 0a0.9 0.9 0 1 0 -1.9 0M387.6 146.2a1.1 1.1 0 1 0 2.2 0a1.1 1.1 0 1 0 -2.2 0M389.1 149.8a0.8 0.8 0 1 0 1.6 0a0.8 0.8 0 1 0 -1.6 0M390.7 148.0a0.7 0.7 0 1 0 1.5 0a0.7 0.7 0 1 0 -1.5 0M387.6 141.4a1.1 1.1 0 1 0 2.3 0a1.1 1.1 0 1 0 -2.3 0M391.4 145.7a0.9 0.9 0 1 0 1.8 0a0.9 0.9 0 1 0 -1.8 0M387.6 148.9a0.7 0.7 0 1 0 1.4 0a0.7 0.7 0 1 0 -1.4 0M386.5 145.1a0.9 0.9 0 1 0 1.8 0a0.9 0.9 0 1 0 -1.8 0M385.0 145.2a1.0 1.0 0 1 0 2.0 0a1.0 1.0 0 1 0 -2.0 0M390.3 146.9a0.9 0.9 0 1 0 1.7 0a0.9 0.9 0 1 0 -1.7 0M389.7 148.2a0.8 0.8 0 1 0 1.7 0a0.8 0.8 0 1 0 -1.7 0M387.5 141.3a0.8 0.8 0 1 0 1.7 0a0.8 0.8 0 1 0 -1.7 0M390.1 144.0a1.0 1.0 0 1 0 1.9 0a1.0 1.0 0 1 0 -1.9 0M328.3 180.4a1.0 1.0 0 1 0 1.9 0a1.0 1.0 0 1 0 -1.9 0M322.2 179.2a0.8 0.8 0 1 0 1.5 0a0.8 0.8 0 1 0 -1.5 0M327.8 179.0a0.8 0.8 0 1 0 1.6 0a0.8 0.8 0 1 0 -1.6 0M326.1 174.4a0.7 0.7 0 1 0 1.4 0a0.7 0.7 0 1 0 -1.4 0M327.7 177.0a1.0 1.0 0 1 0 2.1 0a1.0 1.0 0 1 0 -2.1 0M328.4 181.5a1.1 1.1 0 1 0 2.1 0a1.1 1.1 0 1 0 -2.1 0M327.0 175.2a0.7 0.7 0 1 0 1.5 0a0.7 0.7 0 1 0 -1.5 0M325.7 179.1a1.1 1.1 0 1 0 2.2 0a1.1 1.1 0 1 0 -2.2 0M325.4 179.4a1.1 1.1 0 1 0 2.1 0a1.1 1.1 0 1 0 -2.1 0M325.7 179.8a1.0 1.0 0 1 0 2.1 0a1.0 1.0 0 1 0 -2.1 0M327.9 180.1a1.0 1.0 0 1 0 2.0 0a1.0 1.0 0 1 0 -2.0 0M327.4 180.6a1.1 1.1 0 1 0 2.3 0a1.1 1.1 0 1 0 -2.3 0M327.3 178.5a0.8 0.8 0 1 0 1.7 0a0.8 0.8 0 1 0 -1.7 0M325.3 179.8a0.7 0.7 0 1 0 1.5 0a0.7 0.7 0 1 0 -1.5 0M323.0 177.9a1.1 1.1 0 1 0 2.3 0a1.1 1.1 0 1 0 -2.3 0M322.5 178.3a1.1 1.1 0 1 0 2.2 0a1.1 1.1 0 1 0 -2.2 0M322.2 177.0a1.1 1.1 0 1 0 2.3 0a1.1 1.1 0 1 0 -2.3 0M328.5 178.4a1.2 1.2 0 1 0 2.3 0a1.2 1.2 0 1 0 -2.3 0M324.1 175.1a1.1 1.1 0 1 0 2.2 0a1.1 1.1 0 1 0 -2.2 0M325.5 179.6a1.2 1.2 0 1 0 2.3 0a1.2 1.2 0 1 0 -2.3 0M324.9 176.9a0.9 0.9 0 1 0 1.8 0a0.9 0.9 0 1 0 -1.8 0M324.4 175.8a1.0 1.0 0 1 0 2.0 0a1.0 1.0 0 1 0 -2.0 0M333.1 152.6a1.1 1.1 0 1 0 2.3 0a1.1 1.1 0 1 0 -2.3 0M337.9 152.1a0.8 0.8 0 1 0 1.6 0a0.8 0.8 0 1 0 -1.6 0M337.7 154.5a0.9 0.9 0 1 0 1.7 0a0.9 0.9 0 1 0 -1.7 0M338.5 153.8a0.8 0.8 0 1 0 1.6 0a0.8 0.8 0 1 0 -1.6 0M336.6 148.8a1.0 1.0 0 1 0 2.0 0a1.0 1.0 0 1 0 -2.0 0M337.6 154.1a1.2 1.2 0 1 0 2.4 0a1.2 1.2 0 1 0 -2.4 0M338.1 153.6a0.9 0.9 0 1 0 1.9 0a0.9 0.9 0 1 0 -1.9 0M338.1 152.5a1.0 1.0 0 1 0 2.0 0a1.0 1.0 0 1 0 -2.0 0M334.2 150.0a0.8 0.8 0 1 0 1.7 0a0.8 0.8 0 1 0 -1.7 0M335.2 154.4a0.7 0.7 0 1 0 1.4 0a0.7 0.7 0 1 0 -1.4 0M337.4 152.1a1.0 1.0 0 1 0 2.0 0a1.0 1.0 0 1 0 -2.0 0M335.5 156.7a1.1 1.1 0 1 0 2.2 0a1.1 1.1 0 1 0 -2.2 0M334.1 151.5a0.9 0.9 0 1 0 1.8 0a0.9 0.9 0 1 0 -1.8 0M336.2 148.2a0.9 0.9 0 1 0 1.8 0a0.9 0.9 0 1 0 -1.8 0M335.7 156.7a0.8 0.8 0 1 0 1.5 0a0.8 0.8 0 1 0 -1.5 0M337.5 155.9a0.8 0.8 0 1 0 1.7 0a0.8 0.8 0 1 0 -1.7 0M333.4 152.9a0.8 0.8 0 1 0 1.6 0a0.8 0.8 0 1 0 -1.6 0M337.1 154.7a1.0 1.0 0 1 0 2.1 0a1.0 1.0 0 1 0 -2.1 0M357.3 188.2a0.8 0.8 0 1 0 1.6 0a0.8 0.8 0 1 0 -1.6 0M358.0 190.2a1.0 1.0 0 1 0 2.0 0a1.0 1.0 0 1 0 -2.0 0M357.9 192.7a0.9 0.9 0 1 0 1.9 0a0.9 0.9 0 1 0 -1.9 0M354.1 190.1a0.8 0.8 0 1 0 1.6 0a0.8 0.8 0 1 0 -1.6 0M353.3 190.4a1.2 1.2 0 1 0 2.3 0a1.2 1.2 0 1 0 -2.3 0M355.7 186.5a0.7 0.7 0 1 0 1.4 0a0.7 0.7 0 1 0 -1.4 0M353.6 188.2a0.7 0.7 0 1 0 1.5 0a0.7 0.7 0 1 0 -1.5 0M354.7 191.6a1.0 1.0 0 1 0 2.0 0a1.0 1.0 0 1 0 -2.0 0M354.6 187.4a0.8 0.8 0 1 0 1.7 0a0.8 0.8 0 1 0 -1.7 0M357.6 188.1a0.9 0.9 0 1 0 1.8 0a0.9 0.9 0 1 0 -1.8 0M358.1 189.9a0.8 0.8 0 1 0 1.7 0a0.8 0.8 0 1 0 -1.7 0M355.4 194.3a0.7 0.7 0 1 0 1.4 0a0.7 0.7 0 1 0 -1.4 0M353.5 187.9a0.7 0.7 0 1 0 1.5 0a0.7 0.7 0 1 0 -1.5 0M357.5 192.4a1.0 1.0 0 1 0 2.0 0a1.0 1.0 0 1 0 -2.0 0M353.2 191.4a1.0 1.0 0 1 0 2.1 0a1.0 1.0 0 1 0 -2.1 0M353.6 191.3a1.1 1.1 0 1 0 2.1 0a1.1 1.1 0 1 0 -2.1 0M353.1 191.0a0.9 0.9 0 1 0 1.8 0a0.9 0.9 0 1 0 -1.8 0M354.7 193.1a0.7 0.7 0 1 0 1.5 0a0.7 0.7 0 1 0 -1.5 0M355.5 192.3a1.1 1.1 0 1 0 2.3 0a1.1 1.1 0 1 0 -2.3 0M351.9 186.2a1.2 1.2 0 1 0 2.4 0a1.2 1.2 0 1 0 -2.4 0M357.1 187.8a1.1 1.1 0 1 0 2.3 0a1.1 1.1 0 1 0 -2.3 0M386.2 206.8a0.9 0.9 0 1 0 1.9 0a0.9 0.9 0 1 0 -1.9 0M381.5 200.1a1.0 1.0 0 1 0 2.1 0a1.0 1.0 0 1 0 -2.1 0M386.1 205.0a0.9 0.9 0 1 0 1.7 0a0.9 0.9 0 1 0 -1.7 0M385.8 206.6a1.1 1.1 0 1 0 2.3 0a1.1 1.1 0 1 0 -2.3 0M382.0 200.5a0.8 0.8 0 1 0 1.6 0a0.8 0.8 0 1 0 -1.6 0M385.1 201.2a1.2 1.2 0 1 0 2.3 0a1.2 1.2 0 1 0 -2.3 0M381.6 198.4a0.7 0.7 0 1 0 1.4 0a0.7 0.7 0 1 0 -1.4 0M383.3 200.8a1.0 1.0 0 1 0 1.9 0a1.0 1.0 0 1 0 -1.9 0M380.9 202.3a1.2 1.2 0 1 0 2.3 0a1.2 1.2 0 1 0 -2.3 0M385.8 200.7a0.8 0.8 0 1 0 1.7 0a0.8 0.8 0 1 0 -1.7 0M384.2 199.0a1.1 1.1 0 1 0 2.1 0a1.1 1.1 0 1 0 -2.1 0M382.0 200.8a0.8 0.8 0 1 0 1.5 0a0.8 0.8 0 1 0 -1.5 0M383.2 204.5a1.0 1.0 0 1 0 2.0 0a1.0 1.0 0 1 0 -2.0 0M383.1 202.2a1.1 1.1 0 1 0 2.2 0a1.1 1.1 0 1 0 -2.2 0M383.8 200.6a0.9 0.9 0 1 0 1.9 0a0.9 0.9 0 1 0 -1.9 0M384.4 203.2a0.8 0.8 0 1 0 1.6 0a0.8 0.8 0 1 0 -1.6 0M381.3 198.0a0.9 0.9 0 1 0 1.9 0a0.9 0.9 0 1 0 -1.9 0M385.1 207.4a1.0 1.0 0 1 0 2.0 0a1.0 1.0 0 1 0 -2.0 0M400.1 192.6a1.1 1.1 0 1 0 2.2 0a1.1 1.1 0 1 0 -2.2 0M398.5 187.0a1.1 1.1 0 1 0 2.3 0a1.1 1.1 0 1 0 -2.3 0M397.3 192.0a0.9 0.9 0 1 0 1.8 0a0.9 0.9 0 1 0 -1.8 0M394.3 187.5a0.8 0.8 0 1 0 1.6 0a0.8 0.8 0 1 0 -1.6 0M402.4 188.6a0.9 0.9 0 1 0 1.8 0a0.9 0.9 0 1 0 -1.8 0M398.7 192.0a1.0 1.0 0 1 0 1.9 0a1.0 1.0 0 1 0 -1.9 0M396.0 190.6a1.2 1.2 0 1 0 2.3 0a1.2 1.2 0 1 0 -2.3 0M396.3 191.3a1.0 1.0 0 1 0 2.0 0a1.0 1.0 0 1 0 -2.0 0M400.4 190.3a0.9 0.9 0 1 0 1.8 0a0.9 0.9 0 1 0 -1.8 0M399.0 187.7a1.2 1.2 0 1 0 2.3 0a1.2 1.2 0 1 0 -2.3 0M395.2 186.7a1.2 1.2 0 1 0 2.3 0a1.2 1.2 0 1 0 -2.3 0M394.4 184.9a1.1 1.1 0 1 0 2.2 0a1.1 1.1 0 1 0 -2.2 0M395.4 184.6a1.2 1.2 0 1 0 2.3 0a1.2 1.2 0 1 0 -2.3 0M398.2 188.0a1.0 1.0 0 1 0 2.0 0a1.0 1.0 0 1 0 -2.0 0M395.0 189.8a0.9 0.9 0 1 0 1.9 0a0.9 0.9 0 1 0 -1.9 0M396.1 184.5a1.0 1.0 0 1 0 1.9 0a1.0 1.0 0 1 0 -1.9 0M397.9 188.9a1.2 1.2 0 1 0 2.4 0a1.2 1.2 0 1 0 -2.4 0M394.8 189.2a1.1 1.1 0 1 0 2.2 0a1.1 1.1 0 1 0 -2.2 0M401.3 189.7a1.1 1.1 0 1 0 2.1 0a1.1 1.1 0 1 0 -2.1 0M398.6 189.0a0.9 0.9 0 1 0 1.9 0a0.9 0.9 0 1 0 -1.9 0M399.5 188.8a1.2 1.2 0 1 0 2.4 0a1.2 1.2 0 1 0 -2.4 0M398.2 187.7a0.8 0.8 0 1 0 1.6 0a0.8 0.8 0 1 0 -1.6 0M396.1 191.1a1.2 1.2 0 1 0 2.4 0a1.2 1.2 0 1 0 -2.4 0M399.0 185.0a0.8 0.8 0 1 0 1.6 0a0.8 0.8 0 1 0 -1.6 0M381.3 179.9a1.1 1.1 0 1 0 2.1 0a1.1 1.1 0 1 0 -2.1 0M385.1 182.9a0.9 0.9 0 1 0 1.7 0a0.9 0.9 0 1 0 -1.7 0M387.0 181.7a0.9 0.9 0 1 0 1.8 0a0.9 0.9 0 1 0 -1.8 0M387.7 182.8a1.1 1.1 0 1 0 2.2 0a1.1 1.1 0 1 0 -2.2 0M385.6 183.9a1.1 1.1 0 1 0 2.2 0a1.1 1.1 0 1 0 -2.2 0M386.5 180.6a0.9 0.9 0 1 0 1.9 0a0.9 0.9 0 1 0 -1.9 0M384.7 181.5a1.1 1.1 0 1 0 2.2 0a1.1 1.1 0 1 0 -2.2 0M383.4 183.8a0.9 0.9 0 1 0 1.9 0a0.9 0.9 0 1 0 -1.9 0M384.1 182.0a1.1 1.1 0 1 0 2.3 0a1.1 1.1 0 1 0 -2.3 0M380.6 181.3a0.8 0.8 0 1 0 1.6 0a0.8 0.8 0 1 0 -1.6 0M382.3 184.2a1.0 1.0 0 1 0 1.9 0a1.0 1.0 0 1 0 -1.9 0M383.2 185.8a1.1 1.1 0 1 0 2.1 0a1.1 1.1 0 1 0 -2.1 0M385.3 184.7a0.9 0.9 0 1 0 1.8 0a0.9 0.9 0 1 0 -1.8 0M385.1 183.1a1.0 1.0 0 1 0 2.0 0a1.0 1.0 0 1 0 -2.0 0M386.2 181.3a1.1 1.1 0 1 0 2.1 0a1.1 1.1 0 1 0 -2.1 0M385.8 181.4a1.1 1.1 0 1 0 2.1 0a1.1 1.1 0 1 0 -2.1 0M384.7 180.6a0.9 0.9 0 1 0 1.9 0a0.9 0.9 0 1 0 -1.9 0M385.6 186.8a0.8 0.8 0 1 0 1.6 0a0.8 0.8 0 1 0 -1.6 0M383.5 181.0a1.2 1.2 0 1 0 2.4 0a1.2 1.2 0 1 0 -2.4 0M384.8 185.4a0.8 0.8 0 1 0 1.6 0a0.8 0.8 0 1 0 -1.6 0M383.8 179.7a1.0 1.0 0 1 0 2.0 0a1.0 1.0 0 1 0 -2.0 0M380.9 178.5a0.9 0.9 0 1 0 1.9 0a0.9 0.9 0 1 0 -1.9 0M382.7 179.5a0.8 0.8 0 1 0 1.6 0a0.8 0.8 0 1 0 -1.6 0M385.3 183.9a1.1 1.1 0 1 0 2.1 0a1.1 1.1 0 1 0 -2.1 0M385.5 185.6a0.9 0.9 0 1 0 1.7 0a0.9 0.9 0 1 0 -1.7 0M384.2 182.3a0.9 0.9 0 1 0 1.9 0a0.9 0.9 0 1 0 -1.9 0M376.1 198.1a1.1 1.1 0 1 0 2.3 0a1.1 1.1 0 1 0 -2.3 0M373.5 193.8a1.1 1.1 0 1 0 2.2 0a1.1 1.1 0 1 0 -2.2 0M378.8 195.8a0.8 0.8 0 1 0 1.6 0a0.8 0.8 0 1 0 -1.6 0M375.6 195.5a0.8 0.8 0 1 0 1.6 0a0.8 0.8 0 1 0 -1.6 0M379.2 195.3a1.0 1.0 0 1 0 2.0 0a1.0 1.0 0 1 0 -2.0 0M373.9 193.9a0.9 0.9 0 1 0 1.8 0a0.9 0.9 0 1 0 -1.8 0M378.8 198.9a1.0 1.0 0 1 0 2.1 0a1.0 1.0 0 1 0 -2.1 0M378.5 195.1a1.0 1.0 0 1 0 2.0 0a1.0 1.0 0 1 0 -2.0 0M374.0 195.8a0.7 0.7 0 1 0 1.4 0a0.7 0.7 0 1 0 -1.4 0M376.5 198.2a0.9 0.9 0 1 0 1.8 0a0.9 0.9 0 1 0 -1.8 0M375.5 193.9a1.1 1.1 0 1 0 2.2 0a1.1 1.1 0 1 0 -2.2 0M373.9 196.5a1.0 1.0 0 1 0 2.0 0a1.0 1.0 0 1 0 -2.0 0M373.7 195.9a0.9 0.9 0 1 0 1.9 0a0.9 0.9 0 1 0 -1.9 0M379.0 198.7a0.9 0.9 0 1 0 1.9 0a0.9 0.9 0 1 0 -1.9 0M377.9 197.3a0.8 0.8 0 1 0 1.6 0a0.8 0.8 0 1 0 -1.6 0M377.5 199.0a1.0 1.0 0 1 0 2.0 0a1.0 1.0 0 1 0 -2.0 0M376.4 192.3a0.9 0.9 0 1 0 1.9 0a0.9 0.9 0 1 0 -1.9 0M377.1 199.3a1.1 1.1 0 1 0 2.3 0a1.1 1.1 0 1 0 -2.3 0M377.6 196.0a0.8 0.8 0 1 0 1.5 0a0.8 0.8 0 1 0 -1.5 0M378.0 195.5a1.0 1.0 0 1 0 2.0 0a1.0 1.0 0 1 0 -2.0 0M375.3 194.7a0.8 0.8 0 1 0 1.6 0a0.8 0.8 0 1 0 -1.6 0M360.1 133.6a0.7 0.7 0 1 0 1.4 0a0.7 0.7 0 1 0 -1.4 0M360.9 131.9a0.9 0.9 0 1 0 1.7 0a0.9 0.9 0 1 0 -1.7 0M357.8 135.3a0.9 0.9 0 1 0 1.8 0a0.9 0.9 0 1 0 -1.8 0M358.7 129.1a1.0 1.0 0 1 0 1.9 0a1.0 1.0 0 1 0 -1.9 0M357.9 135.0a0.9 0.9 0 1 0 1.9 0a0.9 0.9 0 1 0 -1.9 0M356.1 129.0a0.8 0.8 0 1 0 1.6 0a0.8 0.8 0 1 0 -1.6 0M356.9 134.1a0.8 0.8 0 1 0 1.5 0a0.8 0.8 0 1 0 -1.5 0M359.0 132.6a1.0 1.0 0 1 0 2.1 0a1.0 1.0 0 1 0 -2.1 0M358.8 130.7a1.0 1.0 0 1 0 1.9 0a1.0 1.0 0 1 0 -1.9 0M360.1 129.3a0.9 0.9 0 1 0 1.7 0a0.9 0.9 0 1 0 -1.7 0M362.1 132.4a1.1 1.1 0 1 0 2.1 0a1.1 1.1 0 1 0 -2.1 0M358.9 132.2a1.0 1.0 0 1 0 1.9 0a1.0 1.0 0 1 0 -1.9 0M357.7 131.4a0.9 0.9 0 1 0 1.8 0a0.9 0.9 0 1 0 -1.8 0M360.0 130.7a1.0 1.0 0 1 0 1.9 0a1.0 1.0 0 1 0 -1.9 0M358.4 129.3a1.0 1.0 0 1 0 2.0 0a1.0 1.0 0 1 0 -2.0 0M359.2 134.4a0.8 0.8 0 1 0 1.6 0a0.8 0.8 0 1 0 -1.6 0M358.4 130.2a0.9 0.9 0 1 0 1.8 0a0.9 0.9 0 1 0 -1.8 0M357.5 129.0a1.0 1.0 0 1 0 2.0 0a1.0 1.0 0 1 0 -2.0 0M359.6 130.5a1.0 1.0 0 1 0 2.1 0a1.0 1.0 0 1 0 -2.1 0M360.0 129.5a1.2 1.2 0 1 0 2.4 0a1.2 1.2 0 1 0 -2.4 0M357.5 129.5a1.0 1.0 0 1 0 2.0 0a1.0 1.0 0 1 0 -2.0 0M360.9 132.5a1.0 1.0 0 1 0 2.0 0a1.0 1.0 0 1 0 -2.0 0M355.9 132.7a0.8 0.8 0 1 0 1.5 0a0.8 0.8 0 1 0 -1.5 0M360.2 133.6a1.2 1.2 0 1 0 2.4 0a1.2 1.2 0 1 0 -2.4 0M360.2 129.3a1.1 1.1 0 1 0 2.3 0a1.1 1.1 0 1 0 -2.3 0M356.8 130.0a1.0 1.0 0 1 0 2.1 0a1.0 1.0 0 1 0 -2.1 0M377.2 174.3a0.9 0.9 0 1 0 1.9 0a0.9 0.9 0 1 0 -1.9 0M372.8 171.4a1.0 1.0 0 1 0 2.0 0a1.0 1.0 0 1 0 -2.0 0M375.3 171.6a0.9 0.9 0 1 0 1.8 0a0.9 0.9 0 1 0 -1.8 0M377.4 171.2a0.9 0.9 0 1 0 1.9 0a0.9 0.9 0 1 0 -1.9 0M377.2 171.6a0.8 0.8 0 1 0 1.6 0a0.8 0.8 0 1 0 -1.6 0M376.6 171.6a0.8 0.8 0 1 0 1.6 0a0.8 0.8 0 1 0 -1.6 0M374.9 171.9a1.0 1.0 0 1 0 1.9 0a1.0 1.0 0 1 0 -1.9 0M380.2 171.9a1.1 1.1 0 1 0 2.2 0a1.1 1.1 0 1 0 -2.2 0M378.7 172.9a1.0 1.0 0 1 0 2.1 0a1.0 1.0 0 1 0 -2.1 0M375.7 172.4a1.0 1.0 0 1 0 2.0 0a1.0 1.0 0 1 0 -2.0 0M375.3 170.0a1.1 1.1 0 1 0 2.1 0a1.1 1.1 0 1 0 -2.1 0M380.2 171.3a1.1 1.1 0 1 0 2.2 0a1.1 1.1 0 1 0 -2.2 0M380.4 172.9a0.7 0.7 0 1 0 1.4 0a0.7 0.7 0 1 0 -1.4 0M372.6 172.3a0.8 0.8 0 1 0 1.7 0a0.8 0.8 0 1 0 -1.7 0M375.2 172.7a0.9 0.9 0 1 0 1.8 0a0.9 0.9 0 1 0 -1.8 0M376.9 174.6a0.8 0.8 0 1 0 1.5 0a0.8 0.8 0 1 0 -1.5 0M379.5 173.8a0.7 0.7 0 1 0 1.4 0a0.7 0.7 0 1 0 -1.4 0M379.5 171.1a0.9 0.9 0 1 0 1.8 0a0.9 0.9 0 1 0 -1.8 0M376.1 174.9a0.9 0.9 0 1 0 1.8 0a0.9 0.9 0 1 0 -1.8 0M375.3 174.8a1.0 1.0 0 1 0 2.0 0a1.0 1.0 0 1 0 -2.0 0M372.0 173.4a1.1 1.1 0 1 0 2.3 0a1.1 1.1 0 1 0 -2.3 0M375.8 171.5a0.9 0.9 0 1 0 1.7 0a0.9 0.9 0 1 0 -1.7 0M328.7 147.9a0.9 0.9 0 1 0 1.8 0a0.9 0.9 0 1 0 -1.8 0M327.9 148.0a0.7 0.7 0 1 0 1.5 0a0.7 0.7 0 1 0 -1.5 0M324.8 149.6a1.1 1.1 0 1 0 2.1 0a1.1 1.1 0 1 0 -2.1 0M329.6 151.0a0.7 0.7 0 1 0 1.4 0a0.7 0.7 0 1 0 -1.4 0M327.4 147.2a1.1 1.1 0 1 0 2.2 0a1.1 1.1 0 1 0 -2.2 0M329.5 153.6a0.9 0.9 0 1 0 1.9 0a0.9 0.9 0 1 0 -1.9 0M325.9 145.4a0.7 0.7 0 1 0 1.5 0a0.7 0.7 0 1 0 -1.5 0M327.2 151.2a1.0 1.0 0 1 0 1.9 0a1.0 1.0 0 1 0 -1.9 0M326.2 145.0a1.2 1.2 0 1 0 2.3 0a1.2 1.2 0 1 0 -2.3 0M328.2 149.5a0.8 0.8 0 1 0 1.6 0a0.8 0.8 0 1 0 -1.6 0M326.8 148.0a1.2 1.2 0 1 0 2.4 0a1.2 1.2 0 1 0 -2.4 0M326.6 153.9a0.8 0.8 0 1 0 1.7 0a0.8 0.8 0 1 0 -1.7 0M327.3 147.1a0.8 0.8 0 1 0 1.6 0a0.8 0.8 0 1 0 -1.6 0M327.8 151.2a0.8 0.8 0 1 0 1.6 0a0.8 0.8 0 1 0 -1.6 0M329.2 154.3a1.0 1.0 0 1 0 1.9 0a1.0 1.0 0 1 0 -1.9 0M326.2 146.4a0.7 0.7 0 1 0 1.5 0a0.7 0.7 0 1 0 -1.5 0M327.8 149.3a1.1 1.1 0 1 0 2.2 0a1.1 1.1 0 1 0 -2.2 0M329.2 154.0a0.7 0.7 0 1 0 1.4 0a0.7 0.7 0 1 0 -1.4 0M330.5 153.3a0.8 0.8 0 1 0 1.6 0a0.8 0.8 0 1 0 -1.6 0M395.2 159.4a1.0 1.0 0 1 0 1.9 0a1.0 1.0 0 1 0 -1.9 0M399.2 158.4a1.2 1.2 0 1 0 2.3 0a1.2 1.2 0 1 0 -2.3 0M400.3 157.8a1.1 1.1 0 1 0 2.2 0a1.1 1.1 0 1 0 -2.2 0M395.6 157.1a0.7 0.7 0 1 0 1.5 0a0.7 0.7 0 1 0 -1.5 0M396.7 163.9a1.2 1.2 0 1 0 2.3 0a1.2 1.2 0 1 0 -2.3 0M399.1 155.4a0.9 0.9 0 1 0 1.9 0a0.9 0.9 0 1 0 -1.9 0M395.9 159.2a0.8 0.8 0 1 0 1.5 0a0.8 0.8 0 1 0 -1.5 0M400.0 162.8a0.8 0.8 0 1 0 1.7 0a0.8 0.8 0 1 0 -1.7 0M398.8 157.0a1.0 1.0 0 1 0 2.0 0a1.0 1.0 0 1 0 -2.0 0M401.8 161.7a0.7 0.7 0 1 0 1.4 0a0.7 0.7 0 1 0 -1.4 0M398.0 162.7a0.8 0.8 0 1 0 1.6 0a0.8 0.8 0 1 0 -1.6 0M398.5 160.1a0.9 0.9 0 1 0 1.8 0a0.9 0.9 0 1 0 -1.8 0M400.0 160.5a0.9 0.9 0 1 0 1.9 0a0.9 0.9 0 1 0 -1.9 0M396.4 159.4a0.9 0.9 0 1 0 1.9 0a0.9 0.9 0 1 0 -1.9 0M396.0 158.9a1.2 1.2 0 1 0 2.4 0a1.2 1.2 0 1 0 -2.4 0M397.5 159.6a0.9 0.9 0 1 0 1.7 0a0.9 0.9 0 1 0 -1.7 0M400.9 161.4a0.9 0.9 0 1 0 1.8 0a0.9 0.9 0 1 0 -1.8 0M397.4 157.5a0.8 0.8 0 1 0 1.6 0a0.8 0.8 0 1 0 -1.6 0M399.8 162.1a1.2 1.2 0 1 0 2.4 0a1.2 1.2 0 1 0 -2.4 0M395.1 158.8a0.9 0.9 0 1 0 1.8 0a0.9 0.9 0 1 0 -1.8 0M397.0 161.4a0.7 0.7 0 1 0 1.5 0a0.7 0.7 0 1 0 -1.5 0M401.0 159.4a0.8 0.8 0 1 0 1.5 0a0.8 0.8 0 1 0 -1.5 0M395.2 161.5a0.8 0.8 0 1 0 1.6 0a0.8 0.8 0 1 0 -1.6 0M321.0 159.4a1.0 1.0 0 1 0 2.0 0a1.0 1.0 0 1 0 -2.0 0M322.9 160.7a0.9 0.9 0 1 0 1.7 0a0.9 0.9 0 1 0 -1.7 0M323.0 158.8a1.0 1.0 0 1 0 2.0 0a1.0 1.0 0 1 0 -2.0 0M323.3 160.6a1.0 1.0 0 1 0 2.0 0a1.0 1.0 0 1 0 -2.0 0M323.2 163.4a0.9 0.9 0 1 0 1.8 0a0.9 0.9 0 1 0 -1.8 0M319.5 163.6a1.0 1.0 0 1 0 2.1 0a1.0 1.0 0 1 0 -2.1 0M322.7 156.8a1.1 1.1 0 1 0 2.2 0a1.1 1.1 0 1 0 -2.2 0M322.3 158.1a1.0 1.0 0 1 0 2.0 0a1.0 1.0 0 1 0 -2.0 0M319.2 160.3a0.8 0.8 0 1 0 1.6 0a0.8 0.8 0 1 0 -1.6 0M320.6 165.5a0.8 0.8 0 1 0 1.6 0a0.8 0.8 0 1 0 -1.6 0M322.4 166.1a1.1 1.1 0 1 0 2.1 0a1.1 1.1 0 1 0 -2.1 0M320.0 162.4a1.0 1.0 0 1 0 2.0 0a1.0 1.0 0 1 0 -2.0 0M320.7 165.1a1.0 1.0 0 1 0 2.1 0a1.0 1.0 0 1 0 -2.1 0M322.9 161.2a1.0 1.0 0 1 0 1.9 0a1.0 1.0 0 1 0 -1.9 0M320.4 162.1a1.1 1.1 0 1 0 2.3 0a1.1 1.1 0 1 0 -2.3 0M323.1 165.4a1.0 1.0 0 1 0 2.0 0a1.0 1.0 0 1 0 -2.0 0M321.3 157.1a0.8 0.8 0 1 0 1.6 0a0.8 0.8 0 1 0 -1.6 0M321.6 158.6a1.1 1.1 0 1 0 2.1 0a1.1 1.1 0 1 0 -2.1 0M323.9 157.7a0.8 0.8 0 1 0 1.6 0a0.8 0.8 0 1 0 -1.6 0M322.3 160.5a1.0 1.0 0 1 0 2.0 0a1.0 1.0 0 1 0 -2.0 0M319.6 161.7a1.2 1.2 0 1 0 2.4 0a1.2 1.2 0 1 0 -2.4 0M322.8 163.9a0.9 0.9 0 1 0 1.8 0a0.9 0.9 0 1 0 -1.8 0M373.1 123.3a0.8 0.8 0 1 0 1.6 0a0.8 0.8 0 1 0 -1.6 0M371.3 122.3a0.9 0.9 0 1 0 1.7 0a0.9 0.9 0 1 0 -1.7 0M369.4 119.8a0.8 0.8 0 1 0 1.6 0a0.8 0.8 0 1 0 -1.6 0M370.9 121.3a0.8 0.8 0 1 0 1.7 0a0.8 0.8 0 1 0 -1.7 0M373.3 121.8a0.9 0.9 0 1 0 1.8 0a0.9 0.9 0 1 0 -1.8 0M376.1 122.3a0.9 0.9 0 1 0 1.7 0a0.9 0.9 0 1 0 -1.7 0M371.2 124.2a0.9 0.9 0 1 0 1.8 0a0.9 0.9 0 1 0 -1.8 0M376.9 122.5a0.8 0.8 0 1 0 1.5 0a0.8 0.8 0 1 0 -1.5 0M374.5 124.1a1.1 1.1 0 1 0 2.3 0a1.1 1.1 0 1 0 -2.3 0M371.5 122.3a0.8 0.8 0 1 0 1.6 0a0.8 0.8 0 1 0 -1.6 0M368.8 125.4a1.1 1.1 0 1 0 2.2 0a1.1 1.1 0 1 0 -2.2 0M371.1 119.9a0.9 0.9 0 1 0 1.9 0a0.9 0.9 0 1 0 -1.9 0M369.6 123.1a1.0 1.0 0 1 0 2.0 0a1.0 1.0 0 1 0 -2.0 0M371.3 122.5a1.2 1.2 0 1 0 2.3 0a1.2 1.2 0 1 0 -2.3 0M369.9 121.0a1.0 1.0 0 1 0 2.1 0a1.0 1.0 0 1 0 -2.1 0M374.0 124.2a1.1 1.1 0 1 0 2.2 0a1.1 1.1 0 1 0 -2.2 0M371.6 125.3a1.1 1.1 0 1 0 2.2 0a1.1 1.1 0 1 0 -2.2 0M369.0 124.1a1.1 1.1 0 1 0 2.2 0a1.1 1.1 0 1 0 -2.2 0M371.4 121.7a1.1 1.1 0 1 0 2.1 0a1.1 1.1 0 1 0 -2.1 0M370.8 125.1a1.0 1.0 0 1 0 1.9 0a1.0 1.0 0 1 0 -1.9 0M371.8 122.4a1.1 1.1 0 1 0 2.3 0a1.1 1.1 0 1 0 -2.3 0M369.8 124.0a0.8 0.8 0 1 0 1.6 0a0.8 0.8 0 1 0 -1.6 0M369.5 123.0a0.9 0.9 0 1 0 1.9 0a0.9 0.9 0 1 0 -1.9 0M371.0 120.4a1.0 1.0 0 1 0 2.1 0a1.0 1.0 0 1 0 -2.1 0M375.2 124.3a1.1 1.1 0 1 0 2.1 0a1.1 1.1 0 1 0 -2.1 0M324.6 168.2a1.2 1.2 0 1 0 2.3 0a1.2 1.2 0 1 0 -2.3 0M323.1 167.4a0.9 0.9 0 1 0 1.7 0a0.9 0.9 0 1 0 -1.7 0M325.1 168.1a1.0 1.0 0 1 0 2.0 0a1.0 1.0 0 1 0 -2.0 0M326.0 168.2a0.9 0.9 0 1 0 1.7 0a0.9 0.9 0 1 0 -1.7 0M322.9 170.6a1.0 1.0 0 1 0 1.9 0a1.0 1.0 0 1 0 -1.9 0M324.7 165.9a1.0 1.0 0 1 0 1.9 0a1.0 1.0 0 1 0 -1.9 0M323.9 169.5a1.1 1.1 0 1 0 2.2 0a1.1 1.1 0 1 0 -2.2 0M323.8 167.4a0.8 0.8 0 1 0 1.6 0a0.8 0.8 0 1 0 -1.6 0M323.5 170.6a0.9 0.9 0 1 0 1.7 0a0.9 0.9 0 1 0 -1.7 0M327.8 169.7a0.8 0.8 0 1 0 1.6 0a0.8 0.8 0 1 0 -1.6 0M325.3 169.8a0.9 0.9 0 1 0 1.7 0a0.9 0.9 0 1 0 -1.7 0M323.3 170.3a1.2 1.2 0 1 0 2.3 0a1.2 1.2 0 1 0 -2.3 0M329.6 167.4a0.8 0.8 0 1 0 1.5 0a0.8 0.8 0 1 0 -1.5 0M326.5 169.5a0.9 0.9 0 1 0 1.8 0a0.9 0.9 0 1 0 -1.8 0M327.3 166.9a1.2 1.2 0 1 0 2.3 0a1.2 1.2 0 1 0 -2.3 0M327.3 165.8a0.8 0.8 0 1 0 1.5 0a0.8 0.8 0 1 0 -1.5 0M325.6 165.3a1.0 1.0 0 1 0 2.0 0a1.0 1.0 0 1 0 -2.0 0M326.6 166.1a0.9 0.9 0 1 0 1.7 0a0.9 0.9 0 1 0 -1.7 0M329.1 165.5a0.8 0.8 0 1 0 1.6 0a0.8 0.8 0 1 0 -1.6 0M357.8 167.4a0.8 0.8 0 1 0 1.6 0a0.8 0.8 0 1 0 -1.6 0M362.1 166.1a1.2 1.2 0 1 0 2.4 0a1.2 1.2 0 1 0 -2.4 0M359.6 162.9a1.1 1.1 0 1 0 2.3 0a1.1 1.1 0 1 0 -2.3 0M363.6 165.6a1.2 1.2 0 1 0 2.3 0a1.2 1.2 0 1 0 -2.3 0M360.4 165.1a0.8 0.8 0 1 0 1.6 0a0.8 0.8 0 1 0 -1.6 0M359.7 166.4a0.9 0.9 0 1 0 1.7 0a0.9 0.9 0 1 0 -1.7 0M364.2 166.8a1.2 1.2 0 1 0 2.3 0a1.2 1.2 0 1 0 -2.3 0M357.6 164.1a1.0 1.0 0 1 0 1.9 0a1.0 1.0 0 1 0 -1.9 0M357.6 164.5a1.1 1.1 0 1 0 2.2 0a1.1 1.1 0 1 0 -2.2 0M354.8 163.1a0.9 0.9 0 1 0 1.9 0a0.9 0.9 0 1 0 -1.9 0M359.9 163.3a1.1 1.1 0 1 0 2.2 0a1.1 1.1 0 1 0 -2.2 0M362.3 168.4a1.0 1.0 0 1 0 2.0 0a1.0 1.0 0 1 0 -2.0 0M358.6 164.5a0.9 0.9 0 1 0 1.7 0a0.9 0.9 0 1 0 -1.7 0M360.4 163.8a1.2 1.2 0 1 0 2.4 0a1.2 1.2 0 1 0 -2.4 0M358.4 165.3a0.9 0.9 0 1 0 1.7 0a0.9 0.9 0 1 0 -1.7 0M362.2 168.5a0.7 0.7 0 1 0 1.4 0a0.7 0.7 0 1 0 -1.4 0M357.2 167.9a0.9 0.9 0 1 0 1.9 0a0.9 0.9 0 1 0 -1.9 0M362.6 164.4a0.9 0.9 0 1 0 1.7 0a0.9 0.9 0 1 0 -1.7 0M359.7 165.7a0.8 0.8 0 1 0 1.6 0a0.8 0.8 0 1 0 -1.6 0M359.6 164.9a1.0 1.0 0 1 0 1.9 0a1.0 1.0 0 1 0 -1.9 0M357.2 167.3a0.9 0.9 0 1 0 1.8 0a0.9 0.9 0 1 0 -1.8 0M393.6 197.0a0.8 0.8 0 1 0 1.6 0a0.8 0.8 0 1 0 -1.6 0M391.6 199.6a1.1 1.1 0 1 0 2.2 0a1.1 1.1 0 1 0 -2.2 0M394.0 199.1a0.9 0.9 0 1 0 1.9 0a0.9 0.9 0 1 0 -1.9 0M395.9 197.1a1.1 1.1 0 1 0 2.2 0a1.1 1.1 0 1 0 -2.2 0M393.5 195.4a1.2 1.2 0 1 0 2.4 0a1.2 1.2 0 1 0 -2.4 0M392.3 196.1a1.1 1.1 0 1 0 2.2 0a1.1 1.1 0 1 0 -2.2 0M393.9 195.6a0.7 0.7 0 1 0 1.5 0a0.7 0.7 0 1 0 -1.5 0M395.3 198.8a0.8 0.8 0 1 0 1.5 0a0.8 0.8 0 1 0 -1.5 0M394.3 200.2a0.9 0.9 0 1 0 1.8 0a0.9 0.9 0 1 0 -1.8 0M391.2 193.5a1.0 1.0 0 1 0 2.1 0a1.0 1.0 0 1 0 -2.1 0M392.1 196.1a0.8 0.8 0 1 0 1.7 0a0.8 0.8 0 1 0 -1.7 0M391.8 195.9a0.9 0.9 0 1 0 1.9 0a0.9 0.9 0 1 0 -1.9 0M394.1 194.5a1.0 1.0 0 1 0 2.1 0a1.0 1.0 0 1 0 -2.1 0M394.2 200.6a0.8 0.8 0 1 0 1.5 0a0.8 0.8 0 1 0 -1.5 0M394.0 192.4a1.0 1.0 0 1 0 2.1 0a1.0 1.0 0 1 0 -2.1 0M394.2 192.8a0.9 0.9 0 1 0 1.8 0a0.9 0.9 0 1 0 -1.8 0M391.8 194.5a0.9 0.9 0 1 0 1.9 0a0.9 0.9 0 1 0 -1.9 0M393.8 199.7a0.8 0.8 0 1 0 1.7 0a0.8 0.8 0 1 0 -1.7 0M394.4 190.8a0.9 0.9 0 1 0 1.7 0a0.9 0.9 0 1 0 -1.7 0M355.2 134.5a0.8 0.8 0 1 0 1.5 0a0.8 0.8 0 1 0 -1.5 0M348.2 135.9a1.2 1.2 0 1 0 2.3 0a1.2 1.2 0 1 0 -2.3 0M349.5 130.5a1.0 1.0 0 1 0 2.0 0a1.0 1.0 0 1 0 -2.0 0M351.1 130.1a1.1 1.1 0 1 0 2.2 0a1.1 1.1 0 1 0 -2.2 0M352.5 134.0a1.2 1.2 0 1 0 2.4 0a1.2 1.2 0 1 0 -2.4 0M350.9 135.5a0.9 0.9 0 1 0 1.8 0a0.9 0.9 0 1 0 -1.8 0M352.8 130.1a0.8 0.8 0 1 0 1.5 0a0.8 0.8 0 1 0 -1.5 0M352.1 137.2a0.8 0.8 0 1 0 1.6 0a0.8 0.8 0 1 0 -1.6 0M351.1 137.1a1.0 1.0 0 1 0 2.1 0a1.0 1.0 0 1 0 -2.1 0M351.1 137.5a1.0 1.0 0 1 0 2.0 0a1.0 1.0 0 1 0 -2.0 0M353.2 136.3a1.2 1.2 0 1 0 2.3 0a1.2 1.2 0 1 0 -2.3 0M353.9 134.6a0.9 0.9 0 1 0 1.9 0a0.9 0.9 0 1 0 -1.9 0M352.6 131.0a0.7 0.7 0 1 0 1.4 0a0.7 0.7 0 1 0 -1.4 0M348.3 135.6a1.1 1.1 0 1 0 2.1 0a1.1 1.1 0 1 0 -2.1 0M351.3 135.6a1.0 1.0 0 1 0 2.0 0a1.0 1.0 0 1 0 -2.0 0M352.0 133.9a0.8 0.8 0 1 0 1.6 0a0.8 0.8 0 1 0 -1.6 0M354.8 135.8a1.0 1.0 0 1 0 1.9 0a1.0 1.0 0 1 0 -1.9 0M351.8 134.9a0.9 0.9 0 1 0 1.7 0a0.9 0.9 0 1 0 -1.7 0M353.4 133.4a1.1 1.1 0 1 0 2.2 0a1.1 1.1 0 1 0 -2.2 0M320.1 202.7a1.0 1.0 0 1 0 2.1 0a1.0 1.0 0 1 0 -2.1 0M323.6 199.7a1.0 1.0 0 1 0 2.0 0a1.0 1.0 0 1 0 -2.0 0M317.7 202.7a1.0 1.0 0 1 0 2.0 0a1.0 1.0 0 1 0 -2.0 0M326.3 199.9a1.0 1.0 0 1 0 1.9 0a1.0 1.0 0 1 0 -1.9 0M322.2 202.5a1.1 1.1 0 1 0 2.1 0a1.1 1.1 0 1 0 -2.1 0M319.7 199.5a0.7 0.7 0 1 0 1.4 0a0.7 0.7 0 1 0 -1.4 0M323.0 199.3a1.0 1.0 0 1 0 2.1 0a1.0 1.0 0 1 0 -2.1 0M323.8 202.8a0.8 0.8 0 1 0 1.5 0a0.8 0.8 0 1 0 -1.5 0M323.9 202.3a1.2 1.2 0 1 0 2.3 0a1.2 1.2 0 1 0 -2.3 0M320.5 199.0a0.7 0.7 0 1 0 1.4 0a0.7 0.7 0 1 0 -1.4 0M321.8 199.3a0.7 0.7 0 1 0 1.4 0a0.7 0.7 0 1 0 -1.4 0M324.9 197.7a1.0 1.0 0 1 0 2.0 0a1.0 1.0 0 1 0 -2.0 0M320.4 198.3a0.7 0.7 0 1 0 1.4 0a0.7 0.7 0 1 0 -1.4 0M324.3 200.2a1.1 1.1 0 1 0 2.3 0a1.1 1.1 0 1 0 -2.3 0M323.0 197.8a0.8 0.8 0 1 0 1.7 0a0.8 0.8 0 1 0 -1.7 0M321.0 196.8a1.2 1.2 0 1 0 2.3 0a1.2 1.2 0 1 0 -2.3 0M323.3 198.8a0.8 0.8 0 1 0 1.7 0a0.8 0.8 0 1 0 -1.7 0M318.6 202.3a0.7 0.7 0 1 0 1.5 0a0.7 0.7 0 1 0 -1.5 0M365.5 181.6a1.1 1.1 0 1 0 2.2 0a1.1 1.1 0 1 0 -2.2 0M366.8 184.6a0.8 0.8 0 1 0 1.6 0a0.8 0.8 0 1 0 -1.6 0M360.0 184.2a0.9 0.9 0 1 0 1.7 0a0.9 0.9 0 1 0 -1.7 0M363.4 182.4a1.0 1.0 0 1 0 2.0 0a1.0 1.0 0 1 0 -2.0 0M364.8 184.1a1.1 1.1 0 1 0 2.2 0a1.1 1.1 0 1 0 -2.2 0M365.4 180.4a0.7 0.7 0 1 0 1.5 0a0.7 0.7 0 1 0 -1.5 0M359.3 180.5a0.9 0.9 0 1 0 1.9 0a0.9 0.9 0 1 0 -1.9 0M360.8 179.0a1.1 1.1 0 1 0 2.1 0a1.1 1.1 0 1 0 -2.1 0M360.3 180.0a0.8 0.8 0 1 0 1.6 0a0.8 0.8 0 1 0 -1.6 0M362.1 181.5a1.0 1.0 0 1 0 1.9 0a1.0 1.0 0 1 0 -1.9 0M363.2 181.9a0.9 0.9 0 1 0 1.7 0a0.9 0.9 0 1 0 -1.7 0M365.7 182.0a0.8 0.8 0 1 0 1.5 0a0.8 0.8 0 1 0 -1.5 0M361.6 185.1a1.0 1.0 0 1 0 2.0 0a1.0 1.0 0 1 0 -2.0 0M364.3 182.5a0.8 0.8 0 1 0 1.6 0a0.8 0.8 0 1 0 -1.6 0M363.8 186.5a0.7 0.7 0 1 0 1.5 0a0.7 0.7 0 1 0 -1.5 0M361.2 184.2a1.1 1.1 0 1 0 2.1 0a1.1 1.1 0 1 0 -2.1 0M366.4 183.6a0.9 0.9 0 1 0 1.7 0a0.9 0.9 0 1 0 -1.7 0M367.0 182.9a0.8 0.8 0 1 0 1.5 0a0.8 0.8 0 1 0 -1.5 0M364.5 184.2a0.9 0.9 0 1 0 1.8 0a0.9 0.9 0 1 0 -1.8 0M365.3 184.6a1.2 1.2 0 1 0 2.4 0a1.2 1.2 0 1 0 -2.4 0M363.2 183.2a1.0 1.0 0 1 0 2.0 0a1.0 1.0 0 1 0 -2.0 0M361.2 181.6a1.2 1.2 0 1 0 2.3 0a1.2 1.2 0 1 0 -2.3 0M365.4 181.8a1.2 1.2 0 1 0 2.3 0a1.2 1.2 0 1 0 -2.3 0M399.4 139.3a1.0 1.0 0 1 0 2.0 0a1.0 1.0 0 1 0 -2.0 0M400.7 140.3a1.0 1.0 0 1 0 1.9 0a1.0 1.0 0 1 0 -1.9 0M395.4 136.9a1.0 1.0 0 1 0 2.0 0a1.0 1.0 0 1 0 -2.0 0M394.9 140.1a1.0 1.0 0 1 0 1.9 0a1.0 1.0 0 1 0 -1.9 0M395.5 140.4a1.0 1.0 0 1 0 2.0 0a1.0 1.0 0 1 0 -2.0 0M396.6 137.7a1.1 1.1 0 1 0 2.1 0a1.1 1.1 0 1 0 -2.1 0M400.6 135.8a0.7 0.7 0 1 0 1.5 0a0.7 0.7 0 1 0 -1.5 0M397.9 140.1a1.1 1.1 0 1 0 2.2 0a1.1 1.1 0 1 0 -2.2 0M398.2 138.3a0.8 0.8 0 1 0 1.5 0a0.8 0.8 0 1 0 -1.5 0M397.8 139.0a0.9 0.9 0 1 0 1.7 0a0.9 0.9 0 1 0 -1.7 0M395.7 135.9a1.0 1.0 0 1 0 2.1 0a1.0 1.0 0 1 0 -2.1 0M401.0 140.9a0.8 0.8 0 1 0 1.6 0a0.8 0.8 0 1 0 -1.6 0M400.4 137.8a0.9 0.9 0 1 0 1.7 0a0.9 0.9 0 1 0 -1.7 0M395.1 136.6a0.9 0.9 0 1 0 1.9 0a0.9 0.9 0 1 0 -1.9 0M401.8 139.5a0.8 0.8 0 1 0 1.7 0a0.8 0.8 0 1 0 -1.7 0M401.2 140.2a0.9 0.9 0 1 0 1.8 0a0.9 0.9 0 1 0 -1.8 0M400.5 138.5a1.2 1.2 0 1 0 2.3 0a1.2 1.2 0 1 0 -2.3 0M398.2 137.0a0.9 0.9 0 1 0 1.7 0a0.9 0.9 0 1 0 -1.7 0M400.4 139.0a0.7 0.7 0 1 0 1.5 0a0.7 0.7 0 1 0 -1.5 0M400.0 139.2a0.9 0.9 0 1 0 1.8 0a0.9 0.9 0 1 0 -1.8 0M395.7 135.4a1.0 1.0 0 1 0 2.0 0a1.0 1.0 0 1 0 -2.0 0M399.5 135.9a1.0 1.0 0 1 0 2.1 0a1.0 1.0 0 1 0 -2.1 0M399.0 142.3a0.8 0.8 0 1 0 1.6 0a0.8 0.8 0 1 0 -1.6 0M396.7 140.5a0.8 0.8 0 1 0 1.5 0a0.8 0.8 0 1 0 -1.5 0M400.7 141.8a0.8 0.8 0 1 0 1.6 0a0.8 0.8 0 1 0 -1.6 0M352.2 143.9a1.0 1.0 0 1 0 1.9 0a1.0 1.0 0 1 0 -1.9 0M352.9 147.6a1.2 1.2 0 1 0 2.4 0a1.2 1.2 0 1 0 -2.4 0M353.2 145.5a0.9 0.9 0 1 0 1.7 0a0.9 0.9 0 1 0 -1.7 0M352.3 144.9a1.1 1.1 0 1 0 2.3 0a1.1 1.1 0 1 0 -2.3 0M351.3 145.4a0.9 0.9 0 1 0 1.7 0a0.9 0.9 0 1 0 -1.7 0M348.6 147.3a0.9 0.9 0 1 0 1.7 0a0.9 0.9 0 1 0 -1.7 0M350.3 143.9a1.0 1.0 0 1 0 2.0 0a1.0 1.0 0 1 0 -2.0 0M351.7 145.6a0.8 0.8 0 1 0 1.5 0a0.8 0.8 0 1 0 -1.5 0M352.2 144.8a0.7 0.7 0 1 0 1.4 0a0.7 0.7 0 1 0 -1.4 0M347.2 143.9a0.9 0.9 0 1 0 1.8 0a0.9 0.9 0 1 0 -1.8 0M349.4 143.4a0.8 0.8 0 1 0 1.6 0a0.8 0.8 0 1 0 -1.6 0M352.9 146.1a0.9 0.9 0 1 0 1.8 0a0.9 0.9 0 1 0 -1.8 0M353.8 150.6a0.8 0.8 0 1 0 1.7 0a0.8 0.8 0 1 0 -1.7 0M350.7 144.4a0.9 0.9 0 1 0 1.9 0a0.9 0.9 0 1 0 -1.9 0M353.0 148.1a0.9 0.9 0 1 0 1.7 0a0.9 0.9 0 1 0 -1.7 0M350.2 145.6a1.0 1.0 0 1 0 2.0 0a1.0 1.0 0 1 0 -2.0 0M353.9 145.5a0.9 0.9 0 1 0 1.7 0a0.9 0.9 0 1 0 -1.7 0M350.2 141.6a1.1 1.1 0 1 0 2.2 0a1.1 1.1 0 1 0 -2.2 0M350.5 145.2a0.7 0.7 0 1 0 1.4 0a0.7 0.7 0 1 0 -1.4 0M352.2 146.2a0.7 0.7 0 1 0 1.5 0a0.7 0.7 0 1 0 -1.5 0M349.9 146.3a1.0 1.0 0 1 0 2.0 0a1.0 1.0 0 1 0 -2.0 0M350.8 147.9a1.1 1.1 0 1 0 2.2 0a1.1 1.1 0 1 0 -2.2 0M353.4 144.7a0.8 0.8 0 1 0 1.7 0a0.8 0.8 0 1 0 -1.7 0M354.1 145.9a1.1 1.1 0 1 0 2.2 0a1.1 1.1 0 1 0 -2.2 0M351.6 143.6a0.7 0.7 0 1 0 1.5 0a0.7 0.7 0 1 0 -1.5 0M333.4 183.4a0.8 0.8 0 1 0 1.6 0a0.8 0.8 0 1 0 -1.6 0M330.2 185.2a1.1 1.1 0 1 0 2.2 0a1.1 1.1 0 1 0 -2.2 0M335.7 184.9a1.0 1.0 0 1 0 2.1 0a1.0 1.0 0 1 0 -2.1 0M333.6 183.2a1.1 1.1 0 1 0 2.2 0a1.1 1.1 0 1 0 -2.2 0M330.1 181.6a0.9 0.9 0 1 0 1.7 0a0.9 0.9 0 1 0 -1.7 0M336.3 184.6a0.8 0.8 0 1 0 1.6 0a0.8 0.8 0 1 0 -1.6 0M333.4 179.6a1.1 1.1 0 1 0 2.2 0a1.1 1.1 0 1 0 -2.2 0M333.8 186.0a1.0 1.0 0 1 0 2.1 0a1.0 1.0 0 1 0 -2.1 0M332.9 183.1a1.1 1.1 0 1 0 2.2 0a1.1 1.1 0 1 0 -2.2 0M334.8 185.0a0.9 0.9 0 1 0 1.8 0a0.9 0.9 0 1 0 -1.8 0M331.7 186.1a1.2 1.2 0 1 0 2.4 0a1.2 1.2 0 1 0 -2.4 0M330.9 182.1a0.8 0.8 0 1 0 1.6 0a0.8 0.8 0 1 0 -1.6 0M332.5 179.8a1.0 1.0 0 1 0 1.9 0a1.0 1.0 0 1 0 -1.9 0M333.6 183.3a1.1 1.1 0 1 0 2.2 0a1.1 1.1 0 1 0 -2.2 0M334.5 179.5a1.0 1.0 0 1 0 2.1 0a1.0 1.0 0 1 0 -2.1 0M335.0 183.0a1.1 1.1 0 1 0 2.2 0a1.1 1.1 0 1 0 -2.2 0M334.8 184.8a0.7 0.7 0 1 0 1.5 0a0.7 0.7 0 1 0 -1.5 0M331.2 182.3a0.9 0.9 0 1 0 1.8 0a0.9 0.9 0 1 0 -1.8 0M332.9 182.6a0.9 0.9 0 1 0 1.7 0a0.9 0.9 0 1 0 -1.7 0M332.2 183.3a0.9 0.9 0 1 0 1.7 0a0.9 0.9 0 1 0 -1.7 0M334.9 182.0a0.9 0.9 0 1 0 1.9 0a0.9 0.9 0 1 0 -1.9 0M331.2 180.9a0.7 0.7 0 1 0 1.4 0a0.7 0.7 0 1 0 -1.4 0"/>
<g><path d="M118.9 281.1L123.5 284.1M123.5 284.1L123.2 291.5M123.2 291.5L116.7 294.5M116.7 294.5L115.3 301.4M115.3 301.4L108.6 304.8M108.6 304.8L105.1 306.8M105.1 306.8L98.4 310.7M98.4 310.7L100.6 317.0M100.6 317.0L93.7 321.8M123.2 291.5L129.7 294.9M129.7 294.9L134.3 294.2M134.3 294.2L140.4 296.3M140.4 296.3L142.8 303.2M142.8 303.2L139.2 306.6M142.8 303.2L149.9 303.9M149.9 303.9L150.8 310.3M150.8 310.3L158.9 311.6M158.9 311.6L167.0 306.2M158.9 311.6L159.8 317.9M159.8 317.9L167.0 318.2M167.0 318.2L170.6 317.0M107.4 335.8L130.7 315.4" stroke="#5a5a5a" stroke-width="1.3" fill="none"/><path d="M111.3 308.0L123.9 317.9M94.3 324.2L101.5 341.2M131.1 315.2L138.3 308.0M114.9 309.8L123.0 317.0" stroke="#c4c4c4" stroke-width="0.6" fill="none"/><circle cx="117.6" cy="277.5" r="1.2" fill="#d8d8d8" stroke="#8c8c8c" stroke-width="0.4"/><circle cx="121.6" cy="278.4" r="1.2" fill="#d8d8d8" stroke="#8c8c8c" stroke-width="0.4"/><circle cx="126.6" cy="282.0" r="1.2" fill="#d8d8d8" stroke="#8c8c8c" stroke-width="0.4"/><circle cx="113.1" cy="291.9" r="1.2" fill="#d8d8d8" stroke="#8c8c8c" stroke-width="0.4"/><circle cx="118.5" cy="304.4" r="1.2" fill="#d8d8d8" stroke="#8c8c8c" stroke-width="0.4"/><circle cx="113.1" cy="298.1" r="1.2" fill="#d8d8d8" stroke="#8c8c8c" stroke-width="0.4"/><circle cx="128.4" cy="298.5" r="1.2" fill="#d8d8d8" stroke="#8c8c8c" stroke-width="0.4"/><circle cx="133.8" cy="291.0" r="1.2" fill="#d8d8d8" stroke="#8c8c8c" stroke-width="0.4"/><circle cx="131.4" cy="299.9" r="1.2" fill="#d8d8d8" stroke="#8c8c8c" stroke-width="0.4"/><circle cx="142.9" cy="293.5" r="1.2" fill="#d8d8d8" stroke="#8c8c8c" stroke-width="0.4"/><circle cx="148.1" cy="313.4" r="1.2" fill="#d8d8d8" stroke="#8c8c8c" stroke-width="0.4"/><circle cx="152.1" cy="299.9" r="1.2" fill="#d8d8d8" stroke="#8c8c8c" stroke-width="0.4"/><circle cx="147.2" cy="307.1" r="1.2" fill="#d8d8d8" stroke="#8c8c8c" stroke-width="0.4"/><circle cx="169.9" cy="305.0" r="1.2" fill="#d8d8d8" stroke="#8c8c8c" stroke-width="0.4"/><circle cx="165.2" cy="302.1" r="1.2" fill="#d8d8d8" stroke="#8c8c8c" stroke-width="0.4"/><circle cx="169.1" cy="308.9" r="1.2" fill="#d8d8d8" stroke="#8c8c8c" stroke-width="0.4"/><circle cx="171.7" cy="320.8" r="1.2" fill="#d8d8d8" stroke="#8c8c8c" stroke-width="0.4"/><circle cx="158.0" cy="321.5" r="1.2" fill="#d8d8d8" stroke="#8c8c8c" stroke-width="0.4"/><circle cx="164.3" cy="321.5" r="1.2" fill="#d8d8d8" stroke="#8c8c8c" stroke-width="0.4"/><circle cx="96.1" cy="308.2" r="1.2" fill="#d8d8d8" stroke="#8c8c8c" stroke-width="0.4"/><circle cx="103.8" cy="317.9" r="1.2" fill="#d8d8d8" stroke="#8c8c8c" stroke-width="0.4"/><circle cx="90.7" cy="321.1" r="1.2" fill="#d8d8d8" stroke="#8c8c8c" stroke-width="0.4"/><circle cx="95.2" cy="325.4" r="1.2" fill="#d8d8d8" stroke="#8c8c8c" stroke-width="0.4"/><circle cx="101.5" cy="341.2" r="1.2" fill="#d8d8d8" stroke="#8c8c8c" stroke-width="0.4"/><circle cx="105.1" cy="338.7" r="1.2" fill="#d8d8d8" stroke="#8c8c8c" stroke-width="0.4"/><circle cx="135.0" cy="311.6" r="1.2" fill="#d8d8d8" stroke="#8c8c8c" stroke-width="0.4"/><circle cx="126.6" cy="291.9" r="1.2" fill="#d8d8d8" stroke="#8c8c8c" stroke-width="0.4"/><circle cx="153.5" cy="313.9" r="1.2" fill="#d8d8d8" stroke="#8c8c8c" stroke-width="0.4"/><circle cx="118.9" cy="281.1" r="2.15" fill="#262626"/><circle cx="123.5" cy="284.1" r="2.15" fill="#262626"/><circle cx="116.7" cy="294.5" r="2.15" fill="#262626"/><circle cx="115.3" cy="301.4" r="2.15" fill="#262626"/><circle cx="98.4" cy="310.7" r="2.15" fill="#262626"/><circle cx="100.6" cy="317.0" r="2.15" fill="#262626"/><circle cx="129.7" cy="294.9" r="2.15" fill="#262626"/><circle cx="134.3" cy="294.2" r="2.15" fill="#262626"/><circle cx="142.8" cy="303.2" r="2.15" fill="#262626"/><circle cx="149.9" cy="303.9" r="2.15" fill="#262626"/><circle cx="150.8" cy="310.3" r="2.15" fill="#262626"/><circle cx="167.0" cy="306.2" r="2.15" fill="#262626"/><circle cx="159.8" cy="317.9" r="2.15" fill="#262626"/><circle cx="167.0" cy="318.2" r="2.15" fill="#262626"/><circle cx="170.6" cy="317.0" r="2.15" fill="#262626"/><ellipse cx="107.7" cy="335.5" rx="2.9" ry="2" transform="rotate(-42 107.7 335.5)" fill="#2e2e2e"/><ellipse cx="111.0" cy="332.6" rx="2.9" ry="2" transform="rotate(-42 111.0 332.6)" fill="#2e2e2e"/><ellipse cx="115.8" cy="328.7" rx="2.9" ry="2" transform="rotate(-42 115.8 328.7)" fill="#2e2e2e"/><ellipse cx="120.3" cy="324.3" rx="2.9" ry="2" transform="rotate(-42 120.3 324.3)" fill="#2e2e2e"/><ellipse cx="124.8" cy="320.0" rx="2.9" ry="2" transform="rotate(-42 124.8 320.0)" fill="#2e2e2e"/><ellipse cx="130.2" cy="315.7" rx="2.9" ry="2" transform="rotate(-42 130.2 315.7)" fill="#2e2e2e"/><circle cx="123.2" cy="291.5" r="1.95" fill="#1a22e0"/><circle cx="105.1" cy="306.8" r="1.95" fill="#1a22e0"/><circle cx="93.7" cy="321.8" r="1.95" fill="#1a22e0"/><circle cx="140.4" cy="296.3" r="1.95" fill="#1a22e0"/><circle cx="158.9" cy="311.6" r="1.95" fill="#1a22e0"/><circle cx="108.6" cy="304.8" r="2.15" fill="#e01010"/><circle cx="139.2" cy="306.6" r="2.15" fill="#e01010"/></g>
<g fill="none" stroke="#000" stroke-width="2.2">
<rect x="87.1" y="119.7" width="89" height="78.3"/>
<rect x="87.1" y="272" width="88" height="71.9"/>
<path d="M240 189.7 H180.5 V278.1 H269.4 V204"/>
<rect x="240" y="121.4" width="160.8" height="82.3"/>
</g>
<g fill="none" stroke="#15226c" stroke-width="1.9">
<path d="M131.8 271 V200.8"/><path d="M127.9 205.2 L131.8 200.2 L135.7 205.2"/>
<path d="M74 308.5 H86.6"/><path d="M81 304.9 L87 308.5 L81 312.1"/>
<path d="M176 308.5 H224.5 V280.3"/><path d="M220.6 285 L224.5 280 L228.4 285"/>
<path d="M270.4 233.1 H321.3 V206"/><path d="M317.4 210.6 L321.3 205.6 L325.2 210.6"/>
</g>
<g transform="translate(353.6 274) rotate(-46.8)">
<polygon points="-127.3,0.3 -110.8,-16.2 -110.8,-7.3 0.2,-7.3 0.2,8.9 -110.8,8.9 -110.8,16.6" fill="#ff0000"/>
<polygon points="127.3,0.3 110.8,-16.2 110.8,-7.3 0,-7.3 0,8.9 110.8,8.9 110.8,16.6" fill="#0b70c0"/>
<g font-size="10.6" font-weight="bold" fill="#fff" stroke="#fff" stroke-width="0.15" text-anchor="middle">
<text x="-60.5" y="4.9">Atomistic Behaviors</text>
<text x="57.5" y="4.9">Physical Properties</text>
</g></g>
<text transform="translate(104.76 63.20) scale(0.975 1)" font-size="13.04" font-weight="bold" fill="#15226c" stroke="#15226c" stroke-width="0.3">(b)</text>
<text transform="translate(105.52 81.00) scale(0.923 1)" font-size="13.04" font-weight="bold" fill="#15226c" stroke="#15226c" stroke-width="0.3">Fragment</text>
<text transform="translate(105.50 97.70) scale(0.941 1)" font-size="13.04" font-weight="bold" fill="#15226c" stroke="#15226c" stroke-width="0.3">Molecular</text>
<text transform="translate(105.80 114.10) scale(0.958 1)" font-size="13.04" font-weight="bold" fill="#15226c" stroke="#15226c" stroke-width="0.3">Orbital</text>
<text transform="translate(256.25 80.10) scale(1.001 1)" font-size="13.04" font-weight="bold" fill="#15226c" stroke="#15226c" stroke-width="0.3">(d)</text>
<text transform="translate(257.93 97.70) scale(0.912 1)" font-size="13.04" font-weight="bold" fill="#15226c" stroke="#15226c" stroke-width="0.3">Mesoscale</text>
<text transform="translate(258.35 114.50) scale(0.907 1)" font-size="13.04" font-weight="bold" fill="#15226c" stroke="#15226c" stroke-width="0.3">Simulations</text>
<text transform="translate(18.95 286.60) scale(0.995 1)" font-size="13.04" font-weight="bold" fill="#15226c" stroke="#15226c" stroke-width="0.3">(a)</text>
<text transform="translate(19.60 304.90) scale(0.920 1)" font-size="13.04" font-weight="bold" fill="#15226c" stroke="#15226c" stroke-width="0.3">Ab initio</text>
<text transform="translate(19.12 321.50) scale(0.917 1)" font-size="13.04" font-weight="bold" fill="#15226c" stroke="#15226c" stroke-width="0.3">Level</text>
<text transform="translate(229.22 291.30) scale(0.886 1)" font-size="13.04" font-weight="bold" fill="#15226c" stroke="#15226c" stroke-width="0.3">(c)</text>
<text transform="translate(230.50 309.20) scale(0.925 1)" font-size="13.04" font-weight="bold" fill="#15226c" stroke="#15226c" stroke-width="0.3">All-Atom</text>
<text transform="translate(230.44 324.90) scale(0.920 1)" font-size="13.04" font-weight="bold" fill="#15226c" stroke="#15226c" stroke-width="0.3">Simulation</text>
<text transform="translate(23.81 57.30) scale(0.984 1)" font-size="15.79" font-weight="bold" fill="#15226c" stroke="#15226c" stroke-width="0.3">Atoms</text>
<text transform="translate(463.09 28.40) scale(1.061 1)" font-size="16.11" font-weight="bold" fill="#15226c" stroke="#15226c" stroke-width="0.3">L/m</text>
<text transform="translate(480.95 369.10) scale(0.978 1)" font-size="15.69" font-weight="bold" fill="#15226c" stroke="#15226c" stroke-width="0.3">T/sec</text>
<text transform="translate(3.08 28.70) scale(1.012 1)" font-size="12.08" fill="#111" stroke="#111" stroke-width="0.22">1 mole</text>
<text transform="translate(43.36 29.60) scale(1.013 1)" font-size="13.36" fill="#111" stroke="#111" stroke-width="0.22">≈</text>
<text transform="translate(53.93 28.70) scale(0.960 1)" font-size="12.08" fill="#111" stroke="#111" stroke-width="0.22">10</text>
<text transform="translate(67.32 24.90) scale(1.137 1)" font-size="8.37" fill="#111" stroke="#111" stroke-width="0.22">24</text>
<text transform="translate(54.74 123.10) scale(0.951 1)" font-size="13.46" fill="#111" stroke="#111" stroke-width="0.22">10</text>
<text transform="translate(68.92 118.80) scale(0.965 1)" font-size="8.69" fill="#111" stroke="#111" stroke-width="0.22">9</text>
<text transform="translate(54.74 204.60) scale(0.951 1)" font-size="13.46" fill="#111" stroke="#111" stroke-width="0.22">10</text>
<text transform="translate(68.88 200.30) scale(0.965 1)" font-size="8.69" fill="#111" stroke="#111" stroke-width="0.22">6</text>
<text transform="translate(54.74 265.60) scale(0.951 1)" font-size="13.46" fill="#111" stroke="#111" stroke-width="0.22">10</text>
<text transform="translate(68.97 261.30) scale(0.945 1)" font-size="8.69" fill="#111" stroke="#111" stroke-width="0.22">3</text>
<text transform="translate(116.87 360.20) scale(0.921 1)" font-size="13.46" fill="#111" stroke="#111" stroke-width="0.22">10</text>
<text transform="translate(130.90 356.70) scale(1.027 1)" font-size="8.59" fill="#111" stroke="#111" stroke-width="0.22">-15</text>
<text transform="translate(224.37 360.20) scale(0.921 1)" font-size="13.46" fill="#111" stroke="#111" stroke-width="0.22">10</text>
<text transform="translate(238.39 356.70) scale(1.064 1)" font-size="8.59" fill="#111" stroke="#111" stroke-width="0.22">-11</text>
<text transform="translate(324.37 360.20) scale(0.921 1)" font-size="13.46" fill="#111" stroke="#111" stroke-width="0.22">10</text>
<text transform="translate(338.44 356.70) scale(0.937 1)" font-size="8.59" fill="#111" stroke="#111" stroke-width="0.22">-7</text>
<text transform="translate(463.37 76.00) scale(0.851 1)" font-size="13.04" fill="#111" stroke="#111" stroke-width="0.22">10</text>
<text transform="translate(476.82 72.40) scale(1.021 1)" font-size="8.27" fill="#111" stroke="#111" stroke-width="0.22">-5</text>
<text transform="translate(463.37 158.00) scale(0.851 1)" font-size="13.04" fill="#111" stroke="#111" stroke-width="0.22">10</text>
<text transform="translate(476.82 154.40) scale(1.034 1)" font-size="8.27" fill="#111" stroke="#111" stroke-width="0.22">-7</text>
<text transform="translate(463.37 256.70) scale(0.851 1)" font-size="13.04" fill="#111" stroke="#111" stroke-width="0.22">10</text>
<text transform="translate(476.82 253.10) scale(1.028 1)" font-size="8.27" fill="#111" stroke="#111" stroke-width="0.22">-9</text>
<text transform="translate(495.63 68.00) scale(1.001 1)" font-size="16.43" fill="#111" stroke="#111" stroke-width="0.22">meso</text>
<text transform="translate(495.59 134.80) scale(1.012 1)" font-size="16.85" fill="#111" stroke="#111" stroke-width="0.22">micro</text>
<text transform="translate(495.62 255.30) scale(1.013 1)" font-size="16.43" fill="#111" stroke="#111" stroke-width="0.22">nano</text>
<text transform="translate(113.13 384.80) scale(1.034 1)" font-size="17.17" fill="#111" stroke="#111" stroke-width="0.22">femto</text>
<text transform="translate(186.89 384.80) scale(1.005 1)" font-size="16.96" fill="#111" stroke="#111" stroke-width="0.22">pico</text>
<text transform="translate(267.72 384.70) scale(1.013 1)" font-size="16.43" fill="#111" stroke="#111" stroke-width="0.22">nano</text>
<text transform="translate(376.70 384.80) scale(0.998 1)" font-size="16.96" fill="#111" stroke="#111" stroke-width="0.22">micro</text>
</g>
</svg>
</body></html>
